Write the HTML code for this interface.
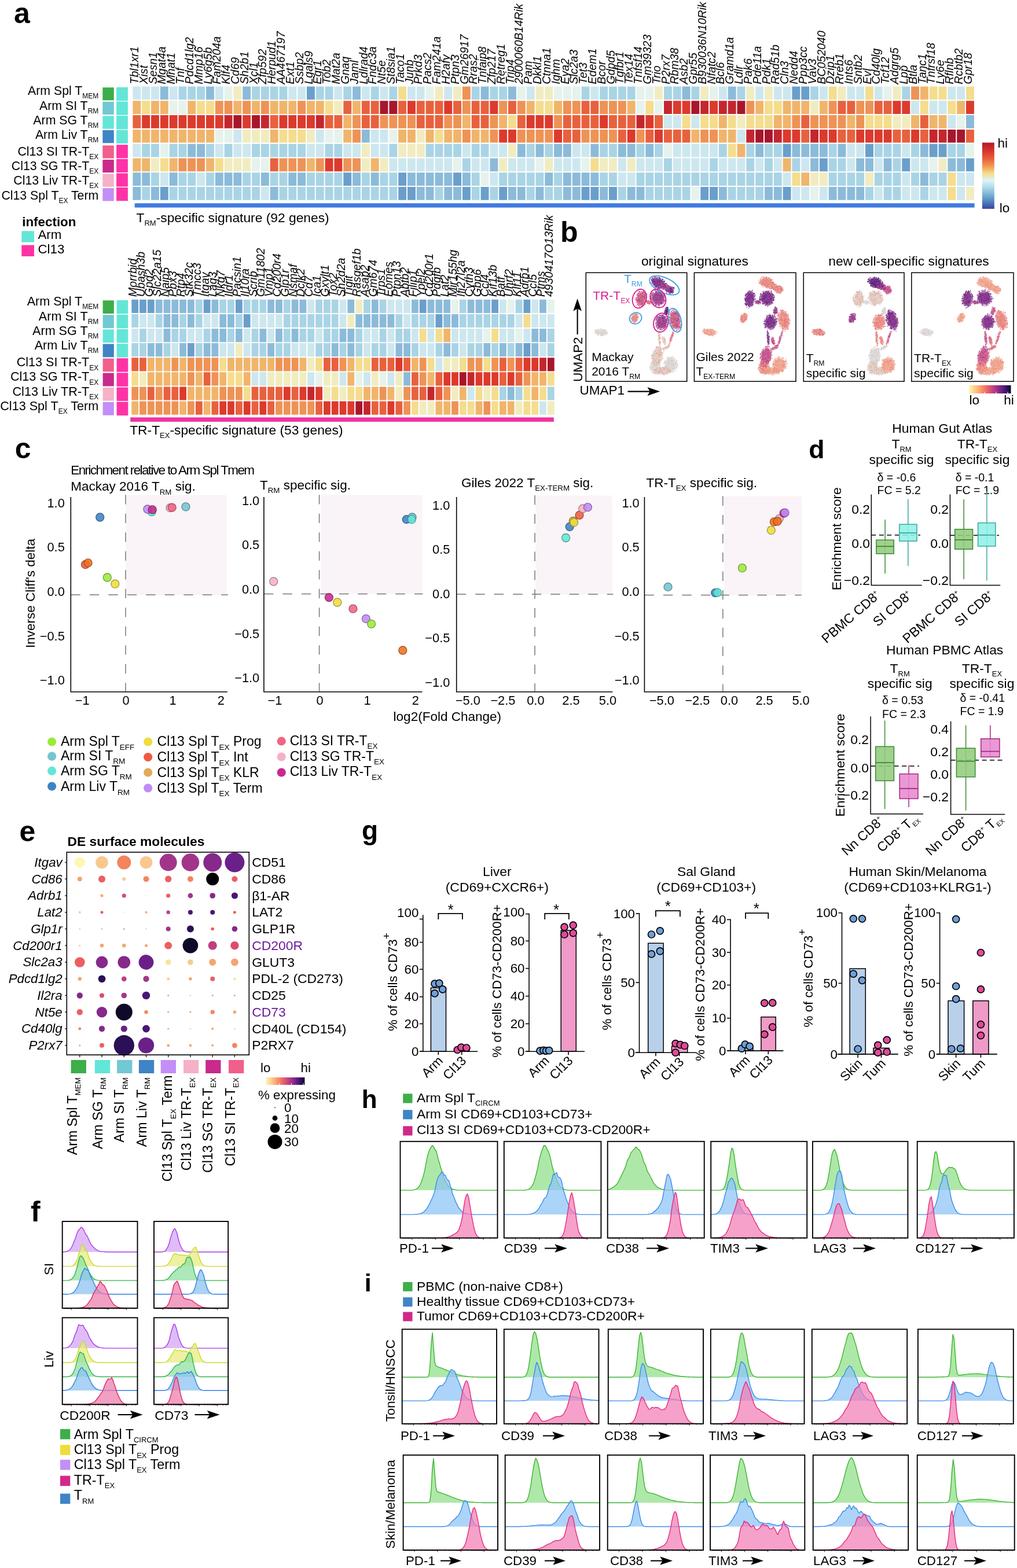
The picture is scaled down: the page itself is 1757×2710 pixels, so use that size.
<!DOCTYPE html>
<html lang="en"><head><meta charset="utf-8"><title>Figure</title>
<style>
html,body{margin:0;padding:0;background:#fff}
body{width:1757px;height:2710px;overflow:hidden}
svg{display:block;font-family:"Liberation Sans",sans-serif;font-size:21px;fill:#000}
</style></head><body>
<svg width="1757" height="2710" viewBox="0 0 1757 2710">
<g id="pa">
<text x="23.9" y="40.4" font-size="50" font-weight="bold">a</text>
<path fill="#6A9FCB" d="M530 149.5h13.9v22.7h-13.9zM1368.4 149.5h13.9v22.7h-13.9zM1384.3 149.5h13.9v22.7h-13.9zM1352.6 248.7h13.9v22.7h-13.9zM1495 248.7h13.9v22.7h-13.9zM1605.7 248.7h13.9v22.7h-13.9zM1621.6 248.7h13.9v22.7h-13.9zM1415.9 273.5h13.9v22.7h-13.9zM1558.3 273.5h13.9v22.7h-13.9zM1669 273.5h13.9v22.7h-13.9zM593.3 298.3h13.9v22.7h-13.9zM688.2 298.3h13.9v22.7h-13.9zM783.1 298.3h13.9v22.7h-13.9zM276.9 323.1h13.9v22.7h-13.9zM688.2 323.1h13.9v22.7h-13.9zM704 323.1h13.9v22.7h-13.9zM798.9 323.1h13.9v22.7h-13.9zM830.6 323.1h13.9v22.7h-13.9zM862.2 323.1h13.9v22.7h-13.9zM1004.6 323.1h13.9v22.7h-13.9zM1020.4 323.1h13.9v22.7h-13.9zM1052 323.1h13.9v22.7h-13.9zM1210.2 323.1h13.9v22.7h-13.9zM1226.1 323.1h13.9v22.7h-13.9zM1352.6 323.1h13.9v22.7h-13.9z"/>
<path fill="#8BBBD9" d="M276.9 149.5h13.9v22.7h-13.9zM356 149.5h13.9v22.7h-13.9zM419.2 149.5h13.9v22.7h-13.9zM609.1 149.5h13.9v22.7h-13.9zM830.6 149.5h13.9v22.7h-13.9zM878 149.5h13.9v22.7h-13.9zM1178.6 149.5h13.9v22.7h-13.9zM1257.7 149.5h13.9v22.7h-13.9zM1669 199.1h13.9v22.7h-13.9zM624.9 223.9h13.9v22.7h-13.9zM324.3 248.7h13.9v22.7h-13.9zM340.1 248.7h13.9v22.7h-13.9zM893.8 248.7h13.9v22.7h-13.9zM925.5 248.7h13.9v22.7h-13.9zM957.1 248.7h13.9v22.7h-13.9zM972.9 248.7h13.9v22.7h-13.9zM1020.4 248.7h13.9v22.7h-13.9zM1067.9 248.7h13.9v22.7h-13.9zM1083.7 248.7h13.9v22.7h-13.9zM1115.3 248.7h13.9v22.7h-13.9zM1305.2 248.7h13.9v22.7h-13.9zM1368.4 248.7h13.9v22.7h-13.9zM1384.3 248.7h13.9v22.7h-13.9zM1400.1 248.7h13.9v22.7h-13.9zM1415.9 248.7h13.9v22.7h-13.9zM1447.5 248.7h13.9v22.7h-13.9zM1589.9 248.7h13.9v22.7h-13.9zM846.4 273.5h13.9v22.7h-13.9zM1400.1 273.5h13.9v22.7h-13.9zM1479.2 273.5h13.9v22.7h-13.9zM1495 273.5h13.9v22.7h-13.9zM1526.6 273.5h13.9v22.7h-13.9zM1637.4 273.5h13.9v22.7h-13.9zM1653.2 273.5h13.9v22.7h-13.9zM229.4 298.3h13.9v22.7h-13.9zM245.2 298.3h13.9v22.7h-13.9zM292.7 298.3h13.9v22.7h-13.9zM371.8 298.3h13.9v22.7h-13.9zM387.6 298.3h13.9v22.7h-13.9zM403.4 298.3h13.9v22.7h-13.9zM450.9 298.3h13.9v22.7h-13.9zM498.3 298.3h13.9v22.7h-13.9zM514.2 298.3h13.9v22.7h-13.9zM609.1 298.3h13.9v22.7h-13.9zM640.7 298.3h13.9v22.7h-13.9zM704 298.3h13.9v22.7h-13.9zM719.8 298.3h13.9v22.7h-13.9zM735.6 298.3h13.9v22.7h-13.9zM751.5 298.3h13.9v22.7h-13.9zM767.3 298.3h13.9v22.7h-13.9zM798.9 298.3h13.9v22.7h-13.9zM941.3 298.3h13.9v22.7h-13.9zM972.9 298.3h13.9v22.7h-13.9zM988.8 298.3h13.9v22.7h-13.9zM1004.6 298.3h13.9v22.7h-13.9zM1020.4 298.3h13.9v22.7h-13.9zM1589.9 298.3h13.9v22.7h-13.9zM229.4 323.1h13.9v22.7h-13.9zM261 323.1h13.9v22.7h-13.9zM466.7 323.1h13.9v22.7h-13.9zM719.8 323.1h13.9v22.7h-13.9zM735.6 323.1h13.9v22.7h-13.9zM767.3 323.1h13.9v22.7h-13.9zM783.1 323.1h13.9v22.7h-13.9zM878 323.1h13.9v22.7h-13.9zM893.8 323.1h13.9v22.7h-13.9zM925.5 323.1h13.9v22.7h-13.9zM972.9 323.1h13.9v22.7h-13.9zM988.8 323.1h13.9v22.7h-13.9zM1036.2 323.1h13.9v22.7h-13.9zM1083.7 323.1h13.9v22.7h-13.9zM1099.5 323.1h13.9v22.7h-13.9zM1241.9 323.1h13.9v22.7h-13.9zM1321 323.1h13.9v22.7h-13.9zM1336.8 323.1h13.9v22.7h-13.9zM1431.7 323.1h13.9v22.7h-13.9zM1447.5 323.1h13.9v22.7h-13.9zM1463.4 323.1h13.9v22.7h-13.9zM1479.2 323.1h13.9v22.7h-13.9z"/>
<path fill="#A9D4E5" d="M308.5 149.5h13.9v22.7h-13.9zM324.3 149.5h13.9v22.7h-13.9zM340.1 149.5h13.9v22.7h-13.9zM435.1 149.5h13.9v22.7h-13.9zM450.9 149.5h13.9v22.7h-13.9zM466.7 149.5h13.9v22.7h-13.9zM482.5 149.5h13.9v22.7h-13.9zM545.8 149.5h13.9v22.7h-13.9zM561.6 149.5h13.9v22.7h-13.9zM593.3 149.5h13.9v22.7h-13.9zM640.7 149.5h13.9v22.7h-13.9zM672.4 149.5h13.9v22.7h-13.9zM814.7 149.5h13.9v22.7h-13.9zM846.4 149.5h13.9v22.7h-13.9zM862.2 149.5h13.9v22.7h-13.9zM1004.6 149.5h13.9v22.7h-13.9zM1036.2 149.5h13.9v22.7h-13.9zM1052 149.5h13.9v22.7h-13.9zM1067.9 149.5h13.9v22.7h-13.9zM1083.7 149.5h13.9v22.7h-13.9zM1147 149.5h13.9v22.7h-13.9zM1162.8 149.5h13.9v22.7h-13.9zM1194.4 149.5h13.9v22.7h-13.9zM1273.5 149.5h13.9v22.7h-13.9zM1400.1 149.5h13.9v22.7h-13.9zM1558.3 149.5h13.9v22.7h-13.9zM245.2 248.7h13.9v22.7h-13.9zM261 248.7h13.9v22.7h-13.9zM292.7 248.7h13.9v22.7h-13.9zM308.5 248.7h13.9v22.7h-13.9zM356 248.7h13.9v22.7h-13.9zM387.6 248.7h13.9v22.7h-13.9zM435.1 248.7h13.9v22.7h-13.9zM450.9 248.7h13.9v22.7h-13.9zM466.7 248.7h13.9v22.7h-13.9zM482.5 248.7h13.9v22.7h-13.9zM498.3 248.7h13.9v22.7h-13.9zM514.2 248.7h13.9v22.7h-13.9zM561.6 248.7h13.9v22.7h-13.9zM577.4 248.7h13.9v22.7h-13.9zM672.4 248.7h13.9v22.7h-13.9zM735.6 248.7h13.9v22.7h-13.9zM751.5 248.7h13.9v22.7h-13.9zM767.3 248.7h13.9v22.7h-13.9zM783.1 248.7h13.9v22.7h-13.9zM814.7 248.7h13.9v22.7h-13.9zM830.6 248.7h13.9v22.7h-13.9zM909.7 248.7h13.9v22.7h-13.9zM941.3 248.7h13.9v22.7h-13.9zM1036.2 248.7h13.9v22.7h-13.9zM1052 248.7h13.9v22.7h-13.9zM1099.5 248.7h13.9v22.7h-13.9zM1131.1 248.7h13.9v22.7h-13.9zM1241.9 248.7h13.9v22.7h-13.9zM1289.3 248.7h13.9v22.7h-13.9zM1321 248.7h13.9v22.7h-13.9zM1336.8 248.7h13.9v22.7h-13.9zM1431.7 248.7h13.9v22.7h-13.9zM1510.8 248.7h13.9v22.7h-13.9zM1526.6 248.7h13.9v22.7h-13.9zM1542.5 248.7h13.9v22.7h-13.9zM1574.1 248.7h13.9v22.7h-13.9zM1637.4 248.7h13.9v22.7h-13.9zM1653.2 248.7h13.9v22.7h-13.9zM798.9 273.5h13.9v22.7h-13.9zM1147 273.5h13.9v22.7h-13.9zM1226.1 273.5h13.9v22.7h-13.9zM1289.3 273.5h13.9v22.7h-13.9zM1321 273.5h13.9v22.7h-13.9zM1368.4 273.5h13.9v22.7h-13.9zM1431.7 273.5h13.9v22.7h-13.9zM1447.5 273.5h13.9v22.7h-13.9zM1542.5 273.5h13.9v22.7h-13.9zM261 298.3h13.9v22.7h-13.9zM308.5 298.3h13.9v22.7h-13.9zM324.3 298.3h13.9v22.7h-13.9zM356 298.3h13.9v22.7h-13.9zM419.2 298.3h13.9v22.7h-13.9zM435.1 298.3h13.9v22.7h-13.9zM466.7 298.3h13.9v22.7h-13.9zM482.5 298.3h13.9v22.7h-13.9zM530 298.3h13.9v22.7h-13.9zM545.8 298.3h13.9v22.7h-13.9zM561.6 298.3h13.9v22.7h-13.9zM577.4 298.3h13.9v22.7h-13.9zM624.9 298.3h13.9v22.7h-13.9zM656.5 298.3h13.9v22.7h-13.9zM672.4 298.3h13.9v22.7h-13.9zM814.7 298.3h13.9v22.7h-13.9zM862.2 298.3h13.9v22.7h-13.9zM878 298.3h13.9v22.7h-13.9zM893.8 298.3h13.9v22.7h-13.9zM909.7 298.3h13.9v22.7h-13.9zM925.5 298.3h13.9v22.7h-13.9zM957.1 298.3h13.9v22.7h-13.9zM1036.2 298.3h13.9v22.7h-13.9zM1052 298.3h13.9v22.7h-13.9zM1099.5 298.3h13.9v22.7h-13.9zM1115.3 298.3h13.9v22.7h-13.9zM1131.1 298.3h13.9v22.7h-13.9zM1147 298.3h13.9v22.7h-13.9zM1162.8 298.3h13.9v22.7h-13.9zM1178.6 298.3h13.9v22.7h-13.9zM1194.4 298.3h13.9v22.7h-13.9zM1210.2 298.3h13.9v22.7h-13.9zM1226.1 298.3h13.9v22.7h-13.9zM1241.9 298.3h13.9v22.7h-13.9zM1257.7 298.3h13.9v22.7h-13.9zM1273.5 298.3h13.9v22.7h-13.9zM1289.3 298.3h13.9v22.7h-13.9zM1305.2 298.3h13.9v22.7h-13.9zM1321 298.3h13.9v22.7h-13.9zM1336.8 298.3h13.9v22.7h-13.9zM1431.7 298.3h13.9v22.7h-13.9zM1447.5 298.3h13.9v22.7h-13.9zM1463.4 298.3h13.9v22.7h-13.9zM1479.2 298.3h13.9v22.7h-13.9zM1510.8 298.3h13.9v22.7h-13.9zM1526.6 298.3h13.9v22.7h-13.9zM1542.5 298.3h13.9v22.7h-13.9zM1574.1 298.3h13.9v22.7h-13.9zM1605.7 298.3h13.9v22.7h-13.9zM1621.6 298.3h13.9v22.7h-13.9zM245.2 323.1h13.9v22.7h-13.9zM292.7 323.1h13.9v22.7h-13.9zM308.5 323.1h13.9v22.7h-13.9zM324.3 323.1h13.9v22.7h-13.9zM340.1 323.1h13.9v22.7h-13.9zM356 323.1h13.9v22.7h-13.9zM371.8 323.1h13.9v22.7h-13.9zM387.6 323.1h13.9v22.7h-13.9zM403.4 323.1h13.9v22.7h-13.9zM419.2 323.1h13.9v22.7h-13.9zM435.1 323.1h13.9v22.7h-13.9zM482.5 323.1h13.9v22.7h-13.9zM498.3 323.1h13.9v22.7h-13.9zM514.2 323.1h13.9v22.7h-13.9zM530 323.1h13.9v22.7h-13.9zM545.8 323.1h13.9v22.7h-13.9zM561.6 323.1h13.9v22.7h-13.9zM577.4 323.1h13.9v22.7h-13.9zM593.3 323.1h13.9v22.7h-13.9zM609.1 323.1h13.9v22.7h-13.9zM624.9 323.1h13.9v22.7h-13.9zM640.7 323.1h13.9v22.7h-13.9zM656.5 323.1h13.9v22.7h-13.9zM672.4 323.1h13.9v22.7h-13.9zM751.5 323.1h13.9v22.7h-13.9zM814.7 323.1h13.9v22.7h-13.9zM846.4 323.1h13.9v22.7h-13.9zM909.7 323.1h13.9v22.7h-13.9zM941.3 323.1h13.9v22.7h-13.9zM957.1 323.1h13.9v22.7h-13.9zM1067.9 323.1h13.9v22.7h-13.9zM1115.3 323.1h13.9v22.7h-13.9zM1131.1 323.1h13.9v22.7h-13.9zM1147 323.1h13.9v22.7h-13.9zM1162.8 323.1h13.9v22.7h-13.9zM1178.6 323.1h13.9v22.7h-13.9zM1257.7 323.1h13.9v22.7h-13.9zM1273.5 323.1h13.9v22.7h-13.9zM1289.3 323.1h13.9v22.7h-13.9zM1305.2 323.1h13.9v22.7h-13.9zM1495 323.1h13.9v22.7h-13.9zM1526.6 323.1h13.9v22.7h-13.9zM1542.5 323.1h13.9v22.7h-13.9zM1589.9 323.1h13.9v22.7h-13.9z"/>
<path fill="#CDE7EF" d="M229.4 149.5h13.9v22.7h-13.9zM245.2 149.5h13.9v22.7h-13.9zM261 149.5h13.9v22.7h-13.9zM292.7 149.5h13.9v22.7h-13.9zM371.8 149.5h13.9v22.7h-13.9zM498.3 149.5h13.9v22.7h-13.9zM514.2 149.5h13.9v22.7h-13.9zM577.4 149.5h13.9v22.7h-13.9zM624.9 149.5h13.9v22.7h-13.9zM656.5 149.5h13.9v22.7h-13.9zM704 149.5h13.9v22.7h-13.9zM719.8 149.5h13.9v22.7h-13.9zM767.3 149.5h13.9v22.7h-13.9zM909.7 149.5h13.9v22.7h-13.9zM1020.4 149.5h13.9v22.7h-13.9zM1241.9 149.5h13.9v22.7h-13.9zM1305.2 149.5h13.9v22.7h-13.9zM1336.8 149.5h13.9v22.7h-13.9zM1352.6 149.5h13.9v22.7h-13.9zM1415.9 149.5h13.9v22.7h-13.9zM1463.4 149.5h13.9v22.7h-13.9zM1479.2 149.5h13.9v22.7h-13.9zM1510.8 149.5h13.9v22.7h-13.9zM1637.4 149.5h13.9v22.7h-13.9zM1653.2 149.5h13.9v22.7h-13.9zM1574.1 174.3h13.9v22.7h-13.9zM1605.7 174.3h13.9v22.7h-13.9zM1621.6 174.3h13.9v22.7h-13.9zM1147 199.1h13.9v22.7h-13.9zM1162.8 199.1h13.9v22.7h-13.9zM1194.4 199.1h13.9v22.7h-13.9zM1637.4 199.1h13.9v22.7h-13.9zM403.4 223.9h13.9v22.7h-13.9zM545.8 223.9h13.9v22.7h-13.9zM640.7 223.9h13.9v22.7h-13.9zM656.5 223.9h13.9v22.7h-13.9zM1273.5 223.9h13.9v22.7h-13.9zM229.4 248.7h13.9v22.7h-13.9zM371.8 248.7h13.9v22.7h-13.9zM403.4 248.7h13.9v22.7h-13.9zM419.2 248.7h13.9v22.7h-13.9zM530 248.7h13.9v22.7h-13.9zM545.8 248.7h13.9v22.7h-13.9zM593.3 248.7h13.9v22.7h-13.9zM609.1 248.7h13.9v22.7h-13.9zM640.7 248.7h13.9v22.7h-13.9zM656.5 248.7h13.9v22.7h-13.9zM798.9 248.7h13.9v22.7h-13.9zM846.4 248.7h13.9v22.7h-13.9zM862.2 248.7h13.9v22.7h-13.9zM988.8 248.7h13.9v22.7h-13.9zM1004.6 248.7h13.9v22.7h-13.9zM1162.8 248.7h13.9v22.7h-13.9zM1178.6 248.7h13.9v22.7h-13.9zM1194.4 248.7h13.9v22.7h-13.9zM1210.2 248.7h13.9v22.7h-13.9zM1226.1 248.7h13.9v22.7h-13.9zM1463.4 248.7h13.9v22.7h-13.9zM1479.2 248.7h13.9v22.7h-13.9zM1558.3 248.7h13.9v22.7h-13.9zM672.4 273.5h13.9v22.7h-13.9zM688.2 273.5h13.9v22.7h-13.9zM704 273.5h13.9v22.7h-13.9zM719.8 273.5h13.9v22.7h-13.9zM735.6 273.5h13.9v22.7h-13.9zM751.5 273.5h13.9v22.7h-13.9zM767.3 273.5h13.9v22.7h-13.9zM814.7 273.5h13.9v22.7h-13.9zM830.6 273.5h13.9v22.7h-13.9zM878 273.5h13.9v22.7h-13.9zM893.8 273.5h13.9v22.7h-13.9zM909.7 273.5h13.9v22.7h-13.9zM957.1 273.5h13.9v22.7h-13.9zM972.9 273.5h13.9v22.7h-13.9zM988.8 273.5h13.9v22.7h-13.9zM1067.9 273.5h13.9v22.7h-13.9zM1099.5 273.5h13.9v22.7h-13.9zM1115.3 273.5h13.9v22.7h-13.9zM1131.1 273.5h13.9v22.7h-13.9zM1162.8 273.5h13.9v22.7h-13.9zM1178.6 273.5h13.9v22.7h-13.9zM1194.4 273.5h13.9v22.7h-13.9zM1210.2 273.5h13.9v22.7h-13.9zM1241.9 273.5h13.9v22.7h-13.9zM1257.7 273.5h13.9v22.7h-13.9zM1273.5 273.5h13.9v22.7h-13.9zM1305.2 273.5h13.9v22.7h-13.9zM1336.8 273.5h13.9v22.7h-13.9zM1384.3 273.5h13.9v22.7h-13.9zM1463.4 273.5h13.9v22.7h-13.9zM1510.8 273.5h13.9v22.7h-13.9zM1574.1 273.5h13.9v22.7h-13.9zM1589.9 273.5h13.9v22.7h-13.9zM276.9 298.3h13.9v22.7h-13.9zM340.1 298.3h13.9v22.7h-13.9zM846.4 298.3h13.9v22.7h-13.9zM1067.9 298.3h13.9v22.7h-13.9zM1083.7 298.3h13.9v22.7h-13.9zM1352.6 298.3h13.9v22.7h-13.9zM1558.3 298.3h13.9v22.7h-13.9zM1653.2 298.3h13.9v22.7h-13.9zM1669 298.3h13.9v22.7h-13.9zM450.9 323.1h13.9v22.7h-13.9zM1368.4 323.1h13.9v22.7h-13.9zM1384.3 323.1h13.9v22.7h-13.9zM1415.9 323.1h13.9v22.7h-13.9zM1510.8 323.1h13.9v22.7h-13.9zM1558.3 323.1h13.9v22.7h-13.9zM1574.1 323.1h13.9v22.7h-13.9zM1605.7 323.1h13.9v22.7h-13.9zM1621.6 323.1h13.9v22.7h-13.9zM1653.2 323.1h13.9v22.7h-13.9z"/>
<path fill="#E6F2EC" d="M387.6 149.5h13.9v22.7h-13.9zM735.6 149.5h13.9v22.7h-13.9zM893.8 149.5h13.9v22.7h-13.9zM957.1 149.5h13.9v22.7h-13.9zM972.9 149.5h13.9v22.7h-13.9zM988.8 149.5h13.9v22.7h-13.9zM1099.5 149.5h13.9v22.7h-13.9zM1115.3 149.5h13.9v22.7h-13.9zM1226.1 149.5h13.9v22.7h-13.9zM1526.6 149.5h13.9v22.7h-13.9zM292.7 174.3h13.9v22.7h-13.9zM308.5 174.3h13.9v22.7h-13.9zM1099.5 174.3h13.9v22.7h-13.9zM1131.1 174.3h13.9v22.7h-13.9zM1653.2 199.1h13.9v22.7h-13.9zM371.8 223.9h13.9v22.7h-13.9zM387.6 223.9h13.9v22.7h-13.9zM561.6 223.9h13.9v22.7h-13.9zM577.4 223.9h13.9v22.7h-13.9zM672.4 223.9h13.9v22.7h-13.9zM276.9 248.7h13.9v22.7h-13.9zM1147 248.7h13.9v22.7h-13.9zM1669 248.7h13.9v22.7h-13.9zM435.1 273.5h13.9v22.7h-13.9zM450.9 273.5h13.9v22.7h-13.9zM783.1 273.5h13.9v22.7h-13.9zM925.5 273.5h13.9v22.7h-13.9zM1004.6 273.5h13.9v22.7h-13.9zM1605.7 273.5h13.9v22.7h-13.9zM830.6 298.3h13.9v22.7h-13.9zM1194.4 323.1h13.9v22.7h-13.9zM1400.1 323.1h13.9v22.7h-13.9z"/>
<path fill="#F1ECC0" d="M403.4 149.5h13.9v22.7h-13.9zM751.5 149.5h13.9v22.7h-13.9zM783.1 149.5h13.9v22.7h-13.9zM925.5 149.5h13.9v22.7h-13.9zM941.3 149.5h13.9v22.7h-13.9zM1131.1 149.5h13.9v22.7h-13.9zM1210.2 149.5h13.9v22.7h-13.9zM1289.3 149.5h13.9v22.7h-13.9zM1321 149.5h13.9v22.7h-13.9zM1447.5 149.5h13.9v22.7h-13.9zM1542.5 149.5h13.9v22.7h-13.9zM577.4 174.3h13.9v22.7h-13.9zM1400.1 174.3h13.9v22.7h-13.9zM1273.5 199.1h13.9v22.7h-13.9zM1542.5 199.1h13.9v22.7h-13.9zM1558.3 199.1h13.9v22.7h-13.9zM419.2 223.9h13.9v22.7h-13.9zM435.1 223.9h13.9v22.7h-13.9zM450.9 223.9h13.9v22.7h-13.9zM530 223.9h13.9v22.7h-13.9zM719.8 223.9h13.9v22.7h-13.9zM624.9 248.7h13.9v22.7h-13.9zM688.2 248.7h13.9v22.7h-13.9zM704 248.7h13.9v22.7h-13.9zM719.8 248.7h13.9v22.7h-13.9zM878 248.7h13.9v22.7h-13.9zM261 273.5h13.9v22.7h-13.9zM387.6 273.5h13.9v22.7h-13.9zM403.4 273.5h13.9v22.7h-13.9zM419.2 273.5h13.9v22.7h-13.9zM624.9 273.5h13.9v22.7h-13.9zM656.5 273.5h13.9v22.7h-13.9zM862.2 273.5h13.9v22.7h-13.9zM941.3 273.5h13.9v22.7h-13.9zM1036.2 273.5h13.9v22.7h-13.9zM1052 273.5h13.9v22.7h-13.9zM1083.7 273.5h13.9v22.7h-13.9zM1621.6 273.5h13.9v22.7h-13.9zM1400.1 298.3h13.9v22.7h-13.9zM1415.9 298.3h13.9v22.7h-13.9zM1495 298.3h13.9v22.7h-13.9zM1669 323.1h13.9v22.7h-13.9z"/>
<path fill="#F4DD8E" d="M688.2 149.5h13.9v22.7h-13.9zM1431.7 149.5h13.9v22.7h-13.9zM1495 149.5h13.9v22.7h-13.9zM1605.7 149.5h13.9v22.7h-13.9zM1621.6 149.5h13.9v22.7h-13.9zM1669 149.5h13.9v22.7h-13.9zM245.2 174.3h13.9v22.7h-13.9zM340.1 174.3h13.9v22.7h-13.9zM356 174.3h13.9v22.7h-13.9zM561.6 174.3h13.9v22.7h-13.9zM925.5 174.3h13.9v22.7h-13.9zM941.3 174.3h13.9v22.7h-13.9zM1115.3 174.3h13.9v22.7h-13.9zM1321 174.3h13.9v22.7h-13.9zM1336.8 174.3h13.9v22.7h-13.9zM1589.9 174.3h13.9v22.7h-13.9zM1637.4 174.3h13.9v22.7h-13.9zM878 199.1h13.9v22.7h-13.9zM1178.6 199.1h13.9v22.7h-13.9zM1210.2 199.1h13.9v22.7h-13.9zM1226.1 199.1h13.9v22.7h-13.9zM1257.7 199.1h13.9v22.7h-13.9zM1289.3 199.1h13.9v22.7h-13.9zM1305.2 199.1h13.9v22.7h-13.9zM1321 199.1h13.9v22.7h-13.9zM1495 199.1h13.9v22.7h-13.9zM1510.8 199.1h13.9v22.7h-13.9zM1526.6 199.1h13.9v22.7h-13.9zM482.5 223.9h13.9v22.7h-13.9zM498.3 223.9h13.9v22.7h-13.9zM514.2 223.9h13.9v22.7h-13.9zM751.5 223.9h13.9v22.7h-13.9zM1257.7 248.7h13.9v22.7h-13.9zM276.9 273.5h13.9v22.7h-13.9zM371.8 273.5h13.9v22.7h-13.9zM1020.4 273.5h13.9v22.7h-13.9zM1368.4 298.3h13.9v22.7h-13.9zM1637.4 298.3h13.9v22.7h-13.9zM1637.4 323.1h13.9v22.7h-13.9z"/>
<path fill="#F0B56B" d="M1589.9 149.5h13.9v22.7h-13.9zM229.4 174.3h13.9v22.7h-13.9zM261 174.3h13.9v22.7h-13.9zM276.9 174.3h13.9v22.7h-13.9zM324.3 174.3h13.9v22.7h-13.9zM403.4 174.3h13.9v22.7h-13.9zM435.1 174.3h13.9v22.7h-13.9zM466.7 174.3h13.9v22.7h-13.9zM482.5 174.3h13.9v22.7h-13.9zM498.3 174.3h13.9v22.7h-13.9zM530 174.3h13.9v22.7h-13.9zM545.8 174.3h13.9v22.7h-13.9zM609.1 174.3h13.9v22.7h-13.9zM909.7 174.3h13.9v22.7h-13.9zM957.1 174.3h13.9v22.7h-13.9zM1083.7 174.3h13.9v22.7h-13.9zM1305.2 174.3h13.9v22.7h-13.9zM1352.6 174.3h13.9v22.7h-13.9zM1368.4 174.3h13.9v22.7h-13.9zM1384.3 174.3h13.9v22.7h-13.9zM1415.9 174.3h13.9v22.7h-13.9zM1653.2 174.3h13.9v22.7h-13.9zM593.3 199.1h13.9v22.7h-13.9zM798.9 199.1h13.9v22.7h-13.9zM862.2 199.1h13.9v22.7h-13.9zM1241.9 199.1h13.9v22.7h-13.9zM1336.8 199.1h13.9v22.7h-13.9zM1352.6 199.1h13.9v22.7h-13.9zM1463.4 199.1h13.9v22.7h-13.9zM1574.1 199.1h13.9v22.7h-13.9zM1605.7 199.1h13.9v22.7h-13.9zM1621.6 199.1h13.9v22.7h-13.9zM229.4 223.9h13.9v22.7h-13.9zM245.2 223.9h13.9v22.7h-13.9zM261 223.9h13.9v22.7h-13.9zM276.9 223.9h13.9v22.7h-13.9zM292.7 223.9h13.9v22.7h-13.9zM308.5 223.9h13.9v22.7h-13.9zM324.3 223.9h13.9v22.7h-13.9zM340.1 223.9h13.9v22.7h-13.9zM356 223.9h13.9v22.7h-13.9zM466.7 223.9h13.9v22.7h-13.9zM593.3 223.9h13.9v22.7h-13.9zM688.2 223.9h13.9v22.7h-13.9zM704 223.9h13.9v22.7h-13.9zM735.6 223.9h13.9v22.7h-13.9zM767.3 223.9h13.9v22.7h-13.9zM783.1 223.9h13.9v22.7h-13.9zM814.7 223.9h13.9v22.7h-13.9zM830.6 223.9h13.9v22.7h-13.9zM1194.4 223.9h13.9v22.7h-13.9zM1241.9 223.9h13.9v22.7h-13.9zM1257.7 223.9h13.9v22.7h-13.9zM1273.5 248.7h13.9v22.7h-13.9zM229.4 273.5h13.9v22.7h-13.9zM245.2 273.5h13.9v22.7h-13.9zM292.7 273.5h13.9v22.7h-13.9zM356 273.5h13.9v22.7h-13.9zM530 273.5h13.9v22.7h-13.9zM640.7 273.5h13.9v22.7h-13.9zM1352.6 273.5h13.9v22.7h-13.9zM1384.3 298.3h13.9v22.7h-13.9z"/>
<path fill="#EE9356" d="M798.9 149.5h13.9v22.7h-13.9zM1574.1 149.5h13.9v22.7h-13.9zM371.8 174.3h13.9v22.7h-13.9zM387.6 174.3h13.9v22.7h-13.9zM419.2 174.3h13.9v22.7h-13.9zM450.9 174.3h13.9v22.7h-13.9zM514.2 174.3h13.9v22.7h-13.9zM798.9 174.3h13.9v22.7h-13.9zM862.2 174.3h13.9v22.7h-13.9zM893.8 174.3h13.9v22.7h-13.9zM972.9 174.3h13.9v22.7h-13.9zM988.8 174.3h13.9v22.7h-13.9zM1036.2 174.3h13.9v22.7h-13.9zM1052 174.3h13.9v22.7h-13.9zM1067.9 174.3h13.9v22.7h-13.9zM1289.3 174.3h13.9v22.7h-13.9zM1431.7 174.3h13.9v22.7h-13.9zM1479.2 174.3h13.9v22.7h-13.9zM1495 174.3h13.9v22.7h-13.9zM609.1 199.1h13.9v22.7h-13.9zM656.5 199.1h13.9v22.7h-13.9zM672.4 199.1h13.9v22.7h-13.9zM688.2 199.1h13.9v22.7h-13.9zM704 199.1h13.9v22.7h-13.9zM767.3 199.1h13.9v22.7h-13.9zM783.1 199.1h13.9v22.7h-13.9zM846.4 199.1h13.9v22.7h-13.9zM957.1 199.1h13.9v22.7h-13.9zM1368.4 199.1h13.9v22.7h-13.9zM1400.1 199.1h13.9v22.7h-13.9zM1415.9 199.1h13.9v22.7h-13.9zM1431.7 199.1h13.9v22.7h-13.9zM1447.5 199.1h13.9v22.7h-13.9zM1479.2 199.1h13.9v22.7h-13.9zM609.1 223.9h13.9v22.7h-13.9zM798.9 223.9h13.9v22.7h-13.9zM846.4 223.9h13.9v22.7h-13.9zM893.8 223.9h13.9v22.7h-13.9zM909.7 223.9h13.9v22.7h-13.9zM925.5 223.9h13.9v22.7h-13.9zM941.3 223.9h13.9v22.7h-13.9zM1004.6 223.9h13.9v22.7h-13.9zM1020.4 223.9h13.9v22.7h-13.9zM1036.2 223.9h13.9v22.7h-13.9zM1052 223.9h13.9v22.7h-13.9zM1099.5 223.9h13.9v22.7h-13.9zM1210.2 223.9h13.9v22.7h-13.9zM1226.1 223.9h13.9v22.7h-13.9zM308.5 273.5h13.9v22.7h-13.9zM324.3 273.5h13.9v22.7h-13.9zM340.1 273.5h13.9v22.7h-13.9zM482.5 273.5h13.9v22.7h-13.9zM498.3 273.5h13.9v22.7h-13.9zM514.2 273.5h13.9v22.7h-13.9zM545.8 273.5h13.9v22.7h-13.9zM593.3 273.5h13.9v22.7h-13.9zM609.1 273.5h13.9v22.7h-13.9z"/>
<path fill="#E8613E" d="M593.3 174.3h13.9v22.7h-13.9zM624.9 174.3h13.9v22.7h-13.9zM640.7 174.3h13.9v22.7h-13.9zM688.2 174.3h13.9v22.7h-13.9zM719.8 174.3h13.9v22.7h-13.9zM735.6 174.3h13.9v22.7h-13.9zM751.5 174.3h13.9v22.7h-13.9zM783.1 174.3h13.9v22.7h-13.9zM814.7 174.3h13.9v22.7h-13.9zM830.6 174.3h13.9v22.7h-13.9zM878 174.3h13.9v22.7h-13.9zM1004.6 174.3h13.9v22.7h-13.9zM1020.4 174.3h13.9v22.7h-13.9zM1447.5 174.3h13.9v22.7h-13.9zM1463.4 174.3h13.9v22.7h-13.9zM1510.8 174.3h13.9v22.7h-13.9zM1526.6 174.3h13.9v22.7h-13.9zM229.4 199.1h13.9v22.7h-13.9zM466.7 199.1h13.9v22.7h-13.9zM561.6 199.1h13.9v22.7h-13.9zM577.4 199.1h13.9v22.7h-13.9zM624.9 199.1h13.9v22.7h-13.9zM640.7 199.1h13.9v22.7h-13.9zM719.8 199.1h13.9v22.7h-13.9zM735.6 199.1h13.9v22.7h-13.9zM751.5 199.1h13.9v22.7h-13.9zM814.7 199.1h13.9v22.7h-13.9zM830.6 199.1h13.9v22.7h-13.9zM893.8 199.1h13.9v22.7h-13.9zM972.9 199.1h13.9v22.7h-13.9zM988.8 199.1h13.9v22.7h-13.9zM1004.6 199.1h13.9v22.7h-13.9zM1020.4 199.1h13.9v22.7h-13.9zM1052 199.1h13.9v22.7h-13.9zM1067.9 199.1h13.9v22.7h-13.9zM1083.7 199.1h13.9v22.7h-13.9zM1131.1 199.1h13.9v22.7h-13.9zM1384.3 199.1h13.9v22.7h-13.9zM1589.9 199.1h13.9v22.7h-13.9zM972.9 223.9h13.9v22.7h-13.9zM988.8 223.9h13.9v22.7h-13.9zM1067.9 223.9h13.9v22.7h-13.9zM1115.3 223.9h13.9v22.7h-13.9zM1147 223.9h13.9v22.7h-13.9zM1162.8 223.9h13.9v22.7h-13.9zM1178.6 223.9h13.9v22.7h-13.9zM1384.3 223.9h13.9v22.7h-13.9zM1447.5 223.9h13.9v22.7h-13.9zM1463.4 223.9h13.9v22.7h-13.9zM1542.5 223.9h13.9v22.7h-13.9zM1558.3 223.9h13.9v22.7h-13.9zM1589.9 223.9h13.9v22.7h-13.9zM1669 223.9h13.9v22.7h-13.9zM466.7 273.5h13.9v22.7h-13.9z"/>
<path fill="#DC3A2D" d="M704 174.3h13.9v22.7h-13.9zM767.3 174.3h13.9v22.7h-13.9zM846.4 174.3h13.9v22.7h-13.9zM1162.8 174.3h13.9v22.7h-13.9zM1178.6 174.3h13.9v22.7h-13.9zM1226.1 174.3h13.9v22.7h-13.9zM1542.5 174.3h13.9v22.7h-13.9zM1558.3 174.3h13.9v22.7h-13.9zM1669 174.3h13.9v22.7h-13.9zM245.2 199.1h13.9v22.7h-13.9zM261 199.1h13.9v22.7h-13.9zM276.9 199.1h13.9v22.7h-13.9zM292.7 199.1h13.9v22.7h-13.9zM308.5 199.1h13.9v22.7h-13.9zM324.3 199.1h13.9v22.7h-13.9zM340.1 199.1h13.9v22.7h-13.9zM356 199.1h13.9v22.7h-13.9zM371.8 199.1h13.9v22.7h-13.9zM419.2 199.1h13.9v22.7h-13.9zM482.5 199.1h13.9v22.7h-13.9zM498.3 199.1h13.9v22.7h-13.9zM514.2 199.1h13.9v22.7h-13.9zM530 199.1h13.9v22.7h-13.9zM909.7 199.1h13.9v22.7h-13.9zM925.5 199.1h13.9v22.7h-13.9zM941.3 199.1h13.9v22.7h-13.9zM1036.2 199.1h13.9v22.7h-13.9zM1115.3 199.1h13.9v22.7h-13.9zM862.2 223.9h13.9v22.7h-13.9zM878 223.9h13.9v22.7h-13.9zM957.1 223.9h13.9v22.7h-13.9zM1083.7 223.9h13.9v22.7h-13.9zM1131.1 223.9h13.9v22.7h-13.9zM1352.6 223.9h13.9v22.7h-13.9zM1368.4 223.9h13.9v22.7h-13.9zM1415.9 223.9h13.9v22.7h-13.9zM1431.7 223.9h13.9v22.7h-13.9zM1479.2 223.9h13.9v22.7h-13.9zM1495 223.9h13.9v22.7h-13.9zM1510.8 223.9h13.9v22.7h-13.9zM1526.6 223.9h13.9v22.7h-13.9zM1574.1 223.9h13.9v22.7h-13.9zM561.6 273.5h13.9v22.7h-13.9zM577.4 273.5h13.9v22.7h-13.9z"/>
<path fill="#C4262E" d="M1147 174.3h13.9v22.7h-13.9zM1210.2 174.3h13.9v22.7h-13.9zM1241.9 174.3h13.9v22.7h-13.9zM1257.7 174.3h13.9v22.7h-13.9zM387.6 199.1h13.9v22.7h-13.9zM450.9 199.1h13.9v22.7h-13.9zM545.8 199.1h13.9v22.7h-13.9zM1099.5 199.1h13.9v22.7h-13.9zM1289.3 223.9h13.9v22.7h-13.9zM1336.8 223.9h13.9v22.7h-13.9zM1400.1 223.9h13.9v22.7h-13.9zM1605.7 223.9h13.9v22.7h-13.9zM1621.6 223.9h13.9v22.7h-13.9z"/>
<path fill="#A8162B" d="M656.5 174.3h13.9v22.7h-13.9zM672.4 174.3h13.9v22.7h-13.9zM1194.4 174.3h13.9v22.7h-13.9zM1273.5 174.3h13.9v22.7h-13.9zM403.4 199.1h13.9v22.7h-13.9zM435.1 199.1h13.9v22.7h-13.9zM1305.2 223.9h13.9v22.7h-13.9zM1321 223.9h13.9v22.7h-13.9zM1637.4 223.9h13.9v22.7h-13.9zM1653.2 223.9h13.9v22.7h-13.9z"/>
<g font-size="20.8" font-style="italic">
<text transform="translate(238.9 145.5) rotate(-90) scale(0.94 1)">Tbl1xr1</text>
<text transform="translate(254.8 145.5) rotate(-90) scale(0.94 1)">Xist</text>
<text transform="translate(270.6 145.5) rotate(-90) scale(0.94 1)">Sesn1</text>
<text transform="translate(286.4 145.5) rotate(-90) scale(0.94 1)">Mgat4a</text>
<text transform="translate(302.2 145.5) rotate(-90) scale(0.94 1)">Mnat1</text>
<text transform="translate(318.1 145.5) rotate(-90) scale(0.94 1)">Tnf</text>
<text transform="translate(333.9 145.5) rotate(-90) scale(0.94 1)">Pdcd1lg2</text>
<text transform="translate(349.7 145.5) rotate(-90) scale(0.94 1)">Mmp16</text>
<text transform="translate(365.5 145.5) rotate(-90) scale(0.94 1)">Ly6g5b</text>
<text transform="translate(381.3 145.5) rotate(-90) scale(0.94 1)">Fam204a</text>
<text transform="translate(397.2 145.5) rotate(-90) scale(0.94 1)">Klf4</text>
<text transform="translate(413 145.5) rotate(-90) scale(0.94 1)">Cd69</text>
<text transform="translate(428.8 145.5) rotate(-90) scale(0.94 1)">Sh2b1</text>
<text transform="translate(444.6 145.5) rotate(-90) scale(0.94 1)">Xcl1</text>
<text transform="translate(460.4 145.5) rotate(-90) scale(0.94 1)">Zfp592</text>
<text transform="translate(476.3 145.5) rotate(-90) scale(0.94 1)">Herpud1</text>
<text transform="translate(492.1 145.5) rotate(-90) scale(0.94 1)">AA467197</text>
<text transform="translate(507.9 145.5) rotate(-90) scale(0.94 1)">Ext1</text>
<text transform="translate(523.7 145.5) rotate(-90) scale(0.94 1)">Ssbp2</text>
<text transform="translate(539.5 145.5) rotate(-90) scale(0.94 1)">Lgals9</text>
<text transform="translate(555.4 145.5) rotate(-90) scale(0.94 1)">Egr1</text>
<text transform="translate(571.2 145.5) rotate(-90) scale(0.94 1)">Tob2</text>
<text transform="translate(587 145.5) rotate(-90) scale(0.94 1)">Mat2a</text>
<text transform="translate(602.8 145.5) rotate(-90) scale(0.94 1)">Gnaq</text>
<text transform="translate(618.6 145.5) rotate(-90) scale(0.94 1)">Jaml</text>
<text transform="translate(634.5 145.5) rotate(-90) scale(0.94 1)">Ldlrad4</text>
<text transform="translate(650.3 145.5) rotate(-90) scale(0.94 1)">Fndc3a</text>
<text transform="translate(666.1 145.5) rotate(-90) scale(0.94 1)">Nt5e</text>
<text transform="translate(681.9 145.5) rotate(-90) scale(0.94 1)">St8sia1</text>
<text transform="translate(697.7 145.5) rotate(-90) scale(0.94 1)">Taco1</text>
<text transform="translate(713.6 145.5) rotate(-90) scale(0.94 1)">Junb</text>
<text transform="translate(729.4 145.5) rotate(-90) scale(0.94 1)">Prkd3</text>
<text transform="translate(745.2 145.5) rotate(-90) scale(0.94 1)">Pacs2</text>
<text transform="translate(761 145.5) rotate(-90) scale(0.94 1)">Fam241a</text>
<text transform="translate(776.8 145.5) rotate(-90) scale(0.94 1)">H2afy</text>
<text transform="translate(792.7 145.5) rotate(-90) scale(0.94 1)">Ptpn3</text>
<text transform="translate(808.5 145.5) rotate(-90) scale(0.94 1)">Gm26917</text>
<text transform="translate(824.3 145.5) rotate(-90) scale(0.94 1)">Rras2</text>
<text transform="translate(840.1 145.5) rotate(-90) scale(0.94 1)">Tnfaip8</text>
<text transform="translate(855.9 145.5) rotate(-90) scale(0.94 1)">Zfp217</text>
<text transform="translate(871.8 145.5) rotate(-90) scale(0.94 1)">Retreg1</text>
<text transform="translate(887.6 145.5) rotate(-90) scale(0.94 1)">Trip4</text>
<text transform="translate(903.4 145.5) rotate(-90) scale(0.94 1)">2900060B14Rik</text>
<text transform="translate(919.2 145.5) rotate(-90) scale(0.94 1)">Pam</text>
<text transform="translate(935 145.5) rotate(-90) scale(0.94 1)">Dkkl1</text>
<text transform="translate(950.9 145.5) rotate(-90) scale(0.94 1)">Ctnna1</text>
<text transform="translate(966.7 145.5) rotate(-90) scale(0.94 1)">Ighm</text>
<text transform="translate(982.5 145.5) rotate(-90) scale(0.94 1)">Eya2</text>
<text transform="translate(998.3 145.5) rotate(-90) scale(0.94 1)">Slc2a3</text>
<text transform="translate(1014.1 145.5) rotate(-90) scale(0.94 1)">Tet3</text>
<text transform="translate(1029.9 145.5) rotate(-90) scale(0.94 1)">Edem1</text>
<text transform="translate(1045.8 145.5) rotate(-90) scale(0.94 1)">Bcor</text>
<text transform="translate(1061.6 145.5) rotate(-90) scale(0.94 1)">Gdpd5</text>
<text transform="translate(1077.4 145.5) rotate(-90) scale(0.94 1)">Tgfbr1</text>
<text transform="translate(1093.2 145.5) rotate(-90) scale(0.94 1)">Tex14</text>
<text transform="translate(1109 145.5) rotate(-90) scale(0.94 1)">Tnfsf14</text>
<text transform="translate(1124.9 145.5) rotate(-90) scale(0.94 1)">Gm39323</text>
<text transform="translate(1140.7 145.5) rotate(-90) scale(0.94 1)">Trio</text>
<text transform="translate(1156.5 145.5) rotate(-90) scale(0.94 1)">P2rx7</text>
<text transform="translate(1172.3 145.5) rotate(-90) scale(0.94 1)">Rbm38</text>
<text transform="translate(1188.2 145.5) rotate(-90) scale(0.94 1)">Asb2</text>
<text transform="translate(1204 145.5) rotate(-90) scale(0.94 1)">Gpr55</text>
<text transform="translate(1219.8 145.5) rotate(-90) scale(0.94 1)">B930036N10Rik</text>
<text transform="translate(1235.6 145.5) rotate(-90) scale(0.94 1)">Nfatc2</text>
<text transform="translate(1251.4 145.5) rotate(-90) scale(0.94 1)">Bcl6</text>
<text transform="translate(1267.2 145.5) rotate(-90) scale(0.94 1)">Gramd1a</text>
<text transform="translate(1283.1 145.5) rotate(-90) scale(0.94 1)">Ldlr</text>
<text transform="translate(1298.9 145.5) rotate(-90) scale(0.94 1)">Pak6</text>
<text transform="translate(1314.7 145.5) rotate(-90) scale(0.94 1)">Pde11a</text>
<text transform="translate(1330.5 145.5) rotate(-90) scale(0.94 1)">Pdk1</text>
<text transform="translate(1346.4 145.5) rotate(-90) scale(0.94 1)">Rad51b</text>
<text transform="translate(1362.2 145.5) rotate(-90) scale(0.94 1)">Cln3</text>
<text transform="translate(1378 145.5) rotate(-90) scale(0.94 1)">Nedd4</text>
<text transform="translate(1393.8 145.5) rotate(-90) scale(0.94 1)">Ppp3cc</text>
<text transform="translate(1409.6 145.5) rotate(-90) scale(0.94 1)">Vav3</text>
<text transform="translate(1425.5 145.5) rotate(-90) scale(0.94 1)">BC052040</text>
<text transform="translate(1441.3 145.5) rotate(-90) scale(0.94 1)">Dzip1</text>
<text transform="translate(1457.1 145.5) rotate(-90) scale(0.94 1)">Rreb1</text>
<text transform="translate(1472.9 145.5) rotate(-90) scale(0.94 1)">Ints6</text>
<text transform="translate(1488.7 145.5) rotate(-90) scale(0.94 1)">Sntb2</text>
<text transform="translate(1504.5 145.5) rotate(-90) scale(0.94 1)">Evl</text>
<text transform="translate(1520.4 145.5) rotate(-90) scale(0.94 1)">Cd40lg</text>
<text transform="translate(1536.2 145.5) rotate(-90) scale(0.94 1)">Tcf12</text>
<text transform="translate(1552 145.5) rotate(-90) scale(0.94 1)">Adgrg5</text>
<text transform="translate(1567.8 145.5) rotate(-90) scale(0.94 1)">Lpp</text>
<text transform="translate(1583.7 145.5) rotate(-90) scale(0.94 1)">Btla</text>
<text transform="translate(1599.5 145.5) rotate(-90) scale(0.94 1)">Tanc1</text>
<text transform="translate(1615.3 145.5) rotate(-90) scale(0.94 1)">Tnfrsf18</text>
<text transform="translate(1631.1 145.5) rotate(-90) scale(0.94 1)">Ly6e</text>
<text transform="translate(1646.9 145.5) rotate(-90) scale(0.94 1)">Rflnb</text>
<text transform="translate(1662.8 145.5) rotate(-90) scale(0.94 1)">Rcbtb2</text>
<text transform="translate(1678.6 145.5) rotate(-90) scale(0.94 1)">Gpr18</text>
</g>
<text x="170.3" y="164.1" font-size="21.3" text-anchor="end">Arm Spl T<tspan dy="6.2" font-size="12">MEM</tspan></text>
<text x="170.3" y="189.5" font-size="21.3" text-anchor="end">Arm SI T<tspan dy="6.2" font-size="12">RM</tspan></text>
<text x="170.3" y="214.7" font-size="21.3" text-anchor="end">Arm SG T<tspan dy="6.2" font-size="12">RM</tspan></text>
<text x="170.3" y="240" font-size="21.3" text-anchor="end">Arm Liv T<tspan dy="6.2" font-size="12">RM</tspan></text>
<text x="170.3" y="268.6" font-size="21.3" text-anchor="end">Cl13 SI TR-T<tspan dy="6.2" font-size="12">EX</tspan></text>
<text x="170.3" y="293.6" font-size="21.3" text-anchor="end">Cl13 SG TR-T<tspan dy="6.2" font-size="12">EX</tspan></text>
<text x="170.3" y="318.9" font-size="21.3" text-anchor="end">Cl13 Liv TR-T<tspan dy="6.2" font-size="12">EX</tspan></text>
<text x="170.3" y="344.5" font-size="21.3" text-anchor="end">Cl13 Spl T<tspan dy="6.2" font-size="12">EX</tspan><tspan dy="-6.2"> Term</tspan></text>
<rect x="177.3" y="151.2" width="19.5" height="22.2" fill="#3DAE49"/>
<rect x="201.1" y="150.8" width="19.8" height="23.4" fill="#63E6D7"/>
<rect x="177.3" y="175.8" width="19.5" height="22.2" fill="#72C8D3"/>
<rect x="201.1" y="175.4" width="19.8" height="23.4" fill="#63E6D7"/>
<rect x="177.3" y="200.4" width="19.5" height="22.2" fill="#63E6D7"/>
<rect x="201.1" y="200" width="19.8" height="23.4" fill="#63E6D7"/>
<rect x="177.3" y="225" width="19.5" height="22.2" fill="#3E84C6"/>
<rect x="201.1" y="224.6" width="19.8" height="23.4" fill="#63E6D7"/>
<rect x="177.3" y="251.4" width="19.5" height="22.2" fill="#F0608A"/>
<rect x="201.1" y="250.2" width="19.8" height="23.2" fill="#FF33A6"/>
<rect x="177.3" y="276" width="19.5" height="22.2" fill="#C92A8C"/>
<rect x="201.1" y="274.8" width="19.8" height="23.2" fill="#FF33A6"/>
<rect x="177.3" y="300.6" width="19.5" height="22.2" fill="#F5B1C5"/>
<rect x="201.1" y="299.4" width="19.8" height="23.2" fill="#FF33A6"/>
<rect x="177.3" y="325.2" width="19.5" height="22.2" fill="#C38EF7"/>
<rect x="201.1" y="324" width="19.8" height="23.2" fill="#FF33A6"/>
<rect x="232.7" y="351.3" width="1450.9" height="7.4" fill="#3F7BE0"/>
<text x="235.5" y="383.7" font-size="22.8">T<tspan dy="6.5" font-size="13">RM</tspan><tspan dy="-6.5">-specific signature (92 genes)</tspan></text>
<defs><linearGradient id="gA" x1="0" y1="0" x2="0" y2="1"><stop offset="0" stop-color="#B2182B"/><stop offset="0.13" stop-color="#D6382C"/><stop offset="0.25" stop-color="#E8623F"/><stop offset="0.35" stop-color="#F09550"/><stop offset="0.46" stop-color="#F5DB85"/><stop offset="0.57" stop-color="#E0F3F8"/><stop offset="0.68" stop-color="#ABD9E9"/><stop offset="0.8" stop-color="#74ADD1"/><stop offset="0.92" stop-color="#4575B4"/><stop offset="1" stop-color="#3F3F9F"/></linearGradient></defs>
<rect x="1696.9" y="246.5" width="20.9" height="114.4" fill="url(#gA)"/>
<text x="1723.6" y="254.6" font-size="22.5">hi</text>
<text x="1726.7" y="366.7" font-size="22.5">lo</text>
<text x="38.2" y="391.2" font-size="22.4" font-weight="bold">infection</text>
<rect x="37.3" y="399.3" width="21.7" height="19.4" fill="#63E6D7"/>
<rect x="37.3" y="423.6" width="21.7" height="19.4" fill="#FF33A6"/>
<text x="65.5" y="412.9" font-size="22.3">Arm</text>
<text x="65.5" y="438.2" font-size="22.3">Cl13</text>
<path fill="#6A9FCB" d="M227.3 517.8h11.8v23.2h-11.8zM241.1 517.8h11.8v23.2h-11.8zM254.9 517.8h11.8v23.2h-11.8zM351.7 517.8h11.8v23.2h-11.8zM407 517.8h11.8v23.2h-11.8zM724.8 517.8h11.8v23.2h-11.8zM849.2 517.8h11.8v23.2h-11.8zM904.5 517.8h11.8v23.2h-11.8zM420.8 542.9h11.8v23.2h-11.8zM752.5 542.9h11.8v23.2h-11.8zM324 593.1h11.8v23.2h-11.8zM904.5 593.1h11.8v23.2h-11.8z"/>
<path fill="#8BBBD9" d="M268.8 517.8h11.8v23.2h-11.8zM282.6 517.8h11.8v23.2h-11.8zM296.4 517.8h11.8v23.2h-11.8zM310.2 517.8h11.8v23.2h-11.8zM324 517.8h11.8v23.2h-11.8zM365.5 517.8h11.8v23.2h-11.8zM462.2 517.8h11.8v23.2h-11.8zM476.1 517.8h11.8v23.2h-11.8zM503.7 517.8h11.8v23.2h-11.8zM517.5 517.8h11.8v23.2h-11.8zM600.4 517.8h11.8v23.2h-11.8zM641.9 517.8h11.8v23.2h-11.8zM711 517.8h11.8v23.2h-11.8zM738.6 517.8h11.8v23.2h-11.8zM752.5 517.8h11.8v23.2h-11.8zM766.3 517.8h11.8v23.2h-11.8zM807.7 517.8h11.8v23.2h-11.8zM821.6 517.8h11.8v23.2h-11.8zM835.4 517.8h11.8v23.2h-11.8zM932.1 517.8h11.8v23.2h-11.8zM282.6 542.9h11.8v23.2h-11.8zM296.4 542.9h11.8v23.2h-11.8zM324 542.9h11.8v23.2h-11.8zM379.3 542.9h11.8v23.2h-11.8zM393.1 542.9h11.8v23.2h-11.8zM614.3 542.9h11.8v23.2h-11.8zM628.1 542.9h11.8v23.2h-11.8zM641.9 542.9h11.8v23.2h-11.8zM655.7 542.9h11.8v23.2h-11.8zM669.5 542.9h11.8v23.2h-11.8zM766.3 542.9h11.8v23.2h-11.8zM780.1 542.9h11.8v23.2h-11.8zM282.6 568h11.8v23.2h-11.8zM365.5 568h11.8v23.2h-11.8zM379.3 568h11.8v23.2h-11.8zM407 568h11.8v23.2h-11.8zM448.4 568h11.8v23.2h-11.8zM476.1 568h11.8v23.2h-11.8zM503.7 568h11.8v23.2h-11.8zM586.6 568h11.8v23.2h-11.8zM600.4 568h11.8v23.2h-11.8zM918.3 568h11.8v23.2h-11.8zM932.1 568h11.8v23.2h-11.8zM254.9 593.1h11.8v23.2h-11.8zM268.8 593.1h11.8v23.2h-11.8zM310.2 593.1h11.8v23.2h-11.8zM351.7 593.1h11.8v23.2h-11.8zM365.5 593.1h11.8v23.2h-11.8zM462.2 593.1h11.8v23.2h-11.8zM572.8 593.1h11.8v23.2h-11.8zM600.4 593.1h11.8v23.2h-11.8zM683.4 593.1h11.8v23.2h-11.8zM697.2 593.1h11.8v23.2h-11.8zM766.3 593.1h11.8v23.2h-11.8zM835.4 593.1h11.8v23.2h-11.8zM863 593.1h11.8v23.2h-11.8zM890.7 593.1h11.8v23.2h-11.8zM918.3 593.1h11.8v23.2h-11.8zM697.2 643.3h11.8v23.2h-11.8zM876.8 668.4h11.8v23.2h-11.8z"/>
<path fill="#A9D4E5" d="M337.9 517.8h11.8v23.2h-11.8zM379.3 517.8h11.8v23.2h-11.8zM393.1 517.8h11.8v23.2h-11.8zM420.8 517.8h11.8v23.2h-11.8zM434.6 517.8h11.8v23.2h-11.8zM448.4 517.8h11.8v23.2h-11.8zM489.9 517.8h11.8v23.2h-11.8zM545.2 517.8h11.8v23.2h-11.8zM559 517.8h11.8v23.2h-11.8zM572.8 517.8h11.8v23.2h-11.8zM628.1 517.8h11.8v23.2h-11.8zM655.7 517.8h11.8v23.2h-11.8zM793.9 517.8h11.8v23.2h-11.8zM890.7 517.8h11.8v23.2h-11.8zM227.3 542.9h11.8v23.2h-11.8zM268.8 542.9h11.8v23.2h-11.8zM310.2 542.9h11.8v23.2h-11.8zM337.9 542.9h11.8v23.2h-11.8zM407 542.9h11.8v23.2h-11.8zM489.9 542.9h11.8v23.2h-11.8zM503.7 542.9h11.8v23.2h-11.8zM517.5 542.9h11.8v23.2h-11.8zM531.3 542.9h11.8v23.2h-11.8zM545.2 542.9h11.8v23.2h-11.8zM559 542.9h11.8v23.2h-11.8zM572.8 542.9h11.8v23.2h-11.8zM683.4 542.9h11.8v23.2h-11.8zM711 542.9h11.8v23.2h-11.8zM724.8 542.9h11.8v23.2h-11.8zM738.6 542.9h11.8v23.2h-11.8zM793.9 542.9h11.8v23.2h-11.8zM807.7 542.9h11.8v23.2h-11.8zM821.6 542.9h11.8v23.2h-11.8zM835.4 542.9h11.8v23.2h-11.8zM849.2 542.9h11.8v23.2h-11.8zM863 542.9h11.8v23.2h-11.8zM876.8 542.9h11.8v23.2h-11.8zM241.1 568h11.8v23.2h-11.8zM296.4 568h11.8v23.2h-11.8zM310.2 568h11.8v23.2h-11.8zM351.7 568h11.8v23.2h-11.8zM393.1 568h11.8v23.2h-11.8zM434.6 568h11.8v23.2h-11.8zM489.9 568h11.8v23.2h-11.8zM517.5 568h11.8v23.2h-11.8zM531.3 568h11.8v23.2h-11.8zM559 568h11.8v23.2h-11.8zM572.8 568h11.8v23.2h-11.8zM614.3 568h11.8v23.2h-11.8zM655.7 568h11.8v23.2h-11.8zM683.4 568h11.8v23.2h-11.8zM697.2 568h11.8v23.2h-11.8zM945.9 568h11.8v23.2h-11.8zM227.3 593.1h11.8v23.2h-11.8zM241.1 593.1h11.8v23.2h-11.8zM282.6 593.1h11.8v23.2h-11.8zM337.9 593.1h11.8v23.2h-11.8zM434.6 593.1h11.8v23.2h-11.8zM448.4 593.1h11.8v23.2h-11.8zM476.1 593.1h11.8v23.2h-11.8zM489.9 593.1h11.8v23.2h-11.8zM545.2 593.1h11.8v23.2h-11.8zM559 593.1h11.8v23.2h-11.8zM586.6 593.1h11.8v23.2h-11.8zM614.3 593.1h11.8v23.2h-11.8zM641.9 593.1h11.8v23.2h-11.8zM655.7 593.1h11.8v23.2h-11.8zM711 593.1h11.8v23.2h-11.8zM752.5 593.1h11.8v23.2h-11.8zM780.1 593.1h11.8v23.2h-11.8zM807.7 593.1h11.8v23.2h-11.8zM821.6 593.1h11.8v23.2h-11.8zM849.2 593.1h11.8v23.2h-11.8zM876.8 593.1h11.8v23.2h-11.8zM945.9 593.1h11.8v23.2h-11.8zM863 668.4h11.8v23.2h-11.8zM890.7 668.4h11.8v23.2h-11.8zM945.9 668.4h11.8v23.2h-11.8z"/>
<path fill="#CDE7EF" d="M531.3 517.8h11.8v23.2h-11.8zM586.6 517.8h11.8v23.2h-11.8zM669.5 517.8h11.8v23.2h-11.8zM683.4 517.8h11.8v23.2h-11.8zM697.2 517.8h11.8v23.2h-11.8zM863 517.8h11.8v23.2h-11.8zM918.3 517.8h11.8v23.2h-11.8zM241.1 542.9h11.8v23.2h-11.8zM254.9 542.9h11.8v23.2h-11.8zM351.7 542.9h11.8v23.2h-11.8zM365.5 542.9h11.8v23.2h-11.8zM434.6 542.9h11.8v23.2h-11.8zM448.4 542.9h11.8v23.2h-11.8zM462.2 542.9h11.8v23.2h-11.8zM476.1 542.9h11.8v23.2h-11.8zM586.6 542.9h11.8v23.2h-11.8zM697.2 542.9h11.8v23.2h-11.8zM890.7 542.9h11.8v23.2h-11.8zM918.3 542.9h11.8v23.2h-11.8zM932.1 542.9h11.8v23.2h-11.8zM945.9 542.9h11.8v23.2h-11.8zM227.3 568h11.8v23.2h-11.8zM254.9 568h11.8v23.2h-11.8zM268.8 568h11.8v23.2h-11.8zM324 568h11.8v23.2h-11.8zM337.9 568h11.8v23.2h-11.8zM420.8 568h11.8v23.2h-11.8zM462.2 568h11.8v23.2h-11.8zM545.2 568h11.8v23.2h-11.8zM628.1 568h11.8v23.2h-11.8zM641.9 568h11.8v23.2h-11.8zM669.5 568h11.8v23.2h-11.8zM711 568h11.8v23.2h-11.8zM738.6 568h11.8v23.2h-11.8zM780.1 568h11.8v23.2h-11.8zM793.9 568h11.8v23.2h-11.8zM807.7 568h11.8v23.2h-11.8zM821.6 568h11.8v23.2h-11.8zM863 568h11.8v23.2h-11.8zM876.8 568h11.8v23.2h-11.8zM904.5 568h11.8v23.2h-11.8zM296.4 593.1h11.8v23.2h-11.8zM379.3 593.1h11.8v23.2h-11.8zM393.1 593.1h11.8v23.2h-11.8zM420.8 593.1h11.8v23.2h-11.8zM503.7 593.1h11.8v23.2h-11.8zM517.5 593.1h11.8v23.2h-11.8zM531.3 593.1h11.8v23.2h-11.8zM628.1 593.1h11.8v23.2h-11.8zM669.5 593.1h11.8v23.2h-11.8zM724.8 593.1h11.8v23.2h-11.8zM738.6 593.1h11.8v23.2h-11.8zM793.9 593.1h11.8v23.2h-11.8zM932.1 593.1h11.8v23.2h-11.8zM752.5 618.2h11.8v23.2h-11.8zM434.6 643.3h11.8v23.2h-11.8zM448.4 643.3h11.8v23.2h-11.8zM531.3 643.3h11.8v23.2h-11.8zM586.6 643.3h11.8v23.2h-11.8zM628.1 643.3h11.8v23.2h-11.8zM669.5 643.3h11.8v23.2h-11.8zM807.7 668.4h11.8v23.2h-11.8zM932.1 693.5h11.8v23.2h-11.8z"/>
<path fill="#E6F2EC" d="M780.1 517.8h11.8v23.2h-11.8zM876.8 517.8h11.8v23.2h-11.8zM945.9 517.8h11.8v23.2h-11.8zM835.4 568h11.8v23.2h-11.8zM890.7 568h11.8v23.2h-11.8zM545.2 643.3h11.8v23.2h-11.8zM614.3 643.3h11.8v23.2h-11.8zM655.7 643.3h11.8v23.2h-11.8z"/>
<path fill="#F1ECC0" d="M614.3 517.8h11.8v23.2h-11.8zM600.4 542.9h11.8v23.2h-11.8zM407 593.1h11.8v23.2h-11.8zM531.3 618.2h11.8v23.2h-11.8zM766.3 618.2h11.8v23.2h-11.8zM780.1 618.2h11.8v23.2h-11.8zM241.1 643.3h11.8v23.2h-11.8zM462.2 643.3h11.8v23.2h-11.8zM476.1 643.3h11.8v23.2h-11.8zM489.9 643.3h11.8v23.2h-11.8zM503.7 643.3h11.8v23.2h-11.8zM517.5 643.3h11.8v23.2h-11.8zM559 643.3h11.8v23.2h-11.8zM572.8 643.3h11.8v23.2h-11.8zM641.9 643.3h11.8v23.2h-11.8zM683.4 643.3h11.8v23.2h-11.8zM559 668.4h11.8v23.2h-11.8zM586.6 668.4h11.8v23.2h-11.8zM683.4 668.4h11.8v23.2h-11.8zM780.1 668.4h11.8v23.2h-11.8zM835.4 668.4h11.8v23.2h-11.8zM724.8 693.5h11.8v23.2h-11.8zM738.6 693.5h11.8v23.2h-11.8zM890.7 693.5h11.8v23.2h-11.8zM945.9 693.5h11.8v23.2h-11.8z"/>
<path fill="#F4DD8E" d="M904.5 542.9h11.8v23.2h-11.8zM724.8 568h11.8v23.2h-11.8zM752.5 568h11.8v23.2h-11.8zM849.2 568h11.8v23.2h-11.8zM379.3 618.2h11.8v23.2h-11.8zM545.2 618.2h11.8v23.2h-11.8zM614.3 618.2h11.8v23.2h-11.8zM628.1 618.2h11.8v23.2h-11.8zM738.6 618.2h11.8v23.2h-11.8zM793.9 618.2h11.8v23.2h-11.8zM835.4 618.2h11.8v23.2h-11.8zM227.3 643.3h11.8v23.2h-11.8zM393.1 643.3h11.8v23.2h-11.8zM407 643.3h11.8v23.2h-11.8zM945.9 643.3h11.8v23.2h-11.8zM420.8 668.4h11.8v23.2h-11.8zM572.8 668.4h11.8v23.2h-11.8zM600.4 668.4h11.8v23.2h-11.8zM614.3 668.4h11.8v23.2h-11.8zM821.6 668.4h11.8v23.2h-11.8zM849.2 668.4h11.8v23.2h-11.8zM904.5 668.4h11.8v23.2h-11.8zM932.1 668.4h11.8v23.2h-11.8zM711 693.5h11.8v23.2h-11.8zM793.9 693.5h11.8v23.2h-11.8zM807.7 693.5h11.8v23.2h-11.8zM849.2 693.5h11.8v23.2h-11.8zM904.5 693.5h11.8v23.2h-11.8zM918.3 693.5h11.8v23.2h-11.8z"/>
<path fill="#F0B56B" d="M766.3 568h11.8v23.2h-11.8zM254.9 618.2h11.8v23.2h-11.8zM268.8 618.2h11.8v23.2h-11.8zM282.6 618.2h11.8v23.2h-11.8zM310.2 618.2h11.8v23.2h-11.8zM393.1 618.2h11.8v23.2h-11.8zM407 618.2h11.8v23.2h-11.8zM420.8 618.2h11.8v23.2h-11.8zM434.6 618.2h11.8v23.2h-11.8zM448.4 618.2h11.8v23.2h-11.8zM462.2 618.2h11.8v23.2h-11.8zM517.5 618.2h11.8v23.2h-11.8zM600.4 618.2h11.8v23.2h-11.8zM711 618.2h11.8v23.2h-11.8zM254.9 643.3h11.8v23.2h-11.8zM268.8 643.3h11.8v23.2h-11.8zM282.6 643.3h11.8v23.2h-11.8zM296.4 643.3h11.8v23.2h-11.8zM310.2 643.3h11.8v23.2h-11.8zM337.9 643.3h11.8v23.2h-11.8zM379.3 643.3h11.8v23.2h-11.8zM420.8 643.3h11.8v23.2h-11.8zM600.4 643.3h11.8v23.2h-11.8zM738.6 643.3h11.8v23.2h-11.8zM918.3 643.3h11.8v23.2h-11.8zM932.1 643.3h11.8v23.2h-11.8zM324 668.4h11.8v23.2h-11.8zM337.9 668.4h11.8v23.2h-11.8zM351.7 668.4h11.8v23.2h-11.8zM365.5 668.4h11.8v23.2h-11.8zM628.1 668.4h11.8v23.2h-11.8zM641.9 668.4h11.8v23.2h-11.8zM669.5 668.4h11.8v23.2h-11.8zM793.9 668.4h11.8v23.2h-11.8zM918.3 668.4h11.8v23.2h-11.8zM227.3 693.5h11.8v23.2h-11.8zM310.2 693.5h11.8v23.2h-11.8zM351.7 693.5h11.8v23.2h-11.8zM752.5 693.5h11.8v23.2h-11.8zM766.3 693.5h11.8v23.2h-11.8zM821.6 693.5h11.8v23.2h-11.8zM863 693.5h11.8v23.2h-11.8zM876.8 693.5h11.8v23.2h-11.8z"/>
<path fill="#EE9356" d="M296.4 618.2h11.8v23.2h-11.8zM324 618.2h11.8v23.2h-11.8zM337.9 618.2h11.8v23.2h-11.8zM351.7 618.2h11.8v23.2h-11.8zM365.5 618.2h11.8v23.2h-11.8zM476.1 618.2h11.8v23.2h-11.8zM489.9 618.2h11.8v23.2h-11.8zM503.7 618.2h11.8v23.2h-11.8zM586.6 618.2h11.8v23.2h-11.8zM724.8 618.2h11.8v23.2h-11.8zM807.7 618.2h11.8v23.2h-11.8zM821.6 618.2h11.8v23.2h-11.8zM849.2 618.2h11.8v23.2h-11.8zM876.8 618.2h11.8v23.2h-11.8zM324 643.3h11.8v23.2h-11.8zM365.5 643.3h11.8v23.2h-11.8zM724.8 643.3h11.8v23.2h-11.8zM904.5 643.3h11.8v23.2h-11.8zM227.3 668.4h11.8v23.2h-11.8zM241.1 668.4h11.8v23.2h-11.8zM268.8 668.4h11.8v23.2h-11.8zM379.3 668.4h11.8v23.2h-11.8zM393.1 668.4h11.8v23.2h-11.8zM407 668.4h11.8v23.2h-11.8zM655.7 668.4h11.8v23.2h-11.8zM697.2 668.4h11.8v23.2h-11.8zM766.3 668.4h11.8v23.2h-11.8zM241.1 693.5h11.8v23.2h-11.8zM254.9 693.5h11.8v23.2h-11.8zM268.8 693.5h11.8v23.2h-11.8zM282.6 693.5h11.8v23.2h-11.8zM296.4 693.5h11.8v23.2h-11.8zM324 693.5h11.8v23.2h-11.8zM476.1 693.5h11.8v23.2h-11.8zM489.9 693.5h11.8v23.2h-11.8zM503.7 693.5h11.8v23.2h-11.8zM517.5 693.5h11.8v23.2h-11.8zM531.3 693.5h11.8v23.2h-11.8zM697.2 693.5h11.8v23.2h-11.8zM780.1 693.5h11.8v23.2h-11.8zM835.4 693.5h11.8v23.2h-11.8z"/>
<path fill="#E8613E" d="M227.3 618.2h11.8v23.2h-11.8zM241.1 618.2h11.8v23.2h-11.8zM559 618.2h11.8v23.2h-11.8zM572.8 618.2h11.8v23.2h-11.8zM641.9 618.2h11.8v23.2h-11.8zM655.7 618.2h11.8v23.2h-11.8zM669.5 618.2h11.8v23.2h-11.8zM697.2 618.2h11.8v23.2h-11.8zM863 618.2h11.8v23.2h-11.8zM890.7 618.2h11.8v23.2h-11.8zM351.7 643.3h11.8v23.2h-11.8zM711 643.3h11.8v23.2h-11.8zM752.5 643.3h11.8v23.2h-11.8zM863 643.3h11.8v23.2h-11.8zM890.7 643.3h11.8v23.2h-11.8zM254.9 668.4h11.8v23.2h-11.8zM282.6 668.4h11.8v23.2h-11.8zM296.4 668.4h11.8v23.2h-11.8zM434.6 668.4h11.8v23.2h-11.8zM448.4 668.4h11.8v23.2h-11.8zM462.2 668.4h11.8v23.2h-11.8zM476.1 668.4h11.8v23.2h-11.8zM503.7 668.4h11.8v23.2h-11.8zM711 668.4h11.8v23.2h-11.8zM724.8 668.4h11.8v23.2h-11.8zM752.5 668.4h11.8v23.2h-11.8zM337.9 693.5h11.8v23.2h-11.8zM365.5 693.5h11.8v23.2h-11.8zM407 693.5h11.8v23.2h-11.8zM434.6 693.5h11.8v23.2h-11.8zM462.2 693.5h11.8v23.2h-11.8zM545.2 693.5h11.8v23.2h-11.8zM641.9 693.5h11.8v23.2h-11.8zM655.7 693.5h11.8v23.2h-11.8zM683.4 693.5h11.8v23.2h-11.8z"/>
<path fill="#DC3A2D" d="M683.4 618.2h11.8v23.2h-11.8zM904.5 618.2h11.8v23.2h-11.8zM918.3 618.2h11.8v23.2h-11.8zM766.3 643.3h11.8v23.2h-11.8zM780.1 643.3h11.8v23.2h-11.8zM821.6 643.3h11.8v23.2h-11.8zM835.4 643.3h11.8v23.2h-11.8zM849.2 643.3h11.8v23.2h-11.8zM876.8 643.3h11.8v23.2h-11.8zM310.2 668.4h11.8v23.2h-11.8zM489.9 668.4h11.8v23.2h-11.8zM517.5 668.4h11.8v23.2h-11.8zM545.2 668.4h11.8v23.2h-11.8zM379.3 693.5h11.8v23.2h-11.8zM393.1 693.5h11.8v23.2h-11.8zM420.8 693.5h11.8v23.2h-11.8zM448.4 693.5h11.8v23.2h-11.8zM559 693.5h11.8v23.2h-11.8zM572.8 693.5h11.8v23.2h-11.8zM586.6 693.5h11.8v23.2h-11.8zM600.4 693.5h11.8v23.2h-11.8zM669.5 693.5h11.8v23.2h-11.8z"/>
<path fill="#C4262E" d="M932.1 618.2h11.8v23.2h-11.8zM807.7 643.3h11.8v23.2h-11.8zM531.3 668.4h11.8v23.2h-11.8zM738.6 668.4h11.8v23.2h-11.8zM628.1 693.5h11.8v23.2h-11.8z"/>
<path fill="#A8162B" d="M945.9 618.2h11.8v23.2h-11.8zM793.9 643.3h11.8v23.2h-11.8zM614.3 693.5h11.8v23.2h-11.8z"/>
<g font-size="20.8" font-style="italic">
<text transform="translate(236.2 513) rotate(-90) scale(0.94 1)">Morrbid</text>
<text transform="translate(250 513) rotate(-90) scale(0.94 1)">Ubash3b</text>
<text transform="translate(263.8 513) rotate(-90) scale(0.94 1)">Gpd2</text>
<text transform="translate(277.7 513) rotate(-90) scale(0.94 1)">Slc22a15</text>
<text transform="translate(291.5 513) rotate(-90) scale(0.94 1)">Naip5</text>
<text transform="translate(305.3 513) rotate(-90) scale(0.94 1)">Pbx3</text>
<text transform="translate(319.1 513) rotate(-90) scale(0.94 1)">Rtp4</text>
<text transform="translate(332.9 513) rotate(-90) scale(0.94 1)">Stk32c</text>
<text transform="translate(346.8 513) rotate(-90) scale(0.94 1)">Tmcc3</text>
<text transform="translate(360.6 513) rotate(-90) scale(0.94 1)">Itgav</text>
<text transform="translate(374.4 513) rotate(-90) scale(0.94 1)">Lag3</text>
<text transform="translate(388.2 513) rotate(-90) scale(0.94 1)">Nkg7</text>
<text transform="translate(402 513) rotate(-90) scale(0.94 1)">Ildr1</text>
<text transform="translate(415.9 513) rotate(-90) scale(0.94 1)">Pacsin1</text>
<text transform="translate(429.7 513) rotate(-90) scale(0.94 1)">Il10ra</text>
<text transform="translate(443.5 513) rotate(-90) scale(0.94 1)">Scrib</text>
<text transform="translate(457.3 513) rotate(-90) scale(0.94 1)">Gm11802</text>
<text transform="translate(471.1 513) rotate(-90) scale(0.94 1)">Vmp1</text>
<text transform="translate(485 513) rotate(-90) scale(0.94 1)">Cd200r4</text>
<text transform="translate(498.8 513) rotate(-90) scale(0.94 1)">Glp1r</text>
<text transform="translate(512.6 513) rotate(-90) scale(0.94 1)">Nsmaf</text>
<text transform="translate(526.4 513) rotate(-90) scale(0.94 1)">Dclk2</text>
<text transform="translate(540.2 513) rotate(-90) scale(0.94 1)">Cd7</text>
<text transform="translate(554.1 513) rotate(-90) scale(0.94 1)">Ica1</text>
<text transform="translate(567.9 513) rotate(-90) scale(0.94 1)">Gxylt1</text>
<text transform="translate(581.7 513) rotate(-90) scale(0.94 1)">Tox2</text>
<text transform="translate(595.5 513) rotate(-90) scale(0.94 1)">Sh2d2a</text>
<text transform="translate(609.3 513) rotate(-90) scale(0.94 1)">Tigit</text>
<text transform="translate(623.2 513) rotate(-90) scale(0.94 1)">Rasgef1b</text>
<text transform="translate(637 513) rotate(-90) scale(0.94 1)">Asap2</text>
<text transform="translate(650.8 513) rotate(-90) scale(0.94 1)">Gm674</text>
<text transform="translate(664.6 513) rotate(-90) scale(0.94 1)">Trps1</text>
<text transform="translate(678.4 513) rotate(-90) scale(0.94 1)">Eomes</text>
<text transform="translate(692.3 513) rotate(-90) scale(0.94 1)">Ptpn13</text>
<text transform="translate(706.1 513) rotate(-90) scale(0.94 1)">Abtb2</text>
<text transform="translate(719.9 513) rotate(-90) scale(0.94 1)">Filip1</text>
<text transform="translate(733.7 513) rotate(-90) scale(0.94 1)">Ypel2</text>
<text transform="translate(747.5 513) rotate(-90) scale(0.94 1)">Cd200r1</text>
<text transform="translate(761.4 513) rotate(-90) scale(0.94 1)">Pdgfb</text>
<text transform="translate(775.2 513) rotate(-90) scale(0.94 1)">Lat2</text>
<text transform="translate(789 513) rotate(-90) scale(0.94 1)">Mir155hg</text>
<text transform="translate(802.8 513) rotate(-90) scale(0.94 1)">Ifi27l2a</text>
<text transform="translate(816.6 513) rotate(-90) scale(0.94 1)">Cyth3</text>
<text transform="translate(830.5 513) rotate(-90) scale(0.94 1)">Gbp6</text>
<text transform="translate(844.3 513) rotate(-90) scale(0.94 1)">Ccl4</text>
<text transform="translate(858.1 513) rotate(-90) scale(0.94 1)">Kif13b</text>
<text transform="translate(871.9 513) rotate(-90) scale(0.94 1)">Batf</text>
<text transform="translate(885.7 513) rotate(-90) scale(0.94 1)">Uhrf2</text>
<text transform="translate(899.6 513) rotate(-90) scale(0.94 1)">Klf11</text>
<text transform="translate(913.4 513) rotate(-90) scale(0.94 1)">Adrb1</text>
<text transform="translate(927.2 513) rotate(-90) scale(0.94 1)">Ccl5</text>
<text transform="translate(941 513) rotate(-90) scale(0.94 1)">Ptms</text>
<text transform="translate(954.8 513) rotate(-90) scale(0.94 1)">4930417O13Rik</text>
</g>
<text x="170.3" y="528" font-size="21.6" text-anchor="end">Arm Spl T<tspan dy="6.2" font-size="12">MEM</tspan></text>
<text x="170.3" y="553.7" font-size="21.6" text-anchor="end">Arm SI T<tspan dy="6.2" font-size="12">RM</tspan></text>
<text x="170.3" y="579" font-size="21.6" text-anchor="end">Arm SG T<tspan dy="6.2" font-size="12">RM</tspan></text>
<text x="170.3" y="604.2" font-size="21.6" text-anchor="end">Arm Liv T<tspan dy="6.2" font-size="12">RM</tspan></text>
<text x="170.3" y="633.3" font-size="21.6" text-anchor="end">Cl13 SI TR-T<tspan dy="6.2" font-size="12">EX</tspan></text>
<text x="170.3" y="658.3" font-size="21.6" text-anchor="end">Cl13 SG TR-T<tspan dy="6.2" font-size="12">EX</tspan></text>
<text x="170.3" y="683.5" font-size="21.6" text-anchor="end">Cl13 Liv TR-T<tspan dy="6.2" font-size="12">EX</tspan></text>
<text x="170.3" y="708.8" font-size="21.6" text-anchor="end">Cl13 Spl T<tspan dy="6.2" font-size="12">EX</tspan><tspan dy="-6.2"> Term</tspan></text>
<rect x="177.6" y="519.2" width="19.2" height="22.8" fill="#3DAE49"/>
<rect x="201.6" y="518.8" width="19.7" height="23.6" fill="#63E6D7"/>
<rect x="177.6" y="544.3" width="19.2" height="22.8" fill="#72C8D3"/>
<rect x="201.6" y="543.9" width="19.7" height="23.6" fill="#63E6D7"/>
<rect x="177.6" y="569.4" width="19.2" height="22.8" fill="#63E6D7"/>
<rect x="201.6" y="569" width="19.7" height="23.6" fill="#63E6D7"/>
<rect x="177.6" y="594.5" width="19.2" height="22.8" fill="#3E84C6"/>
<rect x="201.6" y="594.1" width="19.7" height="23.6" fill="#63E6D7"/>
<rect x="177.6" y="619.6" width="19.2" height="22.8" fill="#F0608A"/>
<rect x="201.6" y="619.2" width="19.7" height="23.6" fill="#FF33A6"/>
<rect x="177.6" y="644.7" width="19.2" height="22.8" fill="#C92A8C"/>
<rect x="201.6" y="644.3" width="19.7" height="23.6" fill="#FF33A6"/>
<rect x="177.6" y="669.8" width="19.2" height="22.8" fill="#F5B1C5"/>
<rect x="201.6" y="669.4" width="19.7" height="23.6" fill="#FF33A6"/>
<rect x="177.6" y="694.9" width="19.2" height="22.8" fill="#C38EF7"/>
<rect x="201.6" y="694.5" width="19.7" height="23.6" fill="#FF33A6"/>
<rect x="225.2" y="721.4" width="731.6" height="7.5" fill="#F033A0"/>
<text x="224.2" y="750.9" font-size="22.8">TR-T<tspan dy="6.5" font-size="13">EX</tspan><tspan dy="-6.5">-specific signature (53 genes)</tspan></text>
</g>
<g id="pb">
<text x="968" y="418.2" font-size="50" font-weight="bold">b</text>
<text x="1200.4" y="459.4" font-size="22.8" text-anchor="middle">original signatures</text>
<text x="1570" y="459.4" font-size="22.8" text-anchor="middle">new cell-specific signatures</text>
<defs><filter id="bl" x="-20%" y="-20%" width="140%" height="140%"><feGaussianBlur stdDeviation="0.9"/></filter></defs>
<g transform="translate(1012.3 471.3) scale(0.9853 0.9942)">
<g filter="url(#bl)" opacity="0.85">
<ellipse cx="126.6" cy="17.2" rx="11.4" ry="7.7" fill="#722885" transform="rotate(20 126.6 17.2)"/>
<ellipse cx="147.5" cy="29.6" rx="6.6" ry="5.7" fill="#722885" transform="rotate(30 147.5 29.6)"/>
<ellipse cx="137.7" cy="24" rx="7" ry="4.8" fill="#933489" transform="rotate(30 137.7 24)"/>
<ellipse cx="97" cy="45.6" rx="7.9" ry="11.9" fill="#C45486" transform="rotate(8 97 45.6)"/>
<ellipse cx="126.6" cy="44.3" rx="11" ry="11" fill="#933489" transform="rotate(0 126.6 44.3)"/>
<ellipse cx="110.5" cy="51.5" rx="4.8" ry="2.6" fill="#DA667C" transform="rotate(10 110.5 51.5)"/>
<ellipse cx="86" cy="78.8" rx="5.1" ry="7.2" fill="#E98B7B" transform="rotate(25 86 78.8)"/>
<ellipse cx="141.4" cy="66.5" rx="3.2" ry="5.7" fill="#561D7C" transform="rotate(10 141.4 66.5)"/>
<ellipse cx="132.7" cy="86.2" rx="9.2" ry="11" fill="#933489" transform="rotate(10 132.7 86.2)"/>
<ellipse cx="156.1" cy="82.5" rx="8.4" ry="15" fill="#C45486" transform="rotate(-14 156.1 82.5)"/>
<ellipse cx="26.2" cy="103.4" rx="10.1" ry="5.1" fill="#DADADA" transform="rotate(8 26.2 103.4)"/>
<ellipse cx="128.8" cy="114" rx="1.6" ry="11.4" fill="#E0CFC8" transform="rotate(-4 128.8 114)"/>
<ellipse cx="137" cy="118" rx="2.3" ry="6.6" fill="#E0CFC8" transform="rotate(-15 137 118)"/>
<ellipse cx="150" cy="113" rx="1.3" ry="11.9" fill="#DA667C" transform="rotate(18 150 113)"/>
<ellipse cx="141" cy="130" rx="6.2" ry="2.2" fill="#E0CFC8" transform="rotate(-30 141 130)"/>
<ellipse cx="125" cy="145" rx="8.4" ry="14.1" fill="#E0CFC8" transform="rotate(12 125 145)"/>
<ellipse cx="121.5" cy="165" rx="7.9" ry="9.7" fill="#DADADA" transform="rotate(0 121.5 165)"/>
<ellipse cx="148.8" cy="160" rx="10.1" ry="11.4" fill="#DADADA" transform="rotate(0 148.8 160)"/>
<ellipse cx="134" cy="171" rx="12.3" ry="5.7" fill="#E0CFC8" transform="rotate(0 134 171)"/>
</g>
<path transform="scale(.25)" d="M495 46h0M517 62h0M468 35h0M548 79h0M509 82h0M525 81h0M509 52h0M507 63h0M462 56h0M514 111h0M468 41h0M486 67h0M499 68h0M489 87h0M504 82h0M535 95h0M535 42h0M493 95h0M506 34h0M477 82h0M552 83h0M500 88h0M487 61h0M544 103h0M480 64h0M467 59h0M500 77h0M540 70h0M487 61h0M518 66h0M494 88h0M534 57h0M495 102h0M532 75h0M582 140h0M574 129h0M603 138h0M595 124h0M609 124h0M618 103h0M607 116h0M588 104h0M567 139h0M588 96h0M596 119h0M565 119h0M598 137h0M586 102h0M593 114h0M578 91h0M545 77h0M556 78h0M576 89h0M530 76h0M527 106h0M581 92h0M523 92h0M526 94h0M464 172h0M533 154h0M496 135h0M553 196h0M521 169h0M466 190h0M489 213h0M456 165h0M491 142h0M488 140h0M488 187h0M544 146h0M489 175h0M541 189h0M547 148h0M535 170h0M524 159h0M489 206h0M537 170h0M503 156h0M494 218h0M463 147h0M505 161h0M476 216h0M490 122h0M489 128h0M528 138h0M523 176h0M533 170h0M479 165h0M455 179h0M520 193h0M492 226h0M462 157h0M525 206h0M533 211h0M502 179h0M538 171h0M548 193h0M465 142h0M527 128h0M497 139h0M523 184h0M512 221h0M496 182h0M469 205h0M508 188h0M518 314h0M543 315h0M553 333h0M563 374h0M499 305h0M535 300h0M498 315h0M546 351h0M527 295h0M537 320h0M495 327h0M537 357h0M566 359h0M522 394h0M569 346h0M545 388h0M545 341h0M516 314h0M531 298h0M557 341h0M519 370h0M540 375h0M552 369h0M561 330h0M565 332h0M543 340h0M519 329h0M545 358h0M517 393h0M562 344h0M519 338h0M561 368h0" stroke="#7A2A85" stroke-width="6.4" stroke-linecap="round" fill="none"/>
<path transform="scale(.25)" d="M466 34h0M467 69h0M472 41h0M468 64h0M532 51h0M528 99h0M550 58h0M547 74h0M525 78h0M512 105h0M469 58h0M481 85h0M538 45h0M472 56h0M472 55h0M525 105h0M563 95h0M543 76h0M513 81h0M514 33h0M503 46h0M489 101h0M482 32h0M547 101h0M546 99h0M490 102h0M595 107h0M605 135h0M587 129h0M589 127h0M573 123h0M571 110h0M587 125h0M563 124h0M602 108h0M577 127h0M581 120h0M581 96h0M607 131h0M559 111h0M542 90h0M568 80h0M559 75h0M568 81h0M573 95h0M528 81h0M548 86h0M540 116h0M552 103h0M552 79h0M577 116h0M575 107h0M549 91h0M556 105h0M563 76h0M534 111h0M525 86h0M572 93h0M565 102h0M555 122h0M534 79h0M521 91h0M521 137h0M527 164h0M454 169h0M548 176h0M461 206h0M486 176h0M545 193h0M503 209h0M512 184h0M490 199h0M526 207h0M460 154h0M496 162h0M478 147h0M503 188h0M530 178h0M506 128h0M470 149h0M484 170h0M537 136h0M454 185h0M531 205h0M494 196h0M471 180h0M543 185h0M480 155h0M514 177h0M533 209h0M504 228h0M510 224h0M469 150h0M504 174h0M556 158h0M489 189h0M518 227h0M490 227h0M492 225h0M502 126h0M512 237h0M520 343h0M517 333h0M543 304h0M505 341h0M489 353h0M566 346h0M513 309h0M561 369h0M510 328h0M545 303h0M517 296h0M571 320h0M534 395h0M552 307h0M528 348h0M519 331h0M565 321h0M549 317h0M533 371h0M548 391h0M539 308h0M558 369h0M494 350h0M508 312h0M542 304h0M540 305h0M531 294h0M566 327h0M508 356h0M555 363h0M521 391h0M499 310h0M512 382h0M561 371h0M535 376h0M544 360h0M524 371h0M507 343h0M552 369h0M510 372h0M512 378h0M537 329h0M549 312h0M548 341h0M488 351h0M520 295h0M523 349h0M526 385h0M503 389h0M539 331h0M491 334h0M537 395h0M507 380h0M515 352h0M554 347h0" stroke="#9E3A8C" stroke-width="6.4" stroke-linecap="round" fill="none"/>
<path transform="scale(.25)" d="M479 69h0M518 60h0M543 94h0M485 90h0M475 58h0M518 108h0M540 49h0M501 63h0M528 56h0M476 81h0M480 85h0M519 42h0M515 36h0M503 107h0M533 92h0M469 45h0M468 67h0M524 64h0M522 100h0M495 97h0M493 31h0M521 68h0M485 98h0M537 63h0M500 75h0M519 64h0M520 37h0M538 95h0M532 102h0M474 48h0M462 72h0M479 73h0M499 93h0M497 55h0M522 74h0M607 143h0M589 126h0M586 109h0M564 132h0M596 135h0M611 104h0M593 134h0M594 112h0M591 147h0M589 133h0M596 115h0M586 109h0M602 138h0M570 112h0M591 131h0M559 103h0M614 105h0M589 145h0M593 109h0M556 268h0M555 284h0M563 284h0M576 244h0M569 281h0M566 268h0" stroke="#6B2585" stroke-width="6.4" stroke-linecap="round" fill="none"/>
<path transform="scale(.25)" d="M522 46h0M475 58h0M538 84h0M496 100h0M521 108h0M483 77h0M516 33h0M540 79h0M479 40h0M525 75h0M538 76h0M515 85h0M539 48h0M483 59h0M509 107h0M560 77h0M508 100h0M466 59h0M489 68h0M495 39h0M475 76h0M545 60h0M519 82h0M461 53h0M504 112h0M477 63h0M557 92h0M548 64h0M520 52h0M459 51h0M479 85h0M552 90h0M513 57h0M486 30h0M458 44h0M553 59h0M608 133h0M612 135h0M566 125h0M599 129h0M576 129h0M562 126h0M594 116h0M611 124h0M599 134h0M598 114h0M618 111h0M593 130h0M603 131h0M565 121h0M573 131h0M589 144h0M558 264h0M553 289h0M563 270h0M567 266h0" stroke="#5A2080" stroke-width="6.4" stroke-linecap="round" fill="none"/>
<path transform="scale(.25)" d="M448 70h0M513 60h0M476 69h0M545 74h0M527 88h0M559 73h0M494 101h0M540 67h0M475 48h0M471 52h0M506 101h0M486 60h0M530 92h0M551 63h0M476 49h0M517 109h0M546 78h0M478 29h0M515 106h0M460 53h0M544 95h0M466 43h0M521 74h0M468 50h0M522 96h0M484 82h0M485 94h0M522 94h0M500 93h0M507 93h0M492 90h0M496 49h0M508 69h0M598 107h0M566 110h0M566 123h0M606 118h0M578 126h0M602 101h0M583 108h0M594 123h0M615 136h0M591 124h0M573 120h0M570 125h0M537 89h0M570 111h0M560 92h0M547 104h0M544 95h0M558 116h0M550 99h0M552 79h0M542 104h0M360 191h0M384 147h0M363 157h0M378 131h0M391 153h0M419 154h0M428 150h0M379 196h0M365 200h0M367 146h0M398 149h0M404 141h0M407 165h0M395 162h0M412 169h0M414 156h0M398 171h0M396 145h0M373 188h0M410 186h0M395 221h0M384 178h0M369 191h0M408 137h0M458 146h0M497 150h0M505 152h0M529 204h0M488 157h0M474 170h0M524 138h0M534 212h0M553 197h0M513 181h0M508 226h0M531 214h0M515 163h0M518 139h0M470 188h0M523 211h0M509 126h0M508 191h0M537 141h0M528 164h0M556 190h0M490 130h0M457 180h0M511 155h0M483 150h0M497 160h0M488 130h0M490 227h0M526 212h0M511 136h0M495 191h0M493 223h0M548 145h0M490 184h0M521 173h0M529 145h0M505 204h0M491 157h0M493 188h0M525 184h0M502 165h0M474 226h0M494 207h0M476 180h0M549 206h0M510 225h0M456 176h0M535 217h0M485 211h0M530 194h0M493 171h0M527 154h0M533 167h0M521 207h0M539 165h0M504 167h0M530 158h0M536 169h0M548 152h0M565 254h0M566 289h0M562 269h0M571 284h0M570 239h0M558 262h0M555 265h0M561 279h0M554 261h0M504 337h0M496 380h0M571 331h0M511 371h0M540 322h0M508 314h0M505 304h0M528 310h0M571 367h0M556 305h0M550 352h0M511 302h0M546 330h0M529 357h0M554 383h0M554 372h0M512 350h0M558 374h0M543 302h0M492 370h0M555 355h0M508 326h0M527 358h0M491 324h0M546 331h0M538 317h0M538 335h0M517 339h0M515 344h0M564 360h0M570 323h0M518 378h0M507 387h0M499 341h0M555 312h0M547 379h0M498 360h0M498 318h0M542 288h0M539 310h0M508 366h0M504 353h0M520 299h0M500 313h0M557 350h0M534 360h0M624 283h0M597 336h0M626 374h0M606 281h0M602 296h0M636 344h0M604 347h0M656 303h0M632 291h0M623 322h0M638 276h0M637 277h0M609 393h0M664 364h0M594 329h0M652 307h0M614 332h0M647 381h0M592 355h0M629 275h0M610 312h0M611 345h0M656 374h0M638 322h0M593 288h0M625 269h0M585 309h0M645 289h0M653 324h0M639 363h0M597 369h0M637 364h0M594 352h0M652 294h0M615 286h0M663 378h0M643 368h0M627 325h0M642 336h0M667 364h0M657 344h0M648 283h0M647 321h0M644 301h0" stroke="#8A2F88" stroke-width="6.4" stroke-linecap="round" fill="none"/>
<path transform="scale(.25)" d="M525 79h0M501 79h0M503 32h0M465 64h0M528 92h0M522 96h0M488 32h0M521 68h0M516 104h0M523 105h0M479 69h0M473 85h0M547 93h0M551 62h0M486 40h0M464 46h0M540 73h0M497 45h0M541 90h0M487 88h0M492 72h0M582 104h0M612 101h0M590 100h0M574 122h0M605 105h0M608 127h0M557 97h0M546 115h0M540 107h0M565 93h0M540 83h0M573 85h0M567 94h0M545 116h0M558 116h0M531 108h0M557 110h0M577 107h0M536 80h0M548 86h0M567 107h0M566 75h0M523 84h0M529 196h0M456 184h0M540 180h0M497 197h0M544 174h0M510 213h0M523 151h0M513 172h0M542 176h0M544 202h0M500 199h0M538 171h0M472 192h0M471 216h0M496 129h0M486 223h0M492 185h0M510 167h0M543 192h0M541 207h0M546 160h0M520 150h0M529 165h0M462 200h0M502 161h0M546 193h0M468 159h0M495 213h0M467 161h0M498 161h0M461 161h0M488 130h0M529 218h0M461 186h0M475 142h0M510 133h0M493 133h0M531 138h0M517 219h0M501 170h0M504 165h0M509 150h0M528 193h0M471 137h0M508 151h0M550 158h0M517 217h0M500 146h0M549 191h0M566 361h0M566 334h0M498 310h0M506 370h0M547 355h0M547 367h0M542 380h0M505 334h0M523 339h0M570 334h0M550 381h0M552 363h0M523 330h0M496 374h0M504 383h0M506 359h0M540 298h0M539 370h0M562 313h0M571 349h0M559 380h0M514 364h0M570 350h0M510 366h0M531 347h0M557 379h0M549 331h0M526 310h0M520 357h0M518 331h0M527 365h0M541 303h0M558 366h0M552 303h0M550 385h0M553 362h0M522 374h0M491 328h0M503 333h0M501 368h0M567 339h0M526 397h0M514 314h0M544 294h0" stroke="#B04690" stroke-width="6.4" stroke-linecap="round" fill="none"/>
<path transform="scale(.25)" d="M572 116h0M532 104h0M556 110h0M533 71h0M546 111h0M546 99h0M539 81h0M569 108h0M531 72h0M557 106h0M546 115h0M569 98h0M533 73h0M570 116h0M579 105h0M526 90h0M582 107h0M531 92h0M470 153h0M503 136h0M510 186h0M493 173h0M510 128h0M525 139h0M474 198h0M547 168h0M503 198h0M489 200h0M486 149h0M520 150h0M522 212h0M557 178h0M508 174h0M510 184h0M539 152h0M468 192h0M521 199h0M480 123h0M507 219h0M507 139h0M530 197h0M544 163h0M516 230h0M517 214h0M498 212h0M522 175h0M500 193h0M531 182h0M491 181h0M557 169h0M545 200h0M478 194h0M467 180h0M494 143h0M458 176h0M541 207h0M472 212h0M557 191h0M491 206h0M538 181h0M532 134h0M497 166h0M504 205h0M484 208h0M537 163h0M501 190h0M526 219h0M514 201h0M450 182h0M512 200h0M485 215h0M495 135h0M544 214h0M522 212h0M513 206h0M529 332h0M550 386h0M506 392h0M507 345h0M522 341h0M535 324h0M560 368h0M504 351h0M527 398h0M559 308h0M495 366h0M569 329h0M539 296h0M531 367h0M562 323h0M501 384h0M564 319h0M493 319h0M537 366h0M567 304h0M497 320h0M537 384h0M528 329h0M552 346h0M490 327h0M553 337h0M564 338h0M524 331h0M512 342h0M533 331h0M537 295h0M553 377h0M510 374h0M510 304h0M490 365h0" stroke="#C0508A" stroke-width="6.4" stroke-linecap="round" fill="none"/>
<path transform="scale(.25)" d="M412 158h0M389 130h0M363 220h0M374 131h0M374 141h0M391 193h0M416 173h0M388 157h0M365 167h0M402 134h0M403 132h0M411 149h0M377 236h0M390 159h0M349 183h0M397 184h0M388 159h0M411 181h0M358 198h0M372 159h0M390 215h0M399 140h0M423 201h0M377 180h0M390 169h0M364 192h0M350 188h0M422 150h0M362 194h0M397 205h0M363 154h0M375 158h0M370 159h0M391 160h0M380 199h0M632 335h0M635 324h0M611 324h0M643 289h0M646 280h0M623 368h0M642 339h0M603 373h0M606 377h0M622 351h0M624 356h0M631 386h0M629 292h0M602 294h0M653 330h0M600 268h0M593 318h0M641 331h0M656 381h0M625 280h0M635 371h0M599 346h0M597 337h0M651 304h0M620 380h0M641 330h0M666 366h0M656 352h0M635 290h0M656 379h0M638 314h0M658 389h0M661 377h0M599 270h0M661 318h0M649 297h0M622 359h0M635 271h0M631 312h0M601 317h0M648 297h0M593 313h0M587 277h0M643 357h0M609 283h0M614 283h0M667 337h0M638 381h0M609 344h0M637 335h0M652 331h0M620 260h0M638 354h0" stroke="#A23A8C" stroke-width="6.4" stroke-linecap="round" fill="none"/>
<path transform="scale(.25)" d="M361 147h0M358 189h0M378 208h0M411 180h0M399 149h0M415 153h0M380 137h0M384 203h0M393 165h0M363 200h0M395 157h0M367 158h0M392 232h0M402 159h0M358 158h0M367 194h0M385 161h0M382 167h0M420 185h0M398 174h0M414 145h0M424 193h0M419 172h0M363 208h0M364 144h0M423 162h0M356 155h0M414 178h0M365 153h0M401 192h0M380 164h0M405 224h0M384 181h0M401 212h0M367 131h0M386 193h0M449 206h0M456 207h0M428 208h0M429 208h0M438 201h0M634 349h0M627 338h0M655 333h0M629 340h0M620 301h0M623 318h0M635 374h0M631 285h0M597 326h0M660 334h0M618 306h0M624 318h0M597 278h0M628 293h0M637 312h0M646 391h0M613 382h0M623 360h0M664 328h0M623 351h0M660 382h0M617 367h0M632 368h0M612 283h0M623 360h0M586 289h0M643 377h0M633 390h0M630 257h0M631 297h0M609 260h0M660 384h0M611 388h0M627 361h0M603 332h0M612 310h0M631 315h0M609 281h0M615 330h0M654 378h0M638 402h0M657 338h0M628 312h0M658 308h0M629 383h0M624 342h0M615 376h0M620 297h0M592 458h0M603 442h0M600 465h0M603 443h0M607 414h0M611 438h0M607 442h0M609 428h0M583 496h0M613 403h0" stroke="#D9607C" stroke-width="6.4" stroke-linecap="round" fill="none"/>
<path transform="scale(.25)" d="M363 220h0M355 197h0M425 196h0M417 157h0M405 187h0M372 142h0M405 139h0M379 149h0M386 177h0M389 173h0M384 174h0M376 224h0M404 151h0M372 211h0M367 227h0M413 168h0M359 210h0M361 190h0M423 188h0M386 158h0M406 203h0M380 222h0M383 213h0M352 193h0M401 206h0M396 209h0M403 143h0M372 203h0M415 220h0M405 152h0M360 225h0M401 158h0M396 165h0M389 174h0M397 180h0M378 159h0M433 204h0M459 206h0M445 213h0M431 210h0M432 193h0M461 203h0M459 207h0M460 209h0M430 195h0M441 210h0M608 330h0M633 299h0M601 366h0M619 270h0M610 315h0M595 285h0M613 347h0M622 394h0M612 384h0M608 259h0M616 358h0M648 389h0M635 286h0M640 346h0M607 370h0M602 337h0M589 320h0M642 352h0M596 307h0M584 291h0M611 271h0M638 287h0M599 288h0M603 332h0M649 358h0M638 344h0M611 328h0M619 314h0M615 350h0M641 341h0M587 326h0M620 378h0M653 336h0M609 296h0M619 358h0M591 470h0M596 449h0M612 419h0M604 441h0M608 438h0M613 417h0M614 402h0M589 468h0" stroke="#E0707A" stroke-width="6.4" stroke-linecap="round" fill="none"/>
<path transform="scale(.25)" d="M401 205h0M367 186h0M354 181h0M351 172h0M375 196h0M383 169h0M398 195h0M399 131h0M397 236h0M416 168h0M395 229h0M378 155h0M358 193h0M351 208h0M387 175h0M388 240h0M382 221h0M399 215h0M372 230h0M408 171h0M364 219h0M354 190h0M369 181h0M359 173h0M424 198h0M359 190h0M397 186h0M385 201h0M411 140h0M413 162h0M414 137h0M352 180h0M382 176h0M411 179h0M361 155h0M363 169h0M395 166h0M374 204h0M407 214h0M371 141h0M426 195h0M437 197h0M442 216h0M452 202h0M634 345h0M639 325h0M609 368h0M634 372h0M647 292h0M622 354h0M652 358h0M645 292h0M607 260h0M645 337h0M617 338h0M638 367h0M649 375h0M633 282h0M658 336h0M600 341h0M616 315h0M640 282h0M655 371h0M587 333h0M643 301h0M635 401h0M620 347h0M632 281h0M632 303h0M602 355h0M625 375h0M642 371h0M646 339h0M650 393h0M656 319h0M634 325h0M644 312h0M596 346h0M619 298h0M614 283h0M636 314h0M654 378h0M639 398h0M613 310h0M613 381h0M617 366h0M580 511h0M614 422h0M606 435h0" stroke="#C8508A" stroke-width="6.4" stroke-linecap="round" fill="none"/>
<path transform="scale(.25)" d="M393 137h0M413 146h0M408 188h0M427 174h0M402 153h0M383 212h0M374 212h0M402 227h0M358 159h0M361 181h0M391 236h0M405 148h0M359 160h0M414 148h0M376 155h0M412 202h0M391 153h0M422 164h0M407 193h0M380 170h0M390 147h0M409 224h0M364 173h0M353 227h0M403 220h0M618 388h0M620 270h0M631 308h0M665 365h0M651 384h0M589 353h0M632 347h0M595 346h0M636 301h0M668 351h0M607 286h0M633 386h0M584 314h0M619 360h0M634 323h0M617 271h0M640 304h0M621 383h0M621 379h0M607 353h0M606 365h0M655 338h0M654 301h0M590 289h0M587 337h0M648 340h0M649 348h0M665 342h0M587 333h0M594 318h0M613 262h0M627 299h0M650 403h0M608 358h0M660 358h0M660 374h0M603 334h0" stroke="#E98B7B" stroke-width="6.4" stroke-linecap="round" fill="none"/>
<path transform="scale(.25)" d="M443 217h0M441 218h0M432 214h0M440 193h0M420 200h0M596 451h0M596 473h0M599 439h0M606 424h0M592 458h0M615 404h0M606 435h0" stroke="#D25886" stroke-width="6.4" stroke-linecap="round" fill="none"/>
<path transform="scale(.25)" d="M449 217h0M427 206h0M459 208h0M426 205h0M458 207h0M446 196h0M428 202h0M607 444h0M606 439h0M603 442h0M601 432h0M589 475h0M616 423h0M583 502h0M606 422h0M602 454h0" stroke="#E88075" stroke-width="6.4" stroke-linecap="round" fill="none"/>
<path transform="scale(.25)" d="M324 324h0M334 307h0M358 330h0M355 293h0M355 334h0M353 314h0M361 307h0M321 337h0M348 289h0M329 323h0M356 314h0M333 349h0M344 347h0M349 328h0M335 324h0M349 336h0" stroke="#D96482" stroke-width="6.4" stroke-linecap="round" fill="none"/>
<path transform="scale(.25)" d="M324 310h0M356 323h0M324 335h0M334 336h0M361 312h0M325 307h0M353 289h0M352 289h0M344 345h0M345 334h0M346 325h0M346 320h0M353 331h0M322 309h0M336 334h0M328 321h0M334 299h0M330 289h0" stroke="#E57F7A" stroke-width="6.4" stroke-linecap="round" fill="none"/>
<path transform="scale(.25)" d="M347 286h0M344 314h0M319 320h0M347 287h0M336 331h0M367 312h0M346 292h0M344 283h0M337 302h0M325 337h0M325 325h0M324 299h0M346 341h0M334 312h0M361 290h0M353 324h0" stroke="#E0707C" stroke-width="6.4" stroke-linecap="round" fill="none"/>
<path transform="scale(.25)" d="M340 294h0M321 336h0M326 297h0M358 337h0M356 301h0M347 320h0M334 327h0M368 307h0M321 314h0M355 282h0M349 334h0" stroke="#EFA088" stroke-width="6.4" stroke-linecap="round" fill="none"/>
<path transform="scale(.25)" d="M331 291h0M330 309h0M354 295h0M322 323h0M334 348h0M319 323h0M324 320h0M337 346h0M337 306h0M316 319h0M339 339h0M321 320h0M359 292h0M333 286h0M344 296h0M335 319h0M351 331h0M359 325h0M351 309h0" stroke="#EB8F7E" stroke-width="6.4" stroke-linecap="round" fill="none"/>
<path transform="scale(.25)" d="M565 261h0M568 257h0M562 249h0M553 274h0M551 278h0M565 285h0M574 271h0M562 285h0M570 243h0" stroke="#451570" stroke-width="6.4" stroke-linecap="round" fill="none"/>
<path transform="scale(.25)" d="M564 267h0M574 240h0M569 287h0M562 240h0M580 259h0M566 258h0M561 257h0M559 246h0" stroke="#7F2A88" stroke-width="6.4" stroke-linecap="round" fill="none"/>
<path transform="scale(.25)" d="M567 270h0M574 248h0M562 290h0M574 256h0M567 277h0M568 243h0" stroke="#3A1068" stroke-width="6.4" stroke-linecap="round" fill="none"/>
<path transform="scale(.25)" d="M131 407h0M135 419h0M84 405h0M75 409h0M116 420h0M140 402h0M64 399h0M134 413h0M150 418h0M137 402h0M106 391h0M113 432h0M112 416h0M61 416h0M142 426h0M110 437h0M102 435h0M109 430h0M137 403h0M122 425h0M121 410h0M114 397h0M84 434h0M80 413h0M139 435h0M151 421h0M123 416h0M488 673h0M511 623h0M499 686h0M476 676h0M512 677h0M467 656h0M480 658h0M460 664h0M501 626h0M513 641h0M460 665h0M504 634h0M485 626h0M501 676h0M459 641h0M498 678h0M515 666h0M493 700h0M524 661h0M505 691h0M466 640h0M454 650h0M455 670h0M518 675h0M494 674h0M478 646h0M505 630h0M502 690h0M628 658h0M608 646h0M642 630h0M627 665h0M607 630h0M610 687h0M589 648h0M573 656h0M569 615h0M594 602h0M592 591h0M605 627h0M590 664h0M607 684h0M628 603h0M574 631h0M568 683h0M561 653h0M589 614h0M628 687h0M599 598h0M594 634h0M562 647h0M613 677h0M570 626h0M637 610h0M592 606h0M554 649h0M637 662h0M622 623h0M557 629h0M577 673h0M637 618h0M631 635h0M641 642h0M613 691h0M579 594h0M581 664h0M593 675h0M584 693h0M598 686h0M589 638h0M569 599h0M606 599h0M589 658h0M582 594h0M564 655h0M586 590h0M599 637h0M635 609h0M560 645h0M585 655h0M585 662h0M631 636h0" stroke="#DCD3D0" stroke-width="6.4" stroke-linecap="round" fill="none"/>
<path transform="scale(.25)" d="M79 429h0M118 435h0M116 421h0M86 420h0M148 418h0M114 405h0M138 425h0M76 424h0M104 393h0M70 400h0M88 393h0M62 417h0M87 398h0M65 411h0M102 440h0M113 438h0M130 421h0M511 470h0M523 487h0M512 403h0M516 432h0M517 429h0M509 454h0M520 506h0M545 466h0M539 458h0M558 467h0M539 460h0M541 485h0M545 483h0M557 499h0M575 520h0M564 523h0M544 524h0M548 534h0M560 517h0M583 515h0M546 529h0M497 638h0M478 578h0M488 533h0M492 569h0M463 583h0M507 528h0M513 568h0M504 513h0M518 535h0M479 539h0M481 604h0M474 573h0M525 545h0M485 626h0M476 620h0M498 530h0M514 617h0M484 610h0M505 546h0M536 567h0M461 572h0M520 628h0M506 573h0M497 594h0M517 529h0M499 544h0M473 635h0M512 578h0M521 543h0M521 534h0M532 562h0M472 556h0M466 575h0M487 617h0M478 573h0M489 562h0M489 629h0M528 526h0M483 621h0M499 630h0M505 639h0M502 617h0M519 581h0M495 530h0M515 547h0M529 534h0M507 639h0M494 653h0M495 619h0M475 646h0M472 675h0M495 670h0M472 614h0M466 687h0M482 620h0M491 683h0M475 687h0M463 641h0M515 636h0M447 677h0M469 674h0M463 686h0M519 640h0M505 686h0M452 639h0M506 657h0M485 694h0M471 664h0M474 698h0M490 636h0M489 663h0M490 690h0M504 673h0M452 655h0M511 625h0M486 657h0M457 632h0M491 698h0M446 675h0M486 705h0M491 661h0M488 627h0M468 680h0M503 660h0M475 676h0M457 662h0M478 644h0M456 639h0M474 697h0M462 658h0M473 678h0M637 659h0M622 626h0M620 651h0M549 628h0M630 663h0M621 666h0M623 638h0M639 653h0M606 672h0M619 645h0M627 616h0M622 671h0M579 591h0M625 664h0M603 618h0M594 655h0M586 657h0M605 614h0M593 662h0M567 645h0M620 635h0M580 688h0M588 589h0M635 632h0M575 596h0M606 667h0M618 665h0M579 643h0M637 612h0M566 676h0M584 665h0M556 670h0M549 623h0M611 614h0M617 646h0M591 656h0M576 675h0M605 607h0M554 629h0M603 581h0M617 613h0M593 616h0M560 610h0M615 661h0M610 635h0M625 597h0M560 668h0M519 668h0M567 670h0M583 682h0M537 705h0M555 710h0M568 679h0M545 680h0M566 705h0M505 670h0M581 694h0M555 697h0M513 691h0M541 657h0M550 702h0M482 692h0M556 698h0M559 688h0" stroke="#D9D9D9" stroke-width="6.4" stroke-linecap="round" fill="none"/>
<path transform="scale(.25)" d="M75 411h0M118 427h0M142 427h0M114 434h0M85 422h0M74 397h0M84 433h0M145 406h0M70 427h0M118 422h0M64 412h0M121 434h0M99 421h0M131 399h0M87 416h0M115 398h0M87 433h0M81 397h0M86 419h0M114 408h0M143 417h0M142 411h0M101 426h0M83 417h0M146 419h0M73 401h0M63 417h0M489 703h0M503 661h0M485 632h0M461 676h0M491 692h0M479 647h0M508 626h0M451 668h0M512 661h0M467 624h0M495 674h0M493 692h0M505 672h0M463 691h0M504 690h0M468 700h0M478 673h0M511 691h0M482 630h0M509 630h0M524 663h0M500 626h0M493 700h0M517 693h0M477 635h0M473 655h0M469 673h0M505 628h0M450 649h0M497 638h0M608 636h0M597 688h0M553 626h0M615 636h0M586 661h0M565 622h0M569 644h0M629 624h0M544 635h0M603 614h0M643 648h0M560 660h0M606 635h0M613 605h0M584 599h0M602 657h0M601 588h0M548 624h0M602 667h0M571 594h0M613 676h0M612 590h0M597 612h0M588 617h0M635 614h0M581 639h0M562 653h0M599 639h0M606 651h0M640 663h0M555 647h0M559 636h0M578 607h0M573 646h0M619 603h0M576 607h0M586 628h0M600 596h0M595 591h0M610 665h0M602 648h0M628 631h0M598 631h0M622 596h0M588 663h0M596 591h0M555 618h0M613 666h0M607 652h0M604 666h0M585 593h0M573 629h0" stroke="#CFCFCF" stroke-width="6.4" stroke-linecap="round" fill="none"/>
<path transform="scale(.25)" d="M139 401h0M128 408h0M89 415h0M154 418h0M105 421h0M105 422h0M91 429h0M64 401h0M124 415h0M83 423h0M106 431h0M113 414h0M79 424h0M130 396h0M132 406h0M117 395h0M74 410h0M109 429h0M125 396h0M108 388h0M121 437h0M129 400h0M493 627h0M512 659h0M499 641h0M493 641h0M464 673h0M468 661h0M478 689h0M469 623h0M485 632h0M476 693h0M488 681h0M511 625h0M520 679h0M500 656h0M479 677h0M480 701h0M496 667h0M486 675h0M466 660h0M491 693h0M506 676h0M464 625h0M519 638h0M517 669h0M496 676h0M480 653h0M479 625h0M482 701h0M615 653h0M578 650h0M619 635h0M586 637h0M569 594h0M635 637h0M634 628h0M606 691h0M622 657h0M575 590h0M616 591h0M552 655h0M647 645h0M626 679h0M603 617h0M640 644h0M574 636h0M586 614h0M577 603h0M588 676h0M610 586h0M603 615h0M597 682h0M581 632h0M606 610h0M577 625h0M607 636h0M605 588h0M614 634h0M605 633h0M614 645h0M579 618h0M576 676h0M607 650h0M586 604h0M598 612h0M608 636h0M593 687h0M621 651h0M610 639h0M587 690h0" stroke="#E3C4B8" stroke-width="6.4" stroke-linecap="round" fill="none"/>
<path transform="scale(.25)" d="M114 399h0M143 422h0M88 410h0M106 415h0M120 425h0M68 410h0M114 397h0M94 408h0M151 424h0M129 411h0M71 411h0M72 416h0M133 429h0M81 420h0M131 424h0M70 398h0M101 416h0M500 643h0M499 660h0M494 631h0M484 634h0M494 641h0M483 706h0M462 645h0M505 697h0M509 693h0M465 633h0M493 702h0M467 614h0M464 648h0M514 657h0M494 706h0M450 661h0M506 691h0M454 661h0M458 630h0M449 656h0M485 677h0M505 706h0M471 670h0M514 652h0M465 647h0M505 693h0M528 666h0M495 657h0M519 681h0M491 634h0M571 618h0M592 636h0M630 644h0M554 621h0M549 624h0M613 613h0M573 632h0M641 633h0M568 661h0M570 629h0M579 641h0M586 616h0M564 683h0M569 664h0M569 587h0M600 649h0M599 624h0M569 622h0M609 614h0M564 683h0M583 602h0M600 661h0M600 693h0M612 641h0M590 656h0M635 634h0M602 599h0M555 610h0M561 648h0M558 619h0M608 602h0M636 656h0M592 616h0M612 602h0M557 610h0M577 611h0M580 624h0M594 614h0M576 627h0M622 616h0M555 666h0M626 670h0M588 614h0M635 611h0M568 682h0M579 637h0M574 636h0" stroke="#D4D4D4" stroke-width="6.4" stroke-linecap="round" fill="none"/>
<path transform="scale(.25)" d="M516 484h0M521 483h0M513 483h0M517 473h0M517 507h0M515 406h0M550 499h0M547 455h0M559 492h0M549 453h0M546 467h0M536 454h0M540 481h0M550 496h0M547 448h0M576 517h0M563 514h0M492 554h0M513 544h0M495 603h0M464 623h0M470 625h0M498 596h0M488 579h0M501 618h0M486 602h0M502 560h0M485 579h0M497 556h0M494 551h0M519 524h0M490 576h0M476 607h0M532 566h0M483 587h0M461 566h0M487 577h0M514 539h0M499 621h0M475 641h0M478 567h0M541 556h0M528 547h0M496 593h0M515 600h0M481 593h0M496 534h0M511 538h0M523 622h0M490 556h0M490 627h0M469 592h0M498 589h0M498 535h0M530 585h0M485 633h0M591 676h0M555 696h0M571 679h0M503 702h0M522 654h0M515 674h0M517 698h0M505 661h0M520 669h0M513 680h0M587 681h0M581 690h0M556 669h0M580 685h0M587 665h0M575 700h0M545 696h0M489 695h0M593 686h0M535 690h0" stroke="#DDD5D2" stroke-width="6.4" stroke-linecap="round" fill="none"/>
<path transform="scale(.25)" d="M522 481h0M517 458h0M507 421h0M517 513h0M513 456h0M509 445h0M519 492h0M523 480h0M509 464h0M514 481h0M517 497h0M552 469h0M554 497h0M564 526h0M551 522h0M583 509h0M579 511h0M504 575h0M492 638h0M487 538h0M508 526h0M514 515h0M491 521h0M470 626h0M484 644h0M507 605h0M463 573h0M492 600h0M528 571h0M492 580h0M512 630h0M517 624h0M521 557h0M514 581h0M527 523h0M510 565h0M490 613h0M485 604h0M495 524h0M527 605h0M489 549h0M509 614h0M529 555h0M510 542h0M516 562h0M516 641h0M516 567h0M545 543h0M470 578h0M475 594h0M500 562h0M493 621h0M503 623h0M472 568h0M519 612h0M514 573h0M490 562h0M528 608h0M525 538h0M561 659h0M572 671h0M526 692h0M563 693h0M527 685h0M506 696h0M589 683h0M578 681h0M518 681h0M588 675h0M545 669h0M484 680h0M523 681h0M512 684h0M533 695h0M587 695h0M530 666h0M554 678h0M564 693h0M561 662h0M559 665h0M521 670h0M546 703h0M576 670h0M539 702h0M532 684h0M480 674h0M483 692h0M538 661h0M587 682h0M487 672h0M514 698h0M585 691h0M591 690h0" stroke="#E9967F" stroke-width="6.4" stroke-linecap="round" fill="none"/>
<path transform="scale(.25)" d="M520 448h0M521 491h0M513 442h0M509 437h0M516 487h0M517 434h0M510 427h0M546 448h0M552 484h0M552 458h0M553 460h0M548 537h0M578 518h0M586 511h0M571 527h0M519 545h0M508 517h0M517 574h0M474 640h0M485 541h0M476 631h0M526 576h0M535 593h0M494 559h0M463 582h0M472 610h0M525 574h0M474 582h0M538 595h0M514 524h0M506 629h0M502 629h0M495 632h0M498 625h0M530 580h0M525 531h0M474 602h0M540 557h0M510 615h0M489 612h0M482 632h0M505 621h0M501 592h0M503 623h0M522 556h0M521 528h0M477 616h0M476 599h0M468 620h0M496 516h0M497 558h0M518 547h0M461 594h0M487 598h0M527 571h0M482 547h0M520 550h0M538 524h0M498 559h0M539 560h0M479 565h0M519 573h0M592 685h0M514 691h0M506 692h0M539 698h0M518 698h0M542 707h0M519 662h0M542 674h0M581 681h0M534 694h0M500 692h0M559 704h0M499 681h0M521 659h0M567 674h0M518 692h0M526 693h0M498 680h0M496 684h0M541 693h0M549 681h0M577 687h0M535 678h0M539 680h0M552 672h0M569 686h0M553 657h0M538 657h0M508 666h0M512 697h0M492 678h0" stroke="#E6B5A4" stroke-width="6.4" stroke-linecap="round" fill="none"/>
<path transform="scale(.25)" d="M519 435h0M517 493h0M508 442h0M512 441h0M520 495h0M561 485h0M547 478h0M541 484h0M550 461h0M542 460h0M555 465h0M560 484h0M535 459h0M548 536h0M542 532h0M550 528h0M560 531h0M546 523h0M546 527h0M502 624h0M498 525h0M462 575h0M506 576h0M497 587h0M494 579h0M534 605h0M525 549h0M512 538h0M510 557h0M489 573h0M516 593h0M507 603h0M486 603h0M488 629h0M462 599h0M506 647h0M470 639h0M488 603h0M525 628h0M485 570h0M542 594h0M466 616h0M469 605h0M494 642h0M462 577h0M517 546h0M480 620h0M491 593h0M459 584h0M475 563h0M476 569h0M497 571h0M473 629h0M501 516h0M532 695h0M509 698h0M509 678h0M489 664h0M517 668h0M497 672h0M527 661h0M519 687h0M517 699h0M570 662h0M494 684h0M577 704h0M528 684h0M499 662h0M552 664h0M573 697h0M527 656h0M524 674h0M486 699h0M542 673h0" stroke="#D2D2D2" stroke-width="6.4" stroke-linecap="round" fill="none"/>
<path transform="scale(.25)" d="M507 437h0M513 495h0M517 453h0M519 499h0M518 431h0M523 453h0M543 483h0M536 466h0M551 484h0M536 448h0M557 474h0M548 468h0M585 501h0M559 520h0M559 517h0M580 517h0M539 530h0M570 520h0M548 532h0M575 509h0M561 514h0M538 532h0M481 614h0M505 521h0M525 529h0M532 581h0M490 613h0M480 582h0M515 618h0M498 524h0M521 590h0M534 558h0M467 575h0M468 597h0M502 557h0M493 520h0M513 549h0M537 575h0M514 584h0M512 609h0M519 538h0M502 631h0M479 561h0M496 559h0M498 541h0M465 583h0M458 626h0M526 568h0M522 517h0M524 603h0M493 644h0M464 596h0M471 549h0M495 514h0M514 552h0M501 599h0M507 580h0M481 676h0M589 676h0M570 701h0M586 673h0M573 676h0M558 706h0M533 676h0M530 695h0M511 686h0M497 668h0M552 698h0M513 703h0M573 684h0M573 662h0M550 666h0M504 704h0M547 710h0M546 665h0M544 657h0M513 695h0M521 673h0M566 700h0M497 693h0M495 683h0M552 657h0" stroke="#EDA48C" stroke-width="6.4" stroke-linecap="round" fill="none"/>
</g>
<rect x="1012.3" y="471.3" width="174.4" height="187.9" fill="none" stroke="#000" stroke-width="1.5"/>
<g transform="translate(1199.4 471.3) scale(0.9921 0.9942)">
<g filter="url(#bl)" opacity="0.85">
<ellipse cx="126.6" cy="17.2" rx="11.4" ry="7.7" fill="#E98B7B" transform="rotate(20 126.6 17.2)"/>
<ellipse cx="147.5" cy="29.6" rx="6.6" ry="5.7" fill="#E98B7B" transform="rotate(30 147.5 29.6)"/>
<ellipse cx="137.7" cy="24" rx="7" ry="4.8" fill="#E98B7B" transform="rotate(30 137.7 24)"/>
<ellipse cx="97" cy="45.6" rx="7.9" ry="11.9" fill="#722885" transform="rotate(8 97 45.6)"/>
<ellipse cx="126.6" cy="44.3" rx="11" ry="11" fill="#722885" transform="rotate(0 126.6 44.3)"/>
<ellipse cx="110.5" cy="51.5" rx="4.8" ry="2.6" fill="#933489" transform="rotate(10 110.5 51.5)"/>
<ellipse cx="86" cy="78.8" rx="5.1" ry="7.2" fill="#E98B7B" transform="rotate(25 86 78.8)"/>
<ellipse cx="141.4" cy="66.5" rx="3.2" ry="5.7" fill="#933489" transform="rotate(10 141.4 66.5)"/>
<ellipse cx="132.7" cy="86.2" rx="9.2" ry="11" fill="#722885" transform="rotate(10 132.7 86.2)"/>
<ellipse cx="156.1" cy="82.5" rx="8.4" ry="15" fill="#E98B7B" transform="rotate(-14 156.1 82.5)"/>
<ellipse cx="26.2" cy="103.4" rx="10.1" ry="5.1" fill="#EFA48C" transform="rotate(8 26.2 103.4)"/>
<ellipse cx="128.8" cy="114" rx="1.6" ry="11.4" fill="#722885" transform="rotate(-4 128.8 114)"/>
<ellipse cx="137" cy="118" rx="2.3" ry="6.6" fill="#BF4A8A" transform="rotate(-15 137 118)"/>
<ellipse cx="150" cy="113" rx="1.3" ry="11.9" fill="#BF4A8A" transform="rotate(18 150 113)"/>
<ellipse cx="141" cy="130" rx="6.2" ry="2.2" fill="#BF4A8A" transform="rotate(-30 141 130)"/>
<ellipse cx="125" cy="145" rx="8.4" ry="14.1" fill="#BF4A8A" transform="rotate(12 125 145)"/>
<ellipse cx="121.5" cy="165" rx="7.9" ry="9.7" fill="#E98B7B" transform="rotate(0 121.5 165)"/>
<ellipse cx="148.8" cy="160" rx="10.1" ry="11.4" fill="#EFA48C" transform="rotate(0 148.8 160)"/>
<ellipse cx="134" cy="171" rx="12.3" ry="5.7" fill="#EFA48C" transform="rotate(0 134 171)"/>
</g>
<path transform="scale(.25)" d="M476 83h0M507 95h0M543 70h0M516 36h0M530 98h0M463 40h0M554 92h0M549 66h0M528 38h0M473 87h0M552 65h0M538 97h0M513 50h0M540 80h0M532 52h0M529 50h0M451 73h0M513 76h0M478 60h0M497 56h0M473 81h0M476 71h0M481 77h0M479 55h0M507 90h0M517 80h0M500 49h0M519 60h0M513 56h0M529 71h0M506 88h0M486 86h0M545 78h0M578 141h0M588 140h0M610 128h0M587 93h0M578 141h0M586 130h0M567 114h0M608 131h0M609 122h0M602 134h0M574 89h0M573 98h0M587 130h0M604 97h0M597 113h0M606 119h0M575 132h0M580 100h0M570 81h0M530 73h0M537 107h0M552 111h0M579 108h0M555 76h0M542 102h0M529 91h0M530 77h0M562 97h0M553 101h0M573 91h0M520 87h0M573 118h0M544 83h0M550 89h0M522 78h0M554 112h0M543 70h0M368 319h0M324 316h0M360 290h0M344 336h0M351 312h0M330 330h0M333 324h0M323 330h0M350 286h0M333 294h0M343 337h0M325 312h0M354 282h0M343 344h0M328 336h0M603 266h0M599 372h0M635 373h0M660 322h0M612 324h0M657 349h0M638 285h0M640 337h0M644 348h0M607 294h0M634 351h0M605 304h0M633 323h0M610 329h0M631 282h0M592 298h0M634 346h0M626 365h0M615 377h0M589 298h0M606 334h0M620 369h0M613 382h0M614 330h0M608 356h0M651 294h0M634 407h0M636 376h0M593 339h0M593 351h0M636 345h0M591 351h0M633 289h0M597 324h0M619 293h0M646 377h0M634 391h0M641 297h0M656 327h0M656 365h0M622 363h0M615 386h0M585 295h0M637 340h0M607 277h0M592 333h0M631 298h0M655 390h0M611 287h0M630 286h0M583 292h0M644 382h0M655 387h0M646 369h0M604 277h0M648 372h0M588 290h0M655 324h0M635 394h0M513 630h0M515 630h0M476 682h0M482 686h0M488 635h0M498 687h0M465 696h0M463 669h0M465 640h0M457 641h0M447 660h0M496 637h0M461 636h0M449 671h0M452 678h0M494 645h0M483 685h0M469 680h0M484 647h0M464 653h0M460 647h0M481 631h0M477 668h0M481 651h0M480 650h0M499 633h0M479 679h0M496 688h0M479 635h0M520 681h0M493 635h0M484 669h0M485 693h0M464 624h0M465 691h0M470 628h0M513 680h0M504 657h0M480 651h0M508 648h0M501 616h0M471 651h0M472 700h0M477 684h0M481 643h0M514 635h0M478 681h0" stroke="#E0707C" stroke-width="6.4" stroke-linecap="round" fill="none"/>
<path transform="scale(.25)" d="M487 30h0M499 98h0M512 43h0M501 100h0M519 90h0M548 50h0M502 54h0M459 49h0M537 85h0M517 98h0M489 91h0M500 37h0M499 32h0M463 78h0M453 67h0M531 46h0M478 26h0M529 68h0M525 81h0M487 69h0M481 45h0M478 58h0M505 34h0M496 61h0M525 82h0M508 33h0M483 76h0M472 47h0M479 34h0M483 50h0M474 61h0M508 65h0M505 43h0M477 86h0M554 70h0M571 123h0M598 97h0M589 97h0M591 94h0M564 129h0M584 97h0M610 114h0M620 121h0M602 104h0M581 98h0M570 104h0M561 116h0M579 97h0M568 99h0M520 87h0M541 107h0M525 94h0M529 88h0M565 80h0M565 117h0M557 116h0M554 113h0M537 98h0M576 110h0M575 117h0M355 303h0M322 327h0M366 310h0M356 287h0M367 320h0M344 347h0M328 305h0M370 292h0M333 317h0M361 315h0M343 335h0M332 312h0M354 339h0M353 306h0M327 300h0M343 310h0M327 297h0M345 295h0M652 308h0M596 362h0M617 285h0M637 292h0M654 298h0M593 350h0M663 353h0M623 295h0M632 320h0M582 309h0M591 317h0M585 283h0M657 356h0M617 281h0M630 397h0M612 326h0M649 340h0M599 300h0M633 307h0M633 368h0M642 369h0M628 329h0M578 322h0M607 292h0M667 331h0M630 355h0M624 349h0M633 286h0M614 262h0M603 353h0M658 306h0M631 352h0M613 366h0M597 347h0M629 287h0M587 300h0M645 389h0M644 359h0M634 328h0M649 346h0M657 326h0M609 333h0M628 381h0M628 340h0M643 372h0M606 263h0M627 316h0M617 344h0M621 392h0M630 361h0M611 327h0M628 295h0M653 341h0M640 382h0M599 363h0M658 319h0M659 342h0M590 320h0M656 318h0M498 703h0M506 641h0M484 689h0M459 696h0M464 623h0M516 655h0M476 697h0M460 637h0M498 697h0M461 653h0M511 688h0M461 658h0M461 644h0M508 680h0M491 634h0M509 616h0M473 668h0M515 654h0M494 697h0M502 657h0M485 697h0M520 642h0M478 679h0M463 695h0M463 646h0M468 693h0" stroke="#E57F7A" stroke-width="6.4" stroke-linecap="round" fill="none"/>
<path transform="scale(.25)" d="M517 51h0M553 82h0M522 69h0M505 73h0M546 100h0M494 90h0M498 79h0M529 100h0M479 58h0M511 66h0M522 37h0M543 72h0M526 97h0M466 75h0M545 65h0M477 90h0M523 80h0M482 83h0M526 69h0M524 92h0M462 58h0M468 83h0M496 37h0M464 64h0M539 98h0M519 92h0M551 93h0M517 36h0M462 64h0M504 67h0M495 53h0M512 69h0M468 78h0M491 43h0M500 57h0M538 67h0M462 77h0M529 48h0M540 86h0M523 55h0M538 97h0M449 56h0M479 100h0M520 106h0M519 92h0M513 104h0M510 52h0M490 55h0M486 68h0M524 73h0M561 97h0M594 98h0M598 106h0M604 115h0M569 131h0M580 142h0M561 113h0M595 94h0M593 124h0M582 103h0M588 133h0M602 94h0M596 117h0M565 108h0M599 133h0M581 106h0M526 75h0M555 90h0M564 111h0M548 111h0M555 122h0M567 102h0M576 98h0M363 328h0M339 302h0M330 302h0M355 295h0M325 318h0M364 305h0M364 296h0M338 300h0M365 324h0M331 317h0M351 288h0M333 340h0M341 321h0M365 292h0M356 327h0M342 307h0M368 301h0M652 348h0M598 266h0M634 292h0M640 366h0M592 333h0M605 384h0M625 271h0M665 334h0M645 341h0M615 354h0M590 279h0M634 293h0M624 321h0M649 336h0M596 355h0M642 371h0M638 362h0M625 373h0M639 312h0M641 303h0M626 346h0M611 369h0M612 261h0M583 301h0M663 357h0M615 392h0M649 310h0M586 335h0M612 261h0M634 272h0M651 378h0M662 330h0M617 387h0M649 383h0M601 303h0M615 295h0M625 372h0M655 290h0M654 327h0M612 270h0M661 353h0M646 308h0M597 310h0M634 284h0M594 280h0M597 353h0M630 308h0M649 370h0M601 256h0M624 389h0M610 366h0M647 377h0M596 375h0M590 335h0M477 700h0M463 647h0M453 683h0M485 668h0M497 648h0M464 637h0M462 663h0M490 705h0M457 644h0M519 658h0M498 620h0M469 690h0M509 672h0M465 631h0M472 698h0M515 654h0M470 624h0M515 689h0M486 636h0M494 675h0M501 692h0M506 646h0M490 691h0M497 617h0M483 707h0M463 688h0M520 645h0M472 667h0" stroke="#EB8F7E" stroke-width="6.4" stroke-linecap="round" fill="none"/>
<path transform="scale(.25)" d="M509 94h0M494 81h0M487 39h0M469 31h0M510 78h0M502 45h0M536 52h0M500 30h0M504 101h0M492 75h0M519 39h0M516 85h0M542 89h0M473 69h0M503 33h0M498 86h0M457 75h0M464 72h0M539 83h0M492 60h0M482 72h0M465 55h0M507 48h0M536 56h0M503 45h0M463 67h0M536 65h0M504 69h0M520 39h0M499 101h0M537 46h0M552 74h0M525 109h0M613 121h0M606 108h0M596 139h0M583 95h0M606 129h0M572 103h0M610 112h0M565 103h0M588 111h0M576 119h0M597 108h0M600 145h0M606 112h0M602 116h0M581 119h0M607 101h0M574 135h0M541 81h0M534 113h0M552 116h0M540 100h0M571 102h0M556 83h0M562 85h0M532 112h0M562 82h0M543 78h0M568 115h0M552 115h0M563 122h0M539 108h0M578 96h0M534 111h0M545 71h0M349 336h0M355 331h0M342 338h0M346 285h0M366 312h0M366 304h0M358 324h0M352 326h0M335 344h0M333 347h0M334 326h0M347 289h0M354 313h0M609 363h0M602 329h0M649 394h0M595 353h0M615 393h0M590 330h0M637 326h0M604 311h0M652 349h0M642 295h0M618 386h0M647 293h0M648 336h0M614 259h0M640 334h0M624 273h0M635 344h0M625 273h0M629 352h0M619 262h0M632 373h0M640 328h0M623 271h0M641 281h0M582 324h0M608 322h0M581 301h0M613 265h0M626 270h0M610 269h0M632 339h0M645 361h0M607 303h0M643 292h0M587 320h0M629 334h0M634 394h0M619 279h0M624 334h0M454 657h0M495 704h0M494 669h0M502 702h0M500 642h0M494 650h0M500 662h0M453 672h0M449 645h0M484 655h0M460 684h0M497 649h0M452 660h0M479 672h0M495 686h0M472 649h0M524 655h0M500 652h0M492 676h0M467 667h0M473 624h0M482 681h0M488 682h0M462 627h0M518 683h0" stroke="#D96482" stroke-width="6.4" stroke-linecap="round" fill="none"/>
<path transform="scale(.25)" d="M524 44h0M535 92h0M461 44h0M459 50h0M535 58h0M506 103h0M468 88h0M537 107h0M527 85h0M527 89h0M509 48h0M509 107h0M542 79h0M486 56h0M463 74h0M533 79h0M544 82h0M514 104h0M457 69h0M523 103h0M558 91h0M485 32h0M475 88h0M496 95h0M516 87h0M502 44h0M461 44h0M495 91h0M455 66h0M470 67h0M457 59h0M539 48h0M480 65h0M473 53h0M588 143h0M610 128h0M573 121h0M570 107h0M605 122h0M594 111h0M594 133h0M603 128h0M596 107h0M585 135h0M621 122h0M576 107h0M614 126h0M618 108h0M599 140h0M615 105h0M616 116h0M593 90h0M568 125h0M558 99h0M549 92h0M538 92h0M532 104h0M529 83h0M525 84h0M562 105h0M560 113h0M560 96h0M570 84h0M526 83h0M535 75h0M572 83h0M551 81h0M537 96h0M570 111h0M562 81h0M531 91h0M560 93h0M358 319h0M355 283h0M361 286h0M363 316h0M349 311h0M343 317h0M345 294h0M340 311h0M324 307h0M353 293h0M367 319h0M324 341h0M325 323h0M334 303h0M337 348h0M362 313h0M359 289h0M636 345h0M654 347h0M639 317h0M637 277h0M608 367h0M645 303h0M648 332h0M649 355h0M646 392h0M655 304h0M643 303h0M651 380h0M607 361h0M645 382h0M617 296h0M648 313h0M636 290h0M639 335h0M612 343h0M590 298h0M632 287h0M657 379h0M646 363h0M584 331h0M614 391h0M622 321h0M606 305h0M604 350h0M608 303h0M618 372h0M619 354h0M589 334h0M602 300h0M639 315h0M640 335h0M636 379h0M647 316h0M653 394h0M624 390h0M624 392h0M667 348h0M613 290h0M643 335h0M615 383h0M585 335h0M607 375h0M643 269h0M640 308h0M463 659h0M477 686h0M516 632h0M493 701h0M472 675h0M501 649h0M497 647h0M498 644h0M480 613h0M509 655h0M490 659h0M454 634h0M488 696h0M460 663h0M488 678h0M445 667h0M516 684h0M496 645h0M480 621h0M469 665h0M504 681h0M456 689h0M474 675h0M456 655h0M488 667h0M473 618h0M482 625h0M456 653h0M476 680h0M470 638h0M506 694h0M455 638h0M523 676h0M494 659h0M489 654h0" stroke="#EFA088" stroke-width="6.4" stroke-linecap="round" fill="none"/>
<path transform="scale(.25)" d="M350 176h0M405 150h0M402 128h0M419 160h0M393 152h0M362 226h0M415 147h0M389 218h0M377 165h0M369 213h0M365 169h0M368 175h0M405 203h0M358 215h0M379 168h0M350 215h0M401 209h0M374 147h0M356 200h0M366 173h0M402 216h0M403 212h0M384 225h0M358 196h0M407 224h0M397 140h0M378 234h0M426 181h0M396 140h0M423 200h0M416 143h0M376 200h0M373 209h0M416 148h0M393 159h0M416 146h0M521 145h0M521 143h0M508 172h0M530 198h0M510 201h0M512 173h0M522 154h0M546 185h0M511 178h0M529 151h0M508 225h0M475 167h0M495 211h0M535 180h0M482 129h0M476 134h0M493 158h0M483 194h0M467 183h0M547 159h0M521 159h0M469 168h0M533 140h0M500 198h0M538 166h0M466 186h0M484 207h0M543 154h0M523 179h0M492 219h0M532 189h0M554 191h0M506 129h0M518 221h0M552 172h0M515 194h0M461 206h0M431 203h0M446 214h0M446 201h0M447 211h0M460 216h0M433 214h0M447 218h0M557 277h0M571 266h0M572 274h0M561 278h0M550 325h0M540 324h0M550 303h0M553 335h0M520 320h0M553 307h0M530 381h0M545 294h0M496 371h0M562 354h0M556 384h0M507 355h0M504 344h0M527 304h0M505 332h0M552 332h0M491 326h0M530 364h0M543 345h0M492 360h0M560 332h0M513 334h0M571 327h0M521 386h0M506 307h0M557 338h0M498 383h0M550 389h0M562 337h0M503 374h0M502 328h0M516 375h0M542 297h0M546 297h0M525 287h0M549 377h0M533 339h0M521 490h0M508 447h0M509 455h0M511 432h0M510 404h0" stroke="#B04690" stroke-width="6.4" stroke-linecap="round" fill="none"/>
<path transform="scale(.25)" d="M357 180h0M424 165h0M373 150h0M405 137h0M365 153h0M395 129h0M381 132h0M400 211h0M360 185h0M374 222h0M401 228h0M362 224h0M382 234h0M375 224h0M366 195h0M409 225h0M360 149h0M388 197h0M403 222h0M401 234h0M423 157h0M397 194h0M360 221h0M372 143h0M385 225h0M359 155h0M412 148h0M402 133h0M361 146h0M465 146h0M502 195h0M518 201h0M467 180h0M459 166h0M496 228h0M475 154h0M468 189h0M522 193h0M527 218h0M537 211h0M501 132h0M546 193h0M533 208h0M516 170h0M462 165h0M476 202h0M521 220h0M461 181h0M495 130h0M555 188h0M492 143h0M535 169h0M544 204h0M473 187h0M527 168h0M476 218h0M485 150h0M524 208h0M463 161h0M485 134h0M491 182h0M507 205h0M486 214h0M489 213h0M482 144h0M474 193h0M481 196h0M540 149h0M501 134h0M525 225h0M507 219h0M537 179h0M522 166h0M520 132h0M520 165h0M524 203h0M462 209h0M448 204h0M438 201h0M444 204h0M564 278h0M565 260h0M560 244h0M563 247h0M567 274h0M574 248h0M564 240h0M555 280h0M553 274h0M564 285h0M546 324h0M538 397h0M526 338h0M560 304h0M537 363h0M555 345h0M528 298h0M521 317h0M520 338h0M576 340h0M532 332h0M563 326h0M504 311h0M483 357h0M513 392h0M507 348h0M519 357h0M512 339h0M538 390h0M538 365h0M503 344h0M531 320h0M503 368h0M540 367h0M504 359h0M530 391h0M520 363h0M510 477h0M515 479h0M515 421h0M522 479h0M511 468h0M512 464h0M516 476h0M513 464h0" stroke="#9E3A8C" stroke-width="6.4" stroke-linecap="round" fill="none"/>
<path transform="scale(.25)" d="M378 198h0M364 172h0M368 195h0M360 214h0M355 216h0M402 173h0M358 166h0M384 219h0M386 178h0M424 154h0M355 189h0M385 219h0M384 213h0M359 193h0M354 160h0M368 180h0M388 169h0M404 182h0M356 155h0M397 162h0M382 222h0M396 134h0M403 206h0M418 164h0M362 152h0M373 140h0M401 178h0M391 156h0M413 144h0M365 225h0M385 197h0M418 145h0M390 170h0M380 177h0M360 158h0M356 196h0M517 164h0M552 195h0M547 158h0M482 158h0M457 191h0M467 149h0M479 215h0M534 127h0M544 145h0M537 182h0M514 207h0M500 221h0M497 151h0M515 173h0M558 167h0M535 151h0M505 204h0M535 219h0M515 133h0M498 208h0M477 161h0M510 129h0M538 127h0M551 168h0M510 231h0M519 161h0M504 150h0M552 189h0M488 176h0M538 147h0M537 208h0M499 164h0M504 129h0M474 160h0M488 188h0M472 178h0M455 188h0M554 194h0M505 163h0M547 163h0M509 210h0M543 184h0M492 155h0M443 213h0M450 207h0M449 197h0M430 213h0M430 211h0M445 198h0M456 200h0M443 195h0M429 195h0M559 278h0M563 266h0M562 267h0M577 278h0M555 264h0M559 292h0M576 263h0M567 277h0M573 274h0M575 256h0M573 250h0M540 371h0M568 340h0M508 310h0M549 334h0M511 350h0M518 353h0M517 379h0M558 363h0M544 353h0M518 296h0M558 370h0M521 380h0M551 341h0M501 318h0M513 323h0M523 344h0M556 358h0M539 313h0M538 343h0M514 345h0M491 336h0M537 362h0M551 307h0M571 324h0M518 319h0M528 380h0M540 353h0M568 357h0M512 371h0M567 317h0M499 364h0M520 373h0M549 330h0M505 322h0M522 310h0M532 304h0M549 385h0M562 336h0M514 500h0M509 405h0M512 418h0M510 421h0M516 449h0" stroke="#8A2F88" stroke-width="6.4" stroke-linecap="round" fill="none"/>
<path transform="scale(.25)" d="M400 231h0M362 218h0M383 201h0M407 149h0M365 205h0M366 220h0M364 183h0M412 189h0M358 157h0M377 179h0M389 184h0M427 184h0M390 135h0M419 144h0M403 215h0M377 229h0M389 152h0M389 126h0M379 245h0M409 179h0M416 148h0M417 188h0M410 220h0M389 235h0M355 184h0M384 233h0M364 221h0M392 173h0M397 205h0M409 210h0M377 139h0M453 183h0M482 184h0M525 190h0M524 144h0M491 169h0M486 169h0M520 129h0M506 198h0M542 210h0M485 146h0M500 209h0M509 217h0M512 186h0M482 180h0M536 135h0M527 219h0M521 139h0M495 167h0M459 155h0M491 203h0M536 197h0M539 164h0M461 195h0M524 218h0M480 190h0M530 211h0M544 146h0M478 216h0M553 182h0M527 147h0M493 201h0M552 188h0M496 228h0M456 188h0M487 184h0M502 159h0M535 179h0M523 146h0M488 142h0M506 212h0M464 185h0M555 174h0M506 135h0M548 375h0M547 326h0M563 343h0M497 335h0M541 319h0M564 327h0M558 380h0M531 347h0M547 296h0M536 318h0M560 364h0M496 355h0M513 342h0M564 307h0M534 338h0M493 333h0M512 361h0M487 354h0M504 377h0M562 350h0M551 343h0M555 350h0M527 297h0M527 308h0M541 347h0M505 341h0M559 301h0M486 339h0M530 358h0M531 311h0M497 361h0M555 355h0M576 343h0M542 375h0M529 396h0M549 383h0M511 338h0M528 297h0M514 451h0M512 432h0M519 461h0M514 488h0M516 461h0M513 481h0" stroke="#5A2080" stroke-width="6.4" stroke-linecap="round" fill="none"/>
<path transform="scale(.25)" d="M400 162h0M374 166h0M363 227h0M361 180h0M380 225h0M358 213h0M388 220h0M377 157h0M396 163h0M377 135h0M361 200h0M403 161h0M395 159h0M406 138h0M393 158h0M394 224h0M384 149h0M377 223h0M390 164h0M380 153h0M382 210h0M410 159h0M377 225h0M399 165h0M407 164h0M393 136h0M384 142h0M361 224h0M383 210h0M367 174h0M380 160h0M370 138h0M404 225h0M518 229h0M530 152h0M513 145h0M547 192h0M481 194h0M540 205h0M535 152h0M543 173h0M473 186h0M482 143h0M488 169h0M520 202h0M550 191h0M559 173h0M557 159h0M504 152h0M536 190h0M553 174h0M510 163h0M519 128h0M500 153h0M505 220h0M528 179h0M543 146h0M552 181h0M484 168h0M480 158h0M512 232h0M527 209h0M498 177h0M539 216h0M509 183h0M538 137h0M455 169h0M511 142h0M488 179h0M474 194h0M435 202h0M458 209h0M454 202h0M439 193h0M554 277h0M567 267h0M569 243h0M566 237h0M566 279h0M573 281h0M561 255h0M552 260h0M534 297h0M513 301h0M516 342h0M521 329h0M522 314h0M531 317h0M543 308h0M531 300h0M532 296h0M575 319h0M517 331h0M574 334h0M522 360h0M539 388h0M506 296h0M535 311h0M569 348h0M526 357h0M492 368h0M542 308h0M516 352h0M519 296h0M525 298h0M507 333h0M547 392h0M533 308h0M540 333h0M564 332h0M566 364h0M521 371h0M493 360h0M532 328h0M560 302h0M572 359h0M535 330h0M522 386h0M505 349h0M570 319h0M520 495h0M519 480h0M517 420h0M511 452h0M522 466h0M512 415h0M522 443h0" stroke="#7A2A85" stroke-width="6.4" stroke-linecap="round" fill="none"/>
<path transform="scale(.25)" d="M407 163h0M397 147h0M359 187h0M372 145h0M369 186h0M353 185h0M365 149h0M362 220h0M363 229h0M400 164h0M380 134h0M379 194h0M385 203h0M390 228h0M407 122h0M382 127h0M383 185h0M412 189h0M379 134h0M375 151h0M388 239h0M355 184h0M355 193h0M395 225h0M369 214h0M374 174h0M366 240h0M405 180h0M366 148h0M355 180h0M357 222h0M465 151h0M494 143h0M500 199h0M500 224h0M551 152h0M495 133h0M540 166h0M460 187h0M467 184h0M549 191h0M521 128h0M526 168h0M513 203h0M551 176h0M525 206h0M527 160h0M488 161h0M454 183h0M475 214h0M456 175h0M546 209h0M548 152h0M464 149h0M452 198h0M515 205h0M472 166h0M484 177h0M480 218h0M511 206h0M518 189h0M483 139h0M536 181h0M531 184h0M516 148h0M462 146h0M503 218h0M535 195h0M509 139h0M514 220h0M547 212h0M507 174h0M493 161h0M492 175h0M552 156h0M480 190h0M517 313h0M491 383h0M556 344h0M527 331h0M537 368h0M501 320h0M507 304h0M495 375h0M493 342h0M557 363h0M565 371h0M496 373h0M526 311h0M535 312h0M489 351h0M506 342h0M493 342h0M571 350h0M531 300h0M496 380h0M541 322h0M516 359h0M533 339h0M536 368h0M524 384h0M517 350h0M518 357h0M554 376h0M550 305h0M560 364h0M515 327h0M574 340h0M524 300h0M515 357h0M521 449h0M521 496h0M511 418h0M521 445h0M510 408h0M516 488h0M512 439h0M510 438h0M511 477h0M508 433h0M508 408h0" stroke="#6B2585" stroke-width="6.4" stroke-linecap="round" fill="none"/>
<path transform="scale(.25)" d="M436 208h0M430 211h0M457 209h0M452 196h0M439 196h0M464 207h0M575 245h0M558 262h0M564 284h0M565 271h0M566 272h0M580 272h0M572 263h0M572 268h0M569 266h0" stroke="#C0508A" stroke-width="6.4" stroke-linecap="round" fill="none"/>
<path transform="scale(.25)" d="M124 439h0M133 440h0M114 409h0M141 431h0M69 414h0M64 404h0M76 407h0M120 416h0M121 410h0M86 406h0M122 429h0M79 411h0M68 422h0M119 395h0M68 419h0M127 390h0M133 413h0M116 429h0M112 439h0M126 400h0M97 422h0M77 401h0M141 404h0M77 414h0M158 413h0M103 400h0M134 410h0M119 420h0M575 685h0M617 688h0M579 693h0M575 647h0M629 640h0M553 621h0M590 640h0M582 665h0M636 598h0M639 654h0M590 603h0M617 676h0M553 628h0M582 598h0M551 637h0M617 673h0M586 605h0M576 676h0M590 618h0M556 613h0M612 649h0M551 644h0M567 612h0M576 672h0M589 661h0M613 588h0M604 686h0M595 685h0M572 673h0M558 667h0M627 654h0M623 633h0M569 625h0M623 592h0M595 674h0M628 614h0M575 617h0M628 639h0M583 677h0M624 613h0M613 652h0M614 663h0M605 628h0M576 629h0M591 663h0M580 614h0M590 686h0M553 652h0M610 666h0M600 606h0M559 612h0M557 633h0M593 586h0M574 671h0M596 653h0M576 656h0M510 695h0M565 673h0M497 675h0M578 691h0M486 668h0M529 689h0M577 699h0M512 660h0M569 685h0M556 705h0M482 690h0M562 686h0M577 673h0M556 690h0M583 680h0M567 669h0M509 699h0M529 659h0M544 668h0M565 678h0M577 683h0M504 686h0M540 690h0M488 687h0M583 676h0M557 682h0M532 669h0" stroke="#F2B098" stroke-width="6.4" stroke-linecap="round" fill="none"/>
<path transform="scale(.25)" d="M107 396h0M80 424h0M99 433h0M113 425h0M95 429h0M115 391h0M85 406h0M115 396h0M109 422h0M58 414h0M137 429h0M97 397h0M93 391h0M130 396h0M109 426h0M143 414h0M58 407h0M103 428h0M113 411h0M620 658h0M635 654h0M612 624h0M603 610h0M592 613h0M562 675h0M610 619h0M627 641h0M549 645h0M631 619h0M614 623h0M587 585h0M554 630h0M590 586h0M615 633h0M636 653h0M565 598h0M584 604h0M578 648h0M602 601h0M579 626h0M609 620h0M593 685h0M578 677h0M549 654h0M575 674h0M619 679h0M611 689h0M619 593h0M592 631h0M576 624h0M616 635h0M575 624h0M614 634h0M633 637h0M584 615h0M615 674h0M643 649h0M591 682h0M585 623h0M584 657h0M602 670h0M592 693h0M560 666h0M603 593h0M622 617h0M624 634h0M574 611h0M493 691h0M492 696h0M552 693h0M542 699h0M484 678h0M574 698h0M518 673h0M578 694h0M552 691h0M543 691h0M590 679h0M556 697h0M492 671h0M533 662h0M546 686h0M538 696h0M521 691h0M574 665h0M585 694h0M524 684h0M507 685h0M563 692h0M500 706h0M524 667h0M533 688h0M548 668h0M475 689h0M586 705h0M528 672h0M509 667h0M518 666h0M530 665h0M564 683h0M575 693h0M575 680h0M537 706h0M583 676h0" stroke="#F0A58C" stroke-width="6.4" stroke-linecap="round" fill="none"/>
<path transform="scale(.25)" d="M115 415h0M72 404h0M119 432h0M102 436h0M96 403h0M149 421h0M87 427h0M115 424h0M152 412h0M74 394h0M127 425h0M83 427h0M86 399h0M102 400h0M89 419h0M96 425h0M122 417h0M83 417h0M555 644h0M647 631h0M635 623h0M584 598h0M594 619h0M580 671h0M570 614h0M631 620h0M563 608h0M582 651h0M622 633h0M584 691h0M615 593h0M589 585h0M554 666h0M629 653h0M571 675h0M562 612h0M641 621h0M586 684h0M564 629h0M549 634h0M619 642h0M586 633h0M570 644h0M612 648h0M600 661h0M607 685h0M582 686h0M560 601h0M575 598h0M573 683h0M555 637h0M585 643h0M560 603h0M600 661h0M559 675h0M503 667h0M549 690h0M502 669h0M575 680h0M536 664h0M543 709h0M521 663h0M533 684h0M490 679h0M480 686h0M568 673h0M505 693h0M495 702h0M491 673h0M497 703h0M567 704h0M560 670h0M578 704h0M559 686h0" stroke="#EE9A84" stroke-width="6.4" stroke-linecap="round" fill="none"/>
<path transform="scale(.25)" d="M96 406h0M137 427h0M74 419h0M81 424h0M94 424h0M158 412h0M124 409h0M76 414h0M116 430h0M135 400h0M145 408h0M108 428h0M68 400h0M120 429h0M122 425h0M93 405h0M90 399h0M119 408h0M64 403h0M71 406h0M69 395h0M126 435h0M71 424h0M549 619h0M548 644h0M579 613h0M610 678h0M589 646h0M564 683h0M638 618h0M612 649h0M616 677h0M609 639h0M575 678h0M568 638h0M578 616h0M630 637h0M617 655h0M567 598h0M634 655h0M632 660h0M634 639h0M568 686h0M620 653h0M610 619h0M574 645h0M557 655h0M557 672h0M641 608h0M613 684h0M574 639h0M622 653h0M620 594h0M567 661h0M615 639h0M637 619h0M557 661h0M623 677h0M579 692h0M565 616h0M595 619h0M577 667h0M568 664h0M616 637h0M641 635h0M497 668h0M558 690h0M559 681h0M482 696h0M569 663h0M577 688h0M564 661h0M528 694h0M596 686h0M567 684h0M592 688h0M555 690h0M592 674h0M520 673h0M509 685h0M554 669h0M550 713h0M476 685h0M518 704h0M473 694h0M552 674h0M509 682h0M589 683h0M588 698h0M509 693h0M492 674h0M584 691h0M572 671h0M589 695h0M577 687h0M514 693h0M573 692h0M548 695h0M492 699h0M505 675h0" stroke="#EA8E80" stroke-width="6.4" stroke-linecap="round" fill="none"/>
<path transform="scale(.25)" d="M85 423h0M122 398h0M82 395h0M148 422h0M109 435h0M125 399h0M111 394h0M139 405h0M63 404h0M128 399h0M120 399h0M69 393h0M111 409h0M137 423h0M79 417h0M150 427h0M140 418h0M133 433h0M68 390h0M139 409h0M62 407h0M138 425h0M578 679h0M627 648h0M607 610h0M638 613h0M542 657h0M614 690h0M551 631h0M581 621h0M588 602h0M551 642h0M602 680h0M596 647h0M596 656h0M612 680h0M582 615h0M555 658h0M625 650h0M560 629h0M598 661h0M548 641h0M597 639h0M616 680h0M576 642h0M585 589h0M589 594h0M590 702h0M631 667h0M563 647h0M641 664h0M595 666h0M618 664h0M606 658h0M590 593h0M624 649h0M612 644h0M620 612h0M578 623h0M617 648h0M587 680h0M618 681h0M603 677h0M622 623h0M582 686h0M593 610h0M576 667h0M625 617h0M619 623h0M570 622h0M553 680h0M628 651h0M581 654h0M558 640h0M549 644h0M587 669h0M580 665h0M594 681h0M585 690h0M617 688h0M521 669h0M584 689h0M571 666h0M550 681h0M498 664h0M558 678h0M532 679h0M522 669h0M554 695h0M580 668h0M506 673h0M560 672h0M551 666h0M508 691h0M512 702h0M536 686h0M489 688h0M487 672h0M556 686h0M520 698h0M562 675h0M520 677h0M579 666h0M518 697h0M498 683h0M533 670h0M509 699h0M531 683h0M487 671h0" stroke="#EC957F" stroke-width="6.4" stroke-linecap="round" fill="none"/>
<path transform="scale(.25)" d="M548 485h0M557 475h0M542 470h0M558 475h0M542 456h0M545 453h0M549 469h0M606 434h0M607 440h0M595 462h0M587 480h0M587 489h0M587 497h0M540 532h0M576 523h0M575 506h0M577 509h0M580 503h0M567 510h0M577 506h0M547 520h0M576 525h0M555 532h0M556 525h0M482 603h0M513 615h0M524 547h0M484 585h0M475 542h0M517 547h0M519 571h0M519 586h0M486 541h0M492 600h0M501 565h0M539 566h0M479 550h0M498 540h0M480 603h0M508 570h0M494 613h0M476 575h0M466 577h0M507 641h0M529 574h0M474 560h0M533 594h0M533 540h0M507 584h0M476 551h0M469 575h0M531 542h0M536 543h0M533 598h0M482 618h0M533 600h0M472 633h0M473 605h0M488 593h0M466 614h0M497 522h0M486 584h0M473 542h0M466 560h0M513 539h0M515 565h0M514 602h0M519 629h0M520 554h0M508 630h0M517 563h0M482 602h0M533 557h0M475 558h0M525 599h0M486 578h0M479 606h0M470 637h0M528 573h0M506 534h0M543 595h0M539 556h0M480 551h0M501 567h0M517 617h0M520 612h0" stroke="#D9607C" stroke-width="6.4" stroke-linecap="round" fill="none"/>
<path transform="scale(.25)" d="M543 472h0M549 458h0M556 495h0M551 482h0M546 472h0M551 478h0M543 484h0M545 467h0M549 474h0M544 471h0M605 452h0M591 492h0M619 402h0M594 455h0M598 465h0M599 464h0M585 500h0M589 480h0M563 509h0M546 537h0M540 530h0M545 537h0M585 503h0M573 505h0M516 529h0M528 586h0M530 591h0M483 587h0M480 583h0M503 645h0M487 612h0M477 533h0M462 599h0M465 624h0M479 610h0M489 579h0M508 583h0M464 586h0M481 594h0M498 558h0M502 586h0M510 593h0M540 550h0M458 598h0M515 516h0M476 573h0M508 586h0M462 563h0M501 514h0M504 630h0M532 604h0M463 617h0M511 566h0M530 581h0M533 539h0M513 595h0M531 573h0M501 641h0M517 606h0M508 620h0M491 592h0M530 580h0M474 567h0M458 593h0M461 571h0M465 638h0M496 617h0M493 641h0M519 545h0M530 523h0M491 587h0M499 585h0M497 535h0M459 590h0M497 524h0M521 546h0M483 622h0M514 556h0M518 560h0" stroke="#E0707A" stroke-width="6.4" stroke-linecap="round" fill="none"/>
<path transform="scale(.25)" d="M547 483h0M549 477h0M544 478h0M556 472h0M550 463h0M540 464h0M551 495h0M611 437h0M596 478h0M598 456h0M586 504h0M594 477h0M607 416h0M583 506h0M575 506h0M581 508h0M565 518h0M513 511h0M481 561h0M501 623h0M484 600h0M495 648h0M510 593h0M509 523h0M499 607h0M495 535h0M513 613h0M524 580h0M514 537h0M480 627h0M513 631h0M477 632h0M517 623h0M486 578h0M511 565h0M524 571h0M493 597h0M502 617h0M470 551h0M475 592h0M522 569h0M480 564h0M462 566h0M521 547h0M522 559h0M501 536h0M484 593h0M521 618h0M533 572h0M507 629h0M466 583h0M499 654h0M481 579h0M490 620h0M468 614h0M521 549h0M509 584h0M519 613h0M469 552h0M511 559h0M478 602h0M506 550h0" stroke="#B8458C" stroke-width="6.4" stroke-linecap="round" fill="none"/>
<path transform="scale(.25)" d="M562 492h0M549 495h0M547 489h0M538 471h0M551 453h0M557 488h0M557 502h0M555 492h0M545 484h0M607 425h0M600 469h0M615 413h0M597 453h0M600 465h0M595 445h0M545 524h0M540 530h0M582 521h0M571 506h0M568 508h0M572 523h0M485 579h0M507 515h0M527 609h0M511 558h0M529 609h0M495 555h0M481 627h0M530 559h0M479 601h0M517 595h0M485 653h0M484 568h0M515 563h0M517 581h0M499 591h0M475 553h0M474 567h0M491 642h0M460 566h0M461 587h0M479 645h0M510 540h0M541 574h0M530 586h0M497 515h0M482 541h0M532 606h0M508 613h0M497 563h0M517 536h0M522 591h0M481 551h0M508 583h0M483 575h0M533 532h0M531 570h0M470 602h0M494 566h0M466 628h0M502 600h0M501 621h0M534 555h0M512 616h0M477 553h0M502 628h0" stroke="#A23A8C" stroke-width="6.4" stroke-linecap="round" fill="none"/>
<path transform="scale(.25)" d="M543 471h0M541 479h0M542 487h0M593 486h0M612 406h0M592 491h0M613 420h0M585 487h0M598 469h0M592 471h0M595 452h0M618 402h0M596 482h0M597 456h0M538 533h0M569 528h0M544 530h0M545 529h0M571 507h0M551 533h0M478 535h0M507 572h0M540 546h0M509 561h0M514 594h0M478 606h0M520 551h0M518 618h0M495 549h0M515 529h0M522 515h0M483 587h0M497 546h0M474 554h0M497 597h0M518 514h0M471 599h0M509 536h0M493 601h0M493 554h0M480 615h0M499 525h0M506 528h0M530 596h0M501 630h0M534 583h0M486 620h0M494 560h0M504 513h0M484 576h0M527 585h0M485 548h0M534 586h0M486 526h0M476 582h0M498 519h0M531 555h0" stroke="#C8508A" stroke-width="6.4" stroke-linecap="round" fill="none"/>
</g>
<rect x="1199.4" y="471.3" width="175.6" height="187.9" fill="none" stroke="#000" stroke-width="1.5"/>
<g transform="translate(1388.2 471.3) scale(0.9819 0.9942)">
<g filter="url(#bl)" opacity="0.85">
<ellipse cx="126.6" cy="17.2" rx="11.4" ry="7.7" fill="#561D7C" transform="rotate(20 126.6 17.2)"/>
<ellipse cx="147.5" cy="29.6" rx="6.6" ry="5.7" fill="#BF4A8A" transform="rotate(30 147.5 29.6)"/>
<ellipse cx="137.7" cy="24" rx="7" ry="4.8" fill="#933489" transform="rotate(30 137.7 24)"/>
<ellipse cx="97" cy="45.6" rx="7.9" ry="11.9" fill="#E0CFC8" transform="rotate(8 97 45.6)"/>
<ellipse cx="126.6" cy="44.3" rx="11" ry="11" fill="#E0CFC8" transform="rotate(0 126.6 44.3)"/>
<ellipse cx="110.5" cy="51.5" rx="4.8" ry="2.6" fill="#DADADA" transform="rotate(10 110.5 51.5)"/>
<ellipse cx="86" cy="78.8" rx="5.1" ry="7.2" fill="#933489" transform="rotate(25 86 78.8)"/>
<ellipse cx="141.4" cy="66.5" rx="3.2" ry="5.7" fill="#DADADA" transform="rotate(10 141.4 66.5)"/>
<ellipse cx="132.7" cy="86.2" rx="9.2" ry="11" fill="#E98B7B" transform="rotate(10 132.7 86.2)"/>
<ellipse cx="156.1" cy="82.5" rx="8.4" ry="15" fill="#722885" transform="rotate(-14 156.1 82.5)"/>
<ellipse cx="26.2" cy="103.4" rx="10.1" ry="5.1" fill="#E98B7B" transform="rotate(8 26.2 103.4)"/>
<ellipse cx="128.8" cy="114" rx="1.6" ry="11.4" fill="#E98B7B" transform="rotate(-4 128.8 114)"/>
<ellipse cx="137" cy="118" rx="2.3" ry="6.6" fill="#E98B7B" transform="rotate(-15 137 118)"/>
<ellipse cx="150" cy="113" rx="1.3" ry="11.9" fill="#BF4A8A" transform="rotate(18 150 113)"/>
<ellipse cx="141" cy="130" rx="6.2" ry="2.2" fill="#DADADA" transform="rotate(-30 141 130)"/>
<ellipse cx="125" cy="145" rx="8.4" ry="14.1" fill="#DADADA" transform="rotate(12 125 145)"/>
<ellipse cx="121.5" cy="165" rx="7.9" ry="9.7" fill="#E0CFC8" transform="rotate(0 121.5 165)"/>
<ellipse cx="148.8" cy="160" rx="10.1" ry="11.4" fill="#EFA48C" transform="rotate(0 148.8 160)"/>
<ellipse cx="134" cy="171" rx="12.3" ry="5.7" fill="#E0CFC8" transform="rotate(0 134 171)"/>
</g>
<path transform="scale(.25)" d="M470 33h0M523 85h0M541 60h0M491 80h0M515 59h0M532 57h0M550 81h0M525 50h0M516 36h0M505 62h0M521 90h0M454 49h0M498 81h0M554 96h0M487 51h0M522 106h0M531 88h0M510 47h0M477 77h0M534 79h0M463 52h0M478 81h0M509 97h0M553 70h0M539 48h0M531 60h0M522 46h0M461 60h0M538 93h0M519 44h0M539 87h0M557 65h0M495 103h0M520 105h0M470 69h0M510 47h0M529 38h0M539 51h0" stroke="#3A1068" stroke-width="6.4" stroke-linecap="round" fill="none"/>
<path transform="scale(.25)" d="M498 39h0M550 58h0M494 35h0M479 51h0M500 78h0M472 92h0M487 52h0M509 69h0M536 80h0M471 59h0M531 100h0M495 49h0M473 48h0M498 40h0M547 80h0M533 89h0M460 58h0M524 65h0M508 37h0M484 99h0M513 33h0M519 95h0M476 73h0M521 74h0M496 78h0M512 72h0M556 65h0M489 68h0M556 69h0M463 38h0M453 66h0M456 62h0M550 98h0M511 54h0M502 54h0M615 302h0M608 270h0M624 273h0M633 327h0M653 389h0M632 321h0M657 360h0M597 265h0M603 315h0M614 294h0M650 332h0M637 375h0M664 345h0M654 343h0M622 358h0M619 277h0M657 326h0M657 361h0M598 357h0M634 357h0M591 283h0M632 302h0M650 290h0M627 286h0M609 387h0M604 274h0M602 330h0M645 388h0M618 380h0M584 329h0M589 306h0M624 324h0M613 385h0M604 333h0" stroke="#6B2585" stroke-width="6.4" stroke-linecap="round" fill="none"/>
<path transform="scale(.25)" d="M509 55h0M550 73h0M516 49h0M463 70h0M494 34h0M465 73h0M479 48h0M519 71h0M500 73h0M515 69h0M460 42h0M461 44h0M463 46h0M523 108h0M536 77h0M484 81h0M540 50h0M529 60h0M516 46h0M556 73h0M484 95h0M496 89h0M547 99h0M502 97h0M481 64h0M517 103h0M561 116h0M575 116h0M530 103h0M523 96h0M555 102h0M562 90h0M577 106h0M534 104h0M522 95h0M558 82h0M546 88h0M517 87h0M554 114h0M575 113h0M550 84h0M534 75h0M345 300h0M343 309h0M339 333h0M347 327h0M339 297h0M365 324h0M342 289h0M366 293h0M344 302h0M349 285h0M322 312h0M353 286h0M328 304h0M347 343h0M323 333h0M329 340h0M343 308h0M333 290h0M597 287h0M628 304h0M615 350h0M644 396h0M652 376h0M621 354h0M664 356h0M595 266h0M619 318h0M627 346h0M596 362h0M602 294h0M585 307h0M642 361h0M602 357h0M598 346h0M618 292h0M582 314h0M609 260h0M661 327h0M621 329h0M621 331h0M598 291h0M625 276h0M613 298h0M657 325h0M601 296h0M607 362h0M650 370h0M640 392h0M600 258h0M600 306h0M627 364h0M604 345h0M632 283h0M604 304h0M597 269h0M626 282h0M632 281h0M582 312h0M644 367h0M588 323h0M632 312h0M581 339h0M643 330h0M619 365h0M618 265h0M586 305h0" stroke="#8A2F88" stroke-width="6.4" stroke-linecap="round" fill="none"/>
<path transform="scale(.25)" d="M465 56h0M473 82h0M524 46h0M478 91h0M502 30h0M474 92h0M470 71h0M530 63h0M487 66h0M454 58h0M530 74h0M505 93h0M512 86h0M457 45h0M511 66h0M482 46h0M527 61h0M487 47h0M504 46h0M501 82h0M488 97h0M501 55h0M474 91h0M496 76h0M537 52h0M502 100h0M493 71h0M476 53h0M540 101h0M494 87h0M489 95h0M497 38h0M593 357h0M601 321h0M662 368h0M607 260h0M590 301h0M612 386h0M607 289h0M614 384h0M616 345h0M654 342h0M593 320h0M596 323h0M585 299h0M644 306h0M607 282h0M613 313h0M634 394h0M646 304h0M653 378h0M613 334h0M620 391h0M654 341h0M605 319h0M642 395h0M595 348h0M599 284h0M644 305h0M582 327h0M646 353h0M630 354h0M602 319h0M596 285h0M654 338h0M604 360h0M603 316h0M631 340h0M605 288h0M598 365h0M636 323h0M642 358h0M599 264h0M601 365h0M584 290h0M598 313h0M621 284h0M588 316h0M616 391h0M634 370h0M605 275h0M616 347h0M662 319h0M602 283h0M614 289h0M600 347h0M611 340h0M606 305h0M616 380h0" stroke="#5A2080" stroke-width="6.4" stroke-linecap="round" fill="none"/>
<path transform="scale(.25)" d="M482 73h0M527 94h0M543 51h0M463 75h0M461 45h0M501 81h0M481 49h0M509 45h0M501 95h0M476 58h0M509 67h0M538 67h0M479 90h0M493 89h0M476 89h0M538 74h0M537 61h0M507 67h0M457 46h0M550 86h0M501 100h0M534 106h0M511 94h0M499 83h0M506 103h0M534 67h0M496 82h0M529 35h0M553 92h0M504 44h0M497 32h0M534 87h0M509 96h0M452 61h0M508 104h0" stroke="#7F2A88" stroke-width="6.4" stroke-linecap="round" fill="none"/>
<path transform="scale(.25)" d="M495 81h0M505 85h0M474 91h0M513 101h0M559 77h0M497 63h0M503 101h0M525 46h0M527 78h0M525 41h0M486 74h0M490 89h0M481 64h0M453 62h0M541 69h0M532 42h0M511 84h0M503 71h0M493 78h0" stroke="#451570" stroke-width="6.4" stroke-linecap="round" fill="none"/>
<path transform="scale(.25)" d="M608 99h0M612 131h0M608 127h0M604 137h0M580 137h0M597 146h0M601 124h0M563 124h0M601 94h0M617 127h0M560 109h0M594 131h0M614 120h0M581 130h0M608 97h0M620 126h0M605 104h0M564 114h0M597 478h0M604 442h0M594 455h0M617 413h0M584 492h0" stroke="#C8508A" stroke-width="6.4" stroke-linecap="round" fill="none"/>
<path transform="scale(.25)" d="M568 104h0M567 127h0M577 101h0M582 138h0M587 146h0M571 106h0M577 110h0M612 133h0M601 132h0M592 113h0M612 128h0M560 108h0M596 120h0M603 116h0M601 103h0M607 144h0M609 118h0M596 140h0M607 424h0M599 473h0M608 422h0M594 489h0M612 422h0M603 444h0M616 407h0M597 442h0" stroke="#A23A8C" stroke-width="6.4" stroke-linecap="round" fill="none"/>
<path transform="scale(.25)" d="M616 127h0M576 102h0M592 102h0M590 124h0M563 126h0M592 126h0M569 132h0M595 106h0M617 118h0M600 137h0M599 137h0M570 105h0M589 103h0M596 94h0M585 503h0M611 434h0M612 429h0M595 478h0M594 482h0M607 442h0M595 474h0M603 438h0" stroke="#D9607C" stroke-width="6.4" stroke-linecap="round" fill="none"/>
<path transform="scale(.25)" d="M588 144h0M588 119h0M560 114h0M570 110h0M602 102h0M617 124h0M591 97h0M580 141h0M613 108h0M577 110h0M588 103h0M571 111h0M591 94h0M604 130h0M590 478h0M591 482h0M604 432h0M600 446h0M607 432h0M605 450h0M617 412h0M595 466h0" stroke="#B8458C" stroke-width="6.4" stroke-linecap="round" fill="none"/>
<path transform="scale(.25)" d="M598 95h0M569 127h0M602 98h0M603 117h0M588 108h0M586 136h0M608 97h0M583 148h0M591 147h0M602 94h0M560 105h0M571 113h0M615 138h0M596 124h0M584 116h0M571 101h0M567 105h0M576 117h0M590 471h0M615 413h0M606 423h0M593 480h0M594 471h0M588 478h0M582 496h0M608 431h0" stroke="#E0707A" stroke-width="6.4" stroke-linecap="round" fill="none"/>
<path transform="scale(.25)" d="M541 115h0M529 112h0M525 102h0M573 84h0M567 104h0M541 72h0M571 109h0M527 108h0M523 78h0M526 80h0M546 117h0M575 115h0M523 94h0M563 106h0M524 93h0M527 97h0M549 71h0M557 115h0M340 287h0M327 341h0M324 322h0M329 339h0M337 332h0M346 322h0M323 325h0M338 299h0M343 328h0M350 304h0" stroke="#C0508A" stroke-width="6.4" stroke-linecap="round" fill="none"/>
<path transform="scale(.25)" d="M533 91h0M575 89h0M543 104h0M523 91h0M549 110h0M545 89h0M535 108h0M571 113h0M543 76h0M542 112h0M358 321h0M343 287h0M334 289h0M334 344h0M363 318h0M328 347h0M364 320h0M320 333h0M360 286h0M358 300h0M341 295h0M333 310h0M346 295h0M346 323h0M349 326h0M341 320h0M334 324h0M351 286h0M330 338h0M578 326h0M635 351h0M624 341h0M594 272h0M631 339h0M601 345h0M609 274h0M611 361h0M620 311h0M599 359h0M592 304h0M648 395h0M637 402h0M650 325h0M598 342h0M651 325h0M644 367h0M629 324h0M659 315h0M599 309h0M610 273h0M653 330h0M588 349h0M644 326h0M661 333h0M619 314h0M617 326h0M627 294h0M624 317h0M578 297h0M659 349h0M649 384h0M617 262h0M623 351h0M647 341h0M658 322h0M643 317h0" stroke="#B04690" stroke-width="6.4" stroke-linecap="round" fill="none"/>
<path transform="scale(.25)" d="M530 106h0M561 113h0M524 82h0M574 114h0M547 116h0M573 107h0M572 86h0M560 91h0M539 84h0M535 94h0M569 86h0M553 86h0M568 95h0M559 100h0M544 76h0M535 94h0M363 286h0M352 332h0M321 340h0M336 346h0M335 310h0M320 325h0M359 324h0M331 335h0M352 316h0M346 317h0M366 325h0M352 340h0M331 332h0M349 320h0M332 291h0M329 340h0M653 349h0M585 335h0M620 385h0M628 270h0M650 341h0M583 332h0M648 288h0M636 344h0M594 283h0M634 341h0M626 275h0M612 360h0M652 339h0M593 373h0M648 284h0M643 287h0M597 278h0M658 353h0M646 335h0M632 349h0M599 280h0M648 371h0M601 280h0M593 352h0M657 375h0M628 321h0M601 309h0M646 329h0M588 314h0M588 346h0M606 330h0M609 314h0M650 346h0M625 310h0M621 305h0M618 339h0M666 350h0M625 317h0M587 334h0M583 296h0" stroke="#7A2A85" stroke-width="6.4" stroke-linecap="round" fill="none"/>
<path transform="scale(.25)" d="M530 99h0M563 84h0M548 84h0M545 81h0M545 116h0M538 97h0M535 106h0M577 97h0M566 116h0M528 101h0M533 110h0M544 100h0M527 98h0M551 75h0M547 114h0M324 332h0M340 306h0M350 345h0M323 303h0M360 312h0M355 327h0M324 342h0M351 334h0M357 326h0M339 340h0M329 331h0M365 297h0M323 306h0M355 323h0M331 326h0M327 319h0M362 305h0M613 354h0M658 372h0M612 322h0M651 406h0M622 362h0M622 350h0M595 365h0M633 277h0M617 303h0M603 271h0M600 269h0M598 320h0M613 323h0M631 337h0M596 295h0M620 338h0M633 381h0M628 290h0M634 385h0M659 340h0M633 269h0M593 283h0M598 302h0M651 371h0M631 352h0M612 375h0M663 329h0M618 345h0M604 361h0M637 282h0M585 293h0M659 368h0M637 324h0M607 333h0M639 369h0M594 272h0M665 337h0M639 349h0M624 390h0M657 335h0M628 316h0M641 277h0M620 374h0" stroke="#9E3A8C" stroke-width="6.4" stroke-linecap="round" fill="none"/>
<path transform="scale(.25)" d="M395 165h0M392 222h0M373 183h0M424 194h0M406 148h0M387 165h0M390 147h0M411 161h0M392 148h0M352 170h0M373 133h0M365 151h0M356 194h0M399 232h0M394 239h0M403 135h0M376 209h0M377 150h0M411 142h0M351 200h0M370 138h0M397 194h0M353 191h0M409 203h0M418 166h0M380 140h0M377 203h0M406 173h0M543 163h0M480 140h0M546 193h0M489 163h0M482 177h0M492 216h0M545 201h0M477 142h0M497 165h0M494 135h0M482 160h0M556 168h0M495 148h0M481 135h0M472 172h0M552 198h0M462 191h0M497 135h0M517 182h0M497 229h0M494 142h0M460 171h0M545 186h0M506 142h0M490 176h0M535 161h0M491 208h0M503 223h0M514 179h0M508 214h0M484 188h0M488 132h0M465 153h0M497 129h0M481 214h0M486 205h0M498 189h0M565 185h0M547 174h0M543 157h0M482 144h0M489 221h0M497 210h0M498 654h0M476 633h0M481 649h0M450 682h0M515 672h0M495 698h0M454 658h0M526 675h0M513 667h0M472 680h0M503 635h0M463 680h0M476 646h0M473 649h0M478 680h0M501 641h0M486 683h0M499 618h0M503 636h0M472 687h0M488 642h0M479 632h0M502 703h0M484 616h0M505 669h0M511 680h0M492 637h0M572 694h0M515 707h0M550 657h0M548 670h0M574 686h0M513 702h0M589 680h0M546 678h0M553 676h0M581 691h0M567 695h0M493 693h0M503 671h0M537 656h0M499 682h0M570 693h0M545 673h0M500 704h0M514 700h0M543 663h0M531 697h0M514 659h0M503 705h0M546 705h0M534 661h0M533 712h0M528 681h0M498 678h0M588 686h0M571 679h0" stroke="#E6B5A4" stroke-width="6.4" stroke-linecap="round" fill="none"/>
<path transform="scale(.25)" d="M395 212h0M360 194h0M420 183h0M354 155h0M358 197h0M405 156h0M384 133h0M352 181h0M381 203h0M402 143h0M386 200h0M378 222h0M405 168h0M409 137h0M361 191h0M414 210h0M416 154h0M366 195h0M388 221h0M414 197h0M403 144h0M410 208h0M366 186h0M364 204h0M409 192h0M398 140h0M379 188h0M383 169h0M393 173h0M384 240h0M424 193h0M350 190h0M410 153h0M364 161h0M476 196h0M474 183h0M531 139h0M505 218h0M540 167h0M499 156h0M517 182h0M515 163h0M548 190h0M509 136h0M515 148h0M522 174h0M495 184h0M543 182h0M552 191h0M463 151h0M470 153h0M526 198h0M473 158h0M511 227h0M523 132h0M480 178h0M474 176h0M535 202h0M495 139h0M474 196h0M475 205h0M541 184h0M526 209h0M533 149h0M510 148h0M466 162h0M464 144h0M490 664h0M481 644h0M472 683h0M466 700h0M477 695h0M487 690h0M458 660h0M449 672h0M502 677h0M468 651h0M495 621h0M488 672h0M463 695h0M481 619h0M465 686h0M505 641h0M485 705h0M474 618h0M478 682h0M516 635h0M476 653h0M462 651h0M517 674h0M479 668h0M482 672h0M458 699h0M520 677h0M479 617h0M505 655h0M480 708h0M477 637h0M488 642h0M478 676h0M486 694h0M578 701h0M564 668h0M569 688h0M553 663h0M485 676h0M549 681h0M522 684h0M555 705h0M529 670h0M501 675h0M584 671h0M492 671h0M539 700h0M556 708h0M543 657h0M532 696h0M539 660h0M505 671h0M481 692h0M514 698h0M565 671h0M514 671h0M530 708h0M489 693h0M504 665h0M482 673h0" stroke="#D2D2D2" stroke-width="6.4" stroke-linecap="round" fill="none"/>
<path transform="scale(.25)" d="M399 178h0M414 192h0M373 138h0M374 159h0M379 135h0M377 162h0M381 132h0M400 199h0M411 206h0M404 223h0M366 222h0M415 174h0M366 209h0M350 176h0M390 159h0M420 199h0M404 212h0M397 210h0M405 175h0M391 134h0M390 181h0M366 168h0M362 198h0M400 204h0M393 151h0M396 129h0M374 158h0M392 137h0M348 180h0M371 172h0M413 183h0M382 146h0M414 183h0M387 137h0M367 170h0M360 218h0M390 219h0M402 231h0M377 170h0M501 130h0M501 186h0M497 152h0M470 155h0M489 157h0M499 187h0M503 155h0M480 185h0M527 207h0M489 157h0M526 138h0M547 158h0M520 142h0M511 139h0M477 159h0M533 148h0M466 167h0M546 209h0M447 184h0M501 135h0M504 188h0M465 140h0M537 220h0M495 199h0M503 137h0M558 190h0M536 161h0M555 186h0M511 148h0M527 144h0M529 128h0M514 201h0M472 186h0M471 139h0M550 158h0M532 145h0M512 218h0M500 223h0M456 171h0M484 152h0M508 155h0M550 202h0M545 200h0M536 160h0M494 669h0M522 670h0M502 659h0M517 658h0M494 690h0M453 644h0M520 669h0M482 687h0M510 643h0M511 670h0M474 694h0M463 664h0M469 666h0M492 684h0M520 677h0M487 633h0M468 651h0M495 661h0M498 632h0M464 668h0M495 701h0M459 648h0M510 675h0M516 633h0M515 685h0M560 661h0M497 696h0M541 685h0M529 703h0M519 686h0M577 665h0M548 695h0M511 675h0M511 673h0M579 699h0M561 694h0M478 680h0M570 702h0M557 676h0M599 681h0M538 694h0M587 693h0M530 669h0M586 676h0M571 688h0M523 704h0M580 691h0M555 693h0" stroke="#E9967F" stroke-width="6.4" stroke-linecap="round" fill="none"/>
<path transform="scale(.25)" d="M389 159h0M374 154h0M399 194h0M386 174h0M423 140h0M390 166h0M406 170h0M367 203h0M359 202h0M381 161h0M376 132h0M408 205h0M369 152h0M364 155h0M394 143h0M387 148h0M399 227h0M363 170h0M417 193h0M360 207h0M376 198h0M370 162h0M396 232h0M405 198h0M378 153h0M382 178h0M361 166h0M374 235h0M379 218h0M356 171h0M409 170h0M385 190h0M401 173h0M498 217h0M553 174h0M471 187h0M534 129h0M512 163h0M542 137h0M497 137h0M491 145h0M467 211h0M494 172h0M514 179h0M473 194h0M479 134h0M536 173h0M493 221h0M517 180h0M518 152h0M486 158h0M535 213h0M468 212h0M477 202h0M494 140h0M493 182h0M489 198h0M537 212h0M544 214h0M514 204h0M466 192h0M540 219h0M537 150h0M492 180h0M468 163h0M486 211h0M481 155h0M542 212h0M532 211h0M537 217h0M462 155h0M500 221h0M466 210h0M484 137h0M486 198h0M504 230h0M490 146h0M481 139h0M561 186h0M432 198h0M445 211h0M448 203h0M427 197h0M459 206h0M429 197h0M564 292h0M571 247h0M561 289h0M564 288h0M579 255h0M565 250h0M562 272h0M554 260h0M567 247h0M552 269h0M556 270h0M573 273h0M577 522h0M545 529h0M575 524h0M545 528h0M577 510h0M545 532h0M567 526h0M505 563h0M492 613h0M536 553h0M488 560h0M476 598h0M501 624h0M479 610h0M495 577h0M535 539h0M492 559h0M498 647h0M513 536h0M503 517h0M540 577h0M516 578h0M478 628h0M478 537h0M491 655h0M492 536h0M499 556h0M523 529h0M477 598h0M508 613h0M476 565h0M527 577h0M528 610h0M509 626h0M485 637h0M519 574h0M531 595h0M514 563h0M468 618h0M511 640h0M513 539h0M504 529h0M500 553h0M477 533h0M463 567h0M483 539h0M507 551h0M482 531h0M496 516h0M481 632h0M498 579h0M519 622h0M517 558h0M482 608h0M463 619h0M470 669h0M509 670h0M470 634h0M494 681h0M469 648h0M469 702h0M512 666h0M488 626h0M481 687h0M469 669h0M497 638h0M480 615h0M487 617h0M483 652h0M493 699h0M451 674h0M515 639h0M473 644h0M489 677h0M465 658h0M501 696h0M567 696h0M516 710h0M542 660h0M524 704h0M496 664h0M521 663h0M519 686h0M525 683h0M563 679h0M491 666h0M544 676h0M545 669h0M492 664h0M534 705h0M577 691h0M578 664h0M547 670h0M560 677h0M544 700h0" stroke="#D9D9D9" stroke-width="6.4" stroke-linecap="round" fill="none"/>
<path transform="scale(.25)" d="M388 195h0M386 185h0M403 208h0M390 176h0M360 197h0M426 162h0M382 212h0M376 220h0M419 171h0M382 150h0M392 191h0M379 166h0M408 166h0M383 164h0M379 152h0M388 136h0M358 214h0M354 203h0M380 184h0M378 217h0M361 197h0M365 176h0M410 171h0M411 188h0M391 195h0M351 186h0M398 200h0M378 201h0M365 151h0M405 193h0M416 203h0M405 150h0M395 226h0M371 223h0M493 183h0M529 212h0M513 210h0M512 177h0M535 207h0M508 147h0M487 221h0M518 149h0M466 211h0M502 140h0M498 224h0M478 171h0M542 169h0M554 185h0M489 195h0M480 192h0M552 175h0M518 193h0M499 132h0M520 144h0M457 175h0M531 133h0M495 161h0M488 127h0M503 216h0M546 177h0M488 175h0M501 206h0M544 140h0M477 221h0M496 227h0M544 156h0M533 170h0M507 195h0M508 176h0M555 160h0M542 168h0M474 157h0M471 146h0M478 146h0M512 639h0M481 617h0M513 642h0M499 650h0M478 619h0M495 621h0M471 677h0M479 635h0M480 660h0M508 655h0M514 680h0M470 632h0M476 699h0M481 661h0M495 629h0M451 671h0M469 656h0M491 629h0M516 682h0M485 681h0M517 627h0M477 645h0M503 669h0M524 650h0M462 631h0M475 654h0M515 668h0M522 700h0M578 700h0M552 654h0M582 670h0M602 687h0M522 662h0M574 667h0M509 657h0M532 683h0M515 698h0M540 668h0M569 673h0M552 656h0M575 676h0M548 711h0M546 678h0M540 683h0M548 679h0" stroke="#EDA48C" stroke-width="6.4" stroke-linecap="round" fill="none"/>
<path transform="scale(.25)" d="M400 138h0M422 185h0M417 208h0M373 195h0M411 151h0M421 199h0M386 187h0M389 169h0M411 146h0M418 189h0M410 225h0M403 221h0M377 173h0M370 215h0M404 127h0M355 163h0M398 223h0M369 220h0M395 121h0M383 158h0M402 218h0M353 162h0M375 136h0M412 218h0M389 174h0M381 175h0M394 156h0M376 226h0M466 185h0M489 190h0M457 178h0M477 144h0M552 188h0M527 205h0M503 180h0M508 228h0M486 167h0M546 181h0M457 176h0M484 168h0M490 146h0M527 137h0M537 165h0M530 177h0M477 200h0M461 156h0M482 160h0M462 169h0M492 178h0M507 137h0M515 190h0M497 218h0M482 171h0M496 157h0M487 181h0M526 176h0M560 176h0M515 164h0M482 180h0M459 199h0M472 217h0M546 178h0M527 156h0M515 214h0M544 149h0M524 123h0M527 132h0M502 182h0M481 143h0M481 207h0M509 145h0M534 220h0M462 182h0M460 657h0M484 701h0M518 648h0M465 666h0M502 694h0M447 658h0M486 613h0M515 642h0M452 669h0M462 658h0M476 625h0M477 646h0M487 677h0M477 616h0M473 629h0M501 658h0M516 674h0M505 694h0M478 647h0M465 683h0M467 671h0M497 661h0M466 657h0M479 638h0M481 698h0M493 642h0M500 686h0M489 655h0M486 630h0M520 707h0M561 700h0M493 693h0M539 697h0M566 707h0M516 665h0M564 685h0M589 683h0M482 672h0M561 686h0M527 691h0M500 678h0M549 667h0M507 686h0M495 684h0M526 696h0M527 661h0M526 663h0M532 706h0M562 676h0M511 668h0M521 676h0M541 686h0M540 670h0M500 697h0M506 669h0M502 680h0M519 694h0M521 666h0M577 682h0" stroke="#DDD5D2" stroke-width="6.4" stroke-linecap="round" fill="none"/>
<path transform="scale(.25)" d="M443 206h0M423 197h0M443 219h0M425 210h0M456 210h0M566 268h0M576 260h0M573 245h0M557 265h0M562 519h0M586 507h0M576 517h0M550 517h0M587 505h0M550 525h0M567 515h0M582 515h0M568 507h0M545 529h0M529 575h0M498 629h0M501 556h0M489 546h0M474 561h0M522 598h0M496 573h0M526 609h0M475 553h0M470 574h0M484 597h0M525 576h0M527 613h0M500 532h0M504 643h0M483 531h0M498 619h0M470 549h0M492 583h0M508 514h0M513 622h0M502 628h0M481 573h0M528 543h0M501 590h0M535 582h0M531 611h0M513 574h0M513 608h0M479 629h0M506 646h0M463 575h0M520 606h0M504 543h0M514 531h0M515 615h0M485 642h0M483 626h0M528 549h0M512 562h0M514 586h0M453 603h0M477 586h0M485 575h0" stroke="#E3C4B8" stroke-width="6.4" stroke-linecap="round" fill="none"/>
<path transform="scale(.25)" d="M441 198h0M460 201h0M447 202h0M438 218h0M448 211h0M437 195h0M440 201h0M422 206h0M436 211h0M451 203h0M573 242h0M570 267h0M568 275h0M552 283h0M577 264h0M572 252h0M553 268h0M574 285h0M574 241h0M578 254h0M552 528h0M591 511h0M568 507h0M548 530h0M574 523h0M566 531h0M511 605h0M485 606h0M459 577h0M476 538h0M490 571h0M494 539h0M505 599h0M489 570h0M504 623h0M469 599h0M508 618h0M518 625h0M468 592h0M539 539h0M482 582h0M532 527h0M487 553h0M486 621h0M482 644h0M497 552h0M492 525h0M513 610h0M495 567h0M470 556h0M481 616h0M498 537h0M460 575h0M512 541h0M490 524h0M494 523h0M512 579h0M475 633h0M488 646h0M525 557h0M488 576h0M520 606h0M511 617h0M483 635h0M504 557h0M506 642h0M468 559h0M537 566h0M480 628h0M519 618h0M535 562h0M500 540h0M479 544h0M480 578h0M478 582h0M460 580h0M511 584h0M500 556h0M521 567h0M483 618h0M520 609h0M524 530h0" stroke="#D4D4D4" stroke-width="6.4" stroke-linecap="round" fill="none"/>
<path transform="scale(.25)" d="M419 200h0M450 208h0M422 209h0M429 214h0M566 280h0M561 257h0M566 250h0M560 255h0M572 253h0M552 279h0M562 283h0M556 288h0M567 236h0M549 535h0M567 514h0M551 517h0M538 579h0M511 574h0M512 620h0M470 597h0M492 648h0M510 591h0M492 581h0M534 606h0M480 584h0M499 551h0M533 526h0M511 599h0M486 628h0M508 642h0M494 582h0M493 625h0M483 547h0M486 589h0M518 596h0M477 549h0M522 537h0M531 601h0M461 589h0M497 625h0M461 577h0M520 531h0M503 645h0M511 581h0M527 572h0M516 542h0M492 544h0M472 541h0M542 530h0M525 540h0M536 595h0M507 599h0M474 538h0M510 626h0M526 576h0M516 613h0M530 538h0M519 557h0M464 626h0M539 573h0M499 565h0M525 582h0M527 548h0" stroke="#DCD3D0" stroke-width="6.4" stroke-linecap="round" fill="none"/>
<path transform="scale(.25)" d="M453 199h0M441 217h0M440 207h0M447 219h0M448 207h0M421 200h0M553 266h0M566 252h0M558 282h0M574 279h0M578 276h0M558 284h0M566 250h0M583 509h0M549 533h0M561 525h0M569 522h0M587 506h0M559 532h0M549 518h0M501 623h0M534 594h0M526 538h0M533 554h0M514 595h0M482 572h0M514 529h0M531 526h0M515 612h0M490 576h0M480 626h0M532 589h0M530 578h0M504 631h0M483 574h0M504 616h0M493 643h0M473 540h0M516 570h0M471 616h0M478 577h0M472 574h0M467 601h0M479 590h0M468 578h0M511 602h0M514 553h0M521 550h0M517 643h0M467 574h0M531 560h0M486 627h0M521 523h0M525 616h0M490 577h0M475 538h0M514 568h0M515 581h0M535 604h0M512 534h0M493 578h0M478 549h0M502 589h0M521 608h0M475 557h0M539 585h0M530 531h0M482 644h0M491 624h0" stroke="#CFCFCF" stroke-width="6.4" stroke-linecap="round" fill="none"/>
<path transform="scale(.25)" d="M488 336h0M527 344h0M557 331h0M571 352h0M538 386h0M559 347h0M493 328h0M527 372h0M521 306h0M531 365h0M563 358h0M533 330h0M525 375h0M503 393h0M495 350h0M534 364h0M571 344h0M499 369h0M490 342h0M567 346h0M574 373h0M522 396h0M495 323h0M563 350h0M510 393h0M561 363h0M559 315h0M516 346h0M547 337h0M520 386h0M511 380h0M545 339h0M552 361h0M558 345h0M532 355h0M563 379h0M549 388h0M560 381h0M506 323h0M566 365h0M546 326h0M526 396h0M550 358h0M538 320h0M565 322h0M569 306h0M541 302h0M550 356h0M548 308h0M569 337h0M531 323h0M525 390h0M547 315h0M130 416h0M73 401h0M59 403h0M85 403h0M115 435h0M142 432h0M118 418h0M126 405h0M90 416h0M122 425h0M86 420h0M107 393h0M137 405h0M141 423h0M98 392h0M121 425h0M122 394h0M101 418h0M75 419h0M520 511h0M512 396h0M515 463h0M514 437h0M516 471h0M510 469h0M517 423h0M509 455h0M514 460h0M521 441h0M508 421h0M518 470h0M536 458h0M554 464h0M558 499h0M556 462h0M556 463h0M553 487h0M553 462h0M549 488h0M536 452h0M561 473h0M540 460h0" stroke="#EFA088" stroke-width="6.4" stroke-linecap="round" fill="none"/>
<path transform="scale(.25)" d="M530 369h0M536 296h0M518 318h0M526 303h0M530 355h0M565 314h0M542 343h0M544 388h0M521 376h0M520 345h0M545 297h0M498 371h0M575 332h0M541 299h0M536 341h0M555 317h0M552 388h0M574 374h0M509 366h0M525 294h0M553 365h0M502 355h0M552 377h0M537 311h0M553 321h0M520 358h0M569 337h0M523 379h0M533 298h0M493 328h0M568 374h0M529 324h0M506 385h0M511 369h0M521 345h0M568 338h0M544 294h0M518 346h0M115 394h0M112 433h0M143 430h0M121 398h0M100 398h0M95 431h0M113 391h0M107 424h0M71 413h0M79 430h0M77 396h0M107 406h0M113 394h0M95 414h0M68 415h0M104 423h0M118 392h0M117 402h0M116 408h0M132 419h0M106 428h0M114 419h0M153 421h0M521 495h0M523 495h0M510 470h0M510 438h0M517 414h0M516 467h0M518 510h0M514 428h0M522 494h0M521 449h0M557 498h0M548 449h0M545 447h0M544 447h0M537 453h0M544 463h0M541 482h0" stroke="#D96482" stroke-width="6.4" stroke-linecap="round" fill="none"/>
<path transform="scale(.25)" d="M502 352h0M566 317h0M517 296h0M548 360h0M497 356h0M525 299h0M534 312h0M510 300h0M496 323h0M518 354h0M540 293h0M558 329h0M485 348h0M559 332h0M531 315h0M548 346h0M535 323h0M572 354h0M523 356h0M546 351h0M491 344h0M551 353h0M494 317h0M497 349h0M571 343h0M541 313h0M494 317h0M520 314h0M507 383h0M559 338h0M535 346h0M550 330h0M544 296h0M518 319h0M514 358h0M571 355h0M528 327h0M551 332h0M523 330h0M540 397h0M571 327h0M564 332h0M522 324h0M512 394h0M538 396h0M543 377h0M548 392h0M110 403h0M71 428h0M101 414h0M148 426h0M75 412h0M142 410h0M107 423h0M127 398h0M111 422h0M86 405h0M140 420h0M100 394h0M142 419h0M92 394h0M108 425h0M67 401h0M131 429h0M127 430h0M115 425h0M91 400h0M86 410h0M512 459h0M513 454h0M514 410h0M522 489h0M514 411h0M513 486h0M511 481h0M559 472h0M547 446h0M554 496h0M539 448h0M547 480h0M563 484h0M535 456h0" stroke="#EB8F7E" stroke-width="6.4" stroke-linecap="round" fill="none"/>
<path transform="scale(.25)" d="M528 380h0M529 291h0M561 377h0M517 319h0M529 375h0M568 336h0M551 298h0M512 324h0M506 397h0M542 361h0M516 328h0M551 290h0M528 344h0M531 385h0M526 380h0M547 328h0M507 369h0M536 369h0M536 296h0M530 390h0M506 320h0M553 351h0M553 298h0M530 386h0M528 383h0M531 386h0M505 320h0M550 369h0M486 345h0M505 351h0M510 294h0M557 308h0M518 310h0M545 296h0M147 418h0M82 401h0M123 429h0M69 399h0M117 435h0M82 397h0M93 435h0M90 424h0M66 395h0M83 408h0M121 404h0M122 406h0M137 424h0M146 416h0M65 411h0M128 403h0M146 410h0M109 424h0M139 427h0M136 433h0M69 421h0M132 403h0M130 436h0M86 430h0M135 429h0M521 433h0M520 503h0M518 479h0M519 450h0M509 438h0M509 417h0M546 489h0M544 481h0M551 495h0M556 474h0" stroke="#E57F7A" stroke-width="6.4" stroke-linecap="round" fill="none"/>
<path transform="scale(.25)" d="M555 306h0M531 309h0M491 370h0M506 313h0M552 363h0M565 351h0M545 386h0M568 319h0M572 356h0M575 330h0M498 349h0M520 350h0M515 392h0M505 381h0M540 300h0M572 347h0M548 391h0M562 349h0M528 299h0M564 307h0M499 312h0M505 367h0M561 375h0M508 356h0M502 388h0M506 303h0M503 376h0M545 384h0M557 334h0M510 369h0M510 387h0M534 384h0M534 333h0M517 362h0M541 336h0M531 296h0M511 350h0M496 345h0M510 300h0M565 359h0M117 432h0M81 422h0M94 421h0M136 426h0M126 401h0M117 394h0M107 406h0M88 406h0M138 431h0M135 436h0M115 420h0M111 429h0M75 430h0M59 413h0M78 401h0M77 397h0M115 429h0M131 404h0M112 420h0M100 394h0M114 415h0M119 411h0M516 443h0M512 418h0M514 480h0M513 410h0M517 431h0M518 435h0M508 426h0M553 454h0M553 468h0M559 486h0M547 494h0M549 475h0M546 462h0M552 460h0" stroke="#E0707C" stroke-width="6.4" stroke-linecap="round" fill="none"/>
<path transform="scale(.25)" d="M643 638h0M576 643h0M568 633h0M592 612h0M618 676h0M569 647h0M568 641h0M638 617h0M575 597h0M600 644h0M600 616h0M614 636h0M589 658h0M574 640h0M617 625h0M578 625h0M554 665h0M609 661h0M609 617h0M591 637h0M566 682h0M637 646h0M628 669h0M606 670h0M644 634h0M565 640h0M579 597h0M611 594h0M566 646h0M638 656h0M621 650h0M569 604h0M595 633h0M593 701h0M567 683h0M640 643h0M563 603h0M610 689h0" stroke="#EC957F" stroke-width="6.4" stroke-linecap="round" fill="none"/>
<path transform="scale(.25)" d="M637 643h0M576 626h0M578 685h0M576 660h0M563 632h0M598 579h0M571 614h0M638 677h0M619 671h0M629 613h0M557 612h0M624 633h0M560 601h0M570 636h0M623 675h0M569 670h0M624 607h0M604 669h0M590 695h0M581 629h0M568 668h0M591 664h0M600 684h0M581 640h0M564 615h0M617 693h0M583 620h0M570 684h0M629 675h0M550 661h0M572 668h0M554 634h0M579 597h0M583 618h0M555 643h0M575 662h0M628 682h0M570 616h0M601 692h0M565 675h0M613 619h0M577 654h0M614 623h0M565 631h0M618 660h0M606 615h0M586 655h0" stroke="#F2B098" stroke-width="6.4" stroke-linecap="round" fill="none"/>
<path transform="scale(.25)" d="M590 638h0M629 668h0M555 612h0M572 645h0M575 606h0M580 658h0M640 659h0M631 669h0M565 609h0M638 627h0M564 615h0M600 650h0M591 675h0M611 693h0M628 671h0M606 656h0M565 618h0M607 662h0M560 651h0M621 619h0M634 619h0M600 680h0M606 680h0M580 639h0M595 640h0M585 669h0M591 627h0M594 639h0M621 609h0M585 647h0M631 672h0M633 649h0M596 629h0M636 657h0M567 670h0M555 662h0M585 621h0M624 595h0M610 677h0M631 662h0M583 608h0M589 632h0M617 592h0M594 593h0M551 645h0M620 616h0M635 669h0M613 657h0M585 679h0" stroke="#F0A58C" stroke-width="6.4" stroke-linecap="round" fill="none"/>
<path transform="scale(.25)" d="M605 609h0M558 658h0M626 624h0M610 590h0M591 589h0M637 670h0M565 676h0M620 607h0M614 614h0M572 683h0M627 622h0M550 606h0M588 686h0M563 671h0M593 644h0M588 619h0M618 664h0M621 669h0M595 693h0M587 692h0M591 626h0M565 614h0M601 628h0M613 613h0M606 612h0M585 694h0M604 678h0M618 681h0M586 607h0M624 647h0M596 637h0M611 655h0M612 676h0M583 616h0M635 647h0M608 643h0M563 663h0M614 606h0M610 686h0M619 635h0M600 624h0M574 630h0M582 607h0M556 613h0M551 676h0M633 614h0M580 691h0M618 660h0M570 683h0M563 663h0M614 608h0M595 658h0M564 684h0" stroke="#EE9A84" stroke-width="6.4" stroke-linecap="round" fill="none"/>
<path transform="scale(.25)" d="M610 663h0M625 658h0M608 633h0M613 673h0M573 628h0M639 612h0M625 675h0M567 656h0M626 665h0M554 657h0M610 617h0M594 621h0M592 643h0M636 633h0M596 597h0M587 622h0M568 662h0M571 655h0M636 643h0M633 662h0M619 651h0M578 619h0M605 616h0M612 612h0M620 653h0M554 637h0M631 671h0M608 675h0M575 663h0M612 674h0M623 650h0M570 623h0M600 641h0M589 670h0M566 641h0M596 622h0M623 608h0M561 623h0M599 591h0M611 687h0M560 669h0M629 655h0M626 641h0M611 659h0M626 635h0M624 653h0M618 686h0M563 634h0M611 606h0M589 590h0M590 622h0M569 676h0M623 601h0" stroke="#EA8E80" stroke-width="6.4" stroke-linecap="round" fill="none"/>
</g>
<rect x="1388.2" y="471.3" width="173.8" height="187.9" fill="none" stroke="#000" stroke-width="1.5"/>
<g transform="translate(1574.8 471.3) scale(0.9955 0.9942)">
<g filter="url(#bl)" opacity="0.85">
<ellipse cx="126.6" cy="17.2" rx="11.4" ry="7.7" fill="#EFA48C" transform="rotate(20 126.6 17.2)"/>
<ellipse cx="147.5" cy="29.6" rx="6.6" ry="5.7" fill="#EFA48C" transform="rotate(30 147.5 29.6)"/>
<ellipse cx="137.7" cy="24" rx="7" ry="4.8" fill="#EFA48C" transform="rotate(30 137.7 24)"/>
<ellipse cx="97" cy="45.6" rx="7.9" ry="11.9" fill="#722885" transform="rotate(8 97 45.6)"/>
<ellipse cx="126.6" cy="44.3" rx="11" ry="11" fill="#722885" transform="rotate(0 126.6 44.3)"/>
<ellipse cx="110.5" cy="51.5" rx="4.8" ry="2.6" fill="#933489" transform="rotate(10 110.5 51.5)"/>
<ellipse cx="86" cy="78.8" rx="5.1" ry="7.2" fill="#EFA48C" transform="rotate(25 86 78.8)"/>
<ellipse cx="141.4" cy="66.5" rx="3.2" ry="5.7" fill="#BF4A8A" transform="rotate(10 141.4 66.5)"/>
<ellipse cx="132.7" cy="86.2" rx="9.2" ry="11" fill="#722885" transform="rotate(10 132.7 86.2)"/>
<ellipse cx="156.1" cy="82.5" rx="8.4" ry="15" fill="#E98B7B" transform="rotate(-14 156.1 82.5)"/>
<ellipse cx="26.2" cy="103.4" rx="10.1" ry="5.1" fill="#DADADA" transform="rotate(8 26.2 103.4)"/>
<ellipse cx="128.8" cy="114" rx="1.6" ry="11.4" fill="#BF4A8A" transform="rotate(-4 128.8 114)"/>
<ellipse cx="137" cy="118" rx="2.3" ry="6.6" fill="#DA667C" transform="rotate(-15 137 118)"/>
<ellipse cx="150" cy="113" rx="1.3" ry="11.9" fill="#DA667C" transform="rotate(18 150 113)"/>
<ellipse cx="141" cy="130" rx="6.2" ry="2.2" fill="#DA667C" transform="rotate(-30 141 130)"/>
<ellipse cx="125" cy="145" rx="8.4" ry="14.1" fill="#BF4A8A" transform="rotate(12 125 145)"/>
<ellipse cx="121.5" cy="165" rx="7.9" ry="9.7" fill="#E98B7B" transform="rotate(0 121.5 165)"/>
<ellipse cx="148.8" cy="160" rx="10.1" ry="11.4" fill="#EFA48C" transform="rotate(0 148.8 160)"/>
<ellipse cx="134" cy="171" rx="12.3" ry="5.7" fill="#EFA48C" transform="rotate(0 134 171)"/>
</g>
<path transform="scale(.25)" d="M489 90h0M552 63h0M481 55h0M535 72h0M478 56h0M479 69h0M491 62h0M476 92h0M478 66h0M498 27h0M478 30h0M491 69h0M515 90h0M539 64h0M476 82h0M483 81h0M554 82h0M450 70h0M467 39h0M473 47h0M461 52h0M543 72h0M516 97h0M494 31h0M484 58h0M503 49h0M459 83h0M538 85h0M526 51h0M531 69h0M521 63h0M548 72h0M598 101h0M577 140h0M592 146h0M580 127h0M581 127h0M597 142h0M604 122h0M602 108h0M570 121h0M618 127h0M595 127h0M599 125h0M589 126h0M602 134h0M598 107h0M617 108h0M605 128h0M612 110h0M583 120h0M546 107h0M541 110h0M547 119h0M539 106h0M549 88h0M564 79h0M530 86h0M573 98h0M519 85h0M537 111h0M551 116h0M536 78h0M532 87h0M553 95h0M352 311h0M332 342h0M369 300h0M352 330h0M356 320h0M347 313h0M337 303h0M353 297h0M321 309h0M342 321h0M349 290h0M360 287h0M328 324h0M355 291h0M322 313h0M575 663h0M566 662h0M593 689h0M582 666h0M600 640h0M568 609h0M598 639h0M581 624h0M555 611h0M624 617h0M597 623h0M634 671h0M573 666h0M615 635h0M607 691h0M610 649h0M615 635h0M582 604h0M609 623h0M550 632h0M576 619h0M583 641h0M579 631h0M600 663h0M581 637h0M602 616h0M605 593h0M589 612h0M559 619h0M590 608h0M629 615h0M567 620h0M576 602h0M558 644h0M592 630h0M580 603h0M553 650h0M629 621h0M570 662h0M555 608h0M591 585h0M606 664h0M579 632h0M580 645h0M601 690h0M632 646h0M615 634h0M565 614h0M593 601h0M579 644h0M591 588h0M608 693h0M625 599h0M599 648h0M590 645h0M627 614h0M639 648h0M563 629h0M499 669h0M543 708h0M520 698h0M589 677h0M485 673h0M508 672h0M553 667h0M591 689h0M483 686h0M501 671h0M494 699h0M573 703h0M547 659h0M565 692h0M541 684h0M540 668h0M566 706h0M578 678h0M539 669h0M509 661h0M548 701h0M508 667h0M553 684h0M505 664h0M494 667h0M550 670h0M575 669h0M497 678h0M509 665h0" stroke="#F0A58C" stroke-width="6.4" stroke-linecap="round" fill="none"/>
<path transform="scale(.25)" d="M517 84h0M488 49h0M513 104h0M499 68h0M552 80h0M502 48h0M476 44h0M495 94h0M515 82h0M555 88h0M483 83h0M527 48h0M480 35h0M547 92h0M460 66h0M462 78h0M529 67h0M514 64h0M521 66h0M465 81h0M514 74h0M531 93h0M517 89h0M557 77h0M516 81h0M523 79h0M513 76h0M459 72h0M552 59h0M517 58h0M475 60h0M553 72h0M559 88h0M496 95h0M487 53h0M547 101h0M513 103h0M539 65h0M581 138h0M573 120h0M567 106h0M597 100h0M591 126h0M609 106h0M567 124h0M577 118h0M593 134h0M611 120h0M577 122h0M618 118h0M586 98h0M603 94h0M614 127h0M582 105h0M558 88h0M560 76h0M566 104h0M580 98h0M529 86h0M540 106h0M559 83h0M564 107h0M570 109h0M540 117h0M546 92h0M550 108h0M579 93h0M544 119h0M558 88h0M533 105h0M338 288h0M335 338h0M367 306h0M335 343h0M339 299h0M357 285h0M342 320h0M327 319h0M319 322h0M344 283h0M345 298h0M349 307h0M364 313h0M340 322h0M354 282h0M335 303h0M329 343h0M345 332h0M619 617h0M587 620h0M555 620h0M631 660h0M564 623h0M591 694h0M595 613h0M616 620h0M554 637h0M603 690h0M622 658h0M601 627h0M578 646h0M607 587h0M554 609h0M550 644h0M561 670h0M600 688h0M606 586h0M601 598h0M632 645h0M617 611h0M636 630h0M554 608h0M584 635h0M585 666h0M567 642h0M570 671h0M613 619h0M555 603h0M601 595h0M604 679h0M605 655h0M605 639h0M624 680h0M621 660h0M572 663h0M601 646h0M579 607h0M592 589h0M628 629h0M579 655h0M550 632h0M551 609h0M597 647h0M549 624h0M632 657h0M590 670h0M542 661h0M556 658h0M559 669h0M582 702h0M545 708h0M519 659h0M506 707h0M546 683h0M510 666h0M568 701h0M549 677h0M556 682h0M501 705h0M578 695h0M587 673h0M577 688h0M511 706h0M534 681h0M524 675h0M580 697h0M527 682h0M563 711h0M564 673h0M536 700h0M516 669h0M492 679h0M490 679h0M514 674h0M549 700h0M512 696h0M528 705h0M553 686h0M590 678h0M501 682h0M513 689h0" stroke="#EA8E80" stroke-width="6.4" stroke-linecap="round" fill="none"/>
<path transform="scale(.25)" d="M516 40h0M515 72h0M558 70h0M489 59h0M533 100h0M497 31h0M553 89h0M516 109h0M466 65h0M535 102h0M526 97h0M512 78h0M519 38h0M530 80h0M498 62h0M474 52h0M555 62h0M474 66h0M547 54h0M502 29h0M527 74h0M473 68h0M503 65h0M468 64h0M459 72h0M483 63h0M549 52h0M519 36h0M535 75h0M549 54h0M516 91h0M463 73h0M510 37h0M507 100h0M535 62h0M558 95h0M469 54h0M469 87h0M526 104h0M474 74h0M491 46h0M558 62h0M495 57h0M467 46h0M483 83h0M543 51h0M560 89h0M559 58h0M585 102h0M600 101h0M594 145h0M601 126h0M588 121h0M561 113h0M587 133h0M572 124h0M575 127h0M578 124h0M594 95h0M599 125h0M589 98h0M590 101h0M533 111h0M550 89h0M573 114h0M572 85h0M529 80h0M557 89h0M568 121h0M564 121h0M524 84h0M581 101h0M544 77h0M575 111h0M529 100h0M368 310h0M348 310h0M339 340h0M345 289h0M340 331h0M347 305h0M353 295h0M322 334h0M330 336h0M331 330h0M344 293h0M320 329h0M353 333h0M351 311h0M350 310h0M345 288h0M347 305h0M578 627h0M623 633h0M556 629h0M624 670h0M570 677h0M571 629h0M584 608h0M634 623h0M640 624h0M594 625h0M591 597h0M602 638h0M559 662h0M553 637h0M607 668h0M607 699h0M569 645h0M563 690h0M561 628h0M623 618h0M601 659h0M553 616h0M580 688h0M615 622h0M616 644h0M633 662h0M638 625h0M556 636h0M566 597h0M572 638h0M631 613h0M602 662h0M550 635h0M595 614h0M606 632h0M620 630h0M636 620h0M567 614h0M601 616h0M562 658h0M612 669h0M611 641h0M589 650h0M550 664h0M526 701h0M582 697h0M540 664h0M523 671h0M564 701h0M492 668h0M507 663h0M491 686h0M583 684h0M576 698h0M560 661h0M562 675h0M489 672h0M572 697h0M523 710h0M581 667h0M498 705h0M592 692h0M489 685h0M514 704h0M589 681h0M556 684h0" stroke="#EC957F" stroke-width="6.4" stroke-linecap="round" fill="none"/>
<path transform="scale(.25)" d="M478 38h0M514 86h0M467 84h0M518 90h0M499 60h0M507 71h0M498 70h0M554 88h0M517 108h0M528 39h0M526 104h0M556 77h0M534 49h0M480 65h0M509 86h0M507 62h0M482 80h0M531 72h0M513 43h0M550 55h0M508 43h0M490 99h0M477 92h0M468 75h0M472 65h0M532 61h0M534 44h0M516 34h0M602 106h0M583 122h0M591 112h0M576 99h0M586 107h0M576 104h0M612 127h0M619 121h0M618 112h0M574 132h0M540 104h0M558 91h0M550 117h0M554 119h0M553 79h0M538 97h0M558 111h0M573 116h0M525 87h0M576 111h0M540 93h0M540 112h0M544 119h0M573 120h0M572 91h0M570 84h0M525 94h0M570 90h0M546 100h0M577 92h0M554 78h0M363 309h0M339 314h0M322 328h0M350 332h0M353 334h0M343 288h0M341 335h0M324 341h0M367 297h0M354 340h0M369 300h0M364 306h0M350 319h0M330 298h0M360 311h0M337 292h0M343 332h0M333 319h0M319 310h0M624 603h0M566 647h0M574 643h0M631 660h0M608 590h0M609 589h0M567 672h0M560 661h0M621 612h0M599 638h0M614 608h0M568 665h0M624 614h0M561 647h0M635 620h0M610 645h0M602 631h0M567 674h0M580 607h0M599 628h0M628 671h0M609 646h0M599 647h0M632 664h0M627 598h0M578 612h0M574 693h0M634 646h0M628 622h0M564 630h0M583 590h0M566 680h0M598 668h0M607 655h0M628 627h0M620 667h0M615 657h0M604 668h0M631 673h0M565 666h0M579 691h0M572 667h0M609 647h0M573 625h0M560 647h0M618 643h0M556 628h0M494 673h0M525 668h0M482 676h0M525 702h0M516 663h0M569 675h0M483 685h0M512 667h0M524 665h0M584 672h0M564 690h0M521 676h0M508 685h0M569 692h0M528 674h0M479 678h0M529 694h0M488 677h0M509 706h0M489 683h0M567 681h0M485 673h0M493 699h0M522 664h0M550 699h0M500 704h0M571 681h0M497 676h0M535 661h0M535 675h0" stroke="#EE9A84" stroke-width="6.4" stroke-linecap="round" fill="none"/>
<path transform="scale(.25)" d="M532 80h0M524 41h0M539 41h0M465 53h0M552 95h0M484 68h0M502 52h0M503 65h0M490 47h0M518 70h0M510 40h0M506 38h0M517 54h0M487 95h0M551 56h0M490 42h0M501 42h0M544 63h0M556 69h0M538 54h0M544 71h0M478 66h0M558 99h0M513 97h0M478 50h0M470 64h0M487 66h0M484 48h0M524 66h0M538 81h0M494 42h0M481 87h0M516 74h0M505 79h0M481 78h0M535 106h0M555 58h0M523 77h0M472 72h0M575 96h0M600 105h0M604 95h0M586 132h0M608 144h0M563 130h0M607 107h0M568 126h0M601 147h0M593 136h0M599 95h0M563 121h0M594 125h0M586 140h0M579 103h0M591 112h0M596 145h0M571 101h0M574 130h0M589 144h0M602 100h0M589 111h0M607 143h0M556 122h0M561 83h0M562 80h0M565 88h0M563 106h0M554 99h0M533 113h0M542 90h0M568 106h0M535 74h0M565 111h0M367 308h0M342 328h0M323 311h0M335 297h0M355 297h0M337 291h0M317 324h0M351 330h0M359 290h0M350 294h0M359 296h0M628 668h0M634 666h0M586 624h0M648 659h0M616 669h0M570 616h0M597 597h0M619 601h0M590 607h0M575 631h0M590 600h0M613 654h0M601 618h0M624 614h0M548 637h0M626 646h0M607 620h0M551 627h0M628 642h0M619 677h0M561 615h0M572 658h0M621 674h0M552 671h0M588 585h0M605 645h0M612 649h0M606 614h0M602 661h0M588 618h0M617 643h0M617 632h0M626 620h0M555 612h0M614 664h0M562 675h0M593 644h0M582 604h0M565 671h0M610 675h0M616 688h0M577 658h0M575 679h0M571 684h0M593 682h0M507 668h0M522 714h0M488 692h0M571 704h0M518 708h0M525 682h0M590 675h0M485 681h0M539 663h0M492 666h0M490 693h0M536 712h0M503 663h0M505 681h0M566 684h0M584 695h0M504 682h0M520 705h0M545 707h0M585 688h0M520 703h0M504 691h0M531 684h0M515 665h0M495 667h0M548 678h0M545 687h0M485 674h0M534 709h0M547 708h0" stroke="#F2B098" stroke-width="6.4" stroke-linecap="round" fill="none"/>
<path transform="scale(.25)" d="M383 241h0M424 162h0M354 177h0M422 156h0M416 144h0M418 195h0M416 169h0M413 212h0M394 127h0M404 131h0M378 210h0M390 174h0M361 150h0M406 227h0M388 161h0M406 199h0M374 227h0M373 156h0M395 167h0M380 173h0M394 129h0M369 153h0M403 163h0M391 138h0M391 138h0M382 183h0M407 135h0M382 181h0M372 162h0M400 197h0M396 137h0M376 151h0M356 214h0M397 195h0M530 178h0M531 146h0M475 172h0M488 195h0M541 206h0M493 156h0M489 190h0M509 231h0M531 189h0M468 206h0M526 204h0M480 169h0M557 200h0M498 185h0M493 130h0M511 124h0M491 213h0M529 205h0M480 155h0M546 148h0M471 205h0M509 210h0M497 160h0M475 180h0M556 168h0M499 126h0M487 175h0M518 216h0M514 193h0M482 170h0M536 187h0M493 144h0M460 185h0M552 150h0M457 185h0M535 145h0M468 166h0M549 147h0M504 210h0M485 186h0M482 168h0M470 203h0M543 165h0M521 379h0M564 325h0M517 354h0M487 343h0M563 374h0M529 285h0M560 382h0M530 324h0M510 328h0M530 329h0M581 345h0M494 328h0M560 302h0M556 305h0M511 303h0M517 338h0M541 294h0M558 364h0M513 325h0M524 365h0M503 377h0M490 336h0M556 323h0M568 345h0M514 378h0M502 315h0M567 340h0" stroke="#5A2080" stroke-width="6.4" stroke-linecap="round" fill="none"/>
<path transform="scale(.25)" d="M384 211h0M361 206h0M382 215h0M380 127h0M377 153h0M423 155h0M372 209h0M397 142h0M379 157h0M370 161h0M359 205h0M410 191h0M376 205h0M398 194h0M363 154h0M373 207h0M365 224h0M410 123h0M398 198h0M378 138h0M353 215h0M366 210h0M417 193h0M377 211h0M399 220h0M358 205h0M383 132h0M419 151h0M396 233h0M383 163h0M384 186h0M369 169h0M394 201h0M416 204h0M353 164h0M470 144h0M515 192h0M530 136h0M515 155h0M466 171h0M532 154h0M486 184h0M525 175h0M552 182h0M506 211h0M501 171h0M469 170h0M486 208h0M543 200h0M474 138h0M479 180h0M514 195h0M473 198h0M516 197h0M527 133h0M539 158h0M521 166h0M483 168h0M494 148h0M465 182h0M526 131h0M488 217h0M522 138h0M475 208h0M558 176h0M509 176h0M481 148h0M520 146h0M538 168h0M475 178h0M525 166h0M527 207h0M514 135h0M493 150h0M466 134h0M551 205h0M499 158h0M466 162h0M507 128h0M473 147h0M553 200h0M511 118h0M546 181h0M476 155h0M526 156h0M476 174h0M469 168h0M549 162h0M466 174h0M474 169h0M553 198h0M466 161h0M500 189h0M439 198h0M430 203h0M444 212h0M447 211h0M431 200h0M431 199h0M454 212h0M503 372h0M502 340h0M508 319h0M576 340h0M514 346h0M518 365h0M519 308h0M487 361h0M515 340h0M547 302h0M523 369h0M513 314h0M555 300h0M541 381h0M508 343h0M520 321h0M554 313h0M548 332h0M551 378h0M572 333h0M510 355h0M533 334h0M490 325h0M508 324h0M560 377h0M571 349h0M520 330h0M512 298h0M572 332h0M497 346h0M495 317h0M530 292h0M540 332h0M558 334h0" stroke="#7A2A85" stroke-width="6.4" stroke-linecap="round" fill="none"/>
<path transform="scale(.25)" d="M419 177h0M382 213h0M400 194h0M392 227h0M373 163h0M375 139h0M391 205h0M402 192h0M402 145h0M406 165h0M376 215h0M390 212h0M405 220h0M397 127h0M399 218h0M361 190h0M372 226h0M396 235h0M392 135h0M389 201h0M426 169h0M390 224h0M390 238h0M401 153h0M356 179h0M363 161h0M378 157h0M354 180h0M394 133h0M388 145h0M367 204h0M380 210h0M481 159h0M544 195h0M511 180h0M510 211h0M474 158h0M513 189h0M458 197h0M566 178h0M505 195h0M513 209h0M493 187h0M548 186h0M473 171h0M465 191h0M487 138h0M538 207h0M462 160h0M518 221h0M525 143h0M519 174h0M474 190h0M559 185h0M487 196h0M535 153h0M473 196h0M501 127h0M462 215h0M442 205h0M438 215h0M457 205h0M459 210h0M564 361h0M507 351h0M510 348h0M548 370h0M540 312h0M530 343h0M506 352h0M539 353h0M491 331h0M496 344h0M522 388h0M509 380h0M572 336h0M552 337h0M490 366h0M499 373h0M535 373h0M560 380h0M534 318h0M493 324h0M573 342h0M515 380h0M572 332h0M539 309h0M511 380h0M540 323h0M551 374h0M531 309h0M525 355h0M555 336h0M520 332h0M553 305h0M526 372h0M549 356h0M543 370h0M503 327h0M548 314h0" stroke="#8A2F88" stroke-width="6.4" stroke-linecap="round" fill="none"/>
<path transform="scale(.25)" d="M370 154h0M354 210h0M395 227h0M383 169h0M351 182h0M397 233h0M369 163h0M374 138h0M401 134h0M408 204h0M426 166h0M388 177h0M356 195h0M394 145h0M378 131h0M385 189h0M387 143h0M350 195h0M411 223h0M403 205h0M404 156h0M387 198h0M383 226h0M378 209h0M383 226h0M367 214h0M396 209h0M359 195h0M425 181h0M357 176h0M423 197h0M376 174h0M397 201h0M367 148h0M392 234h0M488 211h0M540 147h0M521 188h0M458 154h0M502 195h0M477 139h0M466 148h0M497 228h0M493 161h0M559 183h0M534 203h0M463 213h0M521 191h0M486 129h0M515 176h0M479 151h0M491 122h0M508 166h0M517 212h0M460 176h0M531 175h0M531 156h0M526 182h0M543 214h0M489 203h0M485 202h0M536 153h0M474 146h0M550 185h0M494 224h0M538 196h0M467 162h0M552 185h0M515 153h0M505 198h0M482 145h0M479 168h0M532 207h0M479 155h0M472 129h0M467 184h0M522 225h0M514 145h0M489 207h0M501 318h0M509 309h0M570 339h0M559 366h0M541 374h0M560 345h0M534 359h0M501 387h0M537 334h0M535 395h0M495 331h0M538 337h0M518 395h0M501 331h0M538 384h0M495 350h0M541 358h0M528 365h0M513 362h0M567 319h0M524 296h0M532 393h0M567 359h0M564 323h0M525 318h0M523 369h0M538 324h0M536 314h0M545 350h0M491 344h0M498 358h0M499 373h0M531 301h0M567 368h0M536 391h0M555 353h0M568 340h0M549 360h0M501 321h0M534 375h0M518 350h0M490 345h0M559 356h0M490 339h0M561 350h0M538 397h0" stroke="#6B2585" stroke-width="6.4" stroke-linecap="round" fill="none"/>
<path transform="scale(.25)" d="M408 165h0M396 185h0M368 211h0M371 230h0M397 165h0M361 194h0M369 177h0M399 174h0M365 158h0M402 214h0M407 213h0M419 215h0M405 151h0M406 182h0M377 246h0M371 146h0M373 212h0M372 178h0M360 216h0M398 189h0M400 228h0M408 133h0M398 146h0M397 167h0M358 197h0M424 185h0M352 217h0M373 204h0M373 230h0M373 148h0M392 192h0M519 229h0M519 151h0M540 131h0M530 202h0M524 213h0M535 202h0M519 179h0M493 161h0M469 176h0M547 196h0M469 131h0M483 158h0M524 218h0M500 155h0M481 189h0M551 187h0M469 176h0M544 174h0M487 206h0M531 225h0M478 175h0M488 211h0M480 174h0M484 183h0M532 123h0M534 142h0M490 146h0M477 147h0M519 144h0M523 207h0M478 177h0M535 134h0M499 156h0M503 150h0M541 168h0M511 209h0M460 204h0M454 198h0M426 207h0M448 212h0M438 195h0M459 200h0M443 215h0M569 320h0M555 356h0M531 361h0M501 336h0M516 358h0M498 369h0M526 377h0M572 324h0M504 332h0M509 343h0M571 328h0M491 334h0M510 318h0M532 303h0M521 333h0M514 362h0M505 305h0M529 378h0M550 337h0M520 321h0M501 382h0M508 350h0M517 303h0M562 316h0M537 315h0M559 331h0M504 360h0M523 369h0M532 391h0M509 312h0M559 348h0" stroke="#9E3A8C" stroke-width="6.4" stroke-linecap="round" fill="none"/>
<path transform="scale(.25)" d="M392 178h0M394 170h0M390 218h0M408 230h0M413 212h0M418 162h0M385 185h0M375 171h0M421 168h0M424 172h0M412 159h0M356 200h0M412 152h0M410 192h0M375 133h0M351 197h0M362 183h0M391 218h0M405 154h0M380 171h0M367 183h0M412 154h0M378 133h0M394 158h0M406 213h0M350 191h0M385 162h0M388 135h0M417 191h0M461 164h0M500 185h0M528 217h0M495 203h0M483 210h0M523 204h0M471 152h0M458 170h0M518 219h0M522 159h0M552 193h0M510 129h0M509 216h0M546 144h0M483 169h0M536 216h0M509 210h0M461 154h0M500 150h0M475 213h0M476 175h0M513 219h0M509 125h0M522 141h0M510 128h0M522 228h0M492 228h0M461 194h0M512 210h0M494 190h0M526 209h0M465 203h0M558 166h0M519 184h0M497 172h0M488 147h0M489 143h0M477 137h0M489 222h0M548 177h0M474 186h0M515 210h0M494 211h0M454 157h0M435 215h0M440 197h0M442 208h0M449 209h0M431 201h0M453 206h0M509 353h0M495 364h0M496 360h0M559 338h0M527 368h0M542 292h0M518 303h0M517 392h0M517 377h0M522 356h0M540 337h0M519 298h0M535 344h0M501 328h0M517 388h0M546 319h0M557 370h0M531 395h0M561 327h0M514 309h0M503 336h0M550 332h0M558 321h0M498 352h0M520 305h0M555 364h0M547 378h0M519 384h0M489 357h0M517 338h0M561 338h0M531 301h0M548 376h0M507 344h0M539 374h0M506 312h0M539 377h0" stroke="#B04690" stroke-width="6.4" stroke-linecap="round" fill="none"/>
<path transform="scale(.25)" d="M419 206h0M444 197h0M449 211h0M436 218h0M455 207h0M441 196h0" stroke="#C0508A" stroke-width="6.4" stroke-linecap="round" fill="none"/>
<path transform="scale(.25)" d="M577 245h0M566 254h0M566 286h0M560 272h0M559 274h0M565 245h0M581 262h0M567 286h0M580 246h0M566 275h0M579 263h0M567 272h0M571 244h0M562 286h0M507 446h0M513 408h0M512 447h0M509 457h0M509 422h0M521 451h0M515 424h0M521 584h0M513 633h0M480 614h0M493 521h0M497 591h0M532 560h0M497 641h0M467 608h0M480 531h0M487 531h0M516 625h0M510 574h0M505 554h0M526 613h0M490 616h0M507 578h0M486 545h0M481 593h0M518 577h0M510 547h0M488 582h0M530 580h0M503 530h0M487 552h0M488 531h0M491 623h0M483 553h0M541 581h0M482 586h0M522 516h0M504 532h0M471 565h0M522 599h0M470 590h0M467 577h0M479 636h0M476 566h0M518 579h0M539 542h0M486 577h0M492 623h0M521 603h0M478 572h0M484 566h0M493 603h0M499 523h0M533 605h0M524 571h0M477 588h0" stroke="#B8458C" stroke-width="6.4" stroke-linecap="round" fill="none"/>
<path transform="scale(.25)" d="M568 283h0M570 246h0M567 273h0M562 276h0M569 269h0M551 278h0M565 243h0M516 433h0M516 429h0M522 454h0M509 431h0M514 458h0M521 485h0M520 480h0M507 415h0M556 507h0M547 451h0M557 466h0M544 455h0M558 481h0M558 493h0M547 467h0M543 442h0M599 445h0M596 475h0M596 445h0M588 481h0M613 423h0M604 425h0M554 517h0M560 519h0M558 519h0M571 515h0M557 533h0M557 534h0M576 506h0M558 532h0M501 541h0M515 571h0M520 587h0M528 566h0M506 588h0M536 559h0M488 541h0M470 593h0M508 619h0M470 569h0M472 603h0M494 539h0M482 599h0M527 557h0M501 648h0M468 591h0M531 527h0M510 557h0M529 557h0M470 618h0M526 532h0M502 630h0M509 625h0M468 613h0M491 633h0M459 577h0M484 550h0M514 626h0M524 610h0M510 517h0M525 599h0M488 575h0M468 614h0M481 554h0M489 606h0M538 588h0M535 532h0M497 544h0M476 623h0M474 556h0M486 564h0" stroke="#D9607C" stroke-width="6.4" stroke-linecap="round" fill="none"/>
<path transform="scale(.25)" d="M555 272h0M559 274h0M556 289h0M576 271h0M556 274h0M561 239h0M568 268h0M553 285h0M574 271h0M568 285h0M512 459h0M518 437h0M523 487h0M514 453h0M510 467h0M546 473h0M543 452h0M538 451h0M541 482h0M549 453h0M554 486h0M548 489h0M604 424h0M594 480h0M616 417h0M603 449h0M617 411h0M597 448h0M585 495h0M595 471h0M597 465h0M589 493h0M589 471h0M561 528h0M567 511h0M582 511h0M548 532h0M584 512h0M491 570h0M528 540h0M493 572h0M511 603h0M513 511h0M501 515h0M497 533h0M479 578h0M499 521h0M520 536h0M481 616h0M530 613h0M512 629h0M483 622h0M513 621h0M463 561h0M498 509h0M507 584h0M500 515h0M517 588h0M485 589h0M460 580h0M498 569h0M518 600h0M489 526h0M472 544h0M512 568h0M500 602h0M504 527h0M486 584h0M465 577h0M466 589h0M507 533h0M503 523h0M520 595h0M504 554h0M518 573h0M468 583h0M482 632h0M498 559h0M510 549h0M500 646h0M465 591h0M502 559h0M528 611h0M463 597h0M515 515h0M493 619h0M493 628h0M484 566h0M534 559h0M469 628h0M512 632h0" stroke="#C8508A" stroke-width="6.4" stroke-linecap="round" fill="none"/>
<path transform="scale(.25)" d="M552 285h0M564 272h0M567 263h0M571 267h0M516 442h0M514 421h0M509 449h0M518 464h0M507 442h0M513 406h0M513 477h0M520 494h0M514 468h0M517 495h0M517 466h0M521 477h0M512 416h0M557 503h0M556 489h0M602 439h0M604 457h0M598 457h0M597 446h0M607 441h0M604 462h0M610 410h0M611 426h0M542 527h0M563 511h0M539 529h0M581 520h0M548 527h0M543 527h0M523 533h0M500 546h0M501 554h0M493 573h0M497 515h0M467 557h0M536 566h0M493 583h0M535 596h0M485 587h0M482 552h0M513 565h0M519 567h0M465 570h0M482 583h0M485 636h0M459 579h0M530 529h0M480 634h0M504 562h0M519 621h0M536 591h0M497 551h0M509 602h0M504 542h0M466 610h0M466 628h0M472 590h0M488 603h0M486 568h0M480 633h0M496 601h0M516 571h0M525 610h0M494 641h0M502 623h0M473 589h0M514 560h0M522 618h0M517 577h0M540 577h0M512 627h0M484 612h0M499 556h0M525 584h0M507 576h0M528 560h0M525 625h0M515 590h0M488 566h0" stroke="#E0707A" stroke-width="6.4" stroke-linecap="round" fill="none"/>
<path transform="scale(.25)" d="M567 291h0M581 263h0M574 262h0M560 290h0M576 263h0M555 274h0M575 251h0M515 500h0M516 504h0M523 474h0M519 460h0M515 459h0M511 466h0M509 411h0M518 431h0M512 477h0M470 547h0M462 601h0M503 520h0M520 517h0M491 634h0M474 576h0M481 613h0M478 633h0M487 589h0M470 551h0M498 559h0M464 575h0M489 628h0M479 589h0M504 550h0M516 524h0M515 626h0M478 564h0M496 557h0M494 587h0M524 529h0M530 534h0M512 537h0M505 591h0M472 622h0M510 631h0M464 572h0M508 513h0M461 619h0M479 617h0M493 541h0M498 644h0M462 610h0M516 546h0M517 543h0M481 618h0M474 629h0M497 589h0M485 548h0M458 592h0M495 583h0M471 638h0M492 560h0M481 635h0M539 553h0M460 577h0M530 594h0M510 627h0M469 607h0M515 625h0M522 517h0" stroke="#A23A8C" stroke-width="6.4" stroke-linecap="round" fill="none"/>
<path transform="scale(.25)" d="M641 386h0M587 336h0M610 275h0M626 339h0M615 325h0M642 366h0M638 374h0M601 366h0M614 341h0M597 323h0M648 276h0M598 310h0M604 351h0M662 318h0M663 375h0M608 377h0M585 310h0M638 363h0M652 297h0M650 372h0M621 294h0M588 299h0M633 300h0M633 300h0M628 381h0M628 378h0M622 346h0M595 337h0M594 313h0M613 279h0M633 369h0M599 282h0M663 348h0M607 308h0M633 385h0M610 334h0M589 300h0M622 305h0M635 373h0M619 354h0M592 298h0M648 338h0M665 359h0M614 330h0M599 315h0M610 336h0M632 294h0M612 332h0M649 337h0M602 357h0M630 287h0M609 331h0M461 665h0M485 696h0M469 685h0M466 697h0M479 615h0M506 635h0M498 648h0M497 636h0M493 643h0M483 706h0M491 702h0M484 626h0M470 680h0M483 664h0M514 664h0M493 680h0M476 665h0M465 622h0M475 646h0M490 653h0M477 656h0M485 630h0M466 623h0M510 664h0M486 619h0M457 640h0" stroke="#D96482" stroke-width="6.4" stroke-linecap="round" fill="none"/>
<path transform="scale(.25)" d="M645 314h0M595 289h0M599 311h0M666 355h0M618 351h0M597 352h0M617 392h0M613 324h0M599 269h0M613 341h0M657 316h0M593 342h0M634 322h0M634 392h0M607 264h0M601 335h0M639 388h0M611 369h0M605 346h0M625 311h0M612 355h0M598 368h0M645 334h0M603 263h0M627 334h0M618 340h0M630 305h0M636 348h0M632 364h0M656 306h0M586 309h0M611 327h0M593 341h0M647 359h0M652 334h0M586 320h0M613 270h0M631 352h0M635 397h0M626 339h0M619 300h0M664 334h0M592 357h0M638 391h0M627 370h0M620 373h0M623 334h0M635 302h0M650 282h0M590 281h0M608 272h0M482 629h0M511 666h0M509 623h0M474 668h0M476 615h0M492 649h0M502 686h0M459 668h0M476 645h0M502 645h0M512 645h0M455 670h0M472 675h0M459 649h0M458 666h0M524 661h0M518 628h0M513 629h0M501 645h0M480 690h0M516 641h0M461 633h0M472 651h0M482 697h0M470 644h0M478 640h0M495 651h0" stroke="#E0707C" stroke-width="6.4" stroke-linecap="round" fill="none"/>
<path transform="scale(.25)" d="M651 308h0M594 281h0M656 364h0M613 333h0M609 376h0M642 397h0M633 332h0M631 290h0M588 338h0M642 384h0M616 382h0M655 385h0M660 351h0M641 312h0M656 327h0M630 296h0M659 335h0M662 315h0M590 309h0M650 364h0M584 296h0M601 376h0M613 346h0M637 291h0M613 272h0M617 391h0M613 347h0M635 302h0M637 333h0M639 372h0M628 398h0M638 373h0M659 365h0M603 336h0M659 334h0M642 291h0M622 275h0M601 292h0M653 326h0M612 324h0M650 368h0M623 348h0M636 350h0M653 331h0M620 275h0M632 361h0M654 379h0M638 310h0M498 690h0M488 683h0M480 670h0M520 640h0M466 654h0M485 661h0M519 663h0M483 629h0M494 700h0M478 678h0M478 619h0M474 678h0M494 626h0M501 672h0M503 685h0M471 623h0M512 665h0M476 613h0M472 696h0M517 642h0M470 652h0M500 697h0M463 650h0M504 638h0M485 630h0M477 690h0M493 650h0M516 670h0M484 662h0M515 663h0M496 705h0M462 647h0M519 655h0M500 655h0M465 645h0M459 631h0" stroke="#EFA088" stroke-width="6.4" stroke-linecap="round" fill="none"/>
<path transform="scale(.25)" d="M627 368h0M625 269h0M643 306h0M634 305h0M640 368h0M655 352h0M616 311h0M620 285h0M635 365h0M638 377h0M604 367h0M664 381h0M586 337h0M603 321h0M651 378h0M599 346h0M638 383h0M659 354h0M632 394h0M641 307h0M612 366h0M619 309h0M637 371h0M603 377h0M609 359h0M619 360h0M642 319h0M634 369h0M664 363h0M587 291h0M639 322h0M617 338h0M658 331h0M647 372h0M585 301h0M606 377h0M632 355h0M631 330h0M625 277h0M609 284h0M611 329h0M640 291h0M615 319h0M602 267h0M639 276h0M645 359h0M633 366h0M587 291h0M629 369h0M590 302h0M585 270h0M632 388h0M588 299h0M587 323h0M620 360h0M667 345h0M588 280h0M626 322h0M622 328h0M604 266h0M598 313h0M588 307h0M619 391h0M641 326h0M467 682h0M455 647h0M470 666h0M524 677h0M523 654h0M483 707h0M475 616h0M518 659h0M513 632h0M506 682h0M508 631h0M506 619h0M464 637h0M497 677h0M502 632h0M456 664h0M497 652h0M500 628h0M496 619h0M478 706h0M485 619h0M507 632h0M460 652h0M459 651h0M504 663h0M465 630h0M454 671h0M513 688h0M505 681h0M505 653h0M455 680h0M507 626h0M478 694h0M513 678h0M488 640h0M497 623h0M454 643h0M493 641h0M514 641h0M492 671h0M507 637h0" stroke="#E57F7A" stroke-width="6.4" stroke-linecap="round" fill="none"/>
<path transform="scale(.25)" d="M615 364h0M600 282h0M638 265h0M617 300h0M605 300h0M624 316h0M633 308h0M663 379h0M615 364h0M582 304h0M616 271h0M593 303h0M618 312h0M628 371h0M632 322h0M595 271h0M618 393h0M592 337h0M607 311h0M619 319h0M617 267h0M631 338h0M592 359h0M598 305h0M661 320h0M601 271h0M626 351h0M662 353h0M638 314h0M602 261h0M586 328h0M618 270h0M607 344h0M613 275h0M599 275h0M655 361h0M643 341h0M635 333h0M617 314h0M624 359h0M622 364h0M611 337h0M664 351h0M615 367h0M465 623h0M468 654h0M454 675h0M463 667h0M499 641h0M456 648h0M492 639h0M475 698h0M497 693h0M490 625h0M491 620h0M485 679h0M500 639h0M487 696h0M499 638h0M497 692h0M452 641h0M470 697h0M482 700h0M447 664h0M504 651h0M465 673h0M501 667h0M479 678h0M451 673h0M465 666h0M473 652h0M473 698h0M503 668h0M486 628h0M473 666h0" stroke="#EB8F7E" stroke-width="6.4" stroke-linecap="round" fill="none"/>
<path transform="scale(.25)" d="M78 422h0M86 410h0M92 422h0M62 407h0M117 422h0M114 413h0M78 428h0M117 404h0M89 406h0M90 432h0M75 391h0M74 424h0M101 405h0M92 389h0M117 394h0M104 438h0M107 435h0M145 424h0M106 406h0M106 399h0" stroke="#D9D9D9" stroke-width="6.4" stroke-linecap="round" fill="none"/>
<path transform="scale(.25)" d="M83 425h0M125 406h0M136 433h0M117 402h0M72 428h0M67 398h0M135 397h0M84 399h0M124 412h0M140 403h0M93 429h0M82 419h0M142 417h0M86 396h0M121 426h0" stroke="#CFCFCF" stroke-width="6.4" stroke-linecap="round" fill="none"/>
<path transform="scale(.25)" d="M90 433h0M130 417h0M89 420h0M128 397h0M84 399h0M98 435h0M118 432h0M145 420h0M108 433h0M84 410h0M113 439h0M88 405h0M110 390h0M58 411h0M120 432h0M136 432h0M66 422h0M117 434h0M143 420h0" stroke="#D4D4D4" stroke-width="6.4" stroke-linecap="round" fill="none"/>
<path transform="scale(.25)" d="M142 420h0M89 426h0M50 412h0M76 426h0M113 421h0M85 434h0M142 417h0M71 418h0M116 415h0M104 398h0M81 414h0M117 424h0M66 416h0M151 410h0M127 441h0M97 389h0M124 421h0M147 411h0M126 438h0M88 428h0M77 401h0M96 399h0M75 421h0M91 392h0M117 404h0M99 436h0M86 428h0M90 416h0M92 411h0M98 429h0M116 414h0M149 410h0" stroke="#E3C4B8" stroke-width="6.4" stroke-linecap="round" fill="none"/>
<path transform="scale(.25)" d="M124 421h0M87 406h0M116 407h0M84 425h0M76 423h0M114 395h0M95 411h0M134 426h0M143 407h0M108 418h0M75 402h0M136 417h0M83 390h0M70 420h0M106 390h0M149 420h0M95 388h0M113 423h0M141 412h0M103 421h0M119 395h0M110 395h0M67 421h0M96 414h0" stroke="#DCD3D0" stroke-width="6.4" stroke-linecap="round" fill="none"/>
<path transform="scale(.25)" d="M554 470h0M547 496h0M555 504h0M544 491h0M536 461h0M553 458h0M553 471h0M547 474h0M558 486h0M607 420h0M601 459h0M605 444h0M603 458h0M606 427h0M607 432h0M553 531h0M581 516h0M576 521h0M550 530h0M539 534h0M548 532h0M584 515h0M568 511h0" stroke="#E88075" stroke-width="6.4" stroke-linecap="round" fill="none"/>
<path transform="scale(.25)" d="M551 498h0M557 467h0M549 452h0M543 465h0M543 471h0M547 479h0M538 448h0M537 452h0M546 452h0M550 461h0M587 494h0M608 445h0M600 472h0M586 489h0M616 412h0M585 483h0M556 529h0M562 526h0M584 513h0M570 513h0M543 537h0M574 522h0" stroke="#D25886" stroke-width="6.4" stroke-linecap="round" fill="none"/>
</g>
<rect x="1574.8" y="471.3" width="176.2" height="187.9" fill="none" stroke="#000" stroke-width="1.5"/>
<ellipse cx="1147.8" cy="493.1" rx="27.7" ry="12.9" fill="none" stroke="#3FA0E8" stroke-width="1.8" transform="rotate(25 1147.8 493.1)"/>
<ellipse cx="1104.7" cy="516.1" rx="11.7" ry="16.6" fill="none" stroke="#D81B8C" stroke-width="1.8" transform="rotate(15 1104.7 516.1)"/>
<ellipse cx="1136.8" cy="515.7" rx="12.9" ry="16.6" fill="none" stroke="#D81B8C" stroke-width="1.8" transform="rotate(-25 1136.8 515.7)"/>
<ellipse cx="1098" cy="550" rx="10.8" ry="9.6" fill="none" stroke="#3FA0E8" stroke-width="1.8" transform="rotate(-30 1098 550)"/>
<ellipse cx="1141.9" cy="557.6" rx="12.6" ry="16.6" fill="none" stroke="#D81B8C" stroke-width="1.8" transform="rotate(15 1141.9 557.6)"/>
<ellipse cx="1166.1" cy="553.4" rx="10.5" ry="20.9" fill="none" stroke="#3FA0E8" stroke-width="1.8" transform="rotate(-15 1166.1 553.4)"/>
<text x="1078" y="488.7" fill="#3FA0E8">T<tspan dy="6" font-size="12.2">RM</tspan></text>
<text x="1024.3" y="518" fill="#D81B8C">TR-T<tspan dy="6" font-size="12.2">EX</tspan></text>
<text x="1022.2" y="624.3">Mackay</text>
<text x="1022.2" y="649.4">2016 T<tspan dy="6" font-size="12.2">RM</tspan></text>
<text x="1202.4" y="624.3">Giles 2022</text>
<text x="1202.4" y="649.4">T<tspan dy="6" font-size="12.2">EX-TERM</tspan></text>
<text x="1392.7" y="626.3">T<tspan dy="6" font-size="12.2">RM</tspan></text>
<text x="1392.7" y="651.9">specific sig</text>
<text x="1579.1" y="626.3">TR-T<tspan dy="6" font-size="12.2">EX</tspan></text>
<text x="1579.1" y="651.9">specific sig</text>
<text x="1001.5" y="681.8" font-size="22.5">UMAP1</text>
<g><line x1="1084.4" y1="676.6" x2="1125.4" y2="676.6" stroke="#000" stroke-width="2.1"/><path d="M1140.2 676.6L1118.4 669.3L1122.9 676.6L1118.4 683.9Z"/></g>
<text x="1005.5" y="660" font-size="22.5" transform="rotate(-90 1005.5 660)">UMAP2</text>
<g transform="rotate(-90 997.6 578)"><line x1="997.6" y1="578" x2="1044.8" y2="578" stroke="#000" stroke-width="2.1"/><path d="M1059.6 578L1037.8 570.7L1042.3 578L1037.8 585.3Z"/></g>
<defs><linearGradient id="gM" x1="0" y1="0" x2="1" y2="0"><stop offset="0" stop-color="#FCF6B5"/><stop offset="0.15" stop-color="#FDC98D"/><stop offset="0.3" stop-color="#FA9569"/><stop offset="0.45" stop-color="#E9606A"/><stop offset="0.6" stop-color="#B83C86"/><stop offset="0.75" stop-color="#7B2488"/><stop offset="0.88" stop-color="#3E1173"/><stop offset="1" stop-color="#0A0822"/></linearGradient></defs>
<rect x="1673.9" y="665.8" width="72.6" height="14.2" fill="url(#gM)"/>
<line x1="1701" y1="677" x2="1701" y2="680" stroke="#fff" stroke-width="1"/>
<line x1="1721" y1="677" x2="1721" y2="680" stroke="#fff" stroke-width="1"/>
<line x1="1741" y1="677" x2="1741" y2="680" stroke="#fff" stroke-width="1"/>
<text x="1674.4" y="699" font-size="22.5">lo</text>
<text x="1734.3" y="699" font-size="22.5">hi</text>
</g>
<g id="pc">
<text x="25.8" y="791.7" font-size="50" font-weight="bold">c</text>
<rect x="217.3" y="855.7" width="174.2" height="172.3" fill="#FAF3F7"/>
<line x1="122.3" y1="1028" x2="393.9" y2="1028" stroke="#777" stroke-width="1.5" stroke-dasharray="16.4 16.1"/>
<line x1="217" y1="855.2" x2="217" y2="1195.5" stroke="#777" stroke-width="1.5" stroke-dasharray="16.4 16.1"/>
<path d="M122.3 859V1195.8H392.9" fill="none" stroke="#000" stroke-width="1.6"/>
<text x="142.3" y="1217.5" font-size="21.8" text-anchor="middle">−1</text>
<text x="217.5" y="1217.5" font-size="21.8" text-anchor="middle">0</text>
<text x="298.6" y="1217.5" font-size="21.8" text-anchor="middle">1</text>
<text x="381.7" y="1217.5" font-size="21.8" text-anchor="middle">2</text>
<text x="111.8" y="877.3" font-size="21.8" text-anchor="end">1.0</text>
<text x="111.8" y="953.4" font-size="21.8" text-anchor="end">0.5</text>
<text x="111.8" y="1030.4" font-size="21.8" text-anchor="end">0.0</text>
<text x="111.8" y="1106.9" font-size="21.8" text-anchor="end">−0.5</text>
<text x="111.8" y="1183.4" font-size="21.8" text-anchor="end">−1.0</text>
<rect x="554.4" y="855.7" width="175" height="170.8" fill="#FAF3F7"/>
<line x1="455.9" y1="1026.5" x2="730.4" y2="1026.5" stroke="#777" stroke-width="1.5" stroke-dasharray="16.4 16.1"/>
<line x1="551.6" y1="855.2" x2="551.6" y2="1195.5" stroke="#777" stroke-width="1.5" stroke-dasharray="16.4 16.1"/>
<path d="M455.9 859V1195.8H729.4" fill="none" stroke="#000" stroke-width="1.6"/>
<text x="475" y="1217.5" font-size="21.8" text-anchor="middle">−1</text>
<text x="552.5" y="1217.5" font-size="21.8" text-anchor="middle">0</text>
<text x="634.6" y="1217.5" font-size="21.8" text-anchor="middle">1</text>
<text x="717.7" y="1217.5" font-size="21.8" text-anchor="middle">2</text>
<text x="448.2" y="873.3" font-size="21.8" text-anchor="end">1.0</text>
<text x="448.2" y="949.4" font-size="21.8" text-anchor="end">0.5</text>
<text x="448.2" y="1026.4" font-size="21.8" text-anchor="end">0.0</text>
<text x="448.2" y="1102.9" font-size="21.8" text-anchor="end">−0.5</text>
<text x="448.2" y="1179.4" font-size="21.8" text-anchor="end">−1.0</text>
<rect x="925.5" y="856.5" width="132" height="170.5" fill="#FAF3F7"/>
<line x1="788.7" y1="1027" x2="1059.4" y2="1027" stroke="#777" stroke-width="1.5" stroke-dasharray="16.4 16.1"/>
<line x1="924" y1="856" x2="924" y2="1195.5" stroke="#777" stroke-width="1.5" stroke-dasharray="16.4 16.1"/>
<path d="M788.7 859V1195.8H1058.4" fill="none" stroke="#000" stroke-width="1.6"/>
<text x="808.3" y="1217.5" font-size="21.8" text-anchor="middle">−5.0</text>
<text x="868.9" y="1217.5" font-size="21.8" text-anchor="middle">−2.5</text>
<text x="925.4" y="1217.5" font-size="21.8" text-anchor="middle">0.0</text>
<text x="986.5" y="1217.5" font-size="21.8" text-anchor="middle">2.5</text>
<text x="1050" y="1217.5" font-size="21.8" text-anchor="middle">5.0</text>
<text x="777.4" y="880.8" font-size="21.8" text-anchor="end">1.0</text>
<text x="777.4" y="956.9" font-size="21.8" text-anchor="end">0.5</text>
<text x="777.4" y="1033.9" font-size="21.8" text-anchor="end">0.0</text>
<text x="777.4" y="1110.4" font-size="21.8" text-anchor="end">−0.5</text>
<text x="777.4" y="1186.9" font-size="21.8" text-anchor="end">−1.0</text>
<rect x="1250.7" y="858" width="134.3" height="170.4" fill="#FAF3F7"/>
<line x1="1113.4" y1="1028.4" x2="1384.6" y2="1028.4" stroke="#777" stroke-width="1.5" stroke-dasharray="16.4 16.1"/>
<line x1="1248.8" y1="857.5" x2="1248.8" y2="1195.5" stroke="#777" stroke-width="1.5" stroke-dasharray="16.4 16.1"/>
<path d="M1113.4 859V1195.8H1383.6" fill="none" stroke="#000" stroke-width="1.6"/>
<text x="1143.3" y="1217.5" font-size="21.8" text-anchor="middle">−5.0</text>
<text x="1204.9" y="1217.5" font-size="21.8" text-anchor="middle">−2.5</text>
<text x="1260" y="1217.5" font-size="21.8" text-anchor="middle">0.0</text>
<text x="1320.6" y="1217.5" font-size="21.8" text-anchor="middle">2.5</text>
<text x="1383.6" y="1217.5" font-size="21.8" text-anchor="middle">5.0</text>
<text x="1104.7" y="877.3" font-size="21.8" text-anchor="end">1.0</text>
<text x="1104.7" y="953.4" font-size="21.8" text-anchor="end">0.5</text>
<text x="1104.7" y="1030.4" font-size="21.8" text-anchor="end">0.0</text>
<text x="1104.7" y="1106.9" font-size="21.8" text-anchor="end">−0.5</text>
<text x="1104.7" y="1183.4" font-size="21.8" text-anchor="end">−1.0</text>
<circle cx="172.7" cy="894" r="7" fill="#3D84C6" fill-opacity="0.88" stroke="#25517A" stroke-width="1.3" stroke-opacity="0.85"/>
<circle cx="147.5" cy="975.7" r="7" fill="#EF5B3F" fill-opacity="0.88" stroke="#943827" stroke-width="1.3" stroke-opacity="0.85"/>
<circle cx="152.1" cy="972.9" r="7" fill="#F07020" fill-opacity="0.88" stroke="#944513" stroke-width="1.3" stroke-opacity="0.85"/>
<circle cx="185.3" cy="998" r="7" fill="#9BEA3B" fill-opacity="0.88" stroke="#609124" stroke-width="1.3" stroke-opacity="0.85"/>
<circle cx="198.8" cy="1009.2" r="7" fill="#EEDD3A" fill-opacity="0.88" stroke="#938923" stroke-width="1.3" stroke-opacity="0.85"/>
<circle cx="262.2" cy="884.7" r="7" fill="#62E6D8" fill-opacity="0.88" stroke="#3C8E85" stroke-width="1.3" stroke-opacity="0.85"/>
<circle cx="254.8" cy="880" r="7" fill="#C08BF5" fill-opacity="0.88" stroke="#775697" stroke-width="1.3" stroke-opacity="0.85"/>
<circle cx="263.2" cy="880.9" r="7" fill="#C92A8D" fill-opacity="0.88" stroke="#7C1A57" stroke-width="1.3" stroke-opacity="0.85"/>
<circle cx="294" cy="877.7" r="7" fill="#F5B0C5" fill-opacity="0.88" stroke="#976D7A" stroke-width="1.3" stroke-opacity="0.85"/>
<circle cx="297.2" cy="877.2" r="7" fill="#F06585" fill-opacity="0.88" stroke="#943E52" stroke-width="1.3" stroke-opacity="0.85"/>
<circle cx="321" cy="875.8" r="7" fill="#74C5D2" fill-opacity="0.88" stroke="#477A82" stroke-width="1.3" stroke-opacity="0.85"/>
<circle cx="472.7" cy="1005" r="7" fill="#F5B0C5" fill-opacity="0.88" stroke="#976D7A" stroke-width="1.3" stroke-opacity="0.85"/>
<circle cx="568.4" cy="1032.6" r="7" fill="#C92A8D" fill-opacity="0.88" stroke="#7C1A57" stroke-width="1.3" stroke-opacity="0.85"/>
<circle cx="582.8" cy="1041" r="7" fill="#EEDD3A" fill-opacity="0.88" stroke="#938923" stroke-width="1.3" stroke-opacity="0.85"/>
<circle cx="609.9" cy="1052.2" r="7" fill="#F06585" fill-opacity="0.88" stroke="#943E52" stroke-width="1.3" stroke-opacity="0.85"/>
<circle cx="632.3" cy="1069.4" r="7" fill="#C08BF5" fill-opacity="0.88" stroke="#775697" stroke-width="1.3" stroke-opacity="0.85"/>
<circle cx="641.6" cy="1078.3" r="7" fill="#9BEA3B" fill-opacity="0.88" stroke="#609124" stroke-width="1.3" stroke-opacity="0.85"/>
<circle cx="695.8" cy="1124" r="7" fill="#F07020" fill-opacity="0.88" stroke="#944513" stroke-width="1.3" stroke-opacity="0.85"/>
<circle cx="702.3" cy="897.7" r="7" fill="#3D84C6" fill-opacity="0.88" stroke="#25517A" stroke-width="1.3" stroke-opacity="0.85"/>
<circle cx="712.1" cy="894" r="7" fill="#74C5D2" fill-opacity="0.88" stroke="#477A82" stroke-width="1.3" stroke-opacity="0.85"/>
<circle cx="711.2" cy="897.7" r="7" fill="#62E6D8" fill-opacity="0.88" stroke="#3C8E85" stroke-width="1.3" stroke-opacity="0.85"/>
<circle cx="977.6" cy="929.5" r="7" fill="#62E6D8" fill-opacity="0.88" stroke="#3C8E85" stroke-width="1.3" stroke-opacity="0.85"/>
<circle cx="984.2" cy="910.3" r="7" fill="#3D84C6" fill-opacity="0.88" stroke="#25517A" stroke-width="1.3" stroke-opacity="0.85"/>
<circle cx="990.2" cy="900.5" r="7" fill="#E3AA56" fill-opacity="0.88" stroke="#8C6935" stroke-width="1.3" stroke-opacity="0.85"/>
<circle cx="991.6" cy="902.9" r="7" fill="#EEDD3A" fill-opacity="0.88" stroke="#938923" stroke-width="1.3" stroke-opacity="0.85"/>
<circle cx="1001" cy="890.3" r="7" fill="#EF5B3F" fill-opacity="0.88" stroke="#943827" stroke-width="1.3" stroke-opacity="0.85"/>
<circle cx="1006.6" cy="879.1" r="7" fill="#F5B0C5" fill-opacity="0.88" stroke="#976D7A" stroke-width="1.3" stroke-opacity="0.85"/>
<circle cx="1015.4" cy="876.7" r="7" fill="#C08BF5" fill-opacity="0.88" stroke="#775697" stroke-width="1.3" stroke-opacity="0.85"/>
<circle cx="1154" cy="1014.4" r="7" fill="#74C5D2" fill-opacity="0.88" stroke="#477A82" stroke-width="1.3" stroke-opacity="0.85"/>
<circle cx="1235.7" cy="1024.6" r="7" fill="#3D84C6" fill-opacity="0.88" stroke="#25517A" stroke-width="1.3" stroke-opacity="0.85"/>
<circle cx="1239.4" cy="1024.2" r="7" fill="#62E6D8" fill-opacity="0.88" stroke="#3C8E85" stroke-width="1.3" stroke-opacity="0.85"/>
<circle cx="1282.4" cy="981.7" r="7" fill="#9BEA3B" fill-opacity="0.88" stroke="#609124" stroke-width="1.3" stroke-opacity="0.85"/>
<circle cx="1332.3" cy="916.4" r="7" fill="#EEDD3A" fill-opacity="0.88" stroke="#938923" stroke-width="1.3" stroke-opacity="0.85"/>
<circle cx="1346.3" cy="896.3" r="7" fill="#F5B0C5" fill-opacity="0.88" stroke="#976D7A" stroke-width="1.3" stroke-opacity="0.85"/>
<circle cx="1337.4" cy="901.9" r="7" fill="#F07020" fill-opacity="0.88" stroke="#944513" stroke-width="1.3" stroke-opacity="0.85"/>
<circle cx="1343" cy="901" r="7" fill="#F07020" fill-opacity="0.88" stroke="#944513" stroke-width="1.3" stroke-opacity="0.85"/>
<circle cx="1354.2" cy="887" r="7" fill="#C92A8D" fill-opacity="0.88" stroke="#7C1A57" stroke-width="1.3" stroke-opacity="0.85"/>
<circle cx="1356.1" cy="886.1" r="7" fill="#C08BF5" fill-opacity="0.88" stroke="#775697" stroke-width="1.3" stroke-opacity="0.85"/>
<text x="122.3" y="820.3" font-size="22.5" letter-spacing="-1.6">Enrichment relative to Arm Spl Tmem</text>
<text x="122.3" y="848.3" font-size="22.5">Mackay 2016 T<tspan dy="6.3" font-size="13.3">RM</tspan><tspan dy="-6.3"> sig.</tspan></text>
<text x="449" y="845.5" font-size="22.5">T<tspan dy="6.3" font-size="13.3">RM</tspan><tspan dy="-6.3"> specific sig.</tspan></text>
<text x="797" y="841.5" font-size="22.5">Giles 2022 T<tspan dy="6.3" font-size="13.3">EX-TERM</tspan><tspan dy="-6.3"> sig.</tspan></text>
<text x="1116.5" y="841.5" font-size="22.5">TR-T<tspan dy="6.3" font-size="13.3">EX</tspan><tspan dy="-6.3"> specific sig.</tspan></text>
<text x="772.8" y="1246.3" font-size="22.5" text-anchor="middle">log2(Fold Change)</text>
<text x="60" y="1025.5" font-size="22.5" text-anchor="middle" transform="rotate(-90 60 1025.5)">Inverse Cliff's delta</text>
<circle cx="89.6" cy="1282" r="7.6" fill="#9BEA3B"/>
<text x="105" y="1289" font-size="23">Arm Spl T<tspan dy="6.5" font-size="13.5">EFF</tspan></text>
<circle cx="89.6" cy="1307.2" r="7.6" fill="#74C5D2"/>
<text x="105" y="1313.7" font-size="23">Arm SI T<tspan dy="6.5" font-size="13.5">RM</tspan></text>
<circle cx="89.6" cy="1332.4" r="7.6" fill="#62E6D8"/>
<text x="105" y="1340.3" font-size="23">Arm SG T<tspan dy="6.5" font-size="13.5">RM</tspan></text>
<circle cx="89.6" cy="1359" r="7.6" fill="#3D84C6"/>
<text x="105" y="1367" font-size="23">Arm Liv T<tspan dy="6.5" font-size="13.5">RM</tspan></text>
<circle cx="255.7" cy="1282" r="7.6" fill="#EEDD3A"/>
<text x="271.6" y="1289" font-size="23">Cl13 Spl T<tspan dy="6.5" font-size="13.5">EX</tspan><tspan dy="-6.5"> Prog</tspan></text>
<circle cx="255.7" cy="1308.5" r="7.6" fill="#EF5B3F"/>
<text x="271.6" y="1316" font-size="23">Cl13 Spl T<tspan dy="6.5" font-size="13.5">EX</tspan><tspan dy="-6.5"> Int</tspan></text>
<circle cx="255.7" cy="1335" r="7.6" fill="#E3AA56"/>
<text x="271.6" y="1342.7" font-size="23">Cl13 Spl T<tspan dy="6.5" font-size="13.5">EX</tspan><tspan dy="-6.5"> KLR</tspan></text>
<circle cx="255.7" cy="1362" r="7.6" fill="#C08BF5"/>
<text x="271.6" y="1369.7" font-size="23">Cl13 Spl T<tspan dy="6.5" font-size="13.5">EX</tspan><tspan dy="-6.5"> Term</tspan></text>
<circle cx="486.2" cy="1281" r="7.6" fill="#F06585"/>
<text x="500.7" y="1287.6" font-size="23">Cl13 SI TR-T<tspan dy="6.5" font-size="13.5">EX</tspan></text>
<circle cx="486.2" cy="1308" r="7.6" fill="#F5B0C5"/>
<text x="500.7" y="1314.7" font-size="23">Cl13 SG TR-T<tspan dy="6.5" font-size="13.5">EX</tspan></text>
<circle cx="486.2" cy="1335" r="7.6" fill="#C92A8D"/>
<text x="500.7" y="1341.3" font-size="23">Cl13 Liv TR-T<tspan dy="6.5" font-size="13.5">EX</tspan></text>
</g>
<g id="pd">
<text x="1397.3" y="791.6" font-size="44.5" font-weight="bold">d</text>
<text x="1627.7" y="748.1" font-size="22.9" text-anchor="middle">Human Gut Atlas</text>
<text x="1557.5" y="775" font-size="22.9" text-anchor="middle">T<tspan dy="6" font-size="13">RM</tspan></text>
<text x="1557.5" y="801.8" font-size="22.9" text-anchor="middle">specific sig</text>
<text x="1688.4" y="775" font-size="22.9" text-anchor="middle">TR-T<tspan dy="6" font-size="13">EX</tspan></text>
<text x="1688.4" y="801.8" font-size="22.9" text-anchor="middle">specific sig</text>
<text x="1515.6" y="831.9" font-size="19.5">δ = -0.6</text>
<text x="1515.6" y="854.4" font-size="19.5">FC = 5.2</text>
<text x="1650.7" y="831.9" font-size="19.5">δ = -0.1</text>
<text x="1650.7" y="854.4" font-size="19.5">FC = 1.9</text>
<line x1="1505.3" y1="924.7" x2="1590" y2="924.7" stroke="#000" stroke-width="1.5" stroke-dasharray="8 5.5"/>
<line x1="1529.1" y1="897.9" x2="1529.1" y2="991.2" stroke="#3A8A2E" stroke-width="1.5"/><rect x="1513.9" y="933.3" width="30.3" height="23.7" fill="#93CB7E" stroke="#3A8A2E" stroke-width="1.5" fill-opacity="0.88"/><line x1="1513.9" y1="944.3" x2="1544.2" y2="944.3" stroke="#3A8A2E" stroke-width="1.8"/>
<line x1="1568.8" y1="862.9" x2="1568.8" y2="978.2" stroke="#3FA79E" stroke-width="1.5"/><rect x="1553.7" y="906.2" width="30.3" height="29" fill="#8FF0E6" stroke="#3FA79E" stroke-width="1.5" fill-opacity="0.88"/><line x1="1553.7" y1="921.1" x2="1584" y2="921.1" stroke="#3FA79E" stroke-width="1.8"/>
<path d="M1505.3 854.4V1011.5H1592.6" fill="none" stroke="#000" stroke-width="1.5"/>
<line x1="1641.4" y1="925.2" x2="1726" y2="925.2" stroke="#000" stroke-width="1.5" stroke-dasharray="8 5.5"/>
<line x1="1665.1" y1="862.9" x2="1665.1" y2="1001" stroke="#3A8A2E" stroke-width="1.5"/><rect x="1649.7" y="914.7" width="30.8" height="34.5" fill="#93CB7E" stroke="#3A8A2E" stroke-width="1.5" fill-opacity="0.88"/><line x1="1649.7" y1="933" x2="1680.5" y2="933" stroke="#3A8A2E" stroke-width="1.8"/>
<line x1="1704.8" y1="849.5" x2="1704.8" y2="1003.4" stroke="#3FA79E" stroke-width="1.5"/><rect x="1689.6" y="903.7" width="30.3" height="40.3" fill="#8FF0E6" stroke="#3FA79E" stroke-width="1.5" fill-opacity="0.88"/><line x1="1689.6" y1="924.7" x2="1719.9" y2="924.7" stroke="#3FA79E" stroke-width="1.8"/>
<path d="M1641.4 854.4V1011.5H1728.2" fill="none" stroke="#000" stroke-width="1.5"/>
<text x="1503" y="887.8" font-size="22.9" text-anchor="end">0.2</text>
<text x="1503" y="947" font-size="22.9" text-anchor="end">0.0</text>
<text x="1503" y="1011.2" font-size="22.9" text-anchor="end">−0.2</text>
<text x="1639" y="887.8" font-size="22.9" text-anchor="end">0.2</text>
<text x="1639" y="947" font-size="22.9" text-anchor="end">0.0</text>
<text x="1639" y="1011.2" font-size="22.9" text-anchor="end">−0.2</text>
<text x="1453.5" y="931.3" font-size="22.9" text-anchor="middle" transform="rotate(-90 1453.5 931.3)">Enrichment score</text>
<text x="1522" y="1031" font-size="22.9" text-anchor="end" transform="rotate(-41 1522 1031)">PBMC CD8<tspan dy="-9" font-size="11">+</tspan></text>
<text x="1577" y="1031" font-size="22.9" text-anchor="end" transform="rotate(-41 1577 1031)">SI CD8<tspan dy="-9" font-size="11">+</tspan></text>
<text x="1662" y="1031" font-size="22.9" text-anchor="end" transform="rotate(-41 1662 1031)">PBMC CD8<tspan dy="-9" font-size="11">+</tspan></text>
<text x="1718" y="1031" font-size="22.9" text-anchor="end" transform="rotate(-41 1718 1031)">SI CD8<tspan dy="-9" font-size="11">+</tspan></text>
<text x="1632.2" y="1131.4" font-size="22.9" text-anchor="middle">Human PBMC Atlas</text>
<text x="1554.7" y="1162.5" font-size="22.9" text-anchor="middle">T<tspan dy="6" font-size="13">RM</tspan></text>
<text x="1554.7" y="1189.3" font-size="22.9" text-anchor="middle">specific sig</text>
<text x="1696.4" y="1162.5" font-size="22.9" text-anchor="middle">TR-T<tspan dy="6" font-size="13">EX</tspan></text>
<text x="1696.4" y="1189.3" font-size="22.9" text-anchor="middle">specific sig</text>
<text x="1524.1" y="1217" font-size="19.5">δ = 0.53</text>
<text x="1524.1" y="1240.7" font-size="19.5">FC = 2.3</text>
<text x="1658.5" y="1212.6" font-size="19.5">δ = -0.41</text>
<text x="1658.5" y="1235.8" font-size="19.5">FC = 1.9</text>
<line x1="1504.1" y1="1324" x2="1588" y2="1324" stroke="#000" stroke-width="1.5" stroke-dasharray="8 5.5"/>
<line x1="1528.6" y1="1245.5" x2="1528.6" y2="1398.2" stroke="#3A8A2E" stroke-width="1.5"/><rect x="1512.7" y="1290.3" width="31.7" height="59.1" fill="#93CB7E" stroke="#3A8A2E" stroke-width="1.5" fill-opacity="0.88"/><line x1="1512.7" y1="1318.1" x2="1544.4" y2="1318.1" stroke="#3A8A2E" stroke-width="1.8"/>
<line x1="1570.1" y1="1322.5" x2="1570.1" y2="1395.1" stroke="#A3287E" stroke-width="1.5"/><rect x="1554.2" y="1337.6" width="31.8" height="42.8" fill="#E78AD0" stroke="#A3287E" stroke-width="1.5" fill-opacity="0.88"/><line x1="1554.2" y1="1362.8" x2="1586" y2="1362.8" stroke="#A3287E" stroke-width="1.8"/>
<path d="M1504.1 1238.2V1406.8H1595" fill="none" stroke="#000" stroke-width="1.5"/>
<line x1="1642.6" y1="1313.7" x2="1737" y2="1313.7" stroke="#000" stroke-width="1.5" stroke-dasharray="8 5.5"/>
<line x1="1668.6" y1="1253.6" x2="1668.6" y2="1400.7" stroke="#3A8A2E" stroke-width="1.5"/><rect x="1652.4" y="1293.2" width="32.3" height="49.6" fill="#93CB7E" stroke="#3A8A2E" stroke-width="1.5" fill-opacity="0.88"/><line x1="1652.4" y1="1315.7" x2="1684.7" y2="1315.7" stroke="#3A8A2E" stroke-width="1.8"/>
<line x1="1710.8" y1="1253.6" x2="1710.8" y2="1308.3" stroke="#A3287E" stroke-width="1.5"/><rect x="1694.7" y="1276.8" width="32.2" height="31.5" fill="#E78AD0" stroke="#A3287E" stroke-width="1.5" fill-opacity="0.88"/><line x1="1694.7" y1="1298.6" x2="1726.9" y2="1298.6" stroke="#A3287E" stroke-width="1.8"/>
<path d="M1642.6 1246.8V1407.5H1736.2" fill="none" stroke="#000" stroke-width="1.5"/>
<text x="1501" y="1286.3" font-size="22.9" text-anchor="end">0.2</text>
<text x="1501" y="1335.2" font-size="22.9" text-anchor="end">0.0</text>
<text x="1501" y="1381.6" font-size="22.9" text-anchor="end">−0.2</text>
<text x="1639" y="1268" font-size="22.9" text-anchor="end">0.4</text>
<text x="1639" y="1307.1" font-size="22.9" text-anchor="end">0.2</text>
<text x="1639" y="1346.2" font-size="22.9" text-anchor="end">0.0</text>
<text x="1639" y="1385.3" font-size="22.9" text-anchor="end">−0.2</text>
<text x="1458.5" y="1322.5" font-size="22.9" text-anchor="middle" transform="rotate(-90 1458.5 1322.5)">Enrichment score</text>
<text x="1528" y="1421" font-size="22.9" text-anchor="end" transform="rotate(-42 1528 1421)">Nn CD8<tspan dy="-9" font-size="11">+</tspan></text>
<text x="1588" y="1416" font-size="22.9" text-anchor="end" transform="rotate(-42 1588 1416)">CD8<tspan dy="-9" font-size="11">+</tspan><tspan dy="9"> T</tspan><tspan dy="5" font-size="11">EX</tspan></text>
<text x="1673" y="1421" font-size="22.9" text-anchor="end" transform="rotate(-42 1673 1421)">Nn CD8<tspan dy="-9" font-size="11">+</tspan></text>
<text x="1733" y="1416" font-size="22.9" text-anchor="end" transform="rotate(-42 1733 1416)">CD8<tspan dy="-9" font-size="11">+</tspan><tspan dy="9"> T</tspan><tspan dy="5" font-size="11">EX</tspan></text>
</g>
<g id="pe">
<text x="33.6" y="1454" font-size="50" font-weight="bold">e</text>
<text x="116.5" y="1461.5" font-size="22.8" font-weight="bold">DE surface molecules</text>
<circle cx="137.8" cy="1490.5" r="9" fill="#FBF8B0"/>
<circle cx="176" cy="1490.5" r="10.8" fill="#F8C98F"/>
<circle cx="214.3" cy="1490.5" r="12" fill="#F3845E"/>
<circle cx="252.5" cy="1490.5" r="10.8" fill="#F8C98F"/>
<circle cx="290.7" cy="1490.5" r="15" fill="#A2358A"/>
<circle cx="328.9" cy="1490.5" r="15.3" fill="#A2358A"/>
<circle cx="367.2" cy="1490.5" r="16" fill="#86298A"/>
<circle cx="405.4" cy="1490.5" r="17" fill="#6A2088"/>
<line x1="112.3" y1="1490.5" x2="115.3" y2="1490.5" stroke="#000" stroke-width="1.3"/>
<text x="107.7" y="1497.8" font-size="22.3" text-anchor="end" font-style="italic">Itgav</text>
<text x="435.2" y="1498" font-size="22.9">CD51</text>
<circle cx="137.8" cy="1519.2" r="4" fill="#F6A46F"/>
<circle cx="176" cy="1519.2" r="6" fill="#EC5E62"/>
<circle cx="214.3" cy="1519.2" r="3" fill="#F8C98F"/>
<circle cx="252.5" cy="1519.2" r="5" fill="#F3845E"/>
<circle cx="290.7" cy="1519.2" r="5.6" fill="#EC5E62"/>
<circle cx="328.9" cy="1519.2" r="5" fill="#F3845E"/>
<circle cx="367.2" cy="1519.2" r="11" fill="#000004"/>
<circle cx="405.4" cy="1519.2" r="5" fill="#EC5E62"/>
<line x1="112.3" y1="1519.2" x2="115.3" y2="1519.2" stroke="#000" stroke-width="1.3"/>
<text x="107.7" y="1526.5" font-size="22.3" text-anchor="end" font-style="italic">Cd86</text>
<text x="435.2" y="1526.8" font-size="22.9">CD86</text>
<circle cx="137.8" cy="1548" r="1.3" fill="#FBF8B0"/>
<circle cx="176" cy="1548" r="2.5" fill="#F6A46F"/>
<circle cx="214.3" cy="1548" r="3.6" fill="#DC4A70"/>
<circle cx="252.5" cy="1548" r="1.6" fill="#FBF8B0"/>
<circle cx="290.7" cy="1548" r="3.6" fill="#EC5E62"/>
<circle cx="328.9" cy="1548" r="4.4" fill="#A2358A"/>
<circle cx="367.2" cy="1548" r="4.8" fill="#86298A"/>
<circle cx="405.4" cy="1548" r="5.6" fill="#4A1578"/>
<line x1="112.3" y1="1548" x2="115.3" y2="1548" stroke="#000" stroke-width="1.3"/>
<text x="107.7" y="1555.3" font-size="22.3" text-anchor="end" font-style="italic">Adrb1</text>
<text x="435.2" y="1555.5" font-size="22.9">β1-AR</text>
<circle cx="137.8" cy="1576.8" r="2" fill="#F8C98F"/>
<circle cx="176" cy="1576.8" r="2.5" fill="#EC5E62"/>
<circle cx="214.3" cy="1576.8" r="1.6" fill="#FBF8B0"/>
<circle cx="252.5" cy="1576.8" r="2" fill="#F6A46F"/>
<circle cx="290.7" cy="1576.8" r="3.2" fill="#C03E82"/>
<circle cx="328.9" cy="1576.8" r="4" fill="#4A1578"/>
<circle cx="367.2" cy="1576.8" r="4" fill="#4A1578"/>
<circle cx="405.4" cy="1576.8" r="2.5" fill="#EC5E62"/>
<line x1="112.3" y1="1576.8" x2="115.3" y2="1576.8" stroke="#000" stroke-width="1.3"/>
<text x="107.7" y="1584" font-size="22.3" text-anchor="end" font-style="italic">Lat2</text>
<text x="435.2" y="1584.2" font-size="22.9">LAT2</text>
<circle cx="137.8" cy="1605.5" r="1.2" fill="#F8C98F"/>
<circle cx="176" cy="1605.5" r="1.2" fill="#F6A46F"/>
<circle cx="214.3" cy="1605.5" r="1.5" fill="#F6A46F"/>
<circle cx="252.5" cy="1605.5" r="1.2" fill="#F8C98F"/>
<circle cx="290.7" cy="1605.5" r="4" fill="#A2358A"/>
<circle cx="328.9" cy="1605.5" r="6" fill="#2A1055"/>
<circle cx="367.2" cy="1605.5" r="2.8" fill="#EC5E62"/>
<circle cx="405.4" cy="1605.5" r="4.8" fill="#86298A"/>
<line x1="112.3" y1="1605.5" x2="115.3" y2="1605.5" stroke="#000" stroke-width="1.3"/>
<text x="107.7" y="1612.8" font-size="22.3" text-anchor="end" font-style="italic">Glp1r</text>
<text x="435.2" y="1613" font-size="22.9">GLP1R</text>
<circle cx="137.8" cy="1634.2" r="1.5" fill="#F8C98F"/>
<circle cx="176" cy="1634.2" r="3.2" fill="#F6A46F"/>
<circle cx="214.3" cy="1634.2" r="3.2" fill="#F6A46F"/>
<circle cx="252.5" cy="1634.2" r="2.5" fill="#F6A46F"/>
<circle cx="290.7" cy="1634.2" r="6.4" fill="#EC5E62"/>
<circle cx="328.9" cy="1634.2" r="13.3" fill="#0E0A2A"/>
<circle cx="367.2" cy="1634.2" r="7.6" fill="#C03E82"/>
<circle cx="405.4" cy="1634.2" r="7.2" fill="#DC4A70"/>
<line x1="112.3" y1="1634.2" x2="115.3" y2="1634.2" stroke="#000" stroke-width="1.3"/>
<text x="107.7" y="1641.5" font-size="22.3" text-anchor="end" font-style="italic">Cd200r1</text>
<text x="435.2" y="1641.8" font-size="22.9" fill="#6A1B9A">CD200R</text>
<circle cx="137.8" cy="1663" r="8.8" fill="#EC5E62"/>
<circle cx="176" cy="1663" r="10.4" fill="#86298A"/>
<circle cx="214.3" cy="1663" r="10.8" fill="#86298A"/>
<circle cx="252.5" cy="1663" r="12.9" fill="#6A2088"/>
<circle cx="290.7" cy="1663" r="4.8" fill="#F9E3A0"/>
<circle cx="328.9" cy="1663" r="4.8" fill="#F8C98F"/>
<circle cx="367.2" cy="1663" r="6" fill="#F6A46F"/>
<circle cx="405.4" cy="1663" r="6.4" fill="#F6A46F"/>
<line x1="112.3" y1="1663" x2="115.3" y2="1663" stroke="#000" stroke-width="1.3"/>
<text x="107.7" y="1670.3" font-size="22.3" text-anchor="end" font-style="italic">Slc2a3</text>
<text x="435.2" y="1670.5" font-size="22.9">GLUT3</text>
<circle cx="137.8" cy="1691.8" r="3.2" fill="#F6A46F"/>
<circle cx="176" cy="1691.8" r="6.4" fill="#2A1055"/>
<circle cx="214.3" cy="1691.8" r="4.4" fill="#C03E82"/>
<circle cx="252.5" cy="1691.8" r="5.2" fill="#A2358A"/>
<circle cx="290.7" cy="1691.8" r="2.4" fill="#F8C98F"/>
<circle cx="328.9" cy="1691.8" r="2.8" fill="#F6A46F"/>
<circle cx="367.2" cy="1691.8" r="4" fill="#EC5E62"/>
<circle cx="405.4" cy="1691.8" r="2.4" fill="#F9E3A0"/>
<line x1="112.3" y1="1691.8" x2="115.3" y2="1691.8" stroke="#000" stroke-width="1.3"/>
<text x="107.7" y="1699" font-size="22.3" text-anchor="end" font-style="italic">Pdcd1lg2</text>
<text x="435.2" y="1699.2" font-size="22.9">PDL-2 (CD273)</text>
<circle cx="137.8" cy="1720.5" r="5.2" fill="#86298A"/>
<circle cx="176" cy="1720.5" r="4" fill="#DC4A70"/>
<circle cx="214.3" cy="1720.5" r="4.8" fill="#A2358A"/>
<circle cx="252.5" cy="1720.5" r="6.8" fill="#4A1578"/>
<circle cx="290.7" cy="1720.5" r="1.6" fill="#F6A46F"/>
<circle cx="328.9" cy="1720.5" r="1.2" fill="#F8C98F"/>
<circle cx="367.2" cy="1720.5" r="1.6" fill="#F6A46F"/>
<circle cx="405.4" cy="1720.5" r="1.6" fill="#F6A46F"/>
<line x1="112.3" y1="1720.5" x2="115.3" y2="1720.5" stroke="#000" stroke-width="1.3"/>
<text x="107.7" y="1727.8" font-size="22.3" text-anchor="end" font-style="italic">Il2ra</text>
<text x="435.2" y="1728" font-size="22.9">CD25</text>
<circle cx="137.8" cy="1749.2" r="5.2" fill="#EC5E62"/>
<circle cx="176" cy="1749.2" r="9.2" fill="#86298A"/>
<circle cx="214.3" cy="1749.2" r="14.5" fill="#0E0A2A"/>
<circle cx="252.5" cy="1749.2" r="3.2" fill="#F3845E"/>
<circle cx="290.7" cy="1749.2" r="1.6" fill="#F6A46F"/>
<circle cx="328.9" cy="1749.2" r="1.6" fill="#F6A46F"/>
<circle cx="367.2" cy="1749.2" r="3.6" fill="#F3845E"/>
<circle cx="405.4" cy="1749.2" r="2.8" fill="#F6A46F"/>
<line x1="112.3" y1="1749.2" x2="115.3" y2="1749.2" stroke="#000" stroke-width="1.3"/>
<text x="107.7" y="1756.5" font-size="22.3" text-anchor="end" font-style="italic">Nt5e</text>
<text x="435.2" y="1756.8" font-size="22.9" fill="#6A1B9A">CD73</text>
<circle cx="137.8" cy="1778" r="2.4" fill="#F3845E"/>
<circle cx="176" cy="1778" r="5.2" fill="#86298A"/>
<circle cx="214.3" cy="1778" r="5.6" fill="#6A2088"/>
<circle cx="252.5" cy="1778" r="6.4" fill="#4A1578"/>
<circle cx="290.7" cy="1778" r="1.6" fill="#F6A46F"/>
<circle cx="328.9" cy="1778" r="1.2" fill="#F8C98F"/>
<circle cx="367.2" cy="1778" r="2" fill="#F6A46F"/>
<circle cx="405.4" cy="1778" r="1.2" fill="#F8C98F"/>
<line x1="112.3" y1="1778" x2="115.3" y2="1778" stroke="#000" stroke-width="1.3"/>
<text x="107.7" y="1785.3" font-size="22.3" text-anchor="end" font-style="italic">Cd40lg</text>
<text x="435.2" y="1785.5" font-size="22.9">CD40L (CD154)</text>
<circle cx="137.8" cy="1806.8" r="1.6" fill="#F6A46F"/>
<circle cx="176" cy="1806.8" r="4" fill="#EC5E62"/>
<circle cx="214.3" cy="1806.8" r="17.7" fill="#2A1055"/>
<circle cx="252.5" cy="1806.8" r="13.7" fill="#6A2088"/>
<circle cx="290.7" cy="1806.8" r="2.4" fill="#F6A46F"/>
<circle cx="328.9" cy="1806.8" r="2.4" fill="#F6A46F"/>
<circle cx="367.2" cy="1806.8" r="2" fill="#F6A46F"/>
<circle cx="405.4" cy="1806.8" r="4.4" fill="#F3845E"/>
<line x1="112.3" y1="1806.8" x2="115.3" y2="1806.8" stroke="#000" stroke-width="1.3"/>
<text x="107.7" y="1814" font-size="22.3" text-anchor="end" font-style="italic">P2rx7</text>
<text x="435.2" y="1814.2" font-size="22.9">P2RX7</text>
<rect x="115.3" y="1472.8" width="315" height="350.4" fill="none" stroke="#000" stroke-width="1.6"/>
<line x1="137.8" y1="1823.2" x2="137.8" y2="1827.2" stroke="#000" stroke-width="1.3"/>
<line x1="176" y1="1823.2" x2="176" y2="1827.2" stroke="#000" stroke-width="1.3"/>
<line x1="214.3" y1="1823.2" x2="214.3" y2="1827.2" stroke="#000" stroke-width="1.3"/>
<line x1="252.5" y1="1823.2" x2="252.5" y2="1827.2" stroke="#000" stroke-width="1.3"/>
<line x1="290.7" y1="1823.2" x2="290.7" y2="1827.2" stroke="#000" stroke-width="1.3"/>
<line x1="328.9" y1="1823.2" x2="328.9" y2="1827.2" stroke="#000" stroke-width="1.3"/>
<line x1="367.2" y1="1823.2" x2="367.2" y2="1827.2" stroke="#000" stroke-width="1.3"/>
<line x1="405.4" y1="1823.2" x2="405.4" y2="1827.2" stroke="#000" stroke-width="1.3"/>
<rect x="122.6" y="1832" width="26.3" height="23" fill="#3DAE49"/>
<rect x="163.9" y="1832" width="26.3" height="23" fill="#63E6D7"/>
<rect x="202.1" y="1832" width="26.3" height="23" fill="#72C8D3"/>
<rect x="239.9" y="1832" width="26.3" height="23" fill="#3E84C6"/>
<rect x="277.7" y="1832" width="26.3" height="23" fill="#C38EF7"/>
<rect x="317" y="1832" width="26.3" height="23" fill="#F5B1C5"/>
<rect x="355.2" y="1832" width="26.3" height="23" fill="#C92A8C"/>
<rect x="395" y="1832" width="26.3" height="23" fill="#F0608A"/>
<text x="132.6" y="1862.2" font-size="23.3" text-anchor="end" transform="rotate(-90 132.6 1862.2)">Arm Spl T<tspan dy="6.3" font-size="13.3">MEM</tspan></text>
<text x="176.8" y="1862.2" font-size="23.3" text-anchor="end" transform="rotate(-90 176.8 1862.2)">Arm SG T<tspan dy="6.3" font-size="13.3">RM</tspan></text>
<text x="214.2" y="1862.2" font-size="23.3" text-anchor="end" transform="rotate(-90 214.2 1862.2)">Arm SI T<tspan dy="6.3" font-size="13.3">RM</tspan></text>
<text x="253.1" y="1862.2" font-size="23.3" text-anchor="end" transform="rotate(-90 253.1 1862.2)">Arm Liv T<tspan dy="6.3" font-size="13.3">RM</tspan></text>
<text x="297.3" y="1858.4" font-size="23.3" text-anchor="end" transform="rotate(-90 297.3 1858.4)">Cl13 Spl T<tspan dy="6.3" font-size="13.3">EX</tspan><tspan dy="-6.3"> Term</tspan></text>
<text x="330.3" y="1862.2" font-size="23.3" text-anchor="end" transform="rotate(-90 330.3 1862.2)">Cl13 Liv TR-T<tspan dy="6.3" font-size="13.3">EX</tspan></text>
<text x="366.9" y="1862.2" font-size="23.3" text-anchor="end" transform="rotate(-90 366.9 1862.2)">Cl13 SG TR-T<tspan dy="6.3" font-size="13.3">EX</tspan></text>
<text x="405.8" y="1862.2" font-size="23.3" text-anchor="end" transform="rotate(-90 405.8 1862.2)">Cl13 SI TR-T<tspan dy="6.3" font-size="13.3">EX</tspan></text>
<text x="450" y="1852.9" font-size="22.3">lo</text>
<text x="519.5" y="1852.9" font-size="22.3">hi</text>
<defs><linearGradient id="gE" x1="0" y1="0" x2="1" y2="0"><stop offset="0" stop-color="#FCF6B5"/><stop offset="0.15" stop-color="#FDC98D"/><stop offset="0.3" stop-color="#FA9569"/><stop offset="0.45" stop-color="#E9606A"/><stop offset="0.6" stop-color="#B83C86"/><stop offset="0.75" stop-color="#7B2488"/><stop offset="0.88" stop-color="#3E1173"/><stop offset="1" stop-color="#0A0822"/></linearGradient></defs>
<rect x="459.3" y="1862.1" width="67.1" height="12.9" fill="url(#gE)"/>
<line x1="483" y1="1872" x2="483" y2="1875" stroke="#fff" stroke-width="1"/>
<line x1="503.5" y1="1872" x2="503.5" y2="1875" stroke="#fff" stroke-width="1"/>
<line x1="524" y1="1872" x2="524" y2="1875" stroke="#fff" stroke-width="1"/>
<text x="446" y="1899.5" font-size="22.3">% expressing</text>
<circle cx="475" cy="1914.4" r="0.8" fill="#000"/>
<text x="491" y="1922.4" font-size="22.3">0</text>
<circle cx="475" cy="1932.5" r="4.4" fill="#000"/>
<text x="491" y="1940.5" font-size="22.3">10</text>
<circle cx="475" cy="1949.7" r="8.4" fill="#000"/>
<text x="491" y="1957.7" font-size="22.3">20</text>
<circle cx="475" cy="1973.4" r="12.5" fill="#000"/>
<text x="491" y="1981.4" font-size="22.3">30</text>
</g>
<g id="pf">
<text x="53" y="2110.7" font-size="50" font-weight="bold">f</text>
<path d="M107.7 2163.7L109.7 2163.7L111.8 2163.5L113.8 2163.2L115.8 2162.7L117.8 2161.9L119.9 2160.5L121.9 2158.5L123.9 2155.3L126 2150.8L128 2145.5L130 2141L132 2135L134.1 2128.4L136.1 2126L138.1 2123.7L140.2 2120.8L142.2 2122.2L144.2 2124.8L146.2 2129L148.3 2133.5L150.3 2135.7L152.3 2139.7L154.3 2144.5L156.4 2148.8L158.4 2152.2L160.4 2154.3L162.5 2156.4L164.5 2158.2L166.5 2159.9L168.5 2161.1L170.6 2161.9L172.6 2162.6L174.6 2163L176.7 2163.2L178.7 2163.4L180.7 2163.5L182.7 2163.7L237.5 2163.7L237.5 2163.7" fill="#D3A2F4" fill-opacity="0.72" stroke="#A93AE8" stroke-width="1.4" stroke-linejoin="round"/>
<path d="M107.7 2188.6L119.9 2188.6L121.9 2188.4L123.9 2188.1L126 2187.3L128 2185.8L130 2183.3L132 2179.4L134.1 2174.7L136.1 2167.1L138.1 2160.5L140.2 2155.3L142.2 2150L144.2 2152.8L146.2 2158.4L148.3 2160.9L150.3 2163.6L152.3 2169L154.3 2175.1L156.4 2179.2L158.4 2182.4L160.4 2184.9L162.5 2186.3L164.5 2187.3L166.5 2187.9L168.5 2188.3L170.6 2188.4L172.6 2188.6L237.5 2188.6L237.5 2188.6" fill="#E6EC7C" fill-opacity="0.72" stroke="#CBD92A" stroke-width="1.4" stroke-linejoin="round"/>
<path d="M107.7 2213.1L115.8 2213.1L117.8 2212.9L119.9 2212.5L121.9 2211.9L123.9 2210.5L126 2208.3L128 2205L130 2200.6L132 2194.1L134.1 2186.7L136.1 2178.1L138.1 2171.6L140.2 2170.2L142.2 2172.5L144.2 2175.6L146.2 2180.6L148.3 2185.9L150.3 2190.1L152.3 2194.4L154.3 2199.4L156.4 2202.9L158.4 2206L160.4 2208.7L162.5 2210.4L164.5 2211.6L166.5 2212.2L168.5 2212.6L170.6 2212.9L172.6 2213.1L237.5 2213.1L237.5 2213.1" fill="#8DDF9E" fill-opacity="0.72" stroke="#2FB24C" stroke-width="1.4" stroke-linejoin="round"/>
<path d="M107.7 2236.8L115.8 2236.8L117.8 2236.6L119.9 2236.4L121.9 2236.1L123.9 2235.5L126 2234.4L128 2232.7L130 2230.4L132 2227L134.1 2223L136.1 2218.2L138.1 2212.9L140.2 2205.1L142.2 2199.3L144.2 2195.6L146.2 2191.9L148.3 2193.4L150.3 2195L152.3 2194.8L154.3 2199.9L156.4 2206L158.4 2209.7L160.4 2213.1L162.5 2218.4L164.5 2222.2L166.5 2225.9L168.5 2229L170.6 2231.5L172.6 2233.4L174.6 2234.5L176.7 2235.4L178.7 2236L180.7 2236.3L182.7 2236.5L184.8 2236.8L237.5 2236.8L237.5 2236.8" fill="#88C0F0" fill-opacity="0.72" stroke="#2F80E8" stroke-width="1.4" stroke-linejoin="round"/>
<path d="M107.7 2260.7L134.1 2260.7L136.1 2260.5L138.1 2260.3L140.2 2260L142.2 2259.6L144.2 2259L146.2 2258.2L148.3 2256.9L150.3 2254.9L152.3 2252.5L154.3 2249.4L156.4 2246.6L158.4 2243.5L160.4 2238L162.5 2233.6L164.5 2230.3L166.5 2226.8L168.5 2223.2L170.6 2219.9L172.6 2214.8L174.6 2215.9L176.7 2219.3L178.7 2220.9L180.7 2222.6L182.7 2227.3L184.8 2231L186.8 2236.4L188.8 2241.8L190.9 2245.7L192.9 2249.2L194.9 2252.4L196.9 2254.9L199 2256.4L201 2257.8L203 2258.9L205.1 2259.5L207.1 2259.9L209.1 2260.2L211.1 2260.4L213.2 2260.5L215.2 2260.7L237.5 2260.7L237.5 2260.7" fill="#EC7AAC" fill-opacity="0.72" stroke="#DE2560" stroke-width="1.4" stroke-linejoin="round"/>
<path d="M132.8 2260.9v1.6M138.4 2260.9v1.6M142.4 2260.9v1.6M145.5 2260.9v1.6M148 2260.9v1.6M150.2 2260.9v1.6M152 2260.9v1.6M153.6 2260.9v1.6M155.1 2260.9v3.2M164.7 2260.9v1.6M170.2 2260.9v1.6M174.2 2260.9v1.6M177.3 2260.9v1.6M179.8 2260.9v1.6M182 2260.9v1.6M183.8 2260.9v1.6M185.4 2260.9v1.6M186.9 2260.9v3.2M196.5 2260.9v1.6M202.1 2260.9v1.6M206 2260.9v1.6M209.1 2260.9v1.6M211.6 2260.9v1.6M213.8 2260.9v1.6M215.6 2260.9v1.6M217.2 2260.9v1.6M218.7 2260.9v3.2M228.3 2260.9v1.6M233.9 2260.9v1.6M123.3 2260.9v3.2M120.9 2260.9v1.6M118.6 2260.9v1.6M116.3 2260.9v1.6M113.9 2260.9v1.6M111.6 2260.9v1.6" stroke="#000" stroke-width="0.9" fill="none"/>
<rect x="107.7" y="2111" width="129.8" height="149.9" fill="none" stroke="#000" stroke-width="1.9"/>
<path d="M266 2163.7L278 2163.7L280 2163.5L282 2163.3L284 2162.6L286 2161.3L288 2158.5L290 2154.9L292 2149.8L294 2141.5L296 2134.9L298.1 2129.4L300.1 2124.8L302.1 2123.4L304.1 2127L306.1 2132.5L308.1 2141.2L310.1 2148.5L312.1 2153.5L314.1 2157.8L316.1 2160.8L318.1 2162.4L320.1 2163.2L322.1 2163.5L324.1 2163.7L394.2 2163.7L394.2 2163.7" fill="#D3A2F4" fill-opacity="0.72" stroke="#A93AE8" stroke-width="1.4" stroke-linejoin="round"/>
<path d="M266 2188.6L280 2188.6L282 2188.4L284 2188.2L286 2187.7L288 2186.8L290 2185.2L292 2182.4L294 2179.5L296 2175.8L298.1 2170.5L300.1 2167.6L302.1 2166.4L304.1 2166.6L306.1 2168.2L308.1 2168.4L310.1 2168.5L312.1 2169.5L314.1 2169.1L316.1 2169.3L318.1 2169.5L320.1 2169.5L322.1 2170L324.1 2170.3L326.1 2170.2L328.1 2168.1L330.1 2164.8L332.1 2160.8L334.1 2158.6L336.1 2156.3L338.1 2155.3L340.1 2159.8L342.1 2166.3L344.1 2173.1L346.1 2178.9L348.1 2182.9L350.1 2185.5L352.1 2187.1L354.1 2187.9L356.1 2188.3L358.1 2188.6L394.2 2188.6L394.2 2188.6" fill="#E6EC7C" fill-opacity="0.72" stroke="#CBD92A" stroke-width="1.4" stroke-linejoin="round"/>
<path d="M266 2213.1L280 2213.1L282 2212.8L284 2212.6L286 2212.1L288 2211.3L290 2210L292 2208L294 2205.5L296 2202.6L298.1 2200.6L300.1 2198.2L302.1 2197L304.1 2194.6L306.1 2193.5L308.1 2191L310.1 2189.7L312.1 2190.4L314.1 2187.6L316.1 2184.6L318.1 2184.8L320.1 2181.5L322.1 2174.6L324.1 2173L326.1 2173.1L328.1 2172.2L330.1 2175.9L332.1 2181.7L334.1 2191.1L336.1 2200L338.1 2206.1L340.1 2210.1L342.1 2211.7L344.1 2212.6L346.1 2212.9L348.1 2213.1L394.2 2213.1L394.2 2213.1" fill="#8DDF9E" fill-opacity="0.72" stroke="#2FB24C" stroke-width="1.4" stroke-linejoin="round"/>
<path d="M266 2236.8L324.1 2236.8L326.1 2236.6L328.1 2236.4L330.1 2235.7L332.1 2234.4L334.1 2232.2L336.1 2228.1L338.1 2221.3L340.1 2213.3L342.1 2204.9L344.1 2199.1L346.1 2194.7L348.1 2195L350.1 2199.5L352.1 2204.3L354.1 2213.3L356.1 2221.1L358.1 2226.8L360.1 2231.1L362.1 2233.9L364.2 2235.4L366.2 2236.2L368.2 2236.6L370.2 2236.8L394.2 2236.8L394.2 2236.8" fill="#88C0F0" fill-opacity="0.72" stroke="#2F80E8" stroke-width="1.4" stroke-linejoin="round"/>
<path d="M266 2260.7L280 2260.7L282 2260.4L284 2260L286 2259.2L288 2257.7L290 2255.5L292 2251.2L294 2245.1L296 2239.4L298.1 2231L300.1 2221.9L302.1 2218.1L304.1 2216.1L306.1 2214L308.1 2218.3L310.1 2224.3L312.1 2229.9L314.1 2236.6L316.1 2240.9L318.1 2244.2L320.1 2244.7L322.1 2245L324.1 2245.7L326.1 2245.6L328.1 2246.7L330.1 2246.9L332.1 2247.7L334.1 2249.7L336.1 2251.3L338.1 2252.3L340.1 2254L342.1 2255.6L344.1 2256.6L346.1 2257.4L348.1 2258.4L350.1 2259.1L352.1 2259.6L354.1 2259.9L356.1 2260.2L358.1 2260.4L360.1 2260.5L362.1 2260.7L394.2 2260.7L394.2 2260.7" fill="#EC7AAC" fill-opacity="0.72" stroke="#DE2560" stroke-width="1.4" stroke-linejoin="round"/>
<path d="M290.8 2260.9v1.6M296.4 2260.9v1.6M300.3 2260.9v1.6M303.3 2260.9v1.6M305.8 2260.9v1.6M307.9 2260.9v1.6M309.7 2260.9v1.6M311.4 2260.9v1.6M312.8 2260.9v3.2M322.2 2260.9v1.6M327.8 2260.9v1.6M331.7 2260.9v1.6M334.7 2260.9v1.6M337.2 2260.9v1.6M339.3 2260.9v1.6M341.2 2260.9v1.6M342.8 2260.9v1.6M344.2 2260.9v3.2M353.7 2260.9v1.6M359.2 2260.9v1.6M363.1 2260.9v1.6M366.2 2260.9v1.6M368.6 2260.9v1.6M370.7 2260.9v1.6M372.6 2260.9v1.6M374.2 2260.9v1.6M375.6 2260.9v3.2M385.1 2260.9v1.6M390.6 2260.9v1.6M281.4 2260.9v3.2M279.1 2260.9v1.6M276.8 2260.9v1.6M274.5 2260.9v1.6M272.2 2260.9v1.6M269.8 2260.9v1.6" stroke="#000" stroke-width="0.9" fill="none"/>
<rect x="266" y="2111" width="128.2" height="149.9" fill="none" stroke="#000" stroke-width="1.9"/>
<path d="M107.7 2330.1L109.7 2330.1L111.8 2329.9L113.8 2329.6L115.8 2329.1L117.8 2328.2L119.9 2326.6L121.9 2324.4L123.9 2321.7L126 2317.9L128 2311.8L130 2305.8L132 2302.2L134.1 2294.7L136.1 2289.5L138.1 2290.3L140.2 2291.1L142.2 2290.1L144.2 2291.4L146.2 2296.3L148.3 2299L150.3 2301.9L152.3 2306.1L154.3 2311.3L156.4 2315L158.4 2318L160.4 2321.3L162.5 2323.4L164.5 2324.9L166.5 2326.3L168.5 2327.5L170.6 2328.3L172.6 2328.9L174.6 2329.3L176.7 2329.6L178.7 2329.8L180.7 2329.9L182.7 2330.1L237.5 2330.1L237.5 2330.1" fill="#D3A2F4" fill-opacity="0.72" stroke="#A93AE8" stroke-width="1.4" stroke-linejoin="round"/>
<path d="M107.7 2355L119.9 2355L121.9 2354.7L123.9 2354.3L126 2353.5L128 2351.8L130 2348.7L132 2344.4L134.1 2338.7L136.1 2331.2L138.1 2326.6L140.2 2322.7L142.2 2319.5L144.2 2317.6L146.2 2321.4L148.3 2326.1L150.3 2333L152.3 2338.8L154.3 2342.7L156.4 2346.6L158.4 2349.5L160.4 2351.5L162.5 2353.1L164.5 2353.9L166.5 2354.5L168.5 2354.7L170.6 2355L237.5 2355L237.5 2355" fill="#E6EC7C" fill-opacity="0.72" stroke="#CBD92A" stroke-width="1.4" stroke-linejoin="round"/>
<path d="M107.7 2379.5L115.8 2379.5L117.8 2379.2L119.9 2378.8L121.9 2377.9L123.9 2376.3L126 2373.7L128 2369.3L130 2364.4L132 2356.6L134.1 2348.5L136.1 2342L138.1 2336.7L140.2 2337.9L142.2 2339.4L144.2 2339.5L146.2 2345.8L148.3 2352.1L150.3 2356.6L152.3 2360.9L154.3 2365.9L156.4 2369.8L158.4 2373L160.4 2375.4L162.5 2377.1L164.5 2378.2L166.5 2378.8L168.5 2379.1L170.6 2379.3L172.6 2379.5L237.5 2379.5L237.5 2379.5" fill="#8DDF9E" fill-opacity="0.72" stroke="#2FB24C" stroke-width="1.4" stroke-linejoin="round"/>
<path d="M107.7 2403.2L109.7 2403.2L111.8 2403L113.8 2402.8L115.8 2402.5L117.8 2401.9L119.9 2400.9L121.9 2399.6L123.9 2397.4L126 2394.3L128 2390.6L130 2386.2L132 2382.2L134.1 2376L136.1 2369.9L138.1 2367L140.2 2363.9L142.2 2363.7L144.2 2367.2L146.2 2368.8L148.3 2369.9L150.3 2374.5L152.3 2378.9L154.3 2382.9L156.4 2387.3L158.4 2391.5L160.4 2394.5L162.5 2397.2L164.5 2398.9L166.5 2400.4L168.5 2401.5L170.6 2402.1L172.6 2402.5L174.6 2402.8L176.7 2403L178.7 2403.2L237.5 2403.2L237.5 2403.2" fill="#88C0F0" fill-opacity="0.72" stroke="#2F80E8" stroke-width="1.4" stroke-linejoin="round"/>
<path d="M107.7 2427.1L144.2 2427.1L146.2 2426.9L148.3 2426.8L150.3 2426.7L152.3 2426.5L154.3 2426.1L156.4 2425.7L158.4 2425.1L160.4 2424.2L162.5 2423L164.5 2421.5L166.5 2419.4L168.5 2416.5L170.6 2414L172.6 2411.1L174.6 2407.5L176.7 2405.6L178.7 2400.8L180.7 2394.8L182.7 2390.4L184.8 2386.3L186.8 2383L188.8 2383.4L190.9 2383.6L192.9 2380.8L194.9 2384.8L196.9 2391.5L199 2396.4L201 2403.5L203 2408.9L205.1 2413.4L207.1 2417.5L209.1 2421.2L211.1 2423.8L213.2 2425.1L215.2 2426.1L217.2 2426.6L219.2 2426.9L221.3 2427.1L237.5 2427.1L237.5 2427.1" fill="#EC7AAC" fill-opacity="0.72" stroke="#DE2560" stroke-width="1.4" stroke-linejoin="round"/>
<path d="M132.8 2427.3v1.6M138.4 2427.3v1.6M142.4 2427.3v1.6M145.5 2427.3v1.6M148 2427.3v1.6M150.2 2427.3v1.6M152 2427.3v1.6M153.6 2427.3v1.6M155.1 2427.3v3.2M164.7 2427.3v1.6M170.2 2427.3v1.6M174.2 2427.3v1.6M177.3 2427.3v1.6M179.8 2427.3v1.6M182 2427.3v1.6M183.8 2427.3v1.6M185.4 2427.3v1.6M186.9 2427.3v3.2M196.5 2427.3v1.6M202.1 2427.3v1.6M206 2427.3v1.6M209.1 2427.3v1.6M211.6 2427.3v1.6M213.8 2427.3v1.6M215.6 2427.3v1.6M217.2 2427.3v1.6M218.7 2427.3v3.2M228.3 2427.3v1.6M233.9 2427.3v1.6M123.3 2427.3v3.2M120.9 2427.3v1.6M118.6 2427.3v1.6M116.3 2427.3v1.6M113.9 2427.3v1.6M111.6 2427.3v1.6" stroke="#000" stroke-width="0.9" fill="none"/>
<rect x="107.7" y="2277.4" width="129.8" height="149.9" fill="none" stroke="#000" stroke-width="1.9"/>
<path d="M266 2330.1L278 2330.1L280 2329.9L282 2329.7L284 2329L286 2327.6L288 2325.3L290 2322.2L292 2317.2L294 2309.6L296 2300.8L298.1 2294.3L300.1 2288.7L302.1 2289L304.1 2294L306.1 2301.5L308.1 2309.7L310.1 2315.4L312.1 2320.3L314.1 2324.6L316.1 2327.3L318.1 2328.9L320.1 2329.6L322.1 2329.9L324.1 2330.1L394.2 2330.1L394.2 2330.1" fill="#D3A2F4" fill-opacity="0.72" stroke="#A93AE8" stroke-width="1.4" stroke-linejoin="round"/>
<path d="M266 2355L280 2355L282 2354.8L284 2354.6L286 2354.1L288 2353.2L290 2351.5L292 2349.2L294 2345.6L296 2341.7L298.1 2339.6L300.1 2335.6L302.1 2332.4L304.1 2333.4L306.1 2334L308.1 2334.4L310.1 2333.9L312.1 2333.9L314.1 2335.5L316.1 2334.9L318.1 2334.6L320.1 2335L322.1 2335.4L324.1 2336.9L326.1 2337.5L328.1 2335L330.1 2329.8L332.1 2327L334.1 2325.4L336.1 2321.5L338.1 2322.9L340.1 2328.4L342.1 2333.9L344.1 2338.9L346.1 2344.9L348.1 2349.1L350.1 2351.8L352.1 2353.5L354.1 2354.3L356.1 2354.7L358.1 2355L394.2 2355L394.2 2355" fill="#E6EC7C" fill-opacity="0.72" stroke="#CBD92A" stroke-width="1.4" stroke-linejoin="round"/>
<path d="M266 2379.5L280 2379.5L282 2379.2L284 2379L286 2378.5L288 2377.6L290 2376.4L292 2374.4L294 2371.8L296 2369.9L298.1 2367.2L300.1 2363.9L302.1 2361.8L304.1 2359.9L306.1 2358.9L308.1 2359.1L310.1 2357.8L312.1 2354.9L314.1 2352.9L316.1 2354L318.1 2352.3L320.1 2350L322.1 2346.4L324.1 2341.9L326.1 2338.3L328.1 2338.3L330.1 2338.8L332.1 2346.2L334.1 2357L336.1 2365L338.1 2372.1L340.1 2376.1L342.1 2378.1L344.1 2378.9L346.1 2379.3L348.1 2379.5L394.2 2379.5L394.2 2379.5" fill="#8DDF9E" fill-opacity="0.72" stroke="#2FB24C" stroke-width="1.4" stroke-linejoin="round"/>
<path d="M266 2403.2L282 2403.2L284 2403L286 2402.8L288 2402.1L290 2401L292 2398.8L294 2395.3L296 2391.3L298.1 2386.7L300.1 2381.3L302.1 2377.4L304.1 2375.1L306.1 2372.4L308.1 2373.5L310.1 2374.9L312.1 2374L314.1 2373.9L316.1 2373.2L318.1 2372.5L320.1 2373.7L322.1 2371.8L324.1 2370.7L326.1 2373.5L328.1 2372L330.1 2369.9L332.1 2372.8L334.1 2377.1L336.1 2381.2L338.1 2386.8L340.1 2392.4L342.1 2396.7L344.1 2399.6L346.1 2401.5L348.1 2402.5L350.1 2402.9L352.1 2403.2L394.2 2403.2L394.2 2403.2" fill="#88C0F0" fill-opacity="0.72" stroke="#2F80E8" stroke-width="1.4" stroke-linejoin="round"/>
<path d="M266 2427.1L284 2427.1L286 2426.7L288 2426L290 2424.5L292 2421.2L294 2415.6L296 2408.6L298.1 2401.3L300.1 2392.3L302.1 2384.2L304.1 2379.8L306.1 2382L308.1 2389.8L310.1 2400.2L312.1 2410.2L314.1 2417.6L316.1 2422.5L318.1 2425L320.1 2426.2L322.1 2426.8L324.1 2427.1L394.2 2427.1L394.2 2427.1" fill="#EC7AAC" fill-opacity="0.72" stroke="#DE2560" stroke-width="1.4" stroke-linejoin="round"/>
<path d="M290.8 2427.3v1.6M296.4 2427.3v1.6M300.3 2427.3v1.6M303.3 2427.3v1.6M305.8 2427.3v1.6M307.9 2427.3v1.6M309.7 2427.3v1.6M311.4 2427.3v1.6M312.8 2427.3v3.2M322.2 2427.3v1.6M327.8 2427.3v1.6M331.7 2427.3v1.6M334.7 2427.3v1.6M337.2 2427.3v1.6M339.3 2427.3v1.6M341.2 2427.3v1.6M342.8 2427.3v1.6M344.2 2427.3v3.2M353.7 2427.3v1.6M359.2 2427.3v1.6M363.1 2427.3v1.6M366.2 2427.3v1.6M368.6 2427.3v1.6M370.7 2427.3v1.6M372.6 2427.3v1.6M374.2 2427.3v1.6M375.6 2427.3v3.2M385.1 2427.3v1.6M390.6 2427.3v1.6M281.4 2427.3v3.2M279.1 2427.3v1.6M276.8 2427.3v1.6M274.5 2427.3v1.6M272.2 2427.3v1.6M269.8 2427.3v1.6" stroke="#000" stroke-width="0.9" fill="none"/>
<rect x="266" y="2277.4" width="128.2" height="149.9" fill="none" stroke="#000" stroke-width="1.9"/>
<text x="92.5" y="2193.4" font-size="22.3" text-anchor="middle" transform="rotate(-90 92.5 2193.4)">SI</text>
<text x="92.5" y="2349.3" font-size="22.3" text-anchor="middle" transform="rotate(-90 92.5 2349.3)">Liv</text>
<text x="103.3" y="2453.8" font-size="22.8">CD200R</text>
<g><line x1="203.6" y1="2445" x2="231.8" y2="2445" stroke="#000" stroke-width="2.1"/><path d="M246.6 2445L224.8 2437.7L229.3 2445L224.8 2452.3Z"/></g>
<text x="267.2" y="2453.8" font-size="22.8">CD73</text>
<g><line x1="336.5" y1="2445" x2="364.6" y2="2445" stroke="#000" stroke-width="2.1"/><path d="M379.5 2445L357.7 2437.7L362.2 2445L357.7 2452.3Z"/></g>
<rect x="104" y="2469.9" width="17.3" height="17.6" fill="#3DAE49"/>
<text x="127.8" y="2487.1" font-size="23.3">Arm Spl T<tspan dy="6.3" font-size="13">CIRCM</tspan></text>
<rect x="104" y="2497.2" width="17.3" height="17.6" fill="#EEDD3A"/>
<text x="127.8" y="2513.2" font-size="23.3">Cl13 Spl T<tspan dy="6.3" font-size="13">EX</tspan><tspan dy="-6.3"> Prog</tspan></text>
<rect x="104" y="2522.9" width="17.3" height="17.6" fill="#C38EF7"/>
<text x="127.8" y="2539" font-size="23.3">Cl13 Spl T<tspan dy="6.3" font-size="13">EX</tspan><tspan dy="-6.3"> Term</tspan></text>
<rect x="104" y="2550.6" width="17.3" height="17.6" fill="#D1288A"/>
<text x="127.8" y="2565.5" font-size="23.3">TR-T<tspan dy="6.3" font-size="13">EX</tspan></text>
<rect x="104" y="2581.5" width="17.3" height="17.6" fill="#3E84C6"/>
<text x="127.8" y="2592.4" font-size="23.3">T<tspan dy="6.3" font-size="13">RM</tspan></text>
</g>
<g id="pg">
<text x="625" y="1450.7" font-size="46" font-weight="bold">g</text>
<text x="858.8" y="1513.5" font-size="22.9" text-anchor="middle">Liver</text>
<text x="858.8" y="1540.8" font-size="22.9" text-anchor="middle">(CD69+CXCR6+)</text>
<text x="1220.2" y="1513.5" font-size="22.9" text-anchor="middle">Sal Gland</text>
<text x="1220.2" y="1540.8" font-size="22.9" text-anchor="middle">(CD69+CD103+)</text>
<text x="1585.5" y="1513.5" font-size="22.9" text-anchor="middle">Human Skin/Melanoma</text>
<text x="1585.5" y="1540.8" font-size="22.9" text-anchor="middle">(CD69+CD103+KLRG1-)</text>
<rect x="744.4" y="1707.2" width="26.1" height="110" fill="#B8D0EA" stroke="#000" stroke-width="1.5"/>
<rect x="785.3" y="1813" width="25.3" height="4.3" fill="#F09AC8" stroke="#000" stroke-width="1.5"/>
<path d="M730.8 1581.2V1818M725 1817.2H825.3" fill="none" stroke="#000" stroke-width="1.6"/>
<line x1="724.8" y1="1588.5" x2="730.8" y2="1588.5" stroke="#000" stroke-width="1.6"/>
<text x="723.3" y="1585.2" font-size="22.3" text-anchor="end">100</text>
<line x1="724.8" y1="1628.6" x2="730.8" y2="1628.6" stroke="#000" stroke-width="1.6"/>
<text x="723.3" y="1636.2" font-size="22.3" text-anchor="end">80</text>
<line x1="724.8" y1="1675.3" x2="730.8" y2="1675.3" stroke="#000" stroke-width="1.6"/>
<text x="723.3" y="1682.9" font-size="22.3" text-anchor="end">60</text>
<line x1="724.8" y1="1722.7" x2="730.8" y2="1722.7" stroke="#000" stroke-width="1.6"/>
<text x="723.3" y="1730.3" font-size="22.3" text-anchor="end">40</text>
<line x1="724.8" y1="1769.4" x2="730.8" y2="1769.4" stroke="#000" stroke-width="1.6"/>
<text x="723.3" y="1777" font-size="22.3" text-anchor="end">20</text>
<line x1="724.8" y1="1817.2" x2="730.8" y2="1817.2" stroke="#000" stroke-width="1.6"/>
<text x="723.3" y="1824.8" font-size="22.3" text-anchor="end">0</text>
<line x1="757.3" y1="1817.2" x2="757.3" y2="1823.2" stroke="#000" stroke-width="1.6"/>
<text x="766.3" y="1834.7" font-size="22.3" text-anchor="end" transform="rotate(-45 766.3 1834.7)">Arm</text>
<line x1="797.7" y1="1817.2" x2="797.7" y2="1823.2" stroke="#000" stroke-width="1.6"/>
<text x="806.7" y="1834.7" font-size="22.3" text-anchor="end" transform="rotate(-45 806.7 1834.7)">Cl13</text>
<circle cx="751" cy="1700.2" r="6" fill="#6F9FD8" stroke="#000" stroke-width="1.7"/>
<circle cx="758.8" cy="1699.4" r="6" fill="#6F9FD8" stroke="#000" stroke-width="1.7"/>
<circle cx="764.7" cy="1709.9" r="6" fill="#6F9FD8" stroke="#000" stroke-width="1.7"/>
<circle cx="751" cy="1716.9" r="6" fill="#6F9FD8" stroke="#000" stroke-width="1.7"/>
<circle cx="790.3" cy="1814.5" r="6" fill="#E04A9C" stroke="#000" stroke-width="1.7"/>
<circle cx="796.9" cy="1810.2" r="6" fill="#E04A9C" stroke="#000" stroke-width="1.7"/>
<circle cx="805.9" cy="1811" r="6" fill="#E04A9C" stroke="#000" stroke-width="1.7"/>
<path d="M757.3 1588.9V1578.9H798.9V1588.9" fill="none" stroke="#000" stroke-width="1.8"/>
<text x="778.6" y="1581" font-size="26" text-anchor="middle">*</text>
<text x="686" y="1697" font-size="22.3" text-anchor="middle" transform="rotate(-90 686 1697)">% of cells CD73<tspan dy="-12.5" font-size="19">+</tspan></text>
<rect x="927.2" y="1815.7" width="27.2" height="1.6" fill="#B8D0EA" stroke="#000" stroke-width="1.5"/>
<rect x="969.2" y="1608" width="26.1" height="209.2" fill="#F09AC8" stroke="#000" stroke-width="1.5"/>
<path d="M914 1578.8V1818M907.7 1817.2H1010" fill="none" stroke="#000" stroke-width="1.6"/>
<line x1="908" y1="1579.6" x2="914" y2="1579.6" stroke="#000" stroke-width="1.6"/>
<text x="906.5" y="1584.2" font-size="22.3" text-anchor="end">100</text>
<line x1="908" y1="1626.3" x2="914" y2="1626.3" stroke="#000" stroke-width="1.6"/>
<text x="906.5" y="1633.9" font-size="22.3" text-anchor="end">80</text>
<line x1="908" y1="1673.7" x2="914" y2="1673.7" stroke="#000" stroke-width="1.6"/>
<text x="906.5" y="1681.3" font-size="22.3" text-anchor="end">60</text>
<line x1="908" y1="1721.6" x2="914" y2="1721.6" stroke="#000" stroke-width="1.6"/>
<text x="906.5" y="1729.2" font-size="22.3" text-anchor="end">40</text>
<line x1="908" y1="1769.4" x2="914" y2="1769.4" stroke="#000" stroke-width="1.6"/>
<text x="906.5" y="1777" font-size="22.3" text-anchor="end">20</text>
<line x1="908" y1="1817.2" x2="914" y2="1817.2" stroke="#000" stroke-width="1.6"/>
<text x="906.5" y="1824.8" font-size="22.3" text-anchor="end">0</text>
<line x1="941.2" y1="1817.2" x2="941.2" y2="1823.2" stroke="#000" stroke-width="1.6"/>
<text x="950.2" y="1834.7" font-size="22.3" text-anchor="end" transform="rotate(-45 950.2 1834.7)">Arm</text>
<line x1="982" y1="1817.2" x2="982" y2="1823.2" stroke="#000" stroke-width="1.6"/>
<text x="991" y="1834.7" font-size="22.3" text-anchor="end" transform="rotate(-45 991 1834.7)">Cl13</text>
<circle cx="933" cy="1816.1" r="6" fill="#6F9FD8" stroke="#000" stroke-width="1.7"/>
<circle cx="938.9" cy="1815.3" r="6" fill="#6F9FD8" stroke="#000" stroke-width="1.7"/>
<circle cx="943.5" cy="1816.1" r="6" fill="#6F9FD8" stroke="#000" stroke-width="1.7"/>
<circle cx="948.6" cy="1815.7" r="6" fill="#6F9FD8" stroke="#000" stroke-width="1.7"/>
<circle cx="975" cy="1602.2" r="6" fill="#E04A9C" stroke="#000" stroke-width="1.7"/>
<circle cx="990.2" cy="1599.1" r="6" fill="#E04A9C" stroke="#000" stroke-width="1.7"/>
<circle cx="975" cy="1615" r="6" fill="#E04A9C" stroke="#000" stroke-width="1.7"/>
<circle cx="990.2" cy="1612.7" r="6" fill="#E04A9C" stroke="#000" stroke-width="1.7"/>
<path d="M941.2 1588.9V1578.9H982.8V1588.9" fill="none" stroke="#000" stroke-width="1.8"/>
<text x="961" y="1581" font-size="26" text-anchor="middle">*</text>
<text x="866" y="1695.5" font-size="22.3" text-anchor="middle" transform="rotate(-90 866 1695.5)">% of cells CD73-CD200R+</text>
<rect x="1119.7" y="1630.2" width="26.4" height="189" fill="#B8D0EA" stroke="#000" stroke-width="1.5"/>
<rect x="1160.5" y="1808.3" width="27.2" height="10.9" fill="#F09AC8" stroke="#000" stroke-width="1.5"/>
<path d="M1104.5 1578.1V1820M1097.5 1819.2H1202.1" fill="none" stroke="#000" stroke-width="1.6"/>
<line x1="1098.5" y1="1578.9" x2="1104.5" y2="1578.9" stroke="#000" stroke-width="1.6"/>
<text x="1097" y="1586.5" font-size="22.3" text-anchor="end">100</text>
<line x1="1098.5" y1="1698.2" x2="1104.5" y2="1698.2" stroke="#000" stroke-width="1.6"/>
<text x="1097" y="1705.8" font-size="22.3" text-anchor="end">50</text>
<line x1="1098.5" y1="1819.2" x2="1104.5" y2="1819.2" stroke="#000" stroke-width="1.6"/>
<text x="1097" y="1826.8" font-size="22.3" text-anchor="end">0</text>
<line x1="1132.9" y1="1819.2" x2="1132.9" y2="1825.2" stroke="#000" stroke-width="1.6"/>
<text x="1141.9" y="1836.7" font-size="22.3" text-anchor="end" transform="rotate(-45 1141.9 1836.7)">Arm</text>
<line x1="1173.7" y1="1819.2" x2="1173.7" y2="1825.2" stroke="#000" stroke-width="1.6"/>
<text x="1182.7" y="1836.7" font-size="22.3" text-anchor="end" transform="rotate(-45 1182.7 1836.7)">Cl13</text>
<circle cx="1125.5" cy="1615" r="6" fill="#6F9FD8" stroke="#000" stroke-width="1.7"/>
<circle cx="1140.3" cy="1608.8" r="6" fill="#6F9FD8" stroke="#000" stroke-width="1.7"/>
<circle cx="1140.3" cy="1643.8" r="6" fill="#6F9FD8" stroke="#000" stroke-width="1.7"/>
<circle cx="1125.5" cy="1648.9" r="6" fill="#6F9FD8" stroke="#000" stroke-width="1.7"/>
<circle cx="1167.1" cy="1803.6" r="6" fill="#E04A9C" stroke="#000" stroke-width="1.7"/>
<circle cx="1175.3" cy="1805.6" r="6" fill="#E04A9C" stroke="#000" stroke-width="1.7"/>
<circle cx="1182.7" cy="1807.5" r="6" fill="#E04A9C" stroke="#000" stroke-width="1.7"/>
<circle cx="1167.1" cy="1819.2" r="6" fill="#E04A9C" stroke="#000" stroke-width="1.7"/>
<path d="M1132.9 1584.2V1574.2H1174.9V1584.2" fill="none" stroke="#000" stroke-width="1.8"/>
<text x="1153.9" y="1575.2" font-size="26" text-anchor="middle">*</text>
<text x="1055.5" y="1695.5" font-size="22.3" text-anchor="middle" transform="rotate(-90 1055.5 1695.5)">% of cells CD73<tspan dy="-12.5" font-size="19">+</tspan></text>
<rect x="1275.6" y="1810.2" width="25.3" height="5.8" fill="#B8D0EA" stroke="#000" stroke-width="1.5"/>
<rect x="1314.9" y="1757.7" width="25.3" height="58.3" fill="#F09AC8" stroke="#000" stroke-width="1.5"/>
<path d="M1262 1588.6V1816.9M1256.2 1816.1H1353.4" fill="none" stroke="#000" stroke-width="1.6"/>
<line x1="1256" y1="1589.4" x2="1262" y2="1589.4" stroke="#000" stroke-width="1.6"/>
<text x="1254.5" y="1597" font-size="22.3" text-anchor="end">40</text>
<line x1="1256" y1="1646.1" x2="1262" y2="1646.1" stroke="#000" stroke-width="1.6"/>
<text x="1254.5" y="1653.7" font-size="22.3" text-anchor="end">30</text>
<line x1="1256" y1="1702.5" x2="1262" y2="1702.5" stroke="#000" stroke-width="1.6"/>
<text x="1254.5" y="1710.1" font-size="22.3" text-anchor="end">20</text>
<line x1="1256" y1="1759.7" x2="1262" y2="1759.7" stroke="#000" stroke-width="1.6"/>
<text x="1254.5" y="1767.3" font-size="22.3" text-anchor="end">10</text>
<line x1="1256" y1="1816.1" x2="1262" y2="1816.1" stroke="#000" stroke-width="1.6"/>
<text x="1254.5" y="1823.7" font-size="22.3" text-anchor="end">0</text>
<line x1="1288" y1="1816.1" x2="1288" y2="1822.1" stroke="#000" stroke-width="1.6"/>
<text x="1297" y="1833.6" font-size="22.3" text-anchor="end" transform="rotate(-45 1297 1833.6)">Arm</text>
<line x1="1327.3" y1="1816.1" x2="1327.3" y2="1822.1" stroke="#000" stroke-width="1.6"/>
<text x="1336.3" y="1833.6" font-size="22.3" text-anchor="end" transform="rotate(-45 1336.3 1833.6)">Cl13</text>
<circle cx="1281.4" cy="1812.2" r="6" fill="#6F9FD8" stroke="#000" stroke-width="1.7"/>
<circle cx="1287.3" cy="1805.2" r="6" fill="#6F9FD8" stroke="#000" stroke-width="1.7"/>
<circle cx="1295" cy="1808.3" r="6" fill="#6F9FD8" stroke="#000" stroke-width="1.7"/>
<circle cx="1320.7" cy="1733.6" r="6" fill="#E04A9C" stroke="#000" stroke-width="1.7"/>
<circle cx="1334.7" cy="1733.2" r="6" fill="#E04A9C" stroke="#000" stroke-width="1.7"/>
<circle cx="1334.7" cy="1775.2" r="6" fill="#E04A9C" stroke="#000" stroke-width="1.7"/>
<circle cx="1320.7" cy="1787.7" r="6" fill="#E04A9C" stroke="#000" stroke-width="1.7"/>
<path d="M1288 1588.1V1578.1H1327.3V1588.1" fill="none" stroke="#000" stroke-width="1.8"/>
<text x="1306.7" y="1579.1" font-size="26" text-anchor="middle">*</text>
<text x="1217.5" y="1701.4" font-size="22.3" text-anchor="middle" transform="rotate(-90 1217.5 1701.4)">% of cells CD73-CD200R+</text>
<rect x="1468.1" y="1674.1" width="27.2" height="147.8" fill="#B8D0EA" stroke="#000" stroke-width="1.5"/>
<rect x="1508.9" y="1811.4" width="27.2" height="10.5" fill="#F09AC8" stroke="#000" stroke-width="1.5"/>
<path d="M1454.5 1576.9V1822.7M1446.7 1821.9H1551.7" fill="none" stroke="#000" stroke-width="1.6"/>
<line x1="1448.5" y1="1577.7" x2="1454.5" y2="1577.7" stroke="#000" stroke-width="1.6"/>
<text x="1447" y="1585.3" font-size="22.3" text-anchor="end">100</text>
<line x1="1448.5" y1="1699.4" x2="1454.5" y2="1699.4" stroke="#000" stroke-width="1.6"/>
<text x="1447" y="1707" font-size="22.3" text-anchor="end">50</text>
<line x1="1448.5" y1="1821.9" x2="1454.5" y2="1821.9" stroke="#000" stroke-width="1.6"/>
<text x="1447" y="1829.5" font-size="22.3" text-anchor="end">0</text>
<line x1="1482.1" y1="1821.9" x2="1482.1" y2="1827.9" stroke="#000" stroke-width="1.6"/>
<text x="1491.1" y="1839.4" font-size="22.3" text-anchor="end" transform="rotate(-45 1491.1 1839.4)">Skin</text>
<line x1="1522.5" y1="1821.9" x2="1522.5" y2="1827.9" stroke="#000" stroke-width="1.6"/>
<text x="1531.5" y="1839.4" font-size="22.3" text-anchor="end" transform="rotate(-45 1531.5 1839.4)">Tum</text>
<circle cx="1474.3" cy="1587.8" r="6" fill="#6F9FD8" stroke="#000" stroke-width="1.7"/>
<circle cx="1489.5" cy="1587.8" r="6" fill="#6F9FD8" stroke="#000" stroke-width="1.7"/>
<circle cx="1474.3" cy="1683.1" r="6" fill="#6F9FD8" stroke="#000" stroke-width="1.7"/>
<circle cx="1489.5" cy="1694.4" r="6" fill="#6F9FD8" stroke="#000" stroke-width="1.7"/>
<circle cx="1482.1" cy="1813" r="6" fill="#6F9FD8" stroke="#000" stroke-width="1.7"/>
<circle cx="1516.7" cy="1806.3" r="6" fill="#E04A9C" stroke="#000" stroke-width="1.7"/>
<circle cx="1532.2" cy="1797.4" r="6" fill="#E04A9C" stroke="#000" stroke-width="1.7"/>
<circle cx="1516.7" cy="1819.2" r="6" fill="#E04A9C" stroke="#000" stroke-width="1.7"/>
<circle cx="1532.2" cy="1818" r="6" fill="#E04A9C" stroke="#000" stroke-width="1.7"/>
<text x="1404" y="1690.5" font-size="22.3" text-anchor="middle" transform="rotate(-90 1404 1690.5)">% of cells CD73<tspan dy="-12.5" font-size="19">+</tspan></text>
<rect x="1638" y="1729.7" width="27.6" height="92.2" fill="#B8D0EA" stroke="#000" stroke-width="1.5"/>
<rect x="1680.8" y="1729.7" width="27.2" height="92.2" fill="#F09AC8" stroke="#000" stroke-width="1.5"/>
<path d="M1623.6 1576.9V1822.7M1617.8 1821.9H1722.8" fill="none" stroke="#000" stroke-width="1.6"/>
<line x1="1617.6" y1="1577.7" x2="1623.6" y2="1577.7" stroke="#000" stroke-width="1.6"/>
<text x="1616.1" y="1585.3" font-size="22.3" text-anchor="end">100</text>
<line x1="1617.6" y1="1699.4" x2="1623.6" y2="1699.4" stroke="#000" stroke-width="1.6"/>
<text x="1616.1" y="1707" font-size="22.3" text-anchor="end">50</text>
<line x1="1617.6" y1="1821.9" x2="1623.6" y2="1821.9" stroke="#000" stroke-width="1.6"/>
<text x="1616.1" y="1829.5" font-size="22.3" text-anchor="end">0</text>
<line x1="1651.6" y1="1821.9" x2="1651.6" y2="1827.9" stroke="#000" stroke-width="1.6"/>
<text x="1660.6" y="1839.4" font-size="22.3" text-anchor="end" transform="rotate(-45 1660.6 1839.4)">Skin</text>
<line x1="1694.4" y1="1821.9" x2="1694.4" y2="1827.9" stroke="#000" stroke-width="1.6"/>
<text x="1703.4" y="1839.4" font-size="22.3" text-anchor="end" transform="rotate(-45 1703.4 1839.4)">Tum</text>
<circle cx="1651.6" cy="1588.6" r="6" fill="#6F9FD8" stroke="#000" stroke-width="1.7"/>
<circle cx="1651.6" cy="1704.5" r="6" fill="#6F9FD8" stroke="#000" stroke-width="1.7"/>
<circle cx="1651.6" cy="1726.6" r="6" fill="#6F9FD8" stroke="#000" stroke-width="1.7"/>
<circle cx="1643.8" cy="1813" r="6" fill="#6F9FD8" stroke="#000" stroke-width="1.7"/>
<circle cx="1659.4" cy="1812.2" r="6" fill="#6F9FD8" stroke="#000" stroke-width="1.7"/>
<circle cx="1694.4" cy="1646.5" r="6" fill="#E04A9C" stroke="#000" stroke-width="1.7"/>
<circle cx="1694.4" cy="1709.9" r="6" fill="#E04A9C" stroke="#000" stroke-width="1.7"/>
<circle cx="1694.4" cy="1770.6" r="6" fill="#E04A9C" stroke="#000" stroke-width="1.7"/>
<circle cx="1694.4" cy="1789.6" r="6" fill="#E04A9C" stroke="#000" stroke-width="1.7"/>
<text x="1577" y="1693.5" font-size="22.3" text-anchor="middle" transform="rotate(-90 1577 1693.5)">% of cells CD73-CD200R+</text>
</g>
<g id="ph">
<text x="624.8" y="1915.1" font-size="44" font-weight="bold">h</text>
<rect x="696.2" y="1890.3" width="16.3" height="16.2" fill="#3DAE49"/>
<text x="720" y="1904.7" font-size="22.8">Arm Spl T<tspan dy="6.3" font-size="13">CIRCM</tspan></text>
<rect x="696.2" y="1918.3" width="16.3" height="16.2" fill="#3E84C6"/>
<text x="720" y="1933.1" font-size="22.8">Arm SI CD69+CD103+CD73+</text>
<rect x="696.2" y="1946.3" width="16.3" height="16.2" fill="#D1288A"/>
<text x="720" y="1960.3" font-size="22.8">Cl13 SI CD69+CD103+CD73-CD200R+</text>
<path d="M691.5 2057.1L709.5 2057.1L711.5 2056.9L713.5 2056.7L715.5 2056.4L717.5 2055.8L719.5 2054.8L721.5 2053.4L723.5 2051.3L725.5 2048.2L727.5 2044L729.5 2038.6L731.5 2031.6L733.5 2024L735.5 2013.3L737.5 2002.8L739.5 1994.6L741.5 1989L743.5 1984.4L745.5 1981.1L747.5 1979.7L749.5 1982.8L751.5 1987.4L753.5 1988.9L755.5 1996.5L757.5 2004.5L759.5 2011L761.5 2018.3L763.5 2024.1L765.5 2030.8L767.5 2037.1L769.5 2041.4L771.5 2045.1L773.5 2048.2L775.5 2050.7L777.5 2052.7L779.5 2054.1L781.5 2055L783.5 2055.8L785.5 2056.2L787.5 2056.6L789.5 2056.8L791.5 2056.9L793.5 2057.1L859.5 2057.1L859.5 2057.1" fill="#8FDF86" fill-opacity="0.72" stroke="#3CB52E" stroke-width="1.4" stroke-linejoin="round"/>
<path d="M691.5 2099.1L713.5 2099.1L715.5 2098.9L717.5 2098.8L719.5 2098.7L721.5 2098.5L723.5 2098.1L725.5 2097.7L727.5 2097.1L729.5 2096.1L731.5 2095L733.5 2093.2L735.5 2091.1L737.5 2088.5L739.5 2085.4L741.5 2081.9L743.5 2077.6L745.5 2073.3L747.5 2068.8L749.5 2063.9L751.5 2056.9L753.5 2046.3L755.5 2038.4L757.5 2033.6L759.5 2031.2L761.5 2027.8L763.5 2025L765.5 2027L767.5 2031.1L769.5 2031.3L771.5 2036.8L773.5 2039.5L775.5 2040.1L777.5 2047.4L779.5 2053.7L781.5 2062L783.5 2067.5L785.5 2072L787.5 2077.9L789.5 2081.4L791.5 2086.1L793.5 2088.5L795.5 2091.1L797.5 2093.3L799.5 2094.6L801.5 2096.1L803.5 2097L805.5 2097.7L807.5 2098.2L809.5 2098.5L811.5 2098.7L813.5 2098.9L815.5 2098.9L817.5 2099.1L859.5 2099.1L859.5 2099.1" fill="#8CC4F5" fill-opacity="0.72" stroke="#3B8BEB" stroke-width="1.4" stroke-linejoin="round"/>
<path d="M691.5 2139.4L763.5 2139.4L765.5 2139.2L767.5 2139L769.5 2138.8L771.5 2138.4L773.5 2138L775.5 2137.4L777.5 2136.7L779.5 2135.9L781.5 2134.8L783.5 2133.7L785.5 2132.5L787.5 2131.4L789.5 2129.7L791.5 2127.5L793.5 2123.3L795.5 2117L797.5 2109.6L799.5 2098.4L801.5 2084.9L803.5 2073L805.5 2066.1L807.5 2063.4L809.5 2068.7L811.5 2081.1L813.5 2093.2L815.5 2104.9L817.5 2115.7L819.5 2124.5L821.5 2131.3L823.5 2135.3L825.5 2137.4L827.5 2138.6L829.5 2139.1L831.5 2139.4L859.5 2139.4L859.5 2139.4" fill="#F27DB5" fill-opacity="0.72" stroke="#E8287A" stroke-width="1.4" stroke-linejoin="round"/>
<path d="M724.1 2139.6v1.6M731.3 2139.6v1.6M736.4 2139.6v1.6M740.4 2139.6v1.6M743.7 2139.6v1.6M746.4 2139.6v1.6M748.8 2139.6v1.6M750.9 2139.6v1.6M752.8 2139.6v3.2M765.2 2139.6v1.6M772.5 2139.6v1.6M777.6 2139.6v1.6M781.6 2139.6v1.6M784.8 2139.6v1.6M787.6 2139.6v1.6M790 2139.6v1.6M792.1 2139.6v1.6M794 2139.6v3.2M806.4 2139.6v1.6M813.6 2139.6v1.6M818.8 2139.6v1.6M822.7 2139.6v1.6M826 2139.6v1.6M828.8 2139.6v1.6M831.2 2139.6v1.6M833.3 2139.6v1.6M835.1 2139.6v3.2M847.5 2139.6v1.6M854.8 2139.6v1.6M711.7 2139.6v3.2M708.6 2139.6v1.6M705.6 2139.6v1.6M702.6 2139.6v1.6M699.6 2139.6v1.6M696.5 2139.6v1.6" stroke="#000" stroke-width="0.9" fill="none"/>
<rect x="691.5" y="1972.8" width="168" height="166.8" fill="none" stroke="#000" stroke-width="1.9"/>
<path d="M870.8 2057.1L905.1 2057.1L907.1 2056.8L909.2 2056.6L911.2 2056.1L913.2 2055.3L915.2 2054.1L917.2 2052.2L919.3 2049.3L921.3 2045.6L923.3 2040.5L925.3 2033.3L927.3 2025.7L929.4 2016L931.4 2005.6L933.4 1997.4L935.4 1991.3L937.4 1985.6L939.5 1979.7L941.5 1979.7L943.5 1982.2L945.5 1987.2L947.5 1990.2L949.6 1996.2L951.6 2004.4L953.6 2014.2L955.6 2021.3L957.6 2027.5L959.6 2033.2L961.7 2039.1L963.7 2043.7L965.7 2047.9L967.7 2050.6L969.7 2052.5L971.8 2054.2L973.8 2055.2L975.8 2055.9L977.8 2056.4L979.8 2056.7L981.9 2056.9L983.9 2057.1L1038.4 2057.1L1038.4 2057.1" fill="#8FDF86" fill-opacity="0.72" stroke="#3CB52E" stroke-width="1.4" stroke-linejoin="round"/>
<path d="M870.8 2099.1L909.2 2099.1L911.2 2098.9L913.2 2098.8L915.2 2098.6L917.2 2098.2L919.3 2097.7L921.3 2096.9L923.3 2095.9L925.3 2094.7L927.3 2093.3L929.4 2090.9L931.4 2087.6L933.4 2084.2L935.4 2080.9L937.4 2077.5L939.5 2072.6L941.5 2070.2L943.5 2068.8L945.5 2063.8L947.5 2056.2L949.6 2048.5L951.6 2046.4L953.6 2039.2L955.6 2029.7L957.6 2030.6L959.6 2028.4L961.7 2026.4L963.7 2033.8L965.7 2034.6L967.7 2036.1L969.7 2039.5L971.8 2049.2L973.8 2058.2L975.8 2063.9L977.8 2071.3L979.8 2076.3L981.9 2081.2L983.9 2086.6L985.9 2090L987.9 2092.8L989.9 2095.1L992 2096.3L994 2097.3L996 2098L998 2098.4L1000 2098.7L1002.1 2098.9L1004.1 2099.1L1038.4 2099.1L1038.4 2099.1" fill="#8CC4F5" fill-opacity="0.72" stroke="#3B8BEB" stroke-width="1.4" stroke-linejoin="round"/>
<path d="M870.8 2139.4L963.7 2139.4L965.7 2139.2L967.7 2138.8L969.7 2137.9L971.8 2135.8L973.8 2131.6L975.8 2124.3L977.8 2113.4L979.8 2100.9L981.9 2088L983.9 2075.1L985.9 2065.9L987.9 2061.3L989.9 2069.6L992 2081.3L994 2092.8L996 2107.8L998 2120.8L1000 2128.7L1002.1 2133.6L1004.1 2136.7L1006.1 2138.3L1008.1 2139L1010.1 2139.4L1038.4 2139.4L1038.4 2139.4" fill="#F27DB5" fill-opacity="0.72" stroke="#E8287A" stroke-width="1.4" stroke-linejoin="round"/>
<path d="M903.3 2139.6v1.6M910.5 2139.6v1.6M915.6 2139.6v1.6M919.6 2139.6v1.6M922.9 2139.6v1.6M925.6 2139.6v1.6M928 2139.6v1.6M930.1 2139.6v1.6M932 2139.6v3.2M944.3 2139.6v1.6M951.6 2139.6v1.6M956.7 2139.6v1.6M960.7 2139.6v1.6M963.9 2139.6v1.6M966.7 2139.6v1.6M969.1 2139.6v1.6M971.2 2139.6v1.6M973 2139.6v3.2M985.4 2139.6v1.6M992.6 2139.6v1.6M997.8 2139.6v1.6M1001.7 2139.6v1.6M1005 2139.6v1.6M1007.7 2139.6v1.6M1010.1 2139.6v1.6M1012.2 2139.6v1.6M1014.1 2139.6v3.2M1026.5 2139.6v1.6M1033.7 2139.6v1.6M890.9 2139.6v3.2M887.9 2139.6v1.6M884.9 2139.6v1.6M881.9 2139.6v1.6M878.8 2139.6v1.6M875.8 2139.6v1.6" stroke="#000" stroke-width="0.9" fill="none"/>
<rect x="870.8" y="1972.8" width="167.6" height="166.8" fill="none" stroke="#000" stroke-width="1.9"/>
<path d="M1049.7 2057.1L1049.7 2056L1051.7 2055.6L1053.7 2055L1055.7 2054.2L1057.7 2053.1L1059.8 2051.7L1061.8 2050.1L1063.8 2048.6L1065.8 2046.6L1067.8 2043.5L1069.8 2039.4L1071.8 2035.4L1073.8 2031.4L1075.9 2027L1077.9 2022.7L1079.9 2018.1L1081.9 2012.8L1083.9 2005L1085.9 2002.3L1087.9 1998.7L1089.9 1992.4L1092 1989.9L1094 1987.6L1096 1986.5L1098 1982.4L1100 1983L1102 1986.1L1104 1987L1106 1989.9L1108 1994.6L1110.1 2000.7L1112.1 2008.2L1114.1 2011.6L1116.1 2016.2L1118.1 2023.7L1120.1 2027.1L1122.1 2030.3L1124.1 2034.5L1126.2 2038.6L1128.2 2042.8L1130.2 2045.9L1132.2 2048.1L1134.2 2050.5L1136.2 2051.9L1138.2 2053.1L1140.2 2054.2L1142.3 2054.9L1144.3 2055.4L1146.3 2056L1148.3 2056.3L1150.3 2056.6L1152.3 2056.7L1154.3 2056.8L1156.3 2056.9L1158.4 2057.1L1216.7 2057.1L1216.7 2057.1" fill="#8FDF86" fill-opacity="0.72" stroke="#3CB52E" stroke-width="1.4" stroke-linejoin="round"/>
<path d="M1049.7 2099.1L1116.1 2099.1L1118.1 2098.9L1120.1 2098.7L1122.1 2098.3L1124.1 2097.7L1126.2 2097.1L1128.2 2095.8L1130.2 2094.1L1132.2 2092.4L1134.2 2090.4L1136.2 2088.3L1138.2 2085.4L1140.2 2082.1L1142.3 2078.4L1144.3 2073.1L1146.3 2062.2L1148.3 2051.6L1150.3 2041.6L1152.3 2031.4L1154.3 2029.3L1156.3 2032.7L1158.4 2037.5L1160.4 2047.4L1162.4 2058L1164.4 2069.8L1166.4 2080.7L1168.4 2088L1170.4 2093L1172.4 2096L1174.4 2097.7L1176.5 2098.5L1178.5 2098.9L1180.5 2099.1L1216.7 2099.1L1216.7 2099.1" fill="#8CC4F5" fill-opacity="0.72" stroke="#3B8BEB" stroke-width="1.4" stroke-linejoin="round"/>
<path d="M1049.7 2139.4L1142.3 2139.4L1144.3 2139.2L1146.3 2139L1148.3 2138.2L1150.3 2136.6L1152.3 2133.2L1154.3 2127.4L1156.3 2118.9L1158.4 2106.9L1160.4 2090.1L1162.4 2078.1L1164.4 2069.4L1166.4 2060.7L1168.4 2063.3L1170.4 2076.7L1172.4 2091.7L1174.4 2104.9L1176.5 2117.6L1178.5 2126.6L1180.5 2132.8L1182.5 2136.2L1184.5 2138L1186.5 2138.9L1188.5 2139.2L1190.5 2139.4L1216.7 2139.4L1216.7 2139.4" fill="#F27DB5" fill-opacity="0.72" stroke="#E8287A" stroke-width="1.4" stroke-linejoin="round"/>
<path d="M1082.1 2139.6v1.6M1089.3 2139.6v1.6M1094.4 2139.6v1.6M1098.3 2139.6v1.6M1101.6 2139.6v1.6M1104.3 2139.6v1.6M1106.7 2139.6v1.6M1108.8 2139.6v1.6M1110.7 2139.6v3.2M1123 2139.6v1.6M1130.2 2139.6v1.6M1135.3 2139.6v1.6M1139.3 2139.6v1.6M1142.5 2139.6v1.6M1145.2 2139.6v1.6M1147.6 2139.6v1.6M1149.7 2139.6v1.6M1151.6 2139.6v3.2M1163.9 2139.6v1.6M1171.1 2139.6v1.6M1176.2 2139.6v1.6M1180.2 2139.6v1.6M1183.4 2139.6v1.6M1186.1 2139.6v1.6M1188.5 2139.6v1.6M1190.6 2139.6v1.6M1192.5 2139.6v3.2M1204.8 2139.6v1.6M1212 2139.6v1.6M1069.7 2139.6v3.2M1066.7 2139.6v1.6M1063.7 2139.6v1.6M1060.7 2139.6v1.6M1057.7 2139.6v1.6M1054.7 2139.6v1.6" stroke="#000" stroke-width="0.9" fill="none"/>
<rect x="1049.7" y="1972.8" width="167" height="166.8" fill="none" stroke="#000" stroke-width="1.9"/>
<path d="M1228.2 2057.1L1244.2 2057.1L1246.2 2056.7L1248.2 2056L1250.2 2054.2L1252.2 2050.7L1254.2 2044.2L1256.2 2034L1258.2 2021.8L1260.2 2008.3L1262.2 1992.9L1264.2 1984.3L1266.2 1985.8L1268.2 1995.8L1270.2 2011L1272.2 2023.5L1274.2 2035.3L1276.2 2045.5L1278.2 2051.6L1280.2 2054.7L1282.2 2056.2L1284.2 2056.8L1286.2 2057.1L1394.2 2057.1L1394.2 2057.1" fill="#8FDF86" fill-opacity="0.72" stroke="#3CB52E" stroke-width="1.4" stroke-linejoin="round"/>
<path d="M1228.2 2099.1L1230.2 2099.1L1232.2 2098.9L1234.2 2098.7L1236.2 2098.3L1238.2 2097.5L1240.2 2096.2L1242.2 2094.1L1244.2 2091.2L1246.2 2087.4L1248.2 2081.7L1250.2 2075.8L1252.2 2066.2L1254.2 2059.9L1256.2 2052.3L1258.2 2043.3L1260.2 2041.3L1262.2 2037.1L1264.2 2035.9L1266.2 2038.5L1268.2 2043L1270.2 2048.9L1272.2 2060.7L1274.2 2070.8L1276.2 2077.3L1278.2 2082.4L1280.2 2087.8L1282.2 2092L1284.2 2095L1286.2 2096.6L1288.2 2097.7L1290.2 2098.3L1292.2 2098.7L1294.2 2098.9L1296.2 2099.1L1394.2 2099.1L1394.2 2099.1" fill="#8CC4F5" fill-opacity="0.72" stroke="#3B8BEB" stroke-width="1.4" stroke-linejoin="round"/>
<path d="M1228.2 2139.4L1236.2 2139.4L1238.2 2139.2L1240.2 2139.1L1242.2 2138.8L1244.2 2138.4L1246.2 2137.8L1248.2 2137L1250.2 2135.8L1252.2 2133.9L1254.2 2131.6L1256.2 2128.1L1258.2 2124.1L1260.2 2119.2L1262.2 2112.1L1264.2 2104.8L1266.2 2098.9L1268.2 2094.2L1270.2 2088L1272.2 2081.5L1274.2 2073.7L1276.2 2072.2L1278.2 2072.5L1280.2 2074.7L1282.2 2073.7L1284.2 2073.4L1286.2 2078.8L1288.2 2084.6L1290.2 2086.6L1292.2 2087.5L1294.2 2091.2L1296.2 2094.9L1298.2 2098.8L1300.2 2102.3L1302.2 2107L1304.2 2111.3L1306.2 2114.1L1308.2 2118.1L1310.2 2122.3L1312.2 2125.3L1314.2 2127.8L1316.2 2129.9L1318.2 2131.2L1320.2 2132.5L1322.2 2134.1L1324.2 2135.1L1326.2 2136.1L1328.2 2136.9L1330.2 2137.3L1332.2 2137.8L1334.2 2138.2L1336.2 2138.5L1338.2 2138.8L1340.2 2138.9L1342.2 2139.1L1344.2 2139.2L1346.2 2139.2L1348.2 2139.4L1394.2 2139.4L1394.2 2139.4" fill="#F27DB5" fill-opacity="0.72" stroke="#E8287A" stroke-width="1.4" stroke-linejoin="round"/>
<path d="M1260.4 2139.6v1.6M1267.5 2139.6v1.6M1272.6 2139.6v1.6M1276.5 2139.6v1.6M1279.8 2139.6v1.6M1282.5 2139.6v1.6M1284.8 2139.6v1.6M1286.9 2139.6v1.6M1288.8 2139.6v3.2M1301 2139.6v1.6M1308.2 2139.6v1.6M1313.3 2139.6v1.6M1317.2 2139.6v1.6M1320.4 2139.6v1.6M1323.2 2139.6v1.6M1325.5 2139.6v1.6M1327.6 2139.6v1.6M1329.5 2139.6v3.2M1341.7 2139.6v1.6M1348.9 2139.6v1.6M1353.9 2139.6v1.6M1357.9 2139.6v1.6M1361.1 2139.6v1.6M1363.8 2139.6v1.6M1366.2 2139.6v1.6M1368.3 2139.6v1.6M1370.1 2139.6v3.2M1382.4 2139.6v1.6M1389.5 2139.6v1.6M1248.1 2139.6v3.2M1245.1 2139.6v1.6M1242.1 2139.6v1.6M1239.2 2139.6v1.6M1236.2 2139.6v1.6M1233.2 2139.6v1.6" stroke="#000" stroke-width="0.9" fill="none"/>
<rect x="1228.2" y="1972.8" width="166" height="166.8" fill="none" stroke="#000" stroke-width="1.9"/>
<path d="M1403.9 2057.1L1415.9 2057.1L1417.9 2056.9L1419.9 2056.7L1422 2056L1424 2054.6L1426 2052L1428 2047.2L1430 2040.1L1432 2029.5L1434 2016.4L1436 2002.8L1438 1993L1440 1988.1L1442 1986.6L1444 1991.8L1446 1997.2L1448 2006.4L1450 2018L1452 2028.2L1454.1 2036.5L1456.1 2042.9L1458.1 2047.8L1460.1 2051.8L1462.1 2054L1464.1 2055.3L1466.1 2056.2L1468.1 2056.7L1470.1 2056.9L1472.1 2057.1L1568.4 2057.1L1568.4 2057.1" fill="#8FDF86" fill-opacity="0.72" stroke="#3CB52E" stroke-width="1.4" stroke-linejoin="round"/>
<path d="M1403.9 2099.1L1422 2099.1L1424 2098.9L1426 2098.6L1428 2098L1430 2096.8L1432 2094.4L1434 2090.9L1436 2085.6L1438 2077.3L1440 2067.3L1442 2053.1L1444 2042.1L1446 2030.3L1448 2026.1L1450 2023.3L1452 2024L1454.1 2030L1456.1 2042.7L1458.1 2056.3L1460.1 2064.6L1462.1 2072.8L1464.1 2080.1L1466.1 2086.6L1468.1 2091.3L1470.1 2093.8L1472.1 2096.1L1474.1 2097.6L1476.1 2098.3L1478.1 2098.7L1480.1 2098.9L1482.1 2099.1L1568.4 2099.1L1568.4 2099.1" fill="#8CC4F5" fill-opacity="0.72" stroke="#3B8BEB" stroke-width="1.4" stroke-linejoin="round"/>
<path d="M1403.9 2139.4L1415.9 2139.4L1417.9 2139.2L1419.9 2139L1422 2138.7L1424 2138L1426 2137L1428 2135.1L1430 2132.3L1432 2128.8L1434 2123.5L1436 2116.4L1438 2110L1440 2103.1L1442 2094.2L1444 2086.9L1446 2082.2L1448 2080.3L1450 2080.4L1452 2085.4L1454.1 2090.1L1456.1 2098.3L1458.1 2105.5L1460.1 2112.8L1462.1 2120.9L1464.1 2126L1466.1 2130.3L1468.1 2133.6L1470.1 2135.9L1472.1 2137.3L1474.1 2138.3L1476.1 2138.8L1478.1 2139.1L1480.1 2139.4L1568.4 2139.4L1568.4 2139.4" fill="#F27DB5" fill-opacity="0.72" stroke="#E8287A" stroke-width="1.4" stroke-linejoin="round"/>
<path d="M1435.8 2139.6v1.6M1442.9 2139.6v1.6M1447.9 2139.6v1.6M1451.8 2139.6v1.6M1455 2139.6v1.6M1457.7 2139.6v1.6M1460 2139.6v1.6M1462.1 2139.6v1.6M1463.9 2139.6v3.2M1476.1 2139.6v1.6M1483.2 2139.6v1.6M1488.2 2139.6v1.6M1492.1 2139.6v1.6M1495.3 2139.6v1.6M1498 2139.6v1.6M1500.3 2139.6v1.6M1502.4 2139.6v1.6M1504.2 2139.6v3.2M1516.4 2139.6v1.6M1523.5 2139.6v1.6M1528.5 2139.6v1.6M1532.4 2139.6v1.6M1535.6 2139.6v1.6M1538.3 2139.6v1.6M1540.6 2139.6v1.6M1542.7 2139.6v1.6M1544.5 2139.6v3.2M1556.7 2139.6v1.6M1563.8 2139.6v1.6M1423.6 2139.6v3.2M1420.7 2139.6v1.6M1417.7 2139.6v1.6M1414.8 2139.6v1.6M1411.8 2139.6v1.6M1408.8 2139.6v1.6" stroke="#000" stroke-width="0.9" fill="none"/>
<rect x="1403.9" y="1972.8" width="164.5" height="166.8" fill="none" stroke="#000" stroke-width="1.9"/>
<path d="M1584.7 2057.1L1596.8 2057.1L1598.8 2056.9L1600.8 2056.6L1602.8 2055.8L1604.8 2053.7L1606.9 2048.5L1608.9 2039.6L1610.9 2026L1612.9 2007.6L1614.9 1992.8L1616.9 1990.2L1618.9 1994L1621 2007.3L1623 2018.9L1625 2025.3L1627 2028.5L1629 2029L1631 2027.4L1633 2024.6L1635.1 2021.3L1637.1 2019.6L1639.1 2017.3L1641.1 2018L1643.1 2017.7L1645.1 2017.4L1647.1 2019.4L1649.2 2019.9L1651.2 2023L1653.2 2028.6L1655.2 2034.5L1657.2 2040.9L1659.2 2045.7L1661.2 2049.4L1663.3 2052.2L1665.3 2054L1667.3 2055.2L1669.3 2056L1671.3 2056.4L1673.3 2056.7L1675.4 2056.9L1677.4 2057.1L1751.9 2057.1L1751.9 2057.1" fill="#8FDF86" fill-opacity="0.72" stroke="#3CB52E" stroke-width="1.4" stroke-linejoin="round"/>
<path d="M1584.7 2099.1L1598.8 2099.1L1600.8 2098.8L1602.8 2098.6L1604.8 2098.1L1606.9 2097.2L1608.9 2095.9L1610.9 2093.5L1612.9 2090.3L1614.9 2086.1L1616.9 2081.4L1618.9 2074.3L1621 2065.1L1623 2053.2L1625 2046.6L1627 2042.5L1629 2032.5L1631 2030.3L1633 2032.1L1635.1 2031.8L1637.1 2042.6L1639.1 2051L1641.1 2058.6L1643.1 2070.3L1645.1 2077.7L1647.1 2082.8L1649.2 2088.3L1651.2 2092.3L1653.2 2094.7L1655.2 2096.6L1657.2 2097.7L1659.2 2098.4L1661.2 2098.7L1663.3 2098.9L1665.3 2099.1L1751.9 2099.1L1751.9 2099.1" fill="#8CC4F5" fill-opacity="0.72" stroke="#3B8BEB" stroke-width="1.4" stroke-linejoin="round"/>
<path d="M1584.7 2139.4L1588.7 2139.4L1590.7 2138.9L1592.8 2138L1594.8 2135.7L1596.8 2130.8L1598.8 2122L1600.8 2110.4L1602.8 2096.8L1604.8 2081.4L1606.9 2071.8L1608.9 2068.2L1610.9 2079.1L1612.9 2093.1L1614.9 2107.6L1616.9 2120.5L1618.9 2128.9L1621 2134.7L1623 2137.5L1625 2138.8L1627 2139.2L1629 2139.4L1751.9 2139.4L1751.9 2139.4" fill="#F27DB5" fill-opacity="0.72" stroke="#E8287A" stroke-width="1.4" stroke-linejoin="round"/>
<path d="M1617.1 2139.6v1.6M1624.3 2139.6v1.6M1629.4 2139.6v1.6M1633.4 2139.6v1.6M1636.6 2139.6v1.6M1639.4 2139.6v1.6M1641.8 2139.6v1.6M1643.9 2139.6v1.6M1645.7 2139.6v3.2M1658.1 2139.6v1.6M1665.3 2139.6v1.6M1670.4 2139.6v1.6M1674.4 2139.6v1.6M1677.6 2139.6v1.6M1680.3 2139.6v1.6M1682.7 2139.6v1.6M1684.8 2139.6v1.6M1686.7 2139.6v3.2M1699 2139.6v1.6M1706.2 2139.6v1.6M1711.4 2139.6v1.6M1715.3 2139.6v1.6M1718.6 2139.6v1.6M1721.3 2139.6v1.6M1723.7 2139.6v1.6M1725.8 2139.6v1.6M1727.7 2139.6v3.2M1740 2139.6v1.6M1747.2 2139.6v1.6M1604.8 2139.6v3.2M1601.8 2139.6v1.6M1598.7 2139.6v1.6M1595.7 2139.6v1.6M1592.7 2139.6v1.6M1589.7 2139.6v1.6" stroke="#000" stroke-width="0.9" fill="none"/>
<rect x="1584.7" y="1972.8" width="167.2" height="166.8" fill="none" stroke="#000" stroke-width="1.9"/>
<text x="690" y="2165.2" font-size="22.3">PD-1</text>
<g><line x1="746" y1="2157.5" x2="769.1" y2="2157.5" stroke="#000" stroke-width="2.1"/><path d="M784 2157.5L762.2 2150.2L766.7 2157.5L762.2 2164.8Z"/></g>
<text x="870.8" y="2165.2" font-size="22.3">CD39</text>
<g><line x1="941" y1="2157.5" x2="965.1" y2="2157.5" stroke="#000" stroke-width="2.1"/><path d="M980 2157.5L958.2 2150.2L962.7 2157.5L958.2 2164.8Z"/></g>
<text x="1047" y="2165.2" font-size="22.3">CD38</text>
<g><line x1="1117" y1="2157.5" x2="1141.2" y2="2157.5" stroke="#000" stroke-width="2.1"/><path d="M1156 2157.5L1134.2 2150.2L1138.7 2157.5L1134.2 2164.8Z"/></g>
<text x="1227" y="2165.2" font-size="22.3">TIM3</text>
<g><line x1="1288" y1="2157.5" x2="1312.2" y2="2157.5" stroke="#000" stroke-width="2.1"/><path d="M1327 2157.5L1305.2 2150.2L1309.7 2157.5L1305.2 2164.8Z"/></g>
<text x="1405" y="2165.2" font-size="22.3">LAG3</text>
<g><line x1="1474" y1="2157.5" x2="1498.2" y2="2157.5" stroke="#000" stroke-width="2.1"/><path d="M1513 2157.5L1491.2 2150.2L1495.7 2157.5L1491.2 2164.8Z"/></g>
<text x="1581.6" y="2165.2" font-size="22.3">CD127</text>
<g><line x1="1660" y1="2157.5" x2="1684.2" y2="2157.5" stroke="#000" stroke-width="2.1"/><path d="M1699 2157.5L1677.2 2150.2L1681.7 2157.5L1677.2 2164.8Z"/></g>
</g>
<g id="pi">
<text x="629.7" y="2232.3" font-size="43" font-weight="bold">i</text>
<rect x="696.2" y="2215.8" width="16.3" height="16" fill="#3DAE49"/>
<text x="720" y="2230.5" font-size="22.8">PBMC (non-naive CD8+)</text>
<rect x="696.2" y="2242.2" width="16.3" height="16" fill="#3E84C6"/>
<text x="720" y="2257" font-size="22.8">Healthy tissue CD69+CD103+CD73+</text>
<rect x="696.2" y="2267.5" width="16.3" height="16" fill="#D1288A"/>
<text x="720" y="2281.9" font-size="22.8">Tumor CD69+CD103+CD73-CD200R+</text>
<path d="M694.7 2380.2L737 2380.2L739.1 2379.9L741.1 2376.4L743.1 2358.1L745.1 2320.7L747.1 2303.5L749.1 2330.5L751.1 2354.1L753.2 2360.7L755.2 2361.9L757.2 2362.7L759.2 2363.4L761.2 2364L763.2 2364.6L765.3 2365.4L767.3 2366.5L769.3 2367.2L771.3 2368L773.3 2368.9L775.3 2369.7L777.4 2370.7L779.4 2371.6L781.4 2372.4L783.4 2373.1L785.4 2374L787.4 2374.7L789.5 2375.3L791.5 2375.9L793.5 2376.5L795.5 2377L797.5 2377.5L799.5 2377.9L801.6 2378.2L803.6 2378.5L805.6 2378.8L807.6 2379L809.6 2379.2L811.6 2379.4L813.6 2379.6L815.7 2379.7L817.7 2379.8L819.7 2379.9L821.7 2379.9L823.7 2380L825.7 2380L827.8 2380.2L858 2380.2L858 2380.2" fill="#8FDF86" fill-opacity="0.72" stroke="#3CB52E" stroke-width="1.4" stroke-linejoin="round"/>
<path d="M694.7 2421.1L735 2421.1L737 2420.9L739.1 2420.6L741.1 2420L743.1 2418.9L745.1 2417.2L747.1 2414.4L749.1 2411L751.1 2407.2L753.2 2403.4L755.2 2400.4L757.2 2397.6L759.2 2395.9L761.2 2394.6L763.2 2394.8L765.3 2393.8L767.3 2390.6L769.3 2388.8L771.3 2384L773.3 2378.2L775.3 2374L777.4 2370.8L779.4 2367.1L781.4 2367.2L783.4 2369.8L785.4 2369.7L787.4 2374L789.5 2381.3L791.5 2386.3L793.5 2390.3L795.5 2395.7L797.5 2401.2L799.5 2406.4L801.6 2409.9L803.6 2413.1L805.6 2415.8L807.6 2417.4L809.6 2418.7L811.6 2419.5L813.6 2420.1L815.7 2420.5L817.7 2420.8L819.7 2420.9L821.7 2421.1L858 2421.1L858 2421.1" fill="#8CC4F5" fill-opacity="0.72" stroke="#3B8BEB" stroke-width="1.4" stroke-linejoin="round"/>
<path d="M694.7 2460.6L729 2460.6L731 2460.4L733 2460.4L735 2460.3L737 2460.2L739.1 2460L741.1 2459.8L743.1 2459.6L745.1 2459.3L747.1 2459L749.1 2458.6L751.1 2458.2L753.2 2457.7L755.2 2457.2L757.2 2456.7L759.2 2456.1L761.2 2455.3L763.2 2454.6L765.3 2454.1L767.3 2453.8L769.3 2453.3L771.3 2453L773.3 2452.8L775.3 2452.3L777.4 2452.4L779.4 2452.8L781.4 2452.3L783.4 2451.5L785.4 2450.3L787.4 2448.1L789.5 2444.7L791.5 2439.4L793.5 2431.7L795.5 2423.4L797.5 2413.7L799.5 2403.2L801.6 2395.5L803.6 2389.7L805.6 2386.3L807.6 2387.7L809.6 2394.6L811.6 2403.5L813.6 2416L815.7 2426.4L817.7 2436L819.7 2444.2L821.7 2450L823.7 2454.2L825.7 2457.1L827.8 2458.7L829.8 2459.6L831.8 2460.1L833.8 2460.4L835.8 2460.6L858 2460.6L858 2460.6" fill="#F27DB5" fill-opacity="0.72" stroke="#E8287A" stroke-width="1.4" stroke-linejoin="round"/>
<path d="M726.3 2460.7v1.6M733.4 2460.7v1.6M738.4 2460.7v1.6M742.3 2460.7v1.6M745.4 2460.7v1.6M748.1 2460.7v1.6M750.4 2460.7v1.6M752.5 2460.7v1.6M754.3 2460.7v3.2M766.3 2460.7v1.6M773.4 2460.7v1.6M778.4 2460.7v1.6M782.3 2460.7v1.6M785.4 2460.7v1.6M788.1 2460.7v1.6M790.4 2460.7v1.6M792.5 2460.7v1.6M794.3 2460.7v3.2M806.4 2460.7v1.6M813.4 2460.7v1.6M818.4 2460.7v1.6M822.3 2460.7v1.6M825.4 2460.7v1.6M828.1 2460.7v1.6M830.4 2460.7v1.6M832.5 2460.7v1.6M834.3 2460.7v3.2M846.4 2460.7v1.6M853.4 2460.7v1.6M714.3 2460.7v3.2M711.4 2460.7v1.6M708.4 2460.7v1.6M705.5 2460.7v1.6M702.5 2460.7v1.6M699.6 2460.7v1.6" stroke="#000" stroke-width="0.9" fill="none"/>
<rect x="694.7" y="2297.4" width="163.3" height="163.3" fill="none" stroke="#000" stroke-width="1.9"/>
<path d="M870.8 2380.2L901.1 2380.2L903.1 2380L905.2 2379.6L907.2 2378.6L909.2 2376.2L911.2 2371.4L913.2 2362.9L915.3 2349.4L917.3 2333.6L919.3 2318.7L921.3 2305.9L923.3 2301.5L925.4 2304.2L927.4 2311.9L929.4 2323.1L931.4 2337L933.5 2349.6L935.5 2359.7L937.5 2367.7L939.5 2373L941.5 2376.5L943.6 2378.3L945.6 2379.3L947.6 2379.8L949.6 2380.2L1034.5 2380.2L1034.5 2380.2" fill="#8FDF86" fill-opacity="0.72" stroke="#3CB52E" stroke-width="1.4" stroke-linejoin="round"/>
<path d="M870.8 2421.1L897.1 2421.1L899.1 2420.9L901.1 2420.9L903.1 2420.8L905.2 2420.7L907.2 2420.6L909.2 2420.2L911.2 2419.2L913.2 2417.2L915.3 2413.7L917.3 2406.7L919.3 2394.9L921.3 2382.9L923.3 2372.9L925.4 2360.6L927.4 2354.3L929.4 2358.6L931.4 2365.2L933.5 2371.7L935.5 2379.2L937.5 2387.8L939.5 2394.2L941.5 2400.4L943.6 2405.9L945.6 2409.1L947.6 2411.4L949.6 2412.8L951.6 2413.6L953.7 2413.9L955.7 2413.6L957.7 2413L959.7 2413.1L961.7 2413.1L963.8 2412.7L965.8 2412.6L967.8 2412.4L969.8 2412L971.8 2412.1L973.9 2412.2L975.9 2412L977.9 2412.4L979.9 2412.5L982 2412.4L984 2412.9L986 2413.5L988 2413.7L990 2413.9L992.1 2414.3L994.1 2414.4L996.1 2415L998.1 2415.5L1000.1 2416.2L1002.2 2416.5L1004.2 2416.8L1006.2 2417.1L1008.2 2417.4L1010.2 2417.9L1012.3 2418.4L1014.3 2418.6L1016.3 2419L1018.3 2419.2L1020.4 2419.5L1022.4 2419.7L1024.4 2419.9L1026.4 2420L1028.4 2420.2L1030.5 2420.3L1032.5 2420.5L1034.5 2420.6L1034.5 2421.1" fill="#8CC4F5" fill-opacity="0.72" stroke="#3B8BEB" stroke-width="1.4" stroke-linejoin="round"/>
<path d="M870.8 2460.6L905.2 2460.6L907.2 2460.4L909.2 2460.1L911.2 2459.4L913.2 2458L915.3 2455.7L917.3 2452.7L919.3 2448.7L921.3 2444.7L923.3 2441.4L925.4 2441.5L927.4 2442.8L929.4 2445.6L931.4 2448.9L933.5 2452.6L935.5 2455.2L937.5 2456.3L939.5 2456.4L941.5 2456.2L943.6 2455.6L945.6 2454.9L947.6 2454.3L949.6 2453.3L951.6 2452.6L953.7 2451.6L955.7 2450.5L957.7 2449.9L959.7 2448.7L961.7 2448.4L963.8 2448.3L965.8 2448.1L967.8 2447.8L969.8 2447.1L971.8 2445.8L973.9 2443.9L975.9 2440.1L977.9 2436.1L979.9 2431.4L982 2424.2L984 2416.9L986 2407.5L988 2401.4L990 2396.4L992.1 2388.3L994.1 2388.3L996.1 2389.5L998.1 2392.7L1000.1 2400.7L1002.2 2406.7L1004.2 2414.4L1006.2 2424.2L1008.2 2432L1010.2 2438.4L1012.3 2445L1014.3 2450.2L1016.3 2453.9L1018.3 2456.2L1020.4 2457.8L1022.4 2459L1024.4 2459.7L1026.4 2460.1L1028.4 2460.4L1030.5 2460.6L1034.5 2460.6L1034.5 2460.6" fill="#F27DB5" fill-opacity="0.72" stroke="#E8287A" stroke-width="1.4" stroke-linejoin="round"/>
<path d="M902.5 2460.7v1.6M909.6 2460.7v1.6M914.6 2460.7v1.6M918.5 2460.7v1.6M921.7 2460.7v1.6M924.3 2460.7v1.6M926.7 2460.7v1.6M928.7 2460.7v1.6M930.6 2460.7v3.2M942.6 2460.7v1.6M949.7 2460.7v1.6M954.7 2460.7v1.6M958.6 2460.7v1.6M961.8 2460.7v1.6M964.4 2460.7v1.6M966.8 2460.7v1.6M968.8 2460.7v1.6M970.7 2460.7v3.2M982.7 2460.7v1.6M989.8 2460.7v1.6M994.8 2460.7v1.6M998.7 2460.7v1.6M1001.9 2460.7v1.6M1004.6 2460.7v1.6M1006.9 2460.7v1.6M1008.9 2460.7v1.6M1010.8 2460.7v3.2M1022.8 2460.7v1.6M1029.9 2460.7v1.6M890.4 2460.7v3.2M887.5 2460.7v1.6M884.6 2460.7v1.6M881.6 2460.7v1.6M878.7 2460.7v1.6M875.7 2460.7v1.6" stroke="#000" stroke-width="0.9" fill="none"/>
<rect x="870.8" y="2297.4" width="163.7" height="163.3" fill="none" stroke="#000" stroke-width="1.9"/>
<path d="M1050.8 2380.2L1090.8 2380.2L1092.9 2379.6L1094.9 2377.8L1096.9 2373.1L1098.9 2363.1L1100.9 2346.5L1102.9 2326L1104.9 2308.5L1106.9 2302.7L1108.9 2309.1L1110.9 2325.8L1112.9 2343.6L1114.9 2353.8L1116.9 2358.9L1118.9 2361.4L1120.9 2362L1122.9 2362.7L1124.9 2363.3L1126.9 2363.7L1128.9 2364.7L1130.9 2365.3L1132.9 2366.2L1134.9 2366.9L1136.9 2367.4L1138.9 2367.8L1140.9 2368.8L1142.9 2369.8L1144.9 2370.4L1146.9 2371.3L1148.9 2372.2L1150.9 2372.9L1152.9 2373.6L1154.9 2374.2L1156.9 2374.8L1158.9 2375.3L1160.9 2375.9L1162.9 2376.5L1164.9 2376.9L1166.9 2377.3L1168.9 2377.6L1170.9 2378L1172.9 2378.3L1175 2378.6L1177 2378.8L1179 2379L1181 2379.2L1183 2379.3L1185 2379.5L1187 2379.6L1189 2379.7L1191 2379.8L1193 2379.9L1195 2379.9L1197 2380L1199 2380L1201 2380.2L1215 2380.2L1215 2380.2" fill="#8FDF86" fill-opacity="0.72" stroke="#3CB52E" stroke-width="1.4" stroke-linejoin="round"/>
<path d="M1050.8 2421.1L1088.8 2421.1L1090.8 2420.9L1092.9 2420.5L1094.9 2419.6L1096.9 2417.3L1098.9 2413.1L1100.9 2406L1102.9 2394.8L1104.9 2381.5L1106.9 2366.6L1108.9 2357.9L1110.9 2356.7L1112.9 2359.5L1114.9 2366.9L1116.9 2376.7L1118.9 2386.3L1120.9 2393.3L1122.9 2398.5L1124.9 2402.2L1126.9 2404.5L1128.9 2405.5L1130.9 2407.1L1132.9 2409L1134.9 2410.5L1136.9 2412.2L1138.9 2413.3L1140.9 2414.2L1142.9 2415.1L1144.9 2415.7L1146.9 2416L1148.9 2416.4L1150.9 2416.8L1152.9 2416.6L1154.9 2417L1156.9 2417.4L1158.9 2417.6L1160.9 2417.8L1162.9 2418.1L1164.9 2418.5L1166.9 2418.9L1168.9 2419.3L1170.9 2419.5L1172.9 2419.9L1175 2420.2L1177 2420.4L1179 2420.6L1181 2420.7L1183 2420.8L1185 2420.9L1187 2421.1L1215 2421.1L1215 2421.1" fill="#8CC4F5" fill-opacity="0.72" stroke="#3B8BEB" stroke-width="1.4" stroke-linejoin="round"/>
<path d="M1050.8 2460.6L1082.8 2460.6L1084.8 2460.4L1086.8 2460.2L1088.8 2459.8L1090.8 2459.1L1092.9 2457.8L1094.9 2455.5L1096.9 2451.8L1098.9 2446.2L1100.9 2439.8L1102.9 2432.6L1104.9 2424.5L1106.9 2418.1L1108.9 2414.2L1110.9 2415.9L1112.9 2419.6L1114.9 2424.2L1116.9 2428.5L1118.9 2432.2L1120.9 2435.6L1122.9 2435.7L1124.9 2433.4L1126.9 2432.2L1128.9 2432.9L1130.9 2433.1L1132.9 2432L1134.9 2432.8L1136.9 2432.8L1138.9 2434.2L1140.9 2435.5L1142.9 2436.8L1144.9 2436.4L1146.9 2435.3L1148.9 2435.7L1150.9 2432.2L1152.9 2426.7L1154.9 2421.1L1156.9 2414.3L1158.9 2408.5L1160.9 2400.3L1162.9 2398.7L1164.9 2397.7L1166.9 2394L1168.9 2395.2L1170.9 2395.6L1172.9 2405.1L1175 2415L1177 2421.4L1179 2429.8L1181 2437.3L1183 2442.6L1185 2447.6L1187 2451.5L1189 2454.4L1191 2456.7L1193 2458.4L1195 2459.3L1197 2459.9L1199 2460.2L1201 2460.4L1203 2460.6L1215 2460.6L1215 2460.6" fill="#F27DB5" fill-opacity="0.72" stroke="#E8287A" stroke-width="1.4" stroke-linejoin="round"/>
<path d="M1082.6 2460.7v1.6M1089.7 2460.7v1.6M1094.7 2460.7v1.6M1098.6 2460.7v1.6M1101.8 2460.7v1.6M1104.5 2460.7v1.6M1106.8 2460.7v1.6M1108.9 2460.7v1.6M1110.7 2460.7v3.2M1122.8 2460.7v1.6M1129.9 2460.7v1.6M1135 2460.7v1.6M1138.9 2460.7v1.6M1142 2460.7v1.6M1144.7 2460.7v1.6M1147.1 2460.7v1.6M1149.1 2460.7v1.6M1151 2460.7v3.2M1163.1 2460.7v1.6M1170.2 2460.7v1.6M1175.2 2460.7v1.6M1179.1 2460.7v1.6M1182.3 2460.7v1.6M1185 2460.7v1.6M1187.3 2460.7v1.6M1189.4 2460.7v1.6M1191.2 2460.7v3.2M1203.3 2460.7v1.6M1210.4 2460.7v1.6M1070.5 2460.7v3.2M1067.5 2460.7v1.6M1064.6 2460.7v1.6M1061.6 2460.7v1.6M1058.7 2460.7v1.6M1055.7 2460.7v1.6" stroke="#000" stroke-width="0.9" fill="none"/>
<rect x="1050.8" y="2297.4" width="164.2" height="163.3" fill="none" stroke="#000" stroke-width="1.9"/>
<path d="M1227.8 2380.2L1258.1 2380.2L1260.1 2379.8L1262.2 2379.2L1264.2 2377.7L1266.2 2374.9L1268.2 2369.8L1270.2 2361.9L1272.3 2350.8L1274.3 2337L1276.3 2323L1278.3 2311.5L1280.4 2304.2L1282.4 2304.1L1284.4 2308.8L1286.4 2318.8L1288.4 2330.3L1290.5 2341.7L1292.5 2353.3L1294.5 2362.7L1296.5 2369.2L1298.5 2373.9L1300.6 2376.8L1302.6 2378.4L1304.6 2379.4L1306.6 2379.8L1308.6 2380.2L1389.5 2380.2L1389.5 2380.2" fill="#8FDF86" fill-opacity="0.72" stroke="#3CB52E" stroke-width="1.4" stroke-linejoin="round"/>
<path d="M1227.8 2421.1L1252.1 2421.1L1254.1 2420.9L1256.1 2420.7L1258.1 2420.3L1260.1 2419.6L1262.2 2418L1264.2 2415.4L1266.2 2411.6L1268.2 2405.9L1270.2 2398.8L1272.3 2390.7L1274.3 2380.4L1276.3 2371.3L1278.3 2361L1280.4 2353.5L1282.4 2354.4L1284.4 2356L1286.4 2358.6L1288.4 2363.4L1290.5 2371.6L1292.5 2379.7L1294.5 2388.4L1296.5 2395.6L1298.5 2402.1L1300.6 2407.6L1302.6 2411.3L1304.6 2414L1306.6 2415.8L1308.6 2416.7L1310.7 2417.4L1312.7 2417.7L1314.7 2417.9L1316.7 2418.1L1318.8 2418.1L1320.8 2418.1L1322.8 2418.2L1324.8 2418.4L1326.8 2418.6L1328.9 2418.9L1330.9 2419L1332.9 2419.2L1334.9 2419.5L1336.9 2419.7L1339 2419.9L1341 2420.1L1343 2420.3L1345 2420.5L1347.1 2420.6L1349.1 2420.7L1351.1 2420.8L1353.1 2420.9L1355.1 2420.9L1357.2 2421.1L1389.5 2421.1L1389.5 2421.1" fill="#8CC4F5" fill-opacity="0.72" stroke="#3B8BEB" stroke-width="1.4" stroke-linejoin="round"/>
<path d="M1227.8 2460.6L1246 2460.6L1248 2460.4L1250 2460.4L1252.1 2460.3L1254.1 2460.2L1256.1 2460L1258.1 2459.8L1260.1 2459.6L1262.2 2459.2L1264.2 2458.5L1266.2 2457.6L1268.2 2455.8L1270.2 2453L1272.3 2448.8L1274.3 2443.3L1276.3 2435.5L1278.3 2424.7L1280.4 2412.9L1282.4 2404.8L1284.4 2397.9L1286.4 2392.8L1288.4 2387.9L1290.5 2391.4L1292.5 2397.2L1294.5 2400.2L1296.5 2407.2L1298.5 2414.3L1300.6 2419.5L1302.6 2426.5L1304.6 2430.4L1306.6 2433.1L1308.6 2434.7L1310.7 2435.5L1312.7 2436.5L1314.7 2438.8L1316.7 2440.3L1318.8 2440.3L1320.8 2442L1322.8 2443.5L1324.8 2444.8L1326.8 2446.2L1328.9 2447.7L1330.9 2449.6L1332.9 2450.8L1334.9 2451.7L1336.9 2453L1339 2454.2L1341 2455.1L1343 2455.9L1345 2456.9L1347.1 2457.6L1349.1 2458.1L1351.1 2458.6L1353.1 2459L1355.1 2459.4L1357.2 2459.6L1359.2 2459.9L1361.2 2460L1363.2 2460.2L1365.2 2460.3L1367.3 2460.4L1369.3 2460.4L1371.3 2460.6L1389.5 2460.6L1389.5 2460.6" fill="#F27DB5" fill-opacity="0.72" stroke="#E8287A" stroke-width="1.4" stroke-linejoin="round"/>
<path d="M1259.1 2460.7v1.6M1266.1 2460.7v1.6M1271.1 2460.7v1.6M1274.9 2460.7v1.6M1278 2460.7v1.6M1280.7 2460.7v1.6M1283 2460.7v1.6M1285 2460.7v1.6M1286.8 2460.7v3.2M1298.7 2460.7v1.6M1305.7 2460.7v1.6M1310.7 2460.7v1.6M1314.5 2460.7v1.6M1317.6 2460.7v1.6M1320.3 2460.7v1.6M1322.6 2460.7v1.6M1324.6 2460.7v1.6M1326.4 2460.7v3.2M1338.4 2460.7v1.6M1345.3 2460.7v1.6M1350.3 2460.7v1.6M1354.1 2460.7v1.6M1357.3 2460.7v1.6M1359.9 2460.7v1.6M1362.2 2460.7v1.6M1364.2 2460.7v1.6M1366.1 2460.7v3.2M1378 2460.7v1.6M1385 2460.7v1.6M1247.2 2460.7v3.2M1244.3 2460.7v1.6M1241.4 2460.7v1.6M1238.5 2460.7v1.6M1235.6 2460.7v1.6M1232.7 2460.7v1.6" stroke="#000" stroke-width="0.9" fill="none"/>
<rect x="1227.8" y="2297.4" width="161.7" height="163.3" fill="none" stroke="#000" stroke-width="1.9"/>
<path d="M1402.8 2380.2L1426.9 2380.2L1428.9 2380L1430.9 2379.9L1432.9 2379.7L1434.9 2379.3L1436.9 2378.7L1438.9 2377.8L1440.9 2376.5L1442.9 2374.5L1444.9 2371.7L1446.9 2368.4L1448.9 2364.1L1450.9 2358.1L1452.9 2351.7L1454.9 2345.1L1456.9 2337L1458.9 2328.6L1460.9 2322.1L1462.9 2313.8L1465 2306.7L1467 2304.2L1469 2304.2L1471 2303.6L1473 2306.7L1475 2313L1477 2319.6L1479 2325.7L1481 2333.9L1483 2342.4L1485 2349.7L1487 2356.9L1489 2362.9L1491 2367.3L1493 2371.2L1495 2374.1L1497 2376.2L1499 2377.6L1501 2378.5L1503 2379.2L1505 2379.6L1507.1 2379.9L1509.1 2380L1511.1 2380.2L1567.2 2380.2L1567.2 2380.2" fill="#8FDF86" fill-opacity="0.72" stroke="#3CB52E" stroke-width="1.4" stroke-linejoin="round"/>
<path d="M1402.8 2421.1L1422.8 2421.1L1424.9 2420.8L1426.9 2420.6L1428.9 2420.3L1430.9 2419.6L1432.9 2418.6L1434.9 2417.4L1436.9 2415.6L1438.9 2412.9L1440.9 2409.5L1442.9 2405.8L1444.9 2402.3L1446.9 2398.9L1448.9 2394.1L1450.9 2388.5L1452.9 2384L1454.9 2379.9L1456.9 2378.3L1458.9 2375.9L1460.9 2369.4L1462.9 2366.3L1465 2363.7L1467 2360.5L1469 2361.8L1471 2362.6L1473 2367.7L1475 2369.2L1477 2375.4L1479 2380.9L1481 2384.6L1483 2391.6L1485 2396.4L1487 2401.2L1489 2406.4L1491 2409.8L1493 2412.6L1495 2415.3L1497 2417.1L1499 2418.3L1501 2419.3L1503 2419.9L1505 2420.4L1507.1 2420.7L1509.1 2420.8L1511.1 2420.9L1513.1 2421.1L1567.2 2421.1L1567.2 2421.1" fill="#8CC4F5" fill-opacity="0.72" stroke="#3B8BEB" stroke-width="1.4" stroke-linejoin="round"/>
<path d="M1402.8 2460.6L1418.8 2460.6L1420.8 2460.4L1422.8 2460.4L1424.9 2460.3L1426.9 2460.1L1428.9 2460L1430.9 2459.7L1432.9 2459.5L1434.9 2459.1L1436.9 2458.6L1438.9 2458L1440.9 2457.1L1442.9 2456.2L1444.9 2455.1L1446.9 2453.8L1448.9 2452.2L1450.9 2450.5L1452.9 2448.1L1454.9 2445.6L1456.9 2443.2L1458.9 2439.4L1460.9 2435.5L1462.9 2433.2L1465 2429.1L1467 2424.5L1469 2419.8L1471 2414.3L1473 2410L1475 2406.9L1477 2401.5L1479 2399.3L1481 2397.6L1483 2396.4L1485 2393.3L1487 2389.6L1489 2388.5L1491 2389.3L1493 2390.3L1495 2389.6L1497 2393.1L1499 2398.7L1501 2404L1503 2406.1L1505 2407.6L1507.1 2411.3L1509.1 2416.3L1511.1 2421.4L1513.1 2426L1515.1 2431L1517.1 2434.2L1519.1 2437.7L1521.1 2441.9L1523.1 2444.8L1525.1 2447.5L1527.1 2449.2L1529.1 2450.9L1531.1 2453L1533.1 2454.8L1535.1 2455.8L1537.1 2456.7L1539.1 2457.6L1541.1 2458.4L1543.1 2458.9L1545.1 2459.3L1547.2 2459.6L1549.2 2459.9L1551.2 2460.1L1553.2 2460.2L1555.2 2460.3L1557.2 2460.4L1559.2 2460.6L1567.2 2460.6L1567.2 2460.6" fill="#F27DB5" fill-opacity="0.72" stroke="#E8287A" stroke-width="1.4" stroke-linejoin="round"/>
<path d="M1434.7 2460.7v1.6M1441.7 2460.7v1.6M1446.8 2460.7v1.6M1450.7 2460.7v1.6M1453.9 2460.7v1.6M1456.6 2460.7v1.6M1458.9 2460.7v1.6M1461 2460.7v1.6M1462.8 2460.7v3.2M1474.9 2460.7v1.6M1482 2460.7v1.6M1487.1 2460.7v1.6M1491 2460.7v1.6M1494.1 2460.7v1.6M1496.8 2460.7v1.6M1499.2 2460.7v1.6M1501.2 2460.7v1.6M1503.1 2460.7v3.2M1515.2 2460.7v1.6M1522.3 2460.7v1.6M1527.3 2460.7v1.6M1531.2 2460.7v1.6M1534.4 2460.7v1.6M1537.1 2460.7v1.6M1539.5 2460.7v1.6M1541.5 2460.7v1.6M1543.4 2460.7v3.2M1555.5 2460.7v1.6M1562.6 2460.7v1.6M1422.5 2460.7v3.2M1419.6 2460.7v1.6M1416.6 2460.7v1.6M1413.7 2460.7v1.6M1410.7 2460.7v1.6M1407.7 2460.7v1.6" stroke="#000" stroke-width="0.9" fill="none"/>
<rect x="1402.8" y="2297.4" width="164.4" height="163.3" fill="none" stroke="#000" stroke-width="1.9"/>
<path d="M1585.9 2380.2L1616.1 2380.2L1618.1 2380L1620.1 2380L1622.1 2380L1624.1 2379.9L1626.1 2379.8L1628.1 2379.8L1630.1 2379.7L1632.2 2379.6L1634.2 2379.5L1636.2 2379.3L1638.2 2378.6L1640.2 2374.8L1642.2 2360.6L1644.2 2330.9L1646.2 2306.2L1648.2 2313.4L1650.3 2341.7L1652.3 2365.6L1654.3 2375.1L1656.3 2376.8L1658.3 2376.8L1660.3 2376.5L1662.3 2376.2L1664.3 2376L1666.3 2375.7L1668.4 2375.4L1670.4 2375.1L1672.4 2374.9L1674.4 2374.7L1676.4 2374.6L1678.4 2374.4L1680.4 2374.4L1682.4 2374.3L1684.4 2374.1L1686.4 2374.1L1688.5 2374.2L1690.5 2374.3L1692.5 2374.4L1694.5 2374.6L1696.5 2374.9L1698.5 2375.1L1700.5 2375.4L1702.5 2375.6L1704.5 2375.9L1706.6 2376.1L1708.6 2376.4L1710.6 2376.7L1712.6 2377L1714.6 2377.3L1716.6 2377.6L1718.6 2377.8L1720.6 2378L1722.6 2378.3L1724.7 2378.5L1726.7 2378.8L1728.7 2379L1730.7 2379.1L1732.7 2379.3L1734.7 2379.4L1736.7 2379.5L1738.7 2379.6L1740.7 2379.7L1742.8 2379.8L1744.8 2379.9L1746.8 2379.9L1748.8 2380L1750.8 2380L1750.8 2380.2" fill="#8FDF86" fill-opacity="0.72" stroke="#3CB52E" stroke-width="1.4" stroke-linejoin="round"/>
<path d="M1585.9 2421.1L1628.1 2421.1L1630.1 2420.9L1632.2 2420.6L1634.2 2419.8L1636.2 2418L1638.2 2414.4L1640.2 2408.5L1642.2 2402L1644.2 2393.7L1646.2 2388.6L1648.2 2389.4L1650.3 2392.7L1652.3 2399.4L1654.3 2404.6L1656.3 2408.8L1658.3 2410.3L1660.3 2410.4L1662.3 2409.4L1664.3 2408.6L1666.3 2407.2L1668.4 2406.2L1670.4 2406.5L1672.4 2406.8L1674.4 2407L1676.4 2407.1L1678.4 2408.1L1680.4 2409.4L1682.4 2410.8L1684.4 2412L1686.4 2412.9L1688.5 2413.5L1690.5 2413.6L1692.5 2412.7L1694.5 2411.2L1696.5 2408.6L1698.5 2404.1L1700.5 2398.4L1702.5 2392.4L1704.5 2383.6L1706.6 2373.1L1708.6 2363.4L1710.6 2357.6L1712.6 2354.5L1714.6 2355.1L1716.6 2358.5L1718.6 2364L1720.6 2373.5L1722.6 2382.4L1724.7 2390.2L1726.7 2397.9L1728.7 2404.6L1730.7 2410L1732.7 2414.1L1734.7 2416.8L1736.7 2418.5L1738.7 2419.7L1740.7 2420.4L1742.8 2420.7L1744.8 2420.9L1746.8 2421.1L1750.8 2421.1L1750.8 2421.1" fill="#8CC4F5" fill-opacity="0.72" stroke="#3B8BEB" stroke-width="1.4" stroke-linejoin="round"/>
<path d="M1585.9 2460.6L1632.2 2460.6L1634.2 2460.4L1636.2 2459.7L1638.2 2456.5L1640.2 2447.2L1642.2 2428.4L1644.2 2404.4L1646.2 2387.3L1648.2 2389.8L1650.3 2410.8L1652.3 2434.7L1654.3 2451L1656.3 2458L1658.3 2460.1L1660.3 2460.6L1750.8 2460.6L1750.8 2460.6" fill="#F27DB5" fill-opacity="0.72" stroke="#E8287A" stroke-width="1.4" stroke-linejoin="round"/>
<path d="M1617.8 2460.7v1.6M1625 2460.7v1.6M1630 2460.7v1.6M1633.9 2460.7v1.6M1637.1 2460.7v1.6M1639.8 2460.7v1.6M1642.2 2460.7v1.6M1644.2 2460.7v1.6M1646.1 2460.7v3.2M1658.3 2460.7v1.6M1665.4 2460.7v1.6M1670.4 2460.7v1.6M1674.3 2460.7v1.6M1677.5 2460.7v1.6M1680.2 2460.7v1.6M1682.6 2460.7v1.6M1684.6 2460.7v1.6M1686.5 2460.7v3.2M1698.7 2460.7v1.6M1705.8 2460.7v1.6M1710.8 2460.7v1.6M1714.7 2460.7v1.6M1717.9 2460.7v1.6M1720.6 2460.7v1.6M1723 2460.7v1.6M1725 2460.7v1.6M1726.9 2460.7v3.2M1739.1 2460.7v1.6M1746.2 2460.7v1.6M1605.7 2460.7v3.2M1602.7 2460.7v1.6M1599.8 2460.7v1.6M1596.8 2460.7v1.6M1593.8 2460.7v1.6M1590.8 2460.7v1.6" stroke="#000" stroke-width="0.9" fill="none"/>
<rect x="1585.9" y="2297.4" width="164.9" height="163.3" fill="none" stroke="#000" stroke-width="1.9"/>
<path d="M696.6 2597.2L739 2597.2L741 2596.9L743 2593.4L745 2575L747 2536.7L749 2520.7L751.1 2547.5L753.1 2570.7L755.1 2577.7L757.1 2578.8L759.1 2579.3L761.2 2580L763.2 2580.6L765.2 2581.3L767.2 2582.1L769.2 2582.8L771.2 2583.5L773.3 2584.3L775.3 2585.1L777.3 2585.9L779.3 2586.8L781.3 2587.6L783.3 2588.3L785.4 2589.2L787.4 2589.9L789.4 2590.7L791.4 2591.4L793.4 2592L795.4 2592.6L797.5 2593.2L799.5 2593.7L801.5 2594.1L803.5 2594.5L805.5 2594.9L807.6 2595.2L809.6 2595.5L811.6 2595.8L813.6 2596L815.6 2596.2L817.6 2596.3L819.7 2596.5L821.7 2596.6L823.7 2596.7L825.7 2596.8L827.7 2596.9L829.7 2596.9L831.8 2597L833.8 2597L835.8 2597.2L860 2597.2L860 2597.2" fill="#8FDF86" fill-opacity="0.72" stroke="#3CB52E" stroke-width="1.4" stroke-linejoin="round"/>
<path d="M696.6 2638.5L765.2 2638.5L767.2 2638.3L769.2 2638.1L771.2 2637.7L773.3 2636.9L775.3 2635.7L777.3 2633.9L779.3 2631.4L781.3 2629.1L783.3 2627L785.4 2625.6L787.4 2623.9L789.4 2621.3L791.4 2619.7L793.4 2616.9L795.4 2612.3L797.5 2607.2L799.5 2599.9L801.5 2594.7L803.5 2593.2L805.5 2594.5L807.6 2597.2L809.6 2603.8L811.6 2612L813.6 2618L815.6 2624.6L817.6 2630.1L819.7 2633.5L821.7 2635.6L823.7 2637.1L825.7 2637.8L827.7 2638.2L829.7 2638.5L860 2638.5L860 2638.5" fill="#8CC4F5" fill-opacity="0.72" stroke="#3B8BEB" stroke-width="1.4" stroke-linejoin="round"/>
<path d="M696.6 2678.9L791.4 2678.9L793.4 2678.6L795.4 2678.2L797.5 2677.3L799.5 2675.8L801.5 2673.3L803.5 2669.4L805.5 2663L807.6 2654.4L809.6 2645.5L811.6 2634.8L813.6 2623.7L815.6 2613.7L817.6 2607L819.7 2605.5L821.7 2610.4L823.7 2618.6L825.7 2628.1L827.7 2638.7L829.7 2650.3L831.8 2659.2L833.8 2666.3L835.8 2671.4L837.8 2674.7L839.8 2676.7L841.8 2677.8L843.9 2678.4L845.9 2678.7L847.9 2678.9L860 2678.9L860 2678.9" fill="#F27DB5" fill-opacity="0.72" stroke="#E8287A" stroke-width="1.4" stroke-linejoin="round"/>
<path d="M728.3 2679.1v1.6M735.3 2679.1v1.6M740.3 2679.1v1.6M744.2 2679.1v1.6M747.4 2679.1v1.6M750 2679.1v1.6M752.4 2679.1v1.6M754.4 2679.1v1.6M756.2 2679.1v3.2M768.3 2679.1v1.6M775.3 2679.1v1.6M780.3 2679.1v1.6M784.2 2679.1v1.6M787.4 2679.1v1.6M790.1 2679.1v1.6M792.4 2679.1v1.6M794.4 2679.1v1.6M796.3 2679.1v3.2M808.3 2679.1v1.6M815.4 2679.1v1.6M820.4 2679.1v1.6M824.3 2679.1v1.6M827.4 2679.1v1.6M830.1 2679.1v1.6M832.4 2679.1v1.6M834.5 2679.1v1.6M836.3 2679.1v3.2M848.4 2679.1v1.6M855.4 2679.1v1.6M716.2 2679.1v3.2M713.3 2679.1v1.6M710.3 2679.1v1.6M707.4 2679.1v1.6M704.4 2679.1v1.6M701.5 2679.1v1.6" stroke="#000" stroke-width="0.9" fill="none"/>
<rect x="696.6" y="2514.8" width="163.4" height="164.3" fill="none" stroke="#000" stroke-width="1.9"/>
<path d="M872.7 2597.2L900.9 2597.2L902.9 2597L905 2596.8L907 2596.1L909 2594.6L911 2591.5L913 2586.2L915 2577.9L917.1 2566.6L919.1 2552.6L921.1 2539.5L923.1 2528.7L925.1 2520.3L927.1 2521.7L929.1 2527.9L931.2 2536.3L933.2 2548.8L935.2 2560.2L937.2 2570.5L939.2 2579.4L941.2 2586L943.3 2590.6L945.3 2593.6L947.3 2595.4L949.3 2596.3L951.3 2596.8L953.3 2597L955.4 2597.2L1036 2597.2L1036 2597.2" fill="#8FDF86" fill-opacity="0.72" stroke="#3CB52E" stroke-width="1.4" stroke-linejoin="round"/>
<path d="M872.7 2638.5L896.9 2638.5L898.9 2638.3L900.9 2638.3L902.9 2638.2L905 2638.1L907 2638L909 2637.9L911 2637.7L913 2637.6L915 2637.4L917.1 2637.2L919.1 2637L921.1 2636.7L923.1 2636.6L925.1 2636.4L927.1 2636.1L929.1 2635.9L931.2 2635.8L933.2 2635.6L935.2 2635.5L937.2 2635.4L939.2 2635.6L941.2 2635.6L943.3 2635.6L945.3 2635.6L947.3 2635.8L949.3 2635.8L951.3 2635.5L953.3 2634.8L955.4 2633.8L957.4 2632.5L959.4 2631L961.4 2629.1L963.4 2626.1L965.4 2623.5L967.5 2620.8L969.5 2617.2L971.5 2615.1L973.5 2612.7L975.5 2610.3L977.5 2607L979.6 2603L981.6 2600.9L983.6 2597.7L985.6 2594.2L987.6 2593.9L989.6 2596.9L991.6 2601.5L993.7 2609.7L995.7 2614.7L997.7 2620.3L999.7 2626.2L1001.7 2630.5L1003.7 2633.4L1005.8 2635.4L1007.8 2636.9L1009.8 2637.6L1011.8 2638.1L1013.8 2638.3L1015.8 2638.5L1036 2638.5L1036 2638.5" fill="#8CC4F5" fill-opacity="0.72" stroke="#3B8BEB" stroke-width="1.4" stroke-linejoin="round"/>
<path d="M872.7 2678.9L911 2678.9L913 2678.7L915 2678.7L917.1 2678.6L919.1 2678.4L921.1 2678.3L923.1 2678L925.1 2677.7L927.1 2677.4L929.1 2676.9L931.2 2676.4L933.2 2675.8L935.2 2675L937.2 2674.2L939.2 2673.2L941.2 2672.1L943.3 2670.6L945.3 2669.6L947.3 2668.6L949.3 2668.1L951.3 2667.1L953.3 2666L955.4 2664.6L957.4 2663.6L959.4 2662.7L961.4 2662.4L963.4 2662.8L965.4 2662L967.5 2661.7L969.5 2660.6L971.5 2659L973.5 2657.4L975.5 2652.8L977.5 2645.4L979.6 2636L981.6 2629.1L983.6 2622.3L985.6 2620.8L987.6 2619.4L989.6 2621.4L991.6 2630.7L993.7 2642.4L995.7 2650.3L997.7 2657.7L999.7 2665.3L1001.7 2670.8L1003.7 2674.2L1005.8 2676.4L1007.8 2677.6L1009.8 2678.2L1011.8 2678.6L1013.8 2678.7L1015.8 2678.9L1036 2678.9L1036 2678.9" fill="#F27DB5" fill-opacity="0.72" stroke="#E8287A" stroke-width="1.4" stroke-linejoin="round"/>
<path d="M904.3 2679.1v1.6M911.4 2679.1v1.6M916.4 2679.1v1.6M920.3 2679.1v1.6M923.4 2679.1v1.6M926.1 2679.1v1.6M928.4 2679.1v1.6M930.5 2679.1v1.6M932.3 2679.1v3.2M944.3 2679.1v1.6M951.4 2679.1v1.6M956.4 2679.1v1.6M960.3 2679.1v1.6M963.4 2679.1v1.6M966.1 2679.1v1.6M968.4 2679.1v1.6M970.5 2679.1v1.6M972.3 2679.1v3.2M984.4 2679.1v1.6M991.4 2679.1v1.6M996.4 2679.1v1.6M1000.3 2679.1v1.6M1003.4 2679.1v1.6M1006.1 2679.1v1.6M1008.4 2679.1v1.6M1010.5 2679.1v1.6M1012.3 2679.1v3.2M1024.4 2679.1v1.6M1031.4 2679.1v1.6M892.3 2679.1v3.2M889.4 2679.1v1.6M886.4 2679.1v1.6M883.5 2679.1v1.6M880.5 2679.1v1.6M877.6 2679.1v1.6" stroke="#000" stroke-width="0.9" fill="none"/>
<rect x="872.7" y="2514.8" width="163.3" height="164.3" fill="none" stroke="#000" stroke-width="1.9"/>
<path d="M1049.7 2597.2L1090 2597.2L1092 2596.6L1094 2594.9L1096.1 2590.3L1098.1 2580.1L1100.1 2563.1L1102.1 2542.5L1104.1 2524.9L1106.1 2520.2L1108.2 2526.9L1110.2 2542.7L1112.2 2559.6L1114.2 2571L1116.2 2576.3L1118.2 2578.6L1120.3 2579.5L1122.3 2580.1L1124.3 2580.5L1126.3 2580.9L1128.3 2581.4L1130.3 2582L1132.4 2582.6L1134.4 2583.4L1136.4 2584.2L1138.4 2585.1L1140.4 2586L1142.4 2586.8L1144.4 2587.5L1146.5 2588.1L1148.5 2589.1L1150.5 2590L1152.5 2590.5L1154.5 2591L1156.5 2591.7L1158.6 2592.3L1160.6 2592.9L1162.6 2593.3L1164.6 2593.7L1166.6 2594.2L1168.6 2594.6L1170.7 2594.9L1172.7 2595.2L1174.7 2595.5L1176.7 2595.8L1178.7 2596L1180.7 2596.2L1182.7 2596.3L1184.8 2596.5L1186.8 2596.6L1188.8 2596.7L1190.8 2596.8L1192.8 2596.9L1194.8 2596.9L1196.9 2597L1198.9 2597L1200.9 2597.2L1215 2597.2L1215 2597.2" fill="#8FDF86" fill-opacity="0.72" stroke="#3CB52E" stroke-width="1.4" stroke-linejoin="round"/>
<path d="M1049.7 2638.5L1082 2638.5L1084 2638.3L1086 2637.8L1088 2636.3L1090 2632.5L1092 2626L1094 2616L1096.1 2605.1L1098.1 2596.7L1100.1 2594.3L1102.1 2601.8L1104.1 2613.2L1106.1 2623.4L1108.2 2631.5L1110.2 2635.8L1112.2 2637.6L1114.2 2638.3L1116.2 2638.5L1215 2638.5L1215 2638.5" fill="#8CC4F5" fill-opacity="0.72" stroke="#3B8BEB" stroke-width="1.4" stroke-linejoin="round"/>
<path d="M1049.7 2678.9L1118.2 2678.9L1120.3 2678.7L1122.3 2678.6L1124.3 2678.5L1126.3 2678.2L1128.3 2677.9L1130.3 2677.6L1132.4 2677L1134.4 2676.5L1136.4 2675.9L1138.4 2675.1L1140.4 2674.2L1142.4 2673.3L1144.4 2672.1L1146.5 2671.3L1148.5 2669.7L1150.5 2667.3L1152.5 2663.9L1154.5 2658L1156.5 2650.3L1158.6 2641L1160.6 2629.7L1162.6 2620.4L1164.6 2614.1L1166.6 2612.4L1168.6 2615.1L1170.7 2624.2L1172.7 2637.4L1174.7 2649.4L1176.7 2659.9L1178.7 2667.2L1180.7 2672.5L1182.7 2675.7L1184.8 2677.5L1186.8 2678.3L1188.8 2678.7L1190.8 2678.9L1215 2678.9L1215 2678.9" fill="#F27DB5" fill-opacity="0.72" stroke="#E8287A" stroke-width="1.4" stroke-linejoin="round"/>
<path d="M1081.7 2679.1v1.6M1088.9 2679.1v1.6M1093.9 2679.1v1.6M1097.8 2679.1v1.6M1101 2679.1v1.6M1103.8 2679.1v1.6M1106.1 2679.1v1.6M1108.2 2679.1v1.6M1110 2679.1v3.2M1122.2 2679.1v1.6M1129.4 2679.1v1.6M1134.4 2679.1v1.6M1138.3 2679.1v1.6M1141.5 2679.1v1.6M1144.3 2679.1v1.6M1146.6 2679.1v1.6M1148.7 2679.1v1.6M1150.5 2679.1v3.2M1162.7 2679.1v1.6M1169.9 2679.1v1.6M1174.9 2679.1v1.6M1178.8 2679.1v1.6M1182 2679.1v1.6M1184.8 2679.1v1.6M1187.1 2679.1v1.6M1189.2 2679.1v1.6M1191 2679.1v3.2M1203.2 2679.1v1.6M1210.4 2679.1v1.6M1069.5 2679.1v3.2M1066.6 2679.1v1.6M1063.6 2679.1v1.6M1060.6 2679.1v1.6M1057.6 2679.1v1.6M1054.7 2679.1v1.6" stroke="#000" stroke-width="0.9" fill="none"/>
<rect x="1049.7" y="2514.8" width="165.3" height="164.3" fill="none" stroke="#000" stroke-width="1.9"/>
<path d="M1227 2597.2L1253.2 2597.2L1255.2 2597L1257.2 2596.8L1259.3 2596.2L1261.3 2595L1263.3 2592.8L1265.3 2589L1267.3 2583.2L1269.3 2574.8L1271.4 2563.5L1273.4 2551.6L1275.4 2540.3L1277.4 2528.8L1279.4 2520.7L1281.4 2521.2L1283.4 2524.6L1285.5 2530.2L1287.5 2538.3L1289.5 2548.8L1291.5 2559.3L1293.5 2569.9L1295.5 2578L1297.6 2584.2L1299.6 2589.1L1301.6 2592.2L1303.6 2594.4L1305.6 2595.7L1307.6 2596.4L1309.7 2596.8L1311.7 2597L1313.7 2597.2L1390.3 2597.2L1390.3 2597.2" fill="#8FDF86" fill-opacity="0.72" stroke="#3CB52E" stroke-width="1.4" stroke-linejoin="round"/>
<path d="M1227 2638.5L1243.1 2638.5L1245.1 2638.3L1247.2 2638.2L1249.2 2638L1251.2 2637.7L1253.2 2637.1L1255.2 2636.2L1257.2 2635.5L1259.3 2634.2L1261.3 2632.3L1263.3 2629.5L1265.3 2626.4L1267.3 2623.1L1269.3 2619.1L1271.4 2616.6L1273.4 2612.2L1275.4 2607.1L1277.4 2600.2L1279.4 2595.2L1281.4 2596.5L1283.4 2596L1285.5 2591.7L1287.5 2589.8L1289.5 2593.3L1291.5 2600.6L1293.5 2604.2L1295.5 2603.1L1297.6 2606.6L1299.6 2610.7L1301.6 2615.8L1303.6 2621.3L1305.6 2624.3L1307.6 2625.6L1309.7 2628.3L1311.7 2630.8L1313.7 2631.2L1315.7 2631.6L1317.7 2632.1L1319.7 2632.5L1321.8 2633.1L1323.8 2633.4L1325.8 2632.8L1327.8 2632.6L1329.8 2633.2L1331.8 2633.7L1333.9 2634.4L1335.9 2635L1337.9 2635.2L1339.9 2635.9L1341.9 2636.7L1343.9 2636.7L1345.9 2636.3L1348 2635.7L1350 2634.8L1352 2634.1L1354 2633.7L1356 2633.9L1358 2634.4L1360.1 2635.9L1362.1 2637L1364.1 2637.8L1366.1 2638.2L1368.1 2638.5L1390.3 2638.5L1390.3 2638.5" fill="#8CC4F5" fill-opacity="0.72" stroke="#3B8BEB" stroke-width="1.4" stroke-linejoin="round"/>
<path d="M1227 2678.9L1259.3 2678.9L1261.3 2678.7L1263.3 2678.5L1265.3 2677.9L1267.3 2677.2L1269.3 2675.4L1271.4 2672.2L1273.4 2669.2L1275.4 2663.6L1277.4 2653.2L1279.4 2641.5L1281.4 2637.6L1283.4 2635.8L1285.5 2628.5L1287.5 2631.1L1289.5 2630.2L1291.5 2631.9L1293.5 2633.3L1295.5 2637.1L1297.6 2639.3L1299.6 2638.1L1301.6 2636.3L1303.6 2639.7L1305.6 2643.5L1307.6 2643.8L1309.7 2643.1L1311.7 2641L1313.7 2639.4L1315.7 2635.6L1317.7 2633.9L1319.7 2635.5L1321.8 2637L1323.8 2636.2L1325.8 2637.3L1327.8 2639.4L1329.8 2642.7L1331.8 2642.1L1333.9 2642.5L1335.9 2639.2L1337.9 2641.7L1339.9 2644.9L1341.9 2649.5L1343.9 2652.2L1345.9 2646.5L1348 2643.5L1350 2642.6L1352 2632.7L1354 2628.8L1356 2635L1358 2638.1L1360.1 2639.3L1362.1 2641.5L1364.1 2652.7L1366.1 2659.2L1368.1 2662.7L1370.1 2667.9L1372.2 2671.7L1374.2 2674.8L1376.2 2677L1378.2 2677.8L1380.2 2678.3L1382.2 2678.6L1384.3 2678.9L1390.3 2678.9L1390.3 2678.9" fill="#F27DB5" fill-opacity="0.72" stroke="#E8287A" stroke-width="1.4" stroke-linejoin="round"/>
<path d="M1258.6 2679.1v1.6M1265.7 2679.1v1.6M1270.7 2679.1v1.6M1274.6 2679.1v1.6M1277.7 2679.1v1.6M1280.4 2679.1v1.6M1282.7 2679.1v1.6M1284.8 2679.1v1.6M1286.6 2679.1v3.2M1298.6 2679.1v1.6M1305.7 2679.1v1.6M1310.7 2679.1v1.6M1314.6 2679.1v1.6M1317.7 2679.1v1.6M1320.4 2679.1v1.6M1322.7 2679.1v1.6M1324.8 2679.1v1.6M1326.6 2679.1v3.2M1338.7 2679.1v1.6M1345.7 2679.1v1.6M1350.7 2679.1v1.6M1354.6 2679.1v1.6M1357.7 2679.1v1.6M1360.4 2679.1v1.6M1362.7 2679.1v1.6M1364.8 2679.1v1.6M1366.6 2679.1v3.2M1378.7 2679.1v1.6M1385.7 2679.1v1.6M1246.6 2679.1v3.2M1243.7 2679.1v1.6M1240.7 2679.1v1.6M1237.8 2679.1v1.6M1234.8 2679.1v1.6M1231.9 2679.1v1.6" stroke="#000" stroke-width="0.9" fill="none"/>
<rect x="1227" y="2514.8" width="163.3" height="164.3" fill="none" stroke="#000" stroke-width="1.9"/>
<path d="M1404.7 2597.2L1428.8 2597.2L1430.8 2597L1432.8 2596.8L1434.8 2596.6L1436.8 2596.2L1438.8 2595.5L1440.8 2594.5L1442.8 2593L1444.8 2591L1446.8 2588.1L1448.8 2584.6L1450.8 2579.8L1452.8 2573.4L1454.9 2566.4L1456.9 2559.5L1458.9 2551.8L1460.9 2543.3L1462.9 2536.5L1464.9 2529.7L1466.9 2524.7L1468.9 2520.8L1470.9 2519.3L1472.9 2521.3L1474.9 2526.1L1476.9 2532L1478.9 2538.4L1480.9 2546.8L1482.9 2555.7L1484.9 2562.9L1487 2569.7L1489 2576.1L1491 2581.6L1493 2585.7L1495 2589.1L1497 2591.7L1499 2593.6L1501 2594.9L1503 2595.8L1505 2596.3L1507 2596.7L1509 2596.9L1511 2597L1513 2597.2L1569.2 2597.2L1569.2 2597.2" fill="#8FDF86" fill-opacity="0.72" stroke="#3CB52E" stroke-width="1.4" stroke-linejoin="round"/>
<path d="M1404.7 2638.5L1414.7 2638.5L1416.7 2638.3L1418.7 2638.3L1420.7 2638.1L1422.8 2638L1424.8 2637.8L1426.8 2637.5L1428.8 2637.1L1430.8 2636.7L1432.8 2635.7L1434.8 2635.3L1436.8 2635L1438.8 2633.8L1440.8 2632.2L1442.8 2630.7L1444.8 2629.3L1446.8 2626.4L1448.8 2622.3L1450.8 2621L1452.8 2617.8L1454.9 2614.5L1456.9 2611.4L1458.9 2611.9L1460.9 2610.1L1462.9 2605.7L1464.9 2606.7L1466.9 2601.1L1468.9 2604L1470.9 2609.1L1472.9 2604.9L1474.9 2602.6L1476.9 2606.7L1478.9 2606.2L1480.9 2608.9L1482.9 2613.9L1484.9 2615L1487 2611.9L1489 2613.2L1491 2615.8L1493 2617.8L1495 2618L1497 2618.2L1499 2620.4L1501 2619.8L1503 2621.5L1505 2626.4L1507 2628.5L1509 2630.3L1511 2632.4L1513 2633.9L1515 2634.4L1517 2634.4L1519 2633.6L1521.1 2632.8L1523.1 2633L1525.1 2634.3L1527.1 2634.9L1529.1 2636.2L1531.1 2637.1L1533.1 2637.8L1535.1 2638.2L1537.1 2638.5L1569.2 2638.5L1569.2 2638.5" fill="#8CC4F5" fill-opacity="0.72" stroke="#3B8BEB" stroke-width="1.4" stroke-linejoin="round"/>
<path d="M1404.7 2678.9L1426.8 2678.9L1428.8 2678.7L1430.8 2678.6L1432.8 2678.5L1434.8 2678.4L1436.8 2678.1L1438.8 2677.8L1440.8 2677.5L1442.8 2677.1L1444.8 2676.4L1446.8 2675.7L1448.8 2674.7L1450.8 2673.3L1452.8 2672L1454.9 2669.9L1456.9 2667.1L1458.9 2664.5L1460.9 2662.4L1462.9 2660.1L1464.9 2656.6L1466.9 2653.3L1468.9 2649.9L1470.9 2646.1L1472.9 2639L1474.9 2637.2L1476.9 2636.5L1478.9 2629.4L1480.9 2623.7L1482.9 2621.5L1484.9 2621.5L1487 2624.1L1489 2621.3L1491 2618.9L1493 2616.5L1495 2618.7L1497 2622.8L1499 2628.2L1501 2630L1503 2634L1505 2635.6L1507 2638L1509 2641.7L1511 2646.5L1513 2651.1L1515 2655.9L1517 2658.4L1519 2660.8L1521.1 2664.5L1523.1 2667.4L1525.1 2669.5L1527.1 2670.8L1529.1 2672.7L1531.1 2674.4L1533.1 2675.4L1535.1 2675.9L1537.1 2676.7L1539.1 2677.3L1541.1 2677.7L1543.1 2678.1L1545.1 2678.3L1547.1 2678.5L1549.1 2678.6L1551.1 2678.7L1553.2 2678.9L1569.2 2678.9L1569.2 2678.9" fill="#F27DB5" fill-opacity="0.72" stroke="#E8287A" stroke-width="1.4" stroke-linejoin="round"/>
<path d="M1436.6 2679.1v1.6M1443.7 2679.1v1.6M1448.7 2679.1v1.6M1452.6 2679.1v1.6M1455.8 2679.1v1.6M1458.5 2679.1v1.6M1460.8 2679.1v1.6M1462.9 2679.1v1.6M1464.7 2679.1v3.2M1476.9 2679.1v1.6M1484 2679.1v1.6M1489 2679.1v1.6M1492.9 2679.1v1.6M1496.1 2679.1v1.6M1498.8 2679.1v1.6M1501.1 2679.1v1.6M1503.2 2679.1v1.6M1505 2679.1v3.2M1517.2 2679.1v1.6M1524.3 2679.1v1.6M1529.3 2679.1v1.6M1533.2 2679.1v1.6M1536.4 2679.1v1.6M1539.1 2679.1v1.6M1541.4 2679.1v1.6M1543.5 2679.1v1.6M1545.3 2679.1v3.2M1557.5 2679.1v1.6M1564.6 2679.1v1.6M1424.4 2679.1v3.2M1421.5 2679.1v1.6M1418.5 2679.1v1.6M1415.6 2679.1v1.6M1412.6 2679.1v1.6M1409.6 2679.1v1.6" stroke="#000" stroke-width="0.9" fill="none"/>
<rect x="1404.7" y="2514.8" width="164.5" height="164.3" fill="none" stroke="#000" stroke-width="1.9"/>
<path d="M1584.7 2597.2L1624.7 2597.2L1626.7 2597L1628.7 2597L1630.7 2596.9L1632.7 2596.9L1634.7 2596.8L1636.7 2596.6L1638.7 2595.4L1640.7 2589.5L1642.7 2571.4L1644.7 2541.4L1646.7 2522.5L1648.7 2535.8L1650.7 2565.6L1652.7 2586.3L1654.7 2593.6L1656.7 2594.9L1658.7 2594.9L1660.7 2594.7L1662.7 2594.4L1664.7 2594.2L1666.7 2593.9L1668.7 2593.6L1670.7 2593.3L1672.7 2593L1674.7 2592.6L1676.7 2592.4L1678.7 2592.2L1680.7 2591.9L1682.7 2591.8L1684.7 2591.6L1686.7 2591.4L1688.7 2591.3L1690.7 2591.2L1692.7 2591.2L1694.7 2591.2L1696.7 2591.1L1698.7 2591.3L1700.7 2591.4L1702.7 2591.4L1704.7 2591.7L1706.7 2592.1L1708.7 2592.2L1710.7 2592.3L1712.7 2592.6L1714.7 2593L1716.7 2593.2L1718.7 2593.5L1720.7 2593.8L1722.7 2594.1L1724.7 2594.4L1726.7 2594.6L1728.7 2594.9L1730.7 2595.2L1732.7 2595.4L1734.7 2595.6L1736.7 2595.8L1738.7 2596L1740.7 2596.1L1742.7 2596.3L1744.7 2596.4L1746.7 2596.5L1748.7 2596.6L1750.7 2596.7L1752.7 2596.8L1752.7 2597.2" fill="#8FDF86" fill-opacity="0.72" stroke="#3CB52E" stroke-width="1.4" stroke-linejoin="round"/>
<path d="M1584.7 2638.5L1634.7 2638.5L1636.7 2638.2L1638.7 2637.7L1640.7 2636.6L1642.7 2634.3L1644.7 2630.6L1646.7 2625.2L1648.7 2617.4L1650.7 2608.6L1652.7 2601.6L1654.7 2597.5L1656.7 2598.4L1658.7 2600.2L1660.7 2602.4L1662.7 2605.2L1664.7 2610.2L1666.7 2613.7L1668.7 2617.4L1670.7 2620.8L1672.7 2624.7L1674.7 2628.3L1676.7 2630.8L1678.7 2632.9L1680.7 2634.5L1682.7 2635.7L1684.7 2636.7L1686.7 2637.4L1688.7 2637.8L1690.7 2638.1L1692.7 2638.2L1694.7 2638.5L1752.7 2638.5L1752.7 2638.5" fill="#8CC4F5" fill-opacity="0.72" stroke="#3B8BEB" stroke-width="1.4" stroke-linejoin="round"/>
<path d="M1584.7 2678.9L1630.7 2678.9L1632.7 2678.4L1634.7 2676.6L1636.7 2670.8L1638.7 2657.8L1640.7 2637.7L1642.7 2617.3L1644.7 2611.1L1646.7 2622.6L1648.7 2644.6L1650.7 2663.5L1652.7 2673.6L1654.7 2677.6L1656.7 2678.6L1658.7 2678.9L1752.7 2678.9L1752.7 2678.9" fill="#F27DB5" fill-opacity="0.72" stroke="#E8287A" stroke-width="1.4" stroke-linejoin="round"/>
<path d="M1617.3 2679.1v1.6M1624.5 2679.1v1.6M1629.6 2679.1v1.6M1633.6 2679.1v1.6M1636.9 2679.1v1.6M1639.6 2679.1v1.6M1642 2679.1v1.6M1644.1 2679.1v1.6M1646 2679.1v3.2M1658.4 2679.1v1.6M1665.7 2679.1v1.6M1670.8 2679.1v1.6M1674.8 2679.1v1.6M1678 2679.1v1.6M1680.8 2679.1v1.6M1683.2 2679.1v1.6M1685.3 2679.1v1.6M1687.2 2679.1v3.2M1699.6 2679.1v1.6M1706.8 2679.1v1.6M1712 2679.1v1.6M1715.9 2679.1v1.6M1719.2 2679.1v1.6M1722 2679.1v1.6M1724.4 2679.1v1.6M1726.5 2679.1v1.6M1728.3 2679.1v3.2M1740.7 2679.1v1.6M1748 2679.1v1.6M1604.9 2679.1v3.2M1601.8 2679.1v1.6M1598.8 2679.1v1.6M1595.8 2679.1v1.6M1592.8 2679.1v1.6M1589.7 2679.1v1.6" stroke="#000" stroke-width="0.9" fill="none"/>
<rect x="1584.7" y="2514.8" width="168" height="164.3" fill="none" stroke="#000" stroke-width="1.9"/>
<text x="682" y="2386.1" font-size="22.3" text-anchor="middle" transform="rotate(-90 682 2386.1)">Tonsil/HNSCC</text>
<text x="682" y="2600" font-size="22.3" text-anchor="middle" transform="rotate(-90 682 2600)">Skin/Melanoma</text>
<text x="692" y="2489.1" font-size="22.3">PD-1</text>
<g><line x1="748" y1="2481.5" x2="771.1" y2="2481.5" stroke="#000" stroke-width="2.1"/><path d="M786 2481.5L764.2 2474.2L768.7 2481.5L764.2 2488.8Z"/></g>
<text x="866" y="2489.1" font-size="22.3">CD39</text>
<g><line x1="938" y1="2481.5" x2="961.1" y2="2481.5" stroke="#000" stroke-width="2.1"/><path d="M976 2481.5L954.2 2474.2L958.7 2481.5L954.2 2488.8Z"/></g>
<text x="1044" y="2489.1" font-size="22.3">CD38</text>
<g><line x1="1121" y1="2481.5" x2="1144.2" y2="2481.5" stroke="#000" stroke-width="2.1"/><path d="M1159 2481.5L1137.2 2474.2L1141.7 2481.5L1137.2 2488.8Z"/></g>
<text x="1223.9" y="2489.1" font-size="22.3">TIM3</text>
<g><line x1="1285" y1="2481.5" x2="1308.2" y2="2481.5" stroke="#000" stroke-width="2.1"/><path d="M1323 2481.5L1301.2 2474.2L1305.7 2481.5L1301.2 2488.8Z"/></g>
<text x="1405" y="2489.1" font-size="22.3">LAG3</text>
<g><line x1="1473" y1="2481.5" x2="1494.2" y2="2481.5" stroke="#000" stroke-width="2.1"/><path d="M1509 2481.5L1487.2 2474.2L1491.7 2481.5L1487.2 2488.8Z"/></g>
<text x="1584.7" y="2489.1" font-size="22.3">CD127</text>
<g><line x1="1662" y1="2481.5" x2="1684.2" y2="2481.5" stroke="#000" stroke-width="2.1"/><path d="M1699 2481.5L1677.2 2474.2L1681.7 2481.5L1677.2 2488.8Z"/></g>
<text x="701" y="2705" font-size="22.3">PD-1</text>
<g><line x1="761" y1="2697.5" x2="782.1" y2="2697.5" stroke="#000" stroke-width="2.1"/><path d="M797 2697.5L775.2 2690.2L779.7 2697.5L775.2 2704.8Z"/></g>
<text x="870" y="2705" font-size="22.3">CD39</text>
<g><line x1="941" y1="2697.5" x2="962.1" y2="2697.5" stroke="#000" stroke-width="2.1"/><path d="M977 2697.5L955.2 2690.2L959.7 2697.5L955.2 2704.8Z"/></g>
<text x="1054" y="2705" font-size="22.3">CD38</text>
<g><line x1="1124" y1="2697.5" x2="1147.2" y2="2697.5" stroke="#000" stroke-width="2.1"/><path d="M1162 2697.5L1140.2 2690.2L1144.7 2697.5L1140.2 2704.8Z"/></g>
<text x="1223.9" y="2705" font-size="22.3">TIM3</text>
<g><line x1="1283" y1="2697.5" x2="1304.2" y2="2697.5" stroke="#000" stroke-width="2.1"/><path d="M1319 2697.5L1297.2 2690.2L1301.7 2697.5L1297.2 2704.8Z"/></g>
<text x="1405" y="2705" font-size="22.3">LAG3</text>
<g><line x1="1474" y1="2697.5" x2="1496.2" y2="2697.5" stroke="#000" stroke-width="2.1"/><path d="M1511 2697.5L1489.2 2690.2L1493.7 2697.5L1489.2 2704.8Z"/></g>
<text x="1584.7" y="2705" font-size="22.3">CD127</text>
<g><line x1="1666" y1="2697.5" x2="1689.2" y2="2697.5" stroke="#000" stroke-width="2.1"/><path d="M1704 2697.5L1682.2 2690.2L1686.7 2697.5L1682.2 2704.8Z"/></g>
</g>
</svg>
</body></html>
